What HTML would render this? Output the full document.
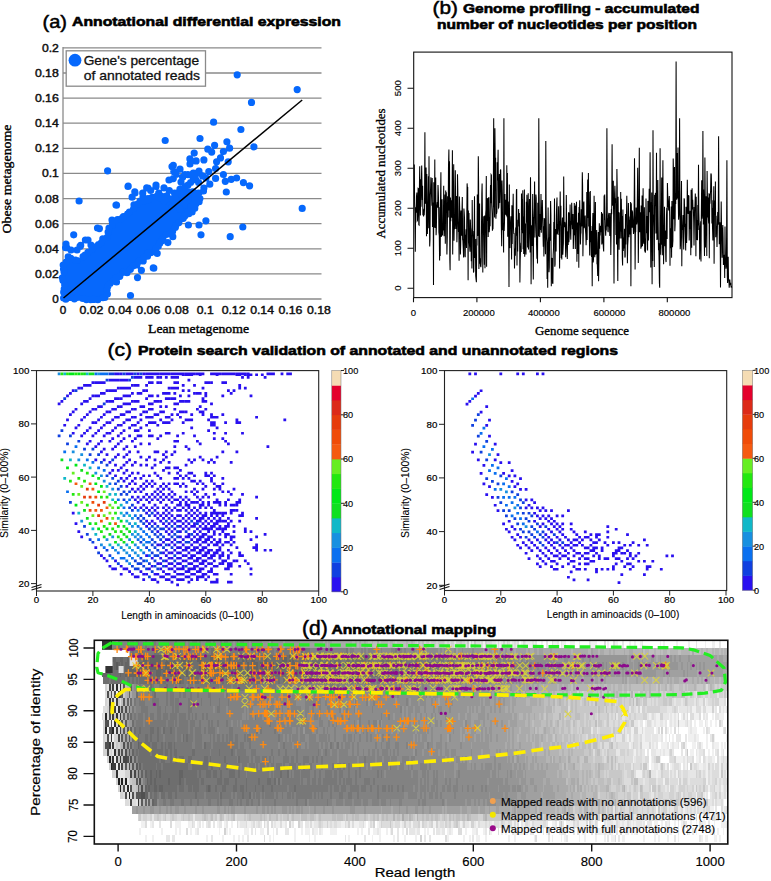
<!DOCTYPE html>
<html><head><meta charset="utf-8"><style>html,body{margin:0;padding:0;background:#fff;overflow:hidden}svg{display:block}</style></head><body>
<svg width="771" height="881" viewBox="0 0 771 881" style="font-family:'Liberation Sans',sans-serif">
<text x="42.5" y="27.5" font-size="19" textLength="24.5" lengthAdjust="spacingAndGlyphs" stroke="#000" stroke-width="0.5">(a)</text>
<text x="72" y="26.3" font-size="13.2" font-weight="bold" textLength="269" lengthAdjust="spacingAndGlyphs" stroke="#000" stroke-width="0.6">Annotational differential expression</text>
<path d="M63 299H321.5M63 273.9H321.5M63 248.8H321.5M63 223.7H321.5M63 198.6H321.5M63 173.4H321.5M63 148.3H321.5M63 123.2H321.5M63 98.1H321.5M63 73H321.5M63 47.9H321.5" stroke="#8a8a8a" stroke-width="1.3" fill="none"/>
<path d="M63 47H63V299.5" stroke="#8a8a8a" stroke-width="1.3" fill="none"/>
<text x="58.8" y="302.9" font-size="11" text-anchor="end" fill="#111" textLength="6.5" lengthAdjust="spacingAndGlyphs" stroke="#111" stroke-width="0.45">0</text>
<text x="58.8" y="277.8" font-size="11" text-anchor="end" fill="#111" textLength="23.9" lengthAdjust="spacingAndGlyphs" stroke="#111" stroke-width="0.45">0.02</text>
<text x="58.8" y="252.7" font-size="11" text-anchor="end" fill="#111" textLength="23.9" lengthAdjust="spacingAndGlyphs" stroke="#111" stroke-width="0.45">0.04</text>
<text x="58.8" y="227.6" font-size="11" text-anchor="end" fill="#111" textLength="23.9" lengthAdjust="spacingAndGlyphs" stroke="#111" stroke-width="0.45">0.06</text>
<text x="58.8" y="202.5" font-size="11" text-anchor="end" fill="#111" textLength="23.9" lengthAdjust="spacingAndGlyphs" stroke="#111" stroke-width="0.45">0.08</text>
<text x="58.8" y="177.3" font-size="11" text-anchor="end" fill="#111" textLength="16.9" lengthAdjust="spacingAndGlyphs" stroke="#111" stroke-width="0.45">0.1</text>
<text x="58.8" y="152.2" font-size="11" text-anchor="end" fill="#111" textLength="23.9" lengthAdjust="spacingAndGlyphs" stroke="#111" stroke-width="0.45">0.12</text>
<text x="58.8" y="127.1" font-size="11" text-anchor="end" fill="#111" textLength="23.9" lengthAdjust="spacingAndGlyphs" stroke="#111" stroke-width="0.45">0.14</text>
<text x="58.8" y="102" font-size="11" text-anchor="end" fill="#111" textLength="23.9" lengthAdjust="spacingAndGlyphs" stroke="#111" stroke-width="0.45">0.16</text>
<text x="58.8" y="76.9" font-size="11" text-anchor="end" fill="#111" textLength="23.9" lengthAdjust="spacingAndGlyphs" stroke="#111" stroke-width="0.45">0.18</text>
<text x="58.8" y="51.8" font-size="11" text-anchor="end" fill="#111" textLength="16.9" lengthAdjust="spacingAndGlyphs" stroke="#111" stroke-width="0.45">0.2</text>
<text x="63" y="314" font-size="11" text-anchor="middle" fill="#111" textLength="6.5" lengthAdjust="spacingAndGlyphs" stroke="#111" stroke-width="0.45">0</text>
<text x="91.4" y="314" font-size="11" text-anchor="middle" fill="#111" textLength="23.9" lengthAdjust="spacingAndGlyphs" stroke="#111" stroke-width="0.45">0.02</text>
<text x="119.9" y="314" font-size="11" text-anchor="middle" fill="#111" textLength="23.9" lengthAdjust="spacingAndGlyphs" stroke="#111" stroke-width="0.45">0.04</text>
<text x="148.3" y="314" font-size="11" text-anchor="middle" fill="#111" textLength="23.9" lengthAdjust="spacingAndGlyphs" stroke="#111" stroke-width="0.45">0.06</text>
<text x="176.8" y="314" font-size="11" text-anchor="middle" fill="#111" textLength="23.9" lengthAdjust="spacingAndGlyphs" stroke="#111" stroke-width="0.45">0.08</text>
<text x="205.2" y="314" font-size="11" text-anchor="middle" fill="#111" textLength="16.9" lengthAdjust="spacingAndGlyphs" stroke="#111" stroke-width="0.45">0.1</text>
<text x="233.6" y="314" font-size="11" text-anchor="middle" fill="#111" textLength="23.9" lengthAdjust="spacingAndGlyphs" stroke="#111" stroke-width="0.45">0.12</text>
<text x="262.1" y="314" font-size="11" text-anchor="middle" fill="#111" textLength="23.9" lengthAdjust="spacingAndGlyphs" stroke="#111" stroke-width="0.45">0.14</text>
<text x="290.5" y="314" font-size="11" text-anchor="middle" fill="#111" textLength="23.9" lengthAdjust="spacingAndGlyphs" stroke="#111" stroke-width="0.45">0.16</text>
<text x="319" y="314" font-size="11" text-anchor="middle" fill="#111" textLength="23.9" lengthAdjust="spacingAndGlyphs" stroke="#111" stroke-width="0.45">0.18</text>
<text x="198.5" y="332.7" font-size="12.5" text-anchor="middle" style='font-family:"Liberation Serif", serif' textLength="101" lengthAdjust="spacingAndGlyphs" stroke="#000" stroke-width="0.35">Lean metagenome</text>
<text x="11" y="179" font-size="12.5" text-anchor="middle" style='font-family:"Liberation Serif", serif' textLength="109" lengthAdjust="spacingAndGlyphs" transform="rotate(-90 11 179)" stroke="#000" stroke-width="0.35">Obese metagenome</text>
<path d="M63.9 264.8L63.2 298.6L105.7 298.6L106.9 288.6L107 288.2L107.1 287.9L107.2 287.6L107.4 287.3L107.6 287L114.6 277.6L114.8 277.3L115 277.1L115.2 276.9L115.5 276.7L115.8 276.6L126.4 271.3L132.3 266.8L132.6 266.6L140 262.2L145.9 255.5L146.1 255.3L146.3 255.1L146.6 254.9L157.9 247.8L160.8 239L160.9 238.7L161 238.4L161.2 238.1L161.4 237.8L161.6 237.6L161.9 237.4L162.1 237.2L162.4 237L162.7 236.9L163 236.8L172.3 233.9L177.6 223.5L177.7 223.2L178 222.9L178.2 222.6L186 214.9L186.3 214.7L186.5 214.4L186.8 214.3L193 211.1L195.4 200.5L191.5 193.4L185.4 189.6L179.7 191.1L174.4 196.4L174.1 196.6L173.8 196.9L173.5 197L167.5 200L167.2 200.2L166.9 200.3L166.5 200.4L166.2 200.4L165.8 200.4L165.5 200.4L165.1 200.3L164.8 200.2L164.5 200L157.6 196.6L151.1 198.2L142.8 202.1L142.5 202.2L142.2 202.3L135.2 203.9L132.8 209.4L132.6 209.7L132.4 210L132.2 210.3L132 210.5L125.8 216L125.5 216.2L125.3 216.4L125 216.5L118.8 219.6L118.4 219.8L112.9 221.6L110.2 228L110.2 228.1L106.3 236.7L106.1 237L105.9 237.3L105.7 237.6L105.5 237.8L97.8 244.8L97.6 245L89.9 251.1L83.8 256.5L83.5 256.7L83.3 256.9L83 257.1L78.3 259.4L78 259.5L77.6 259.6L77.3 259.7L77 259.7L76.6 259.7L76.3 259.7L75.9 259.6L75.6 259.5L75.3 259.3L70.2 256.8L66.9 257.6L65.2 262.2L65 262.5L63.9 264.8Z" fill="#0668fc"/>
<path d="M233.6 74.8a3.6 3.6 0 1 0 7.2 0a3.6 3.6 0 1 0-7.2 0M293.6 89.6a3.6 3.6 0 1 0 7.2 0a3.6 3.6 0 1 0-7.2 0M247.9 102.4a3.6 3.6 0 1 0 7.2 0a3.6 3.6 0 1 0-7.2 0M210 122.2a3.6 3.6 0 1 0 7.2 0a3.6 3.6 0 1 0-7.2 0M237.3 129.5a3.6 3.6 0 1 0 7.2 0a3.6 3.6 0 1 0-7.2 0M161.6 140.5a3.6 3.6 0 1 0 7.2 0a3.6 3.6 0 1 0-7.2 0M196.4 138.5a3.6 3.6 0 1 0 7.2 0a3.6 3.6 0 1 0-7.2 0M223.3 141.8a3.6 3.6 0 1 0 7.2 0a3.6 3.6 0 1 0-7.2 0M211 145.3a3.6 3.6 0 1 0 7.2 0a3.6 3.6 0 1 0-7.2 0M226 148.2a3.6 3.6 0 1 0 7.2 0a3.6 3.6 0 1 0-7.2 0M250.3 146.8a3.6 3.6 0 1 0 7.2 0a3.6 3.6 0 1 0-7.2 0M204.2 149.2a3.6 3.6 0 1 0 7.2 0a3.6 3.6 0 1 0-7.2 0M208.1 152.1a3.6 3.6 0 1 0 7.2 0a3.6 3.6 0 1 0-7.2 0M190.6 153.1a3.6 3.6 0 1 0 7.2 0a3.6 3.6 0 1 0-7.2 0M219.8 151.5a3.6 3.6 0 1 0 7.2 0a3.6 3.6 0 1 0-7.2 0M186.3 158.9a3.6 3.6 0 1 0 7.2 0a3.6 3.6 0 1 0-7.2 0M192.5 160.9a3.6 3.6 0 1 0 7.2 0a3.6 3.6 0 1 0-7.2 0M200.3 159.9a3.6 3.6 0 1 0 7.2 0a3.6 3.6 0 1 0-7.2 0M216.9 157.9a3.6 3.6 0 1 0 7.2 0a3.6 3.6 0 1 0-7.2 0M213 161.8a3.6 3.6 0 1 0 7.2 0a3.6 3.6 0 1 0-7.2 0M224.6 161.8a3.6 3.6 0 1 0 7.2 0a3.6 3.6 0 1 0-7.2 0M170.2 171.6a3.6 3.6 0 1 0 7.2 0a3.6 3.6 0 1 0-7.2 0M205.2 171.6a3.6 3.6 0 1 0 7.2 0a3.6 3.6 0 1 0-7.2 0M212 168.6a3.6 3.6 0 1 0 7.2 0a3.6 3.6 0 1 0-7.2 0M219.8 174.5a3.6 3.6 0 1 0 7.2 0a3.6 3.6 0 1 0-7.2 0M212 178.4a3.6 3.6 0 1 0 7.2 0a3.6 3.6 0 1 0-7.2 0M221.7 181.3a3.6 3.6 0 1 0 7.2 0a3.6 3.6 0 1 0-7.2 0M227.6 179.3a3.6 3.6 0 1 0 7.2 0a3.6 3.6 0 1 0-7.2 0M233 178a3.6 3.6 0 1 0 7.2 0a3.6 3.6 0 1 0-7.2 0M239.8 182.6a3.6 3.6 0 1 0 7.2 0a3.6 3.6 0 1 0-7.2 0M246 185.8a3.6 3.6 0 1 0 7.2 0a3.6 3.6 0 1 0-7.2 0M206.2 184.2a3.6 3.6 0 1 0 7.2 0a3.6 3.6 0 1 0-7.2 0M200.3 188.1a3.6 3.6 0 1 0 7.2 0a3.6 3.6 0 1 0-7.2 0M199.9 191a3.6 3.6 0 1 0 7.2 0a3.6 3.6 0 1 0-7.2 0M222.7 192a3.6 3.6 0 1 0 7.2 0a3.6 3.6 0 1 0-7.2 0M194.5 197.8a3.6 3.6 0 1 0 7.2 0a3.6 3.6 0 1 0-7.2 0M195.5 201.7a3.6 3.6 0 1 0 7.2 0a3.6 3.6 0 1 0-7.2 0M188.7 209.5a3.6 3.6 0 1 0 7.2 0a3.6 3.6 0 1 0-7.2 0M184.8 225a3.6 3.6 0 1 0 7.2 0a3.6 3.6 0 1 0-7.2 0M195.4 225a3.6 3.6 0 1 0 7.2 0a3.6 3.6 0 1 0-7.2 0M202.3 220.8a3.6 3.6 0 1 0 7.2 0a3.6 3.6 0 1 0-7.2 0M197.4 234.8a3.6 3.6 0 1 0 7.2 0a3.6 3.6 0 1 0-7.2 0M226.6 236.7a3.6 3.6 0 1 0 7.2 0a3.6 3.6 0 1 0-7.2 0M239.2 227a3.6 3.6 0 1 0 7.2 0a3.6 3.6 0 1 0-7.2 0M298.6 208.4a3.6 3.6 0 1 0 7.2 0a3.6 3.6 0 1 0-7.2 0M75.5 201a3.6 3.6 0 1 0 7.2 0a3.6 3.6 0 1 0-7.2 0M124.6 186.2a3.6 3.6 0 1 0 7.2 0a3.6 3.6 0 1 0-7.2 0M112.9 205.2a3.6 3.6 0 1 0 7.2 0a3.6 3.6 0 1 0-7.2 0M95.8 228.6a3.6 3.6 0 1 0 7.2 0a3.6 3.6 0 1 0-7.2 0M70.1 234.8a3.6 3.6 0 1 0 7.2 0a3.6 3.6 0 1 0-7.2 0M63.1 247.7a3.6 3.6 0 1 0 7.2 0a3.6 3.6 0 1 0-7.2 0M81.8 240a3.6 3.6 0 1 0 7.2 0a3.6 3.6 0 1 0-7.2 0M77.1 245.4a3.6 3.6 0 1 0 7.2 0a3.6 3.6 0 1 0-7.2 0M126.9 295.5a3.6 3.6 0 1 0 7.2 0a3.6 3.6 0 1 0-7.2 0M133.9 277.6a3.6 3.6 0 1 0 7.2 0a3.6 3.6 0 1 0-7.2 0M137.8 270.3a3.6 3.6 0 1 0 7.2 0a3.6 3.6 0 1 0-7.2 0M150.2 268.2a3.6 3.6 0 1 0 7.2 0a3.6 3.6 0 1 0-7.2 0M112.9 282a3.6 3.6 0 1 0 7.2 0a3.6 3.6 0 1 0-7.2 0M104 170.8a3.6 3.6 0 1 0 7.2 0a3.6 3.6 0 1 0-7.2 0M143.9 256.2a3.6 3.6 0 1 0 7.2 0a3.6 3.6 0 1 0-7.2 0M149.7 267.9a3.6 3.6 0 1 0 7.2 0a3.6 3.6 0 1 0-7.2 0M153.6 253.3a3.6 3.6 0 1 0 7.2 0a3.6 3.6 0 1 0-7.2 0M164.3 242.6a3.6 3.6 0 1 0 7.2 0a3.6 3.6 0 1 0-7.2 0M169.2 236.7a3.6 3.6 0 1 0 7.2 0a3.6 3.6 0 1 0-7.2 0M62.4 244a3.6 3.6 0 1 0 7.2 0a3.6 3.6 0 1 0-7.2 0M87.4 245a3.6 3.6 0 1 0 7.2 0a3.6 3.6 0 1 0-7.2 0M73.4 250a3.6 3.6 0 1 0 7.2 0a3.6 3.6 0 1 0-7.2 0M144.4 188a3.6 3.6 0 1 0 7.2 0a3.6 3.6 0 1 0-7.2 0M152.4 185a3.6 3.6 0 1 0 7.2 0a3.6 3.6 0 1 0-7.2 0M160.4 188a3.6 3.6 0 1 0 7.2 0a3.6 3.6 0 1 0-7.2 0M131.4 193a3.6 3.6 0 1 0 7.2 0a3.6 3.6 0 1 0-7.2 0M139.4 197a3.6 3.6 0 1 0 7.2 0a3.6 3.6 0 1 0-7.2 0M168.4 166.6a3.6 3.6 0 1 0 7.2 0a3.6 3.6 0 1 0-7.2 0M172.4 174.5a3.6 3.6 0 1 0 7.2 0a3.6 3.6 0 1 0-7.2 0M181.4 174.5a3.6 3.6 0 1 0 7.2 0a3.6 3.6 0 1 0-7.2 0M189.4 177a3.6 3.6 0 1 0 7.2 0a3.6 3.6 0 1 0-7.2 0M195 182.5a3.6 3.6 0 1 0 7.2 0a3.6 3.6 0 1 0-7.2 0M184.4 185a3.6 3.6 0 1 0 7.2 0a3.6 3.6 0 1 0-7.2 0M176.4 190.5a3.6 3.6 0 1 0 7.2 0a3.6 3.6 0 1 0-7.2 0M165.4 180a3.6 3.6 0 1 0 7.2 0a3.6 3.6 0 1 0-7.2 0M157.8 196a3.6 3.6 0 1 0 7.2 0a3.6 3.6 0 1 0-7.2 0M124.4 186.5a3.6 3.6 0 1 0 7.2 0a3.6 3.6 0 1 0-7.2 0M112.4 205a3.6 3.6 0 1 0 7.2 0a3.6 3.6 0 1 0-7.2 0M108.4 220a3.6 3.6 0 1 0 7.2 0a3.6 3.6 0 1 0-7.2 0M93.9 228a3.6 3.6 0 1 0 7.2 0a3.6 3.6 0 1 0-7.2 0M84.4 240a3.6 3.6 0 1 0 7.2 0a3.6 3.6 0 1 0-7.2 0M76.4 246.4a3.6 3.6 0 1 0 7.2 0a3.6 3.6 0 1 0-7.2 0M67.4 250a3.6 3.6 0 1 0 7.2 0a3.6 3.6 0 1 0-7.2 0M62 247.7a3.6 3.6 0 1 0 7.2 0a3.6 3.6 0 1 0-7.2 0M202.4 178a3.6 3.6 0 1 0 7.2 0a3.6 3.6 0 1 0-7.2 0M195.4 171a3.6 3.6 0 1 0 7.2 0a3.6 3.6 0 1 0-7.2 0M186.4 164a3.6 3.6 0 1 0 7.2 0a3.6 3.6 0 1 0-7.2 0M177.4 182a3.6 3.6 0 1 0 7.2 0a3.6 3.6 0 1 0-7.2 0M169.7 165.3a3.6 3.6 0 1 0 7.2 0a3.6 3.6 0 1 0-7.2 0M171 171.9a3.6 3.6 0 1 0 7.2 0a3.6 3.6 0 1 0-7.2 0M176.4 169.2a3.6 3.6 0 1 0 7.2 0a3.6 3.6 0 1 0-7.2 0M169.7 178.6a3.6 3.6 0 1 0 7.2 0a3.6 3.6 0 1 0-7.2 0M179 177.2a3.6 3.6 0 1 0 7.2 0a3.6 3.6 0 1 0-7.2 0M184.3 174.6a3.6 3.6 0 1 0 7.2 0a3.6 3.6 0 1 0-7.2 0M189.7 173.2a3.6 3.6 0 1 0 7.2 0a3.6 3.6 0 1 0-7.2 0M195 173.2a3.6 3.6 0 1 0 7.2 0a3.6 3.6 0 1 0-7.2 0M199 175.9a3.6 3.6 0 1 0 7.2 0a3.6 3.6 0 1 0-7.2 0M192.3 179.9a3.6 3.6 0 1 0 7.2 0a3.6 3.6 0 1 0-7.2 0M187 182.5a3.6 3.6 0 1 0 7.2 0a3.6 3.6 0 1 0-7.2 0M181.7 186.5a3.6 3.6 0 1 0 7.2 0a3.6 3.6 0 1 0-7.2 0M176.4 189.2a3.6 3.6 0 1 0 7.2 0a3.6 3.6 0 1 0-7.2 0M171 193.2a3.6 3.6 0 1 0 7.2 0a3.6 3.6 0 1 0-7.2 0M165.7 190.5a3.6 3.6 0 1 0 7.2 0a3.6 3.6 0 1 0-7.2 0M163.1 195.8a3.6 3.6 0 1 0 7.2 0a3.6 3.6 0 1 0-7.2 0M179 197.2a3.6 3.6 0 1 0 7.2 0a3.6 3.6 0 1 0-7.2 0M189.7 191.8a3.6 3.6 0 1 0 7.2 0a3.6 3.6 0 1 0-7.2 0M195 193.2a3.6 3.6 0 1 0 7.2 0a3.6 3.6 0 1 0-7.2 0M196.3 198.5a3.6 3.6 0 1 0 7.2 0a3.6 3.6 0 1 0-7.2 0M192.3 203.8a3.6 3.6 0 1 0 7.2 0a3.6 3.6 0 1 0-7.2 0M187 206.5a3.6 3.6 0 1 0 7.2 0a3.6 3.6 0 1 0-7.2 0M184.3 211.8a3.6 3.6 0 1 0 7.2 0a3.6 3.6 0 1 0-7.2 0M176.4 209.1a3.6 3.6 0 1 0 7.2 0a3.6 3.6 0 1 0-7.2 0M168.4 206.5a3.6 3.6 0 1 0 7.2 0a3.6 3.6 0 1 0-7.2 0M172.4 201.2a3.6 3.6 0 1 0 7.2 0a3.6 3.6 0 1 0-7.2 0M160.4 187.9a3.6 3.6 0 1 0 7.2 0a3.6 3.6 0 1 0-7.2 0M152.4 186.5a3.6 3.6 0 1 0 7.2 0a3.6 3.6 0 1 0-7.2 0M147.1 190.5a3.6 3.6 0 1 0 7.2 0a3.6 3.6 0 1 0-7.2 0M143.1 187.9a3.6 3.6 0 1 0 7.2 0a3.6 3.6 0 1 0-7.2 0M139.1 193.2a3.6 3.6 0 1 0 7.2 0a3.6 3.6 0 1 0-7.2 0M131.2 191.8a3.6 3.6 0 1 0 7.2 0a3.6 3.6 0 1 0-7.2 0M128.5 197.2a3.6 3.6 0 1 0 7.2 0a3.6 3.6 0 1 0-7.2 0M136.5 201.2a3.6 3.6 0 1 0 7.2 0a3.6 3.6 0 1 0-7.2 0M144.5 198.5a3.6 3.6 0 1 0 7.2 0a3.6 3.6 0 1 0-7.2 0M155.1 193.2a3.6 3.6 0 1 0 7.2 0a3.6 3.6 0 1 0-7.2 0M59.6 265a3.6 3.6 0 1 0 7.2 0a3.6 3.6 0 1 0-7.2 0M59.9 269.1a3.6 3.6 0 1 0 7.2 0a3.6 3.6 0 1 0-7.2 0M60.4 271.8a3.6 3.6 0 1 0 7.2 0a3.6 3.6 0 1 0-7.2 0M58.8 277.8a3.6 3.6 0 1 0 7.2 0a3.6 3.6 0 1 0-7.2 0M59.3 280.3a3.6 3.6 0 1 0 7.2 0a3.6 3.6 0 1 0-7.2 0M61.1 284.9a3.6 3.6 0 1 0 7.2 0a3.6 3.6 0 1 0-7.2 0M60.6 289a3.6 3.6 0 1 0 7.2 0a3.6 3.6 0 1 0-7.2 0M60.1 292.2a3.6 3.6 0 1 0 7.2 0a3.6 3.6 0 1 0-7.2 0M60 298.1a3.6 3.6 0 1 0 7.2 0a3.6 3.6 0 1 0-7.2 0M62.2 299.2a3.6 3.6 0 1 0 7.2 0a3.6 3.6 0 1 0-7.2 0M66.6 297.5a3.6 3.6 0 1 0 7.2 0a3.6 3.6 0 1 0-7.2 0M70.8 298.8a3.6 3.6 0 1 0 7.2 0a3.6 3.6 0 1 0-7.2 0M73.7 297.4a3.6 3.6 0 1 0 7.2 0a3.6 3.6 0 1 0-7.2 0M79.2 298.5a3.6 3.6 0 1 0 7.2 0a3.6 3.6 0 1 0-7.2 0M82.8 299.6a3.6 3.6 0 1 0 7.2 0a3.6 3.6 0 1 0-7.2 0M86.9 299.7a3.6 3.6 0 1 0 7.2 0a3.6 3.6 0 1 0-7.2 0M90.1 299.4a3.6 3.6 0 1 0 7.2 0a3.6 3.6 0 1 0-7.2 0M94.2 299.7a3.6 3.6 0 1 0 7.2 0a3.6 3.6 0 1 0-7.2 0M99.4 297.6a3.6 3.6 0 1 0 7.2 0a3.6 3.6 0 1 0-7.2 0M101.2 297.5a3.6 3.6 0 1 0 7.2 0a3.6 3.6 0 1 0-7.2 0M103.8 294.1a3.6 3.6 0 1 0 7.2 0a3.6 3.6 0 1 0-7.2 0M103.4 289.7a3.6 3.6 0 1 0 7.2 0a3.6 3.6 0 1 0-7.2 0M104.3 286.2a3.6 3.6 0 1 0 7.2 0a3.6 3.6 0 1 0-7.2 0M106.4 283.5a3.6 3.6 0 1 0 7.2 0a3.6 3.6 0 1 0-7.2 0M109.4 281.1a3.6 3.6 0 1 0 7.2 0a3.6 3.6 0 1 0-7.2 0M112.1 278a3.6 3.6 0 1 0 7.2 0a3.6 3.6 0 1 0-7.2 0M116.2 276.3a3.6 3.6 0 1 0 7.2 0a3.6 3.6 0 1 0-7.2 0M119.3 272.4a3.6 3.6 0 1 0 7.2 0a3.6 3.6 0 1 0-7.2 0M123.4 272.7a3.6 3.6 0 1 0 7.2 0a3.6 3.6 0 1 0-7.2 0M126.8 269.3a3.6 3.6 0 1 0 7.2 0a3.6 3.6 0 1 0-7.2 0M129.5 265.9a3.6 3.6 0 1 0 7.2 0a3.6 3.6 0 1 0-7.2 0M133.3 264.8a3.6 3.6 0 1 0 7.2 0a3.6 3.6 0 1 0-7.2 0M135.3 261.3a3.6 3.6 0 1 0 7.2 0a3.6 3.6 0 1 0-7.2 0M139.6 260.9a3.6 3.6 0 1 0 7.2 0a3.6 3.6 0 1 0-7.2 0M140.3 257.4a3.6 3.6 0 1 0 7.2 0a3.6 3.6 0 1 0-7.2 0M144.2 253.1a3.6 3.6 0 1 0 7.2 0a3.6 3.6 0 1 0-7.2 0M147.3 252.6a3.6 3.6 0 1 0 7.2 0a3.6 3.6 0 1 0-7.2 0M152.2 248.6a3.6 3.6 0 1 0 7.2 0a3.6 3.6 0 1 0-7.2 0M154.7 246.3a3.6 3.6 0 1 0 7.2 0a3.6 3.6 0 1 0-7.2 0M156.2 243.2a3.6 3.6 0 1 0 7.2 0a3.6 3.6 0 1 0-7.2 0M157.9 241a3.6 3.6 0 1 0 7.2 0a3.6 3.6 0 1 0-7.2 0M159.3 238.1a3.6 3.6 0 1 0 7.2 0a3.6 3.6 0 1 0-7.2 0M162.7 234.5a3.6 3.6 0 1 0 7.2 0a3.6 3.6 0 1 0-7.2 0M167.3 233.2a3.6 3.6 0 1 0 7.2 0a3.6 3.6 0 1 0-7.2 0M169 231.6a3.6 3.6 0 1 0 7.2 0a3.6 3.6 0 1 0-7.2 0M171.8 227.3a3.6 3.6 0 1 0 7.2 0a3.6 3.6 0 1 0-7.2 0M172.2 225.6a3.6 3.6 0 1 0 7.2 0a3.6 3.6 0 1 0-7.2 0M175.3 222.6a3.6 3.6 0 1 0 7.2 0a3.6 3.6 0 1 0-7.2 0M179.7 218.3a3.6 3.6 0 1 0 7.2 0a3.6 3.6 0 1 0-7.2 0M181.4 215.8a3.6 3.6 0 1 0 7.2 0a3.6 3.6 0 1 0-7.2 0M185.2 213.7a3.6 3.6 0 1 0 7.2 0a3.6 3.6 0 1 0-7.2 0M188.5 212a3.6 3.6 0 1 0 7.2 0a3.6 3.6 0 1 0-7.2 0M191.2 208.3a3.6 3.6 0 1 0 7.2 0a3.6 3.6 0 1 0-7.2 0M190.8 205a3.6 3.6 0 1 0 7.2 0a3.6 3.6 0 1 0-7.2 0M191.1 199.9a3.6 3.6 0 1 0 7.2 0a3.6 3.6 0 1 0-7.2 0M191.1 197a3.6 3.6 0 1 0 7.2 0a3.6 3.6 0 1 0-7.2 0M188 192.1a3.6 3.6 0 1 0 7.2 0a3.6 3.6 0 1 0-7.2 0M184.2 191.5a3.6 3.6 0 1 0 7.2 0a3.6 3.6 0 1 0-7.2 0M179.6 190.2a3.6 3.6 0 1 0 7.2 0a3.6 3.6 0 1 0-7.2 0M177.3 189.7a3.6 3.6 0 1 0 7.2 0a3.6 3.6 0 1 0-7.2 0M174.2 193.2a3.6 3.6 0 1 0 7.2 0a3.6 3.6 0 1 0-7.2 0M171.5 195.8a3.6 3.6 0 1 0 7.2 0a3.6 3.6 0 1 0-7.2 0M168.1 198.8a3.6 3.6 0 1 0 7.2 0a3.6 3.6 0 1 0-7.2 0M162.7 198.9a3.6 3.6 0 1 0 7.2 0a3.6 3.6 0 1 0-7.2 0M160.6 200.9a3.6 3.6 0 1 0 7.2 0a3.6 3.6 0 1 0-7.2 0M155.9 197.8a3.6 3.6 0 1 0 7.2 0a3.6 3.6 0 1 0-7.2 0M153.1 196.4a3.6 3.6 0 1 0 7.2 0a3.6 3.6 0 1 0-7.2 0M148.6 197.4a3.6 3.6 0 1 0 7.2 0a3.6 3.6 0 1 0-7.2 0M144.8 199.6a3.6 3.6 0 1 0 7.2 0a3.6 3.6 0 1 0-7.2 0M141 200.7a3.6 3.6 0 1 0 7.2 0a3.6 3.6 0 1 0-7.2 0M138.5 201.3a3.6 3.6 0 1 0 7.2 0a3.6 3.6 0 1 0-7.2 0M134 204a3.6 3.6 0 1 0 7.2 0a3.6 3.6 0 1 0-7.2 0M130.4 204.8a3.6 3.6 0 1 0 7.2 0a3.6 3.6 0 1 0-7.2 0M130.1 208.5a3.6 3.6 0 1 0 7.2 0a3.6 3.6 0 1 0-7.2 0M125.8 212a3.6 3.6 0 1 0 7.2 0a3.6 3.6 0 1 0-7.2 0M124.1 213.8a3.6 3.6 0 1 0 7.2 0a3.6 3.6 0 1 0-7.2 0M119.8 216.7a3.6 3.6 0 1 0 7.2 0a3.6 3.6 0 1 0-7.2 0M117.5 218.8a3.6 3.6 0 1 0 7.2 0a3.6 3.6 0 1 0-7.2 0M113.9 219.6a3.6 3.6 0 1 0 7.2 0a3.6 3.6 0 1 0-7.2 0M108.8 222.2a3.6 3.6 0 1 0 7.2 0a3.6 3.6 0 1 0-7.2 0M108.7 225.4a3.6 3.6 0 1 0 7.2 0a3.6 3.6 0 1 0-7.2 0M105.4 228.2a3.6 3.6 0 1 0 7.2 0a3.6 3.6 0 1 0-7.2 0M104.5 232.1a3.6 3.6 0 1 0 7.2 0a3.6 3.6 0 1 0-7.2 0M103.6 237.4a3.6 3.6 0 1 0 7.2 0a3.6 3.6 0 1 0-7.2 0M99.2 238.9a3.6 3.6 0 1 0 7.2 0a3.6 3.6 0 1 0-7.2 0M97.9 242.6a3.6 3.6 0 1 0 7.2 0a3.6 3.6 0 1 0-7.2 0M94.9 244.5a3.6 3.6 0 1 0 7.2 0a3.6 3.6 0 1 0-7.2 0M89.9 246.9a3.6 3.6 0 1 0 7.2 0a3.6 3.6 0 1 0-7.2 0M88.5 249.3a3.6 3.6 0 1 0 7.2 0a3.6 3.6 0 1 0-7.2 0M84.3 252.3a3.6 3.6 0 1 0 7.2 0a3.6 3.6 0 1 0-7.2 0M81.4 255a3.6 3.6 0 1 0 7.2 0a3.6 3.6 0 1 0-7.2 0M79.5 256.6a3.6 3.6 0 1 0 7.2 0a3.6 3.6 0 1 0-7.2 0M73.5 260.5a3.6 3.6 0 1 0 7.2 0a3.6 3.6 0 1 0-7.2 0M71.9 260.2a3.6 3.6 0 1 0 7.2 0a3.6 3.6 0 1 0-7.2 0M67.2 258.3a3.6 3.6 0 1 0 7.2 0a3.6 3.6 0 1 0-7.2 0M64.6 256.8a3.6 3.6 0 1 0 7.2 0a3.6 3.6 0 1 0-7.2 0M62.6 262a3.6 3.6 0 1 0 7.2 0a3.6 3.6 0 1 0-7.2 0" fill="#0668fc"/>
<path d="M63.5 298L302.2 100" stroke="#000" stroke-width="1.5"/>
<rect x="66.2" y="50.8" width="139.3" height="35.4" fill="#fff" stroke="#8a8a8a" stroke-width="1.3"/>
<circle cx="75" cy="60.2" r="6.4" fill="#0668fc"/>
<text x="83.7" y="65" font-size="13" fill="#111" textLength="115.4" lengthAdjust="spacingAndGlyphs" stroke="#111" stroke-width="0.3">Gene's percentage</text>
<text x="83.7" y="79.6" font-size="13" fill="#111" textLength="116.3" lengthAdjust="spacingAndGlyphs" stroke="#111" stroke-width="0.3">of annotated reads</text>
<text x="432.6" y="14" font-size="19" textLength="25.4" lengthAdjust="spacingAndGlyphs" stroke="#000" stroke-width="0.5">(b)</text>
<text x="463" y="13.2" font-size="12.8" font-weight="bold" textLength="236.4" lengthAdjust="spacingAndGlyphs" stroke="#000" stroke-width="0.6">Genome profiling - accumulated</text>
<text x="437" y="29.2" font-size="12.8" font-weight="bold" textLength="260" lengthAdjust="spacingAndGlyphs" stroke="#000" stroke-width="0.6">number of nucleotides per position</text>
<rect x="413.7" y="52.1" width="318.3" height="245.5" fill="none" stroke="#111" stroke-width="1.1"/>
<path d="M407.5 288.2H413.7M407.5 248.2H413.7M407.5 208.2H413.7M407.5 168.2H413.7M407.5 128.2H413.7M407.5 88.2H413.7M413.5 297.6V302.3M476.9 297.6V302.3M540.4 297.6V302.3M603.9 297.6V302.3M667.3 297.6V302.3" stroke="#111" stroke-width="1.1" fill="none"/>
<text x="401.2" y="288.2" font-size="9.5" text-anchor="middle" textLength="5.3" lengthAdjust="spacingAndGlyphs" transform="rotate(-90 401.2 288.2)" stroke="#000" stroke-width="0.15">0</text>
<text x="401.2" y="248.2" font-size="9.5" text-anchor="middle" textLength="15.9" lengthAdjust="spacingAndGlyphs" transform="rotate(-90 401.2 248.2)" stroke="#000" stroke-width="0.15">100</text>
<text x="401.2" y="208.2" font-size="9.5" text-anchor="middle" textLength="15.9" lengthAdjust="spacingAndGlyphs" transform="rotate(-90 401.2 208.2)" stroke="#000" stroke-width="0.15">200</text>
<text x="401.2" y="168.2" font-size="9.5" text-anchor="middle" textLength="15.9" lengthAdjust="spacingAndGlyphs" transform="rotate(-90 401.2 168.2)" stroke="#000" stroke-width="0.15">300</text>
<text x="401.2" y="128.2" font-size="9.5" text-anchor="middle" textLength="15.9" lengthAdjust="spacingAndGlyphs" transform="rotate(-90 401.2 128.2)" stroke="#000" stroke-width="0.15">400</text>
<text x="401.2" y="88.2" font-size="9.5" text-anchor="middle" textLength="15.9" lengthAdjust="spacingAndGlyphs" transform="rotate(-90 401.2 88.2)" stroke="#000" stroke-width="0.15">500</text>
<text x="413.5" y="316.2" font-size="9.5" text-anchor="middle" textLength="5.3" lengthAdjust="spacingAndGlyphs" stroke="#000" stroke-width="0.15">0</text>
<text x="478.8" y="316.2" font-size="9.5" text-anchor="middle" textLength="31.8" lengthAdjust="spacingAndGlyphs" stroke="#000" stroke-width="0.15">200000</text>
<text x="543.8" y="316.2" font-size="9.5" text-anchor="middle" textLength="31.8" lengthAdjust="spacingAndGlyphs" stroke="#000" stroke-width="0.15">400000</text>
<text x="609.4" y="316.2" font-size="9.5" text-anchor="middle" textLength="31.8" lengthAdjust="spacingAndGlyphs" stroke="#000" stroke-width="0.15">600000</text>
<text x="674.4" y="316.2" font-size="9.5" text-anchor="middle" textLength="31.8" lengthAdjust="spacingAndGlyphs" stroke="#000" stroke-width="0.15">800000</text>
<text x="535" y="334.6" font-size="12.5" style='font-family:"Liberation Serif", serif' textLength="94" lengthAdjust="spacingAndGlyphs" stroke="#000" stroke-width="0.3">Genome sequence</text>
<text x="384.7" y="173.5" font-size="12.5" text-anchor="middle" style='font-family:"Liberation Serif", serif' textLength="130" lengthAdjust="spacingAndGlyphs" transform="rotate(-90 384.7 173.5)" stroke="#000" stroke-width="0.3">Accumulated nucleotides</text>
<path d="M414.3 164.6L414.6 203.7L414.9 211.2L415.3 251.8L415.6 207.3L415.9 208.6L416.2 212.7L416.5 196.4L416.9 192.5L417.2 220.8L417.5 220.3L417.8 212.7L418.1 188.4L418.5 188.7L418.8 224.8L419.1 225.1L419.4 188.5L419.7 166.3L420.1 199.6L420.4 215.5L420.7 179.3L421 206.7L421.3 186.7L421.7 165.5L422 184.8L422.3 199.9L422.6 185.7L422.9 215.2L423.3 208.7L423.6 216.5L423.9 209.7L424.2 215.2L424.5 209.5L424.9 132.2L425.2 203.3L425.5 203L425.8 197L426.1 167.5L426.5 236.2L426.8 173.9L427.1 207.7L427.4 234.1L427.7 212.5L428.1 204L428.4 176.2L428.7 228.3L429 156.2L429.3 203L429.7 246.5L430 239.3L430.3 194.6L430.6 188L430.9 177.2L431.3 191.7L431.6 197.3L431.9 205.7L432.2 177.9L432.5 226.9L432.9 216.3L433.2 202.4L433.5 285L433.8 182.2L434.1 227.7L434.5 216.8L434.8 159.4L435.1 227.1L435.4 227.8L435.7 177.5L436.1 235.2L436.4 227.5L436.7 205.3L437 205L437.3 202.1L437.7 207.7L438 185.1L438.3 191.4L438.6 202.6L438.9 232.2L439.3 235.8L439.6 260.5L439.9 207.3L440.2 256.1L440.5 201.8L440.9 172.3L441.2 236.9L441.5 235.4L441.8 230.8L442.1 199.3L442.5 235.4L442.8 223.2L443.1 230.4L443.4 225.1L443.7 185.7L444.1 236.2L444.4 218L444.7 210.8L445 194.5L445.3 243.8L445.7 190.5L446 203.1L446.3 192.3L446.6 212.7L446.9 254.5L447.3 235.7L447.6 196.2L447.9 213.6L448.2 217.4L448.5 166.5L448.9 149.6L449.2 210.5L449.5 161.3L449.8 258.9L450.1 270.2L450.5 197.5L450.8 221.3L451.1 200.9L451.4 200.8L451.7 217.8L452.1 197.9L452.4 150.2L452.7 254.6L453 215.2L453.3 212.3L453.7 164.2L454 240.8L454.3 220.1L454.6 229.2L454.9 223L455.3 170.3L455.6 202.8L455.9 229L456.2 215.5L456.5 196.1L456.9 242.2L457.2 228.4L457.5 174.3L457.8 189.5L458.1 218L458.5 232L458.8 225.3L459.1 260.7L459.4 196.5L459.7 208.7L460.1 216.5L460.4 254.5L460.7 244L461 210.4L461.3 215.1L461.7 235.8L462 211.4L462.3 197L462.6 239.5L462.9 240.7L463.3 249.4L463.6 257.5L463.9 208.6L464.2 212.3L464.5 218L464.9 256L465.2 257.2L465.5 234.8L465.8 241.1L466.1 229.3L466.5 247.9L466.8 216.6L467.1 183.4L467.4 187.5L467.7 186.9L468.1 280.2L468.4 210.4L468.7 241.5L469 212.9L469.3 242.2L469.7 247.6L470 251.7L470.3 219.4L470.6 227.3L470.9 230.4L471.3 261.2L471.6 234.9L471.9 268.6L472.2 200.1L472.5 235.6L472.9 230.9L473.2 238.1L473.5 272.6L473.8 271.3L474.1 240.4L474.5 196.2L474.8 258L475.1 254.7L475.4 239.1L475.7 275.8L476.1 279.8L476.4 282.2L476.7 238.7L477 245.6L477.3 194.6L477.7 235.9L478 226.1L478.3 156.2L478.6 183.9L478.9 268.9L479.3 247.9L479.6 203.6L479.9 263.7L480.2 258.2L480.5 265.7L480.9 267.2L481.2 261.2L481.5 228.4L481.8 194.5L482.1 183.4L482.5 223.1L482.8 272.4L483.1 232.3L483.4 234.1L483.7 216.2L484.1 226.2L484.4 264.7L484.7 215.6L485 268.2L485.3 241.4L485.7 214L486 209.6L486.3 176.1L486.6 266.8L486.9 213.1L487.3 197.9L487.6 221.1L487.9 198.8L488.2 237L488.5 198.6L488.9 197.2L489.2 232.2L489.5 228.5L489.8 217.3L490.1 226.3L490.5 184.9L490.8 203.3L491.1 174.7L491.4 175.2L491.7 204.4L492.1 213L492.4 230.7L492.7 229L493 228.5L493.3 200.6L493.7 118.2L494 207.1L494.3 201.7L494.6 217.5L494.9 128.2L495.3 167.1L495.6 157.7L495.9 218.8L496.2 210.9L496.5 214L496.9 211.8L497.2 162.3L497.5 180.5L497.8 166L498.1 149.8L498.5 207.9L498.8 207.4L499.1 201.8L499.4 174.1L499.7 202.9L500.1 186L500.4 170.3L500.7 169.4L501 190L501.3 224L501.7 246.3L502 180.5L502.3 193.1L502.6 230.2L502.9 224.1L503.3 222.8L503.6 252.5L503.9 118.2L504.2 231.1L504.5 222.1L504.9 194L505.2 214.8L505.5 199.9L505.8 202.4L506.1 214.2L506.5 215.5L506.8 165.3L507.1 217.2L507.4 173.1L507.7 236.8L508.1 201.5L508.4 214.2L508.7 238.3L509 287L509.3 184.4L509.7 246.3L510 248.1L510.3 222.4L510.6 222.1L510.9 216.3L511.3 229.5L511.6 259.6L511.9 205.3L512.2 243.9L512.5 221.6L512.9 210.4L513.2 193.7L513.5 228.2L513.8 233.9L514.1 233.1L514.5 268.6L514.8 248.5L515.1 252L515.4 255.7L515.7 227.4L516.1 235.7L516.4 190.5L516.7 189.1L517 265.5L517.3 231L517.7 251.6L518 219.8L518.3 226.5L518.6 209L518.9 222.4L519.3 213L519.6 235.9L519.9 282.6L520.2 260.3L520.5 251.2L520.9 242.7L521.2 252.1L521.5 193.6L521.8 229.7L522.1 198.9L522.5 233.2L522.8 190.3L523.1 249.3L523.4 216.5L523.7 254.1L524.1 220.2L524.4 189.4L524.7 256.8L525 247.9L525.3 223.4L525.7 230.3L526 254.6L526.3 201.7L526.6 222.4L526.9 194.8L527.3 214.9L527.6 247.6L527.9 237.1L528.2 193.2L528.5 249.4L528.9 236.2L529.2 211.2L529.5 198.9L529.8 202.2L530.1 252.5L530.5 177.3L530.8 223.5L531.1 284.2L531.4 225.2L531.7 230.1L532.1 246L532.4 234.4L532.7 194.1L533 251.2L533.3 279.5L533.7 218.2L534 217L534.3 207.3L534.6 181.4L534.9 237.5L535.3 223.3L535.6 213.8L535.9 194.5L536.2 197.9L536.5 242.5L536.9 258.7L537.2 236.5L537.5 263.6L537.8 202.8L538.1 234L538.5 236.4L538.8 118.2L539.1 190.8L539.4 217.4L539.7 236.9L540.1 214L540.4 229.9L540.7 214.3L541 193.9L541.3 232.8L541.7 217.5L542 217.1L542.3 199.9L542.6 212.8L542.9 229.3L543.3 246.8L543.6 226.3L543.9 256.4L544.2 218L544.5 230.6L544.9 218.8L545.2 244.9L545.5 254.3L545.8 141L546.1 207.2L546.5 237.9L546.8 241.6L547.1 278.9L547.4 242.2L547.7 287.8L548.1 207.5L548.4 240.3L548.7 237.6L549 272.2L549.3 267.2L549.7 223.8L550 240.7L550.3 225.6L550.6 201.1L550.9 215L551.3 286.2L551.6 261.8L551.9 263.2L552.2 257.9L552.5 282.6L552.9 283.8L553.2 255L553.5 248.6L553.8 222L554.1 238.8L554.5 198.5L554.8 266.8L555.1 264.1L555.4 229L555.7 236.7L556.1 251.5L556.4 215L556.7 203.9L557 197.6L557.3 234.4L557.7 230.2L558 224.3L558.3 227.2L558.6 206.2L558.9 235.1L559.3 221L559.6 268.6L559.9 216.2L560.2 191.6L560.5 225.6L560.9 205.8L561.2 258L561.5 238.4L561.8 259.4L562.1 225.4L562.5 217.5L562.8 254.6L563.1 248.5L563.4 243.1L563.7 176.6L564.1 226.3L564.4 227.2L564.7 222L565 223L565.3 234.7L565.7 257.3L566 247L566.3 194.9L566.6 221.7L566.9 237.8L567.3 259.1L567.6 235.5L567.9 231.4L568.2 245L568.5 212.2L568.9 242.1L569.2 236.5L569.5 212.5L569.8 224.5L570.1 204.6L570.5 233.1L570.8 239.7L571.1 221L571.4 224.7L571.7 202.8L572.1 218.2L572.4 229.3L572.7 219.6L573 213.9L573.3 248.9L573.7 233.8L574 235.6L574.3 203.1L574.6 234.9L574.9 205.9L575.3 249L575.6 230.8L575.9 204.4L576.2 229.6L576.5 201.7L576.9 261.8L577.2 229L577.5 222.5L577.8 227.5L578.1 253.9L578.5 212.8L578.8 267.7L579.1 207.1L579.4 215.5L579.7 200.3L580.1 225.8L580.4 244.6L580.7 234.7L581 232.5L581.3 209.2L581.7 226.4L582 212.1L582.3 172.2L582.6 186.3L582.9 256.2L583.3 231.5L583.6 204.6L583.9 201.5L584.2 228.3L584.5 224.8L584.9 220.7L585.2 215.6L585.5 230.5L585.8 234.4L586.1 245.2L586.5 232.4L586.8 192L587.1 240.1L587.4 204.6L587.7 179.4L588.1 218L588.4 173.1L588.7 226.6L589 191.9L589.3 228.4L589.7 255.5L590 227.7L590.3 191.1L590.6 242.3L590.9 226.1L591.3 255.3L591.6 256.9L591.9 231L592.2 286.2L592.5 229L592.9 212.9L593.2 262.5L593.5 259.1L593.8 245.7L594.1 195.8L594.5 248.3L594.8 257.3L595.1 240.2L595.4 202.1L595.7 253.9L596.1 253.5L596.4 246.4L596.7 230L597 264.2L597.3 262.7L597.7 276.1L598 243.7L598.3 232.1L598.6 281.3L598.9 257.1L599.3 223.3L599.6 248.7L599.9 231.4L600.2 235.5L600.5 225.7L600.9 228.7L601.2 232.1L601.5 212L601.8 244.6L602.1 235L602.5 213.5L602.8 243.2L603.1 242.4L603.4 248.3L603.7 251.5L604.1 195.6L604.4 220L604.7 194.6L605 213.9L605.3 228.2L605.7 235.7L606 225.7L606.3 230.5L606.6 210.9L606.9 128.2L607.3 226.5L607.6 218.2L607.9 231.2L608.2 232.2L608.5 215.3L608.9 212.9L609.2 226.7L609.5 225.7L609.8 235.9L610.1 212.9L610.5 225.5L610.8 254.9L611.1 232.8L611.4 209.2L611.7 214.2L612.1 144.2L612.4 205.5L612.7 204.7L613 204L613.3 180.7L613.7 223.3L614 283.4L614.3 223.4L614.6 193.8L614.9 185.8L615.3 202.6L615.6 198.2L615.9 235.1L616.2 205.6L616.5 244.6L616.9 168.9L617.2 187.2L617.5 250.8L617.8 281.1L618.1 196.7L618.5 238.5L618.8 212L619.1 249.7L619.4 225.5L619.7 238.4L620.1 212.7L620.4 231.5L620.7 192.1L621 238.5L621.3 198.7L621.7 225.2L622 215.9L622.3 258.1L622.6 265.6L622.9 209.4L623.3 251.1L623.6 238.7L623.9 237.4L624.2 248.5L624.5 228.7L624.9 257.5L625.2 256.3L625.5 214L625.8 244.5L626.1 216.2L626.5 214.9L626.8 195.7L627.1 216.9L627.4 263.3L627.7 245.5L628.1 239L628.4 202.9L628.7 218.8L629 237.2L629.3 219.7L629.7 234.4L630 216.4L630.3 223.3L630.6 202L630.9 286.2L631.3 203.3L631.6 224.8L631.9 210L632.2 227.8L632.5 211.4L632.9 219.2L633.2 227.5L633.5 234L633.8 231.5L634.1 214.4L634.5 158.2L634.8 199.5L635.1 269.5L635.4 232.5L635.7 231.6L636.1 207.5L636.4 217L636.7 224.3L637 222.3L637.3 202L637.7 167.7L638 209.8L638.3 263.1L638.6 236.3L638.9 215.8L639.3 147.7L639.6 231.4L639.9 232.1L640.2 212.3L640.5 215.7L640.9 248.7L641.2 205.4L641.5 247.3L641.8 231.6L642.1 195.5L642.5 246.2L642.8 232.9L643.1 188.3L643.4 225.5L643.7 243.8L644.1 237L644.4 207.3L644.7 251.4L645 238.6L645.3 252.8L645.7 249L646 198.4L646.3 223.7L646.6 233.2L646.9 216.1L647.3 238.2L647.6 250.4L647.9 200.9L648.2 202.2L648.5 240.5L648.9 210.2L649.2 188.8L649.5 210.2L649.8 212.2L650.1 152.2L650.5 231.7L650.8 267.4L651.1 202.2L651.4 228.1L651.7 192.6L652.1 284.2L652.4 205.4L652.7 261.1L653 130.2L653.3 214L653.7 216.6L654 228.1L654.3 266.9L654.6 195L654.9 206.3L655.3 193.8L655.6 192.9L655.9 233.4L656.2 217.4L656.5 152.7L656.9 239.9L657.2 217.3L657.5 239.5L657.8 179.9L658.1 217.5L658.5 250.3L658.8 243.2L659.1 261.1L659.4 283L659.7 287.8L660.1 148.2L660.4 254.7L660.7 224.8L661 244.8L661.3 221.6L661.7 177.5L662 247.6L662.3 255.2L662.6 202L662.9 160.2L663.3 238.3L663.6 264.3L663.9 235.2L664.2 234.8L664.5 206.8L664.9 246.3L665.2 232.2L665.5 231.7L665.8 259.7L666.1 262.1L666.5 215.3L666.8 207.8L667.1 238.9L667.4 183L667.7 193.7L668.1 206.9L668.4 204.1L668.7 210.5L669 201.1L669.3 196.1L669.7 216.4L670 265.8L670.3 228.3L670.6 239.3L670.9 248.2L671.3 206.5L671.6 257.8L671.9 200.9L672.2 231.2L672.5 247.2L672.9 240.5L673.2 158.6L673.5 172.9L673.8 219.3L674.1 189.2L674.5 167.1L674.8 231.2L675.1 224.4L675.4 193.2L675.7 203.9L676.1 61.4L676.4 175.2L676.7 199.7L677 194.9L677.3 153.1L677.7 198.4L678 147.4L678.3 202.8L678.6 219.8L678.9 214.9L679.3 195.5L679.6 118.2L679.9 207L680.2 249.3L680.5 245L680.9 227.1L681.2 201.4L681.5 181.1L681.8 266.3L682.1 227.2L682.5 229.9L682.8 222.9L683.1 214.9L683.4 237.3L683.7 249.4L684.1 198.3L684.4 199.8L684.7 227L685 223.7L685.3 234.8L685.7 250.4L686 206.8L686.3 231.6L686.6 243.1L686.9 233.2L687.3 179.7L687.6 203L687.9 210.1L688.2 213.9L688.5 195.2L688.9 196.2L689.2 240.6L689.5 222.7L689.8 229.1L690.1 210.8L690.5 215.1L690.8 255.2L691.1 189.8L691.4 204.5L691.7 247.7L692.1 188.2L692.4 206.7L692.7 199.8L693 209.5L693.3 207L693.7 220.7L694 245.6L694.3 226.2L694.6 207L694.9 208.2L695.3 193.5L695.6 209.9L695.9 256.3L696.2 196.7L696.5 225.6L696.9 239.9L697.2 220.1L697.5 240.3L697.8 205L698.1 229.9L698.5 164.7L698.8 211.9L699.1 223.4L699.4 226.8L699.7 259.6L700.1 235.4L700.4 230.8L700.7 221.2L701 261.4L701.3 216.5L701.7 180.2L702 218.8L702.3 214.5L702.6 202.3L702.9 131L703.3 224.4L703.6 189.6L703.9 206.1L704.2 239.9L704.5 255.9L704.9 157.6L705.2 196.4L705.5 247.6L705.8 213.3L706.1 196.3L706.5 209.5L706.8 256.1L707.1 171.1L707.4 194.8L707.7 217.4L708.1 197.6L708.4 218.7L708.7 223.5L709 193.2L709.3 258.3L709.7 194.1L710 203.8L710.3 195.4L710.6 190.7L710.9 173.4L711.3 174.9L711.6 189.9L711.9 223.6L712.2 200.2L712.5 227L712.9 240.6L713.2 208.6L713.5 208.1L713.8 186.3L714.1 263.8L714.5 207.8L714.8 200.5L715.1 214.9L715.4 181.6L715.7 237.3L716.1 215.7L716.4 231.4L716.7 226.1L717 247L717.3 232.3L717.7 212.1L718 224.8L718.3 221.6L718.6 136.2L718.9 196.2L719.3 244.2L719.6 235.4L719.9 222.2L720.2 239.3L720.5 287.4L720.9 233.1L721.2 201.4L721.5 225.2L721.8 232.1L722.1 257.8L722.5 236.8L722.8 225L723.1 237.7L723.4 264.9L723.7 262.3L724.1 258.1L724.4 254.8L724.7 278L725 226.5L725.3 257.8L725.7 258.9L726 268.7L726.3 265.4L726.6 235.5L726.9 160.2L727.3 276.2L727.6 282.9L727.9 278.8L728.2 256.7L728.5 278.6L728.9 280.2L729.2 287.8L729.5 282.6L729.8 279.6L730.1 284L730.5 285.1L730.8 282.8L731.1 287.4L731.4 286.2L731.7 287.6" fill="none" stroke="#000" stroke-width="1.05" stroke-linejoin="miter"/>
<text x="107.4" y="355.8" font-size="19" textLength="24.6" lengthAdjust="spacingAndGlyphs" stroke="#000" stroke-width="0.5">(c)</text>
<text x="138" y="355.4" font-size="13.3" font-weight="bold" textLength="480" lengthAdjust="spacingAndGlyphs" stroke="#000" stroke-width="0.6">Protein search validation of annotated and unannotated regions</text>
<path d="M57.7 402.6h2.8v2.7h-2.8zM60.5 400h2.8v2.7h-2.8zM63.3 423.9h2.8v2.7h-2.8zM66.1 418.6h2.8v2.7h-2.8zM66.1 394.6h2.8v2.7h-2.8zM69 413.3h2.8v2.7h-2.8zM69 392h2.8v2.7h-2.8zM71.8 511.7h2.8v2.7h-2.8zM71.8 431.9h2.8v2.7h-2.8zM71.8 410.6h2.8v2.7h-2.8zM71.8 389.3h2.8v2.7h-2.8zM74.6 522.3h2.8v2.7h-2.8zM74.6 426.6h2.8v2.7h-2.8zM74.6 407.9h2.8v2.7h-2.8zM77.4 530.3h2.8v2.7h-2.8zM77.4 423.9h2.8v2.7h-2.8zM77.4 386.7h2.8v2.7h-2.8zM80.3 535.6h2.8v2.7h-2.8zM80.3 434.5h2.8v2.7h-2.8zM80.3 418.6h2.8v2.7h-2.8zM80.3 402.6h2.8v2.7h-2.8zM80.3 386.7h2.8v2.7h-2.8zM83.1 431.9h2.8v2.7h-2.8zM83.1 415.9h2.8v2.7h-2.8zM83.1 400h2.8v2.7h-2.8zM83.1 384h2.8v2.7h-2.8zM85.9 442.5h2.8v2.7h-2.8zM85.9 429.2h2.8v2.7h-2.8zM85.9 413.3h2.8v2.7h-2.8zM85.9 400h2.8v2.7h-2.8zM85.9 384h2.8v2.7h-2.8zM88.7 439.9h2.8v2.7h-2.8zM88.7 426.6h2.8v2.7h-2.8zM88.7 410.6h2.8v2.7h-2.8zM88.7 397.3h2.8v2.7h-2.8zM88.7 384h2.8v2.7h-2.8zM91.5 434.5h2.8v2.7h-2.8zM91.5 421.2h2.8v2.7h-2.8zM91.5 407.9h2.8v2.7h-2.8zM91.5 394.6h2.8v2.7h-2.8zM91.5 381.3h2.8v2.7h-2.8zM94.4 546.3h2.8v2.7h-2.8zM94.4 458.5h2.8v2.7h-2.8zM94.4 445.2h2.8v2.7h-2.8zM94.4 431.9h2.8v2.7h-2.8zM94.4 421.2h2.8v2.7h-2.8zM94.4 407.9h2.8v2.7h-2.8zM94.4 394.6h2.8v2.7h-2.8zM94.4 381.3h2.8v2.7h-2.8zM97.2 442.5h2.8v2.7h-2.8zM97.2 429.2h2.8v2.7h-2.8zM97.2 418.6h2.8v2.7h-2.8zM97.2 405.3h2.8v2.7h-2.8zM97.2 394.6h2.8v2.7h-2.8zM97.2 381.3h2.8v2.7h-2.8zM100 554.2h2.8v2.7h-2.8zM100 450.5h2.8v2.7h-2.8zM100 439.9h2.8v2.7h-2.8zM100 426.6h2.8v2.7h-2.8zM100 415.9h2.8v2.7h-2.8zM100 405.3h2.8v2.7h-2.8zM100 392h2.8v2.7h-2.8zM100 381.3h2.8v2.7h-2.8zM102.8 556.9h2.8v2.7h-2.8zM102.8 458.5h2.8v2.7h-2.8zM102.8 447.8h2.8v2.7h-2.8zM102.8 434.5h2.8v2.7h-2.8zM102.8 423.9h2.8v2.7h-2.8zM102.8 413.3h2.8v2.7h-2.8zM102.8 392h2.8v2.7h-2.8zM102.8 381.3h2.8v2.7h-2.8zM105.6 559.6h2.8v2.7h-2.8zM105.6 453.2h2.8v2.7h-2.8zM105.6 431.9h2.8v2.7h-2.8zM105.6 421.2h2.8v2.7h-2.8zM105.6 410.6h2.8v2.7h-2.8zM105.6 400h2.8v2.7h-2.8zM105.6 389.3h2.8v2.7h-2.8zM108.5 564.9h2.8v2.7h-2.8zM108.5 471.8h2.8v2.7h-2.8zM108.5 461.1h2.8v2.7h-2.8zM108.5 439.9h2.8v2.7h-2.8zM108.5 431.9h2.8v2.7h-2.8zM108.5 421.2h2.8v2.7h-2.8zM108.5 410.6h2.8v2.7h-2.8zM108.5 400h2.8v2.7h-2.8zM108.5 389.3h2.8v2.7h-2.8zM108.5 378.7h2.8v2.7h-2.8zM111.3 567.5h2.8v2.7h-2.8zM111.3 469.1h2.8v2.7h-2.8zM111.3 447.8h2.8v2.7h-2.8zM111.3 437.2h2.8v2.7h-2.8zM111.3 429.2h2.8v2.7h-2.8zM111.3 418.6h2.8v2.7h-2.8zM111.3 407.9h2.8v2.7h-2.8zM111.3 400h2.8v2.7h-2.8zM111.3 389.3h2.8v2.7h-2.8zM111.3 378.7h2.8v2.7h-2.8zM114.1 567.5h2.8v2.7h-2.8zM114.1 559.6h2.8v2.7h-2.8zM114.1 474.4h2.8v2.7h-2.8zM114.1 463.8h2.8v2.7h-2.8zM114.1 455.8h2.8v2.7h-2.8zM114.1 445.2h2.8v2.7h-2.8zM114.1 426.6h2.8v2.7h-2.8zM114.1 415.9h2.8v2.7h-2.8zM114.1 407.9h2.8v2.7h-2.8zM114.1 397.3h2.8v2.7h-2.8zM114.1 389.3h2.8v2.7h-2.8zM114.1 378.7h2.8v2.7h-2.8zM114.1 372.6h2.8v2.7h-2.8zM116.9 469.1h2.8v2.7h-2.8zM116.9 453.2h2.8v2.7h-2.8zM116.9 442.5h2.8v2.7h-2.8zM116.9 434.5h2.8v2.7h-2.8zM116.9 423.9h2.8v2.7h-2.8zM116.9 415.9h2.8v2.7h-2.8zM116.9 405.3h2.8v2.7h-2.8zM116.9 397.3h2.8v2.7h-2.8zM116.9 386.7h2.8v2.7h-2.8zM116.9 378.7h2.8v2.7h-2.8zM116.9 372.6h2.8v2.7h-2.8zM119.8 572.9h2.8v2.7h-2.8zM119.8 564.9h2.8v2.7h-2.8zM119.8 477.1h2.8v2.7h-2.8zM119.8 466.5h2.8v2.7h-2.8zM119.8 439.9h2.8v2.7h-2.8zM119.8 431.9h2.8v2.7h-2.8zM119.8 423.9h2.8v2.7h-2.8zM119.8 413.3h2.8v2.7h-2.8zM119.8 405.3h2.8v2.7h-2.8zM119.8 397.3h2.8v2.7h-2.8zM119.8 386.7h2.8v2.7h-2.8zM119.8 378.7h2.8v2.7h-2.8zM119.8 372.6h2.8v2.7h-2.8zM122.6 567.5h2.8v2.7h-2.8zM122.6 479.8h2.8v2.7h-2.8zM122.6 471.8h2.8v2.7h-2.8zM122.6 463.8h2.8v2.7h-2.8zM122.6 455.8h2.8v2.7h-2.8zM122.6 447.8h2.8v2.7h-2.8zM122.6 437.2h2.8v2.7h-2.8zM122.6 429.2h2.8v2.7h-2.8zM122.6 421.2h2.8v2.7h-2.8zM122.6 413.3h2.8v2.7h-2.8zM122.6 402.6h2.8v2.7h-2.8zM122.6 394.6h2.8v2.7h-2.8zM122.6 386.7h2.8v2.7h-2.8zM122.6 378.7h2.8v2.7h-2.8zM125.4 567.5h2.8v2.7h-2.8zM125.4 485.1h2.8v2.7h-2.8zM125.4 477.1h2.8v2.7h-2.8zM125.4 469.1h2.8v2.7h-2.8zM125.4 461.1h2.8v2.7h-2.8zM125.4 453.2h2.8v2.7h-2.8zM125.4 445.2h2.8v2.7h-2.8zM125.4 418.6h2.8v2.7h-2.8zM125.4 410.6h2.8v2.7h-2.8zM125.4 402.6h2.8v2.7h-2.8zM125.4 394.6h2.8v2.7h-2.8zM125.4 386.7h2.8v2.7h-2.8zM125.4 378.7h2.8v2.7h-2.8zM125.4 372.6h2.8v2.7h-2.8zM128.2 570.2h2.8v2.7h-2.8zM128.2 482.4h2.8v2.7h-2.8zM128.2 474.4h2.8v2.7h-2.8zM128.2 458.5h2.8v2.7h-2.8zM128.2 450.5h2.8v2.7h-2.8zM128.2 434.5h2.8v2.7h-2.8zM128.2 426.6h2.8v2.7h-2.8zM128.2 418.6h2.8v2.7h-2.8zM128.2 410.6h2.8v2.7h-2.8zM128.2 402.6h2.8v2.7h-2.8zM128.2 394.6h2.8v2.7h-2.8zM128.2 386.7h2.8v2.7h-2.8zM128.2 372.6h2.8v2.7h-2.8zM131 572.9h2.8v2.7h-2.8zM131 495.7h2.8v2.7h-2.8zM131 487.7h2.8v2.7h-2.8zM131 479.8h2.8v2.7h-2.8zM131 471.8h2.8v2.7h-2.8zM131 463.8h2.8v2.7h-2.8zM131 439.9h2.8v2.7h-2.8zM131 423.9h2.8v2.7h-2.8zM131 415.9h2.8v2.7h-2.8zM131 407.9h2.8v2.7h-2.8zM131 400h2.8v2.7h-2.8zM131 392h2.8v2.7h-2.8zM131 384h2.8v2.7h-2.8zM131 372.6h2.8v2.7h-2.8zM133.9 575.5h2.8v2.7h-2.8zM133.9 506.4h2.8v2.7h-2.8zM133.9 498.4h2.8v2.7h-2.8zM133.9 490.4h2.8v2.7h-2.8zM133.9 482.4h2.8v2.7h-2.8zM133.9 477.1h2.8v2.7h-2.8zM133.9 461.1h2.8v2.7h-2.8zM133.9 445.2h2.8v2.7h-2.8zM133.9 437.2h2.8v2.7h-2.8zM133.9 429.2h2.8v2.7h-2.8zM133.9 423.9h2.8v2.7h-2.8zM133.9 415.9h2.8v2.7h-2.8zM133.9 407.9h2.8v2.7h-2.8zM133.9 400h2.8v2.7h-2.8zM133.9 384h2.8v2.7h-2.8zM133.9 376h2.8v2.7h-2.8zM136.7 575.5h2.8v2.7h-2.8zM136.7 501h2.8v2.7h-2.8zM136.7 495.7h2.8v2.7h-2.8zM136.7 487.7h2.8v2.7h-2.8zM136.7 471.8h2.8v2.7h-2.8zM136.7 450.5h2.8v2.7h-2.8zM136.7 434.5h2.8v2.7h-2.8zM136.7 429.2h2.8v2.7h-2.8zM136.7 421.2h2.8v2.7h-2.8zM136.7 400h2.8v2.7h-2.8zM136.7 392h2.8v2.7h-2.8zM136.7 384h2.8v2.7h-2.8zM136.7 376h2.8v2.7h-2.8zM136.7 372.6h2.8v2.7h-2.8zM139.5 570.2h2.8v2.7h-2.8zM139.5 506.4h2.8v2.7h-2.8zM139.5 498.4h2.8v2.7h-2.8zM139.5 490.4h2.8v2.7h-2.8zM139.5 485.1h2.8v2.7h-2.8zM139.5 477.1h2.8v2.7h-2.8zM139.5 463.8h2.8v2.7h-2.8zM139.5 455.8h2.8v2.7h-2.8zM139.5 442.5h2.8v2.7h-2.8zM139.5 434.5h2.8v2.7h-2.8zM139.5 426.6h2.8v2.7h-2.8zM139.5 418.6h2.8v2.7h-2.8zM139.5 413.3h2.8v2.7h-2.8zM139.5 405.3h2.8v2.7h-2.8zM139.5 392h2.8v2.7h-2.8zM139.5 376h2.8v2.7h-2.8zM142.3 578.2h2.8v2.7h-2.8zM142.3 572.9h2.8v2.7h-2.8zM142.3 503.7h2.8v2.7h-2.8zM142.3 495.7h2.8v2.7h-2.8zM142.3 487.7h2.8v2.7h-2.8zM142.3 482.4h2.8v2.7h-2.8zM142.3 474.4h2.8v2.7h-2.8zM142.3 410.6h2.8v2.7h-2.8zM142.3 405.3h2.8v2.7h-2.8zM142.3 389.3h2.8v2.7h-2.8zM142.3 372.6h2.8v2.7h-2.8zM145.2 572.9h2.8v2.7h-2.8zM145.2 554.2h2.8v2.7h-2.8zM145.2 525h2.8v2.7h-2.8zM145.2 519.7h2.8v2.7h-2.8zM145.2 511.7h2.8v2.7h-2.8zM145.2 506.4h2.8v2.7h-2.8zM145.2 498.4h2.8v2.7h-2.8zM145.2 493.1h2.8v2.7h-2.8zM145.2 485.1h2.8v2.7h-2.8zM145.2 479.8h2.8v2.7h-2.8zM145.2 463.8h2.8v2.7h-2.8zM145.2 458.5h2.8v2.7h-2.8zM145.2 423.9h2.8v2.7h-2.8zM145.2 415.9h2.8v2.7h-2.8zM145.2 410.6h2.8v2.7h-2.8zM145.2 397.3h2.8v2.7h-2.8zM145.2 389.3h2.8v2.7h-2.8zM145.2 384h2.8v2.7h-2.8zM145.2 376h2.8v2.7h-2.8zM145.2 372.6h2.8v2.7h-2.8zM148 567.5h2.8v2.7h-2.8zM148 522.3h2.8v2.7h-2.8zM148 509h2.8v2.7h-2.8zM148 501h2.8v2.7h-2.8zM148 495.7h2.8v2.7h-2.8zM148 482.4h2.8v2.7h-2.8zM148 474.4h2.8v2.7h-2.8zM148 455.8h2.8v2.7h-2.8zM148 442.5h2.8v2.7h-2.8zM148 434.5h2.8v2.7h-2.8zM148 429.2h2.8v2.7h-2.8zM148 421.2h2.8v2.7h-2.8zM148 415.9h2.8v2.7h-2.8zM148 407.9h2.8v2.7h-2.8zM148 402.6h2.8v2.7h-2.8zM148 394.6h2.8v2.7h-2.8zM148 381.3h2.8v2.7h-2.8zM148 376h2.8v2.7h-2.8zM148 372.6h2.8v2.7h-2.8zM150.8 578.2h2.8v2.7h-2.8zM150.8 564.9h2.8v2.7h-2.8zM150.8 556.9h2.8v2.7h-2.8zM150.8 519.7h2.8v2.7h-2.8zM150.8 506.4h2.8v2.7h-2.8zM150.8 498.4h2.8v2.7h-2.8zM150.8 493.1h2.8v2.7h-2.8zM150.8 485.1h2.8v2.7h-2.8zM150.8 479.8h2.8v2.7h-2.8zM150.8 466.5h2.8v2.7h-2.8zM150.8 434.5h2.8v2.7h-2.8zM150.8 421.2h2.8v2.7h-2.8zM150.8 415.9h2.8v2.7h-2.8zM150.8 407.9h2.8v2.7h-2.8zM150.8 402.6h2.8v2.7h-2.8zM150.8 394.6h2.8v2.7h-2.8zM150.8 381.3h2.8v2.7h-2.8zM150.8 376h2.8v2.7h-2.8zM150.8 372.6h2.8v2.7h-2.8zM153.6 578.2h2.8v2.7h-2.8zM153.6 572.9h2.8v2.7h-2.8zM153.6 522.3h2.8v2.7h-2.8zM153.6 514.3h2.8v2.7h-2.8zM153.6 509h2.8v2.7h-2.8zM153.6 503.7h2.8v2.7h-2.8zM153.6 495.7h2.8v2.7h-2.8zM153.6 490.4h2.8v2.7h-2.8zM153.6 482.4h2.8v2.7h-2.8zM153.6 471.8h2.8v2.7h-2.8zM153.6 463.8h2.8v2.7h-2.8zM153.6 458.5h2.8v2.7h-2.8zM153.6 450.5h2.8v2.7h-2.8zM153.6 421.2h2.8v2.7h-2.8zM153.6 413.3h2.8v2.7h-2.8zM153.6 400h2.8v2.7h-2.8zM153.6 372.6h2.8v2.7h-2.8zM156.4 580.8h2.8v2.7h-2.8zM156.4 572.9h2.8v2.7h-2.8zM156.4 562.2h2.8v2.7h-2.8zM156.4 543.6h2.8v2.7h-2.8zM156.4 530.3h2.8v2.7h-2.8zM156.4 517h2.8v2.7h-2.8zM156.4 511.7h2.8v2.7h-2.8zM156.4 506.4h2.8v2.7h-2.8zM156.4 498.4h2.8v2.7h-2.8zM156.4 493.1h2.8v2.7h-2.8zM156.4 487.7h2.8v2.7h-2.8zM156.4 474.4h2.8v2.7h-2.8zM156.4 450.5h2.8v2.7h-2.8zM156.4 437.2h2.8v2.7h-2.8zM156.4 423.9h2.8v2.7h-2.8zM156.4 413.3h2.8v2.7h-2.8zM156.4 400h2.8v2.7h-2.8zM156.4 394.6h2.8v2.7h-2.8zM156.4 381.3h2.8v2.7h-2.8zM156.4 376h2.8v2.7h-2.8zM156.4 372.6h2.8v2.7h-2.8zM159.3 575.5h2.8v2.7h-2.8zM159.3 567.5h2.8v2.7h-2.8zM159.3 562.2h2.8v2.7h-2.8zM159.3 556.9h2.8v2.7h-2.8zM159.3 543.6h2.8v2.7h-2.8zM159.3 519.7h2.8v2.7h-2.8zM159.3 514.3h2.8v2.7h-2.8zM159.3 501h2.8v2.7h-2.8zM159.3 495.7h2.8v2.7h-2.8zM159.3 490.4h2.8v2.7h-2.8zM159.3 485.1h2.8v2.7h-2.8zM159.3 477.1h2.8v2.7h-2.8zM159.3 461.1h2.8v2.7h-2.8zM159.3 434.5h2.8v2.7h-2.8zM159.3 418.6h2.8v2.7h-2.8zM159.3 410.6h2.8v2.7h-2.8zM159.3 405.3h2.8v2.7h-2.8zM159.3 400h2.8v2.7h-2.8zM159.3 381.3h2.8v2.7h-2.8zM159.3 376h2.8v2.7h-2.8zM159.3 372.6h2.8v2.7h-2.8zM162.1 575.5h2.8v2.7h-2.8zM162.1 570.2h2.8v2.7h-2.8zM162.1 551.6h2.8v2.7h-2.8zM162.1 540.9h2.8v2.7h-2.8zM162.1 522.3h2.8v2.7h-2.8zM162.1 517h2.8v2.7h-2.8zM162.1 511.7h2.8v2.7h-2.8zM162.1 506.4h2.8v2.7h-2.8zM162.1 498.4h2.8v2.7h-2.8zM162.1 493.1h2.8v2.7h-2.8zM162.1 487.7h2.8v2.7h-2.8zM162.1 482.4h2.8v2.7h-2.8zM162.1 469.1h2.8v2.7h-2.8zM162.1 458.5h2.8v2.7h-2.8zM162.1 453.2h2.8v2.7h-2.8zM162.1 421.2h2.8v2.7h-2.8zM162.1 410.6h2.8v2.7h-2.8zM162.1 392h2.8v2.7h-2.8zM162.1 372.6h2.8v2.7h-2.8zM164.9 578.2h2.8v2.7h-2.8zM164.9 572.9h2.8v2.7h-2.8zM164.9 564.9h2.8v2.7h-2.8zM164.9 559.6h2.8v2.7h-2.8zM164.9 554.2h2.8v2.7h-2.8zM164.9 548.9h2.8v2.7h-2.8zM164.9 538.3h2.8v2.7h-2.8zM164.9 530.3h2.8v2.7h-2.8zM164.9 525h2.8v2.7h-2.8zM164.9 514.3h2.8v2.7h-2.8zM164.9 509h2.8v2.7h-2.8zM164.9 503.7h2.8v2.7h-2.8zM164.9 495.7h2.8v2.7h-2.8zM164.9 485.1h2.8v2.7h-2.8zM164.9 466.5h2.8v2.7h-2.8zM164.9 455.8h2.8v2.7h-2.8zM164.9 450.5h2.8v2.7h-2.8zM164.9 431.9h2.8v2.7h-2.8zM164.9 421.2h2.8v2.7h-2.8zM164.9 415.9h2.8v2.7h-2.8zM164.9 405.3h2.8v2.7h-2.8zM164.9 397.3h2.8v2.7h-2.8zM164.9 392h2.8v2.7h-2.8zM164.9 376h2.8v2.7h-2.8zM164.9 372.6h2.8v2.7h-2.8zM167.7 578.2h2.8v2.7h-2.8zM167.7 572.9h2.8v2.7h-2.8zM167.7 567.5h2.8v2.7h-2.8zM167.7 562.2h2.8v2.7h-2.8zM167.7 556.9h2.8v2.7h-2.8zM167.7 551.6h2.8v2.7h-2.8zM167.7 543.6h2.8v2.7h-2.8zM167.7 538.3h2.8v2.7h-2.8zM167.7 533h2.8v2.7h-2.8zM167.7 527.6h2.8v2.7h-2.8zM167.7 522.3h2.8v2.7h-2.8zM167.7 517h2.8v2.7h-2.8zM167.7 511.7h2.8v2.7h-2.8zM167.7 506.4h2.8v2.7h-2.8zM167.7 498.4h2.8v2.7h-2.8zM167.7 493.1h2.8v2.7h-2.8zM167.7 487.7h2.8v2.7h-2.8zM167.7 482.4h2.8v2.7h-2.8zM167.7 471.8h2.8v2.7h-2.8zM167.7 466.5h2.8v2.7h-2.8zM167.7 461.1h2.8v2.7h-2.8zM167.7 431.9h2.8v2.7h-2.8zM167.7 421.2h2.8v2.7h-2.8zM167.7 415.9h2.8v2.7h-2.8zM167.7 397.3h2.8v2.7h-2.8zM167.7 392h2.8v2.7h-2.8zM167.7 386.7h2.8v2.7h-2.8zM167.7 372.6h2.8v2.7h-2.8zM170.6 580.8h2.8v2.7h-2.8zM170.6 575.5h2.8v2.7h-2.8zM170.6 567.5h2.8v2.7h-2.8zM170.6 562.2h2.8v2.7h-2.8zM170.6 556.9h2.8v2.7h-2.8zM170.6 551.6h2.8v2.7h-2.8zM170.6 540.9h2.8v2.7h-2.8zM170.6 530.3h2.8v2.7h-2.8zM170.6 519.7h2.8v2.7h-2.8zM170.6 514.3h2.8v2.7h-2.8zM170.6 509h2.8v2.7h-2.8zM170.6 501h2.8v2.7h-2.8zM170.6 495.7h2.8v2.7h-2.8zM170.6 490.4h2.8v2.7h-2.8zM170.6 453.2h2.8v2.7h-2.8zM170.6 418.6h2.8v2.7h-2.8zM170.6 413.3h2.8v2.7h-2.8zM170.6 397.3h2.8v2.7h-2.8zM170.6 386.7h2.8v2.7h-2.8zM170.6 376h2.8v2.7h-2.8zM170.6 372.6h2.8v2.7h-2.8zM173.4 575.5h2.8v2.7h-2.8zM173.4 570.2h2.8v2.7h-2.8zM173.4 564.9h2.8v2.7h-2.8zM173.4 548.9h2.8v2.7h-2.8zM173.4 543.6h2.8v2.7h-2.8zM173.4 538.3h2.8v2.7h-2.8zM173.4 527.6h2.8v2.7h-2.8zM173.4 522.3h2.8v2.7h-2.8zM173.4 517h2.8v2.7h-2.8zM173.4 506.4h2.8v2.7h-2.8zM173.4 498.4h2.8v2.7h-2.8zM173.4 493.1h2.8v2.7h-2.8zM173.4 482.4h2.8v2.7h-2.8zM173.4 477.1h2.8v2.7h-2.8zM173.4 466.5h2.8v2.7h-2.8zM173.4 450.5h2.8v2.7h-2.8zM173.4 445.2h2.8v2.7h-2.8zM173.4 439.9h2.8v2.7h-2.8zM173.4 407.9h2.8v2.7h-2.8zM173.4 402.6h2.8v2.7h-2.8zM173.4 397.3h2.8v2.7h-2.8zM173.4 392h2.8v2.7h-2.8zM173.4 386.7h2.8v2.7h-2.8zM173.4 381.3h2.8v2.7h-2.8zM173.4 376h2.8v2.7h-2.8zM173.4 372.6h2.8v2.7h-2.8zM176.2 583.5h2.8v2.7h-2.8zM176.2 578.2h2.8v2.7h-2.8zM176.2 572.9h2.8v2.7h-2.8zM176.2 567.5h2.8v2.7h-2.8zM176.2 562.2h2.8v2.7h-2.8zM176.2 556.9h2.8v2.7h-2.8zM176.2 551.6h2.8v2.7h-2.8zM176.2 546.3h2.8v2.7h-2.8zM176.2 519.7h2.8v2.7h-2.8zM176.2 514.3h2.8v2.7h-2.8zM176.2 509h2.8v2.7h-2.8zM176.2 503.7h2.8v2.7h-2.8zM176.2 498.4h2.8v2.7h-2.8zM176.2 482.4h2.8v2.7h-2.8zM176.2 477.1h2.8v2.7h-2.8zM176.2 471.8h2.8v2.7h-2.8zM176.2 466.5h2.8v2.7h-2.8zM176.2 439.9h2.8v2.7h-2.8zM176.2 434.5h2.8v2.7h-2.8zM176.2 413.3h2.8v2.7h-2.8zM176.2 402.6h2.8v2.7h-2.8zM176.2 386.7h2.8v2.7h-2.8zM176.2 381.3h2.8v2.7h-2.8zM176.2 376h2.8v2.7h-2.8zM176.2 372.6h2.8v2.7h-2.8zM179 578.2h2.8v2.7h-2.8zM179 572.9h2.8v2.7h-2.8zM179 567.5h2.8v2.7h-2.8zM179 562.2h2.8v2.7h-2.8zM179 556.9h2.8v2.7h-2.8zM179 551.6h2.8v2.7h-2.8zM179 546.3h2.8v2.7h-2.8zM179 540.9h2.8v2.7h-2.8zM179 535.6h2.8v2.7h-2.8zM179 530.3h2.8v2.7h-2.8zM179 525h2.8v2.7h-2.8zM179 519.7h2.8v2.7h-2.8zM179 514.3h2.8v2.7h-2.8zM179 509h2.8v2.7h-2.8zM179 503.7h2.8v2.7h-2.8zM179 501h2.8v2.7h-2.8zM179 495.7h2.8v2.7h-2.8zM179 485.1h2.8v2.7h-2.8zM179 474.4h2.8v2.7h-2.8zM179 469.1h2.8v2.7h-2.8zM179 415.9h2.8v2.7h-2.8zM179 410.6h2.8v2.7h-2.8zM179 400h2.8v2.7h-2.8zM179 394.6h2.8v2.7h-2.8zM179 372.6h2.8v2.7h-2.8zM181.8 578.2h2.8v2.7h-2.8zM181.8 572.9h2.8v2.7h-2.8zM181.8 567.5h2.8v2.7h-2.8zM181.8 564.9h2.8v2.7h-2.8zM181.8 559.6h2.8v2.7h-2.8zM181.8 554.2h2.8v2.7h-2.8zM181.8 548.9h2.8v2.7h-2.8zM181.8 543.6h2.8v2.7h-2.8zM181.8 538.3h2.8v2.7h-2.8zM181.8 527.6h2.8v2.7h-2.8zM181.8 522.3h2.8v2.7h-2.8zM181.8 517h2.8v2.7h-2.8zM181.8 506.4h2.8v2.7h-2.8zM181.8 498.4h2.8v2.7h-2.8zM181.8 482.4h2.8v2.7h-2.8zM181.8 477.1h2.8v2.7h-2.8zM181.8 431.9h2.8v2.7h-2.8zM181.8 421.2h2.8v2.7h-2.8zM181.8 410.6h2.8v2.7h-2.8zM181.8 400h2.8v2.7h-2.8zM181.8 389.3h2.8v2.7h-2.8zM181.8 384h2.8v2.7h-2.8zM181.8 373.4h2.8v2.7h-2.8zM181.8 372.6h2.8v2.7h-2.8zM184.7 575.5h2.8v2.7h-2.8zM184.7 570.2h2.8v2.7h-2.8zM184.7 559.6h2.8v2.7h-2.8zM184.7 554.2h2.8v2.7h-2.8zM184.7 548.9h2.8v2.7h-2.8zM184.7 546.3h2.8v2.7h-2.8zM184.7 535.6h2.8v2.7h-2.8zM184.7 525h2.8v2.7h-2.8zM184.7 519.7h2.8v2.7h-2.8zM184.7 514.3h2.8v2.7h-2.8zM184.7 509h2.8v2.7h-2.8zM184.7 503.7h2.8v2.7h-2.8zM184.7 501h2.8v2.7h-2.8zM184.7 495.7h2.8v2.7h-2.8zM184.7 490.4h2.8v2.7h-2.8zM184.7 485.1h2.8v2.7h-2.8zM184.7 474.4h2.8v2.7h-2.8zM184.7 463.8h2.8v2.7h-2.8zM184.7 445.2h2.8v2.7h-2.8zM184.7 418.6h2.8v2.7h-2.8zM184.7 410.6h2.8v2.7h-2.8zM184.7 400h2.8v2.7h-2.8zM184.7 373.4h2.8v2.7h-2.8zM184.7 372.6h2.8v2.7h-2.8zM187.5 580.8h2.8v2.7h-2.8zM187.5 575.5h2.8v2.7h-2.8zM187.5 570.2h2.8v2.7h-2.8zM187.5 567.5h2.8v2.7h-2.8zM187.5 562.2h2.8v2.7h-2.8zM187.5 556.9h2.8v2.7h-2.8zM187.5 551.6h2.8v2.7h-2.8zM187.5 546.3h2.8v2.7h-2.8zM187.5 535.6h2.8v2.7h-2.8zM187.5 533h2.8v2.7h-2.8zM187.5 527.6h2.8v2.7h-2.8zM187.5 522.3h2.8v2.7h-2.8zM187.5 517h2.8v2.7h-2.8zM187.5 511.7h2.8v2.7h-2.8zM187.5 506.4h2.8v2.7h-2.8zM187.5 503.7h2.8v2.7h-2.8zM187.5 498.4h2.8v2.7h-2.8zM187.5 477.1h2.8v2.7h-2.8zM187.5 471.8h2.8v2.7h-2.8zM187.5 458.5h2.8v2.7h-2.8zM187.5 447.8h2.8v2.7h-2.8zM187.5 418.6h2.8v2.7h-2.8zM187.5 400h2.8v2.7h-2.8zM187.5 394.6h2.8v2.7h-2.8zM187.5 389.3h2.8v2.7h-2.8zM187.5 378.7h2.8v2.7h-2.8zM187.5 373.4h2.8v2.7h-2.8zM187.5 372.6h2.8v2.7h-2.8zM190.3 578.2h2.8v2.7h-2.8zM190.3 572.9h2.8v2.7h-2.8zM190.3 567.5h2.8v2.7h-2.8zM190.3 562.2h2.8v2.7h-2.8zM190.3 556.9h2.8v2.7h-2.8zM190.3 554.2h2.8v2.7h-2.8zM190.3 548.9h2.8v2.7h-2.8zM190.3 543.6h2.8v2.7h-2.8zM190.3 538.3h2.8v2.7h-2.8zM190.3 525h2.8v2.7h-2.8zM190.3 514.3h2.8v2.7h-2.8zM190.3 509h2.8v2.7h-2.8zM190.3 501h2.8v2.7h-2.8zM190.3 490.4h2.8v2.7h-2.8zM190.3 479.8h2.8v2.7h-2.8zM190.3 471.8h2.8v2.7h-2.8zM190.3 461.1h2.8v2.7h-2.8zM190.3 426.6h2.8v2.7h-2.8zM190.3 418.6h2.8v2.7h-2.8zM190.3 413.3h2.8v2.7h-2.8zM190.3 373.4h2.8v2.7h-2.8zM190.3 372.6h2.8v2.7h-2.8zM193.1 572.9h2.8v2.7h-2.8zM193.1 567.5h2.8v2.7h-2.8zM193.1 564.9h2.8v2.7h-2.8zM193.1 559.6h2.8v2.7h-2.8zM193.1 554.2h2.8v2.7h-2.8zM193.1 548.9h2.8v2.7h-2.8zM193.1 546.3h2.8v2.7h-2.8zM193.1 540.9h2.8v2.7h-2.8zM193.1 535.6h2.8v2.7h-2.8zM193.1 530.3h2.8v2.7h-2.8zM193.1 525h2.8v2.7h-2.8zM193.1 522.3h2.8v2.7h-2.8zM193.1 517h2.8v2.7h-2.8zM193.1 511.7h2.8v2.7h-2.8zM193.1 506.4h2.8v2.7h-2.8zM193.1 501h2.8v2.7h-2.8zM193.1 493.1h2.8v2.7h-2.8zM193.1 487.7h2.8v2.7h-2.8zM193.1 479.8h2.8v2.7h-2.8zM193.1 474.4h2.8v2.7h-2.8zM193.1 458.5h2.8v2.7h-2.8zM193.1 434.5h2.8v2.7h-2.8zM193.1 392h2.8v2.7h-2.8zM193.1 384h2.8v2.7h-2.8zM193.1 372.6h2.8v2.7h-2.8zM196 578.2h2.8v2.7h-2.8zM196 575.5h2.8v2.7h-2.8zM196 570.2h2.8v2.7h-2.8zM196 564.9h2.8v2.7h-2.8zM196 559.6h2.8v2.7h-2.8zM196 556.9h2.8v2.7h-2.8zM196 551.6h2.8v2.7h-2.8zM196 546.3h2.8v2.7h-2.8zM196 540.9h2.8v2.7h-2.8zM196 538.3h2.8v2.7h-2.8zM196 533h2.8v2.7h-2.8zM196 527.6h2.8v2.7h-2.8zM196 519.7h2.8v2.7h-2.8zM196 514.3h2.8v2.7h-2.8zM196 509h2.8v2.7h-2.8zM196 501h2.8v2.7h-2.8zM196 495.7h2.8v2.7h-2.8zM196 490.4h2.8v2.7h-2.8zM196 482.4h2.8v2.7h-2.8zM196 439.9h2.8v2.7h-2.8zM196 407.9h2.8v2.7h-2.8zM196 392h2.8v2.7h-2.8zM196 372.6h2.8v2.7h-2.8zM198.8 575.5h2.8v2.7h-2.8zM198.8 570.2h2.8v2.7h-2.8zM198.8 567.5h2.8v2.7h-2.8zM198.8 562.2h2.8v2.7h-2.8zM198.8 556.9h2.8v2.7h-2.8zM198.8 551.6h2.8v2.7h-2.8zM198.8 548.9h2.8v2.7h-2.8zM198.8 543.6h2.8v2.7h-2.8zM198.8 538.3h2.8v2.7h-2.8zM198.8 535.6h2.8v2.7h-2.8zM198.8 530.3h2.8v2.7h-2.8zM198.8 525h2.8v2.7h-2.8zM198.8 519.7h2.8v2.7h-2.8zM198.8 517h2.8v2.7h-2.8zM198.8 511.7h2.8v2.7h-2.8zM198.8 506.4h2.8v2.7h-2.8zM198.8 503.7h2.8v2.7h-2.8zM198.8 498.4h2.8v2.7h-2.8zM198.8 479.8h2.8v2.7h-2.8zM198.8 455.8h2.8v2.7h-2.8zM198.8 442.5h2.8v2.7h-2.8zM198.8 410.6h2.8v2.7h-2.8zM198.8 405.3h2.8v2.7h-2.8zM198.8 392h2.8v2.7h-2.8zM198.8 373.4h2.8v2.7h-2.8zM198.8 372.6h2.8v2.7h-2.8zM201.6 575.5h2.8v2.7h-2.8zM201.6 572.9h2.8v2.7h-2.8zM201.6 567.5h2.8v2.7h-2.8zM201.6 562.2h2.8v2.7h-2.8zM201.6 559.6h2.8v2.7h-2.8zM201.6 554.2h2.8v2.7h-2.8zM201.6 548.9h2.8v2.7h-2.8zM201.6 546.3h2.8v2.7h-2.8zM201.6 540.9h2.8v2.7h-2.8zM201.6 535.6h2.8v2.7h-2.8zM201.6 533h2.8v2.7h-2.8zM201.6 527.6h2.8v2.7h-2.8zM201.6 522.3h2.8v2.7h-2.8zM201.6 517h2.8v2.7h-2.8zM201.6 514.3h2.8v2.7h-2.8zM201.6 503.7h2.8v2.7h-2.8zM201.6 501h2.8v2.7h-2.8zM201.6 495.7h2.8v2.7h-2.8zM201.6 487.7h2.8v2.7h-2.8zM201.6 482.4h2.8v2.7h-2.8zM201.6 458.5h2.8v2.7h-2.8zM201.6 413.3h2.8v2.7h-2.8zM201.6 410.6h2.8v2.7h-2.8zM201.6 400h2.8v2.7h-2.8zM201.6 397.3h2.8v2.7h-2.8zM201.6 386.7h2.8v2.7h-2.8zM201.6 372.6h2.8v2.7h-2.8zM204.4 578.2h2.8v2.7h-2.8zM204.4 572.9h2.8v2.7h-2.8zM204.4 564.9h2.8v2.7h-2.8zM204.4 559.6h2.8v2.7h-2.8zM204.4 554.2h2.8v2.7h-2.8zM204.4 551.6h2.8v2.7h-2.8zM204.4 546.3h2.8v2.7h-2.8zM204.4 540.9h2.8v2.7h-2.8zM204.4 538.3h2.8v2.7h-2.8zM204.4 533h2.8v2.7h-2.8zM204.4 527.6h2.8v2.7h-2.8zM204.4 525h2.8v2.7h-2.8zM204.4 519.7h2.8v2.7h-2.8zM204.4 514.3h2.8v2.7h-2.8zM204.4 511.7h2.8v2.7h-2.8zM204.4 506.4h2.8v2.7h-2.8zM204.4 493.1h2.8v2.7h-2.8zM204.4 485.1h2.8v2.7h-2.8zM204.4 474.4h2.8v2.7h-2.8zM204.4 471.8h2.8v2.7h-2.8zM204.4 407.9h2.8v2.7h-2.8zM204.4 400h2.8v2.7h-2.8zM204.4 394.6h2.8v2.7h-2.8zM204.4 392h2.8v2.7h-2.8zM204.4 381.3h2.8v2.7h-2.8zM207.2 575.5h2.8v2.7h-2.8zM207.2 570.2h2.8v2.7h-2.8zM207.2 562.2h2.8v2.7h-2.8zM207.2 556.9h2.8v2.7h-2.8zM207.2 551.6h2.8v2.7h-2.8zM207.2 548.9h2.8v2.7h-2.8zM207.2 543.6h2.8v2.7h-2.8zM207.2 538.3h2.8v2.7h-2.8zM207.2 535.6h2.8v2.7h-2.8zM207.2 530.3h2.8v2.7h-2.8zM207.2 527.6h2.8v2.7h-2.8zM207.2 522.3h2.8v2.7h-2.8zM207.2 517h2.8v2.7h-2.8zM207.2 503.7h2.8v2.7h-2.8zM207.2 501h2.8v2.7h-2.8zM207.2 495.7h2.8v2.7h-2.8zM207.2 474.4h2.8v2.7h-2.8zM207.2 461.1h2.8v2.7h-2.8zM207.2 429.2h2.8v2.7h-2.8zM207.2 418.6h2.8v2.7h-2.8zM207.2 381.3h2.8v2.7h-2.8zM210.1 580.8h2.8v2.7h-2.8zM210.1 570.2h2.8v2.7h-2.8zM210.1 567.5h2.8v2.7h-2.8zM210.1 562.2h2.8v2.7h-2.8zM210.1 556.9h2.8v2.7h-2.8zM210.1 554.2h2.8v2.7h-2.8zM210.1 548.9h2.8v2.7h-2.8zM210.1 540.9h2.8v2.7h-2.8zM210.1 535.6h2.8v2.7h-2.8zM210.1 527.6h2.8v2.7h-2.8zM210.1 525h2.8v2.7h-2.8zM210.1 519.7h2.8v2.7h-2.8zM210.1 514.3h2.8v2.7h-2.8zM210.1 511.7h2.8v2.7h-2.8zM210.1 506.4h2.8v2.7h-2.8zM210.1 479.8h2.8v2.7h-2.8zM210.1 477.1h2.8v2.7h-2.8zM210.1 471.8h2.8v2.7h-2.8zM210.1 458.5h2.8v2.7h-2.8zM210.1 423.9h2.8v2.7h-2.8zM210.1 421.2h2.8v2.7h-2.8zM210.1 415.9h2.8v2.7h-2.8zM210.1 413.3h2.8v2.7h-2.8zM210.1 402.6h2.8v2.7h-2.8zM210.1 381.3h2.8v2.7h-2.8zM210.1 372.6h2.8v2.7h-2.8zM212.9 580.8h2.8v2.7h-2.8zM212.9 572.9h2.8v2.7h-2.8zM212.9 564.9h2.8v2.7h-2.8zM212.9 559.6h2.8v2.7h-2.8zM212.9 554.2h2.8v2.7h-2.8zM212.9 551.6h2.8v2.7h-2.8zM212.9 543.6h2.8v2.7h-2.8zM212.9 538.3h2.8v2.7h-2.8zM212.9 533h2.8v2.7h-2.8zM212.9 530.3h2.8v2.7h-2.8zM212.9 525h2.8v2.7h-2.8zM212.9 522.3h2.8v2.7h-2.8zM212.9 517h2.8v2.7h-2.8zM212.9 511.7h2.8v2.7h-2.8zM212.9 509h2.8v2.7h-2.8zM212.9 501h2.8v2.7h-2.8zM212.9 493.1h2.8v2.7h-2.8zM212.9 487.7h2.8v2.7h-2.8zM212.9 482.4h2.8v2.7h-2.8zM212.9 474.4h2.8v2.7h-2.8zM212.9 461.1h2.8v2.7h-2.8zM212.9 437.2h2.8v2.7h-2.8zM212.9 431.9h2.8v2.7h-2.8zM212.9 423.9h2.8v2.7h-2.8zM212.9 421.2h2.8v2.7h-2.8zM212.9 415.9h2.8v2.7h-2.8zM212.9 372.6h2.8v2.7h-2.8zM215.7 580.8h2.8v2.7h-2.8zM215.7 578.2h2.8v2.7h-2.8zM215.7 572.9h2.8v2.7h-2.8zM215.7 564.9h2.8v2.7h-2.8zM215.7 551.6h2.8v2.7h-2.8zM215.7 548.9h2.8v2.7h-2.8zM215.7 543.6h2.8v2.7h-2.8zM215.7 540.9h2.8v2.7h-2.8zM215.7 527.6h2.8v2.7h-2.8zM215.7 522.3h2.8v2.7h-2.8zM215.7 519.7h2.8v2.7h-2.8zM215.7 514.3h2.8v2.7h-2.8zM215.7 511.7h2.8v2.7h-2.8zM215.7 501h2.8v2.7h-2.8zM215.7 498.4h2.8v2.7h-2.8zM215.7 485.1h2.8v2.7h-2.8zM215.7 455.8h2.8v2.7h-2.8zM215.7 426.6h2.8v2.7h-2.8zM215.7 415.9h2.8v2.7h-2.8zM215.7 373.4h2.8v2.7h-2.8zM215.7 372.6h2.8v2.7h-2.8zM218.5 562.2h2.8v2.7h-2.8zM218.5 556.9h2.8v2.7h-2.8zM218.5 554.2h2.8v2.7h-2.8zM218.5 548.9h2.8v2.7h-2.8zM218.5 546.3h2.8v2.7h-2.8zM218.5 540.9h2.8v2.7h-2.8zM218.5 538.3h2.8v2.7h-2.8zM218.5 533h2.8v2.7h-2.8zM218.5 527.6h2.8v2.7h-2.8zM218.5 525h2.8v2.7h-2.8zM218.5 519.7h2.8v2.7h-2.8zM218.5 517h2.8v2.7h-2.8zM218.5 511.7h2.8v2.7h-2.8zM218.5 503.7h2.8v2.7h-2.8zM218.5 501h2.8v2.7h-2.8zM218.5 487.7h2.8v2.7h-2.8zM218.5 485.1h2.8v2.7h-2.8zM218.5 372.6h2.8v2.7h-2.8zM221.4 562.2h2.8v2.7h-2.8zM221.4 559.6h2.8v2.7h-2.8zM221.4 554.2h2.8v2.7h-2.8zM221.4 551.6h2.8v2.7h-2.8zM221.4 543.6h2.8v2.7h-2.8zM221.4 530.3h2.8v2.7h-2.8zM221.4 527.6h2.8v2.7h-2.8zM221.4 519.7h2.8v2.7h-2.8zM221.4 514.3h2.8v2.7h-2.8zM221.4 511.7h2.8v2.7h-2.8zM221.4 490.4h2.8v2.7h-2.8zM221.4 482.4h2.8v2.7h-2.8zM221.4 477.1h2.8v2.7h-2.8zM221.4 450.5h2.8v2.7h-2.8zM221.4 437.2h2.8v2.7h-2.8zM221.4 413.3h2.8v2.7h-2.8zM221.4 394.6h2.8v2.7h-2.8zM221.4 381.3h2.8v2.7h-2.8zM221.4 372.6h2.8v2.7h-2.8zM224.2 567.5h2.8v2.7h-2.8zM224.2 559.6h2.8v2.7h-2.8zM224.2 540.9h2.8v2.7h-2.8zM224.2 535.6h2.8v2.7h-2.8zM224.2 533h2.8v2.7h-2.8zM224.2 527.6h2.8v2.7h-2.8zM224.2 525h2.8v2.7h-2.8zM224.2 519.7h2.8v2.7h-2.8zM224.2 511.7h2.8v2.7h-2.8zM224.2 503.7h2.8v2.7h-2.8zM224.2 501h2.8v2.7h-2.8zM224.2 439.9h2.8v2.7h-2.8zM224.2 431.9h2.8v2.7h-2.8zM224.2 421.2h2.8v2.7h-2.8zM224.2 381.3h2.8v2.7h-2.8zM224.2 372.6h2.8v2.7h-2.8zM227 580.8h2.8v2.7h-2.8zM227 567.5h2.8v2.7h-2.8zM227 564.9h2.8v2.7h-2.8zM227 562.2h2.8v2.7h-2.8zM227 556.9h2.8v2.7h-2.8zM227 554.2h2.8v2.7h-2.8zM227 548.9h2.8v2.7h-2.8zM227 540.9h2.8v2.7h-2.8zM227 533h2.8v2.7h-2.8zM227 525h2.8v2.7h-2.8zM227 522.3h2.8v2.7h-2.8zM227 517h2.8v2.7h-2.8zM227 498.4h2.8v2.7h-2.8zM227 490.4h2.8v2.7h-2.8zM227 442.5h2.8v2.7h-2.8zM227 389.3h2.8v2.7h-2.8zM227 372.6h2.8v2.7h-2.8zM229.8 580.8h2.8v2.7h-2.8zM229.8 572.9h2.8v2.7h-2.8zM229.8 564.9h2.8v2.7h-2.8zM229.8 562.2h2.8v2.7h-2.8zM229.8 551.6h2.8v2.7h-2.8zM229.8 543.6h2.8v2.7h-2.8zM229.8 538.3h2.8v2.7h-2.8zM229.8 535.6h2.8v2.7h-2.8zM229.8 519.7h2.8v2.7h-2.8zM229.8 511.7h2.8v2.7h-2.8zM229.8 509h2.8v2.7h-2.8zM229.8 503.7h2.8v2.7h-2.8zM229.8 493.1h2.8v2.7h-2.8zM229.8 461.1h2.8v2.7h-2.8zM229.8 392h2.8v2.7h-2.8zM229.8 372.6h2.8v2.7h-2.8zM232.6 559.6h2.8v2.7h-2.8zM232.6 540.9h2.8v2.7h-2.8zM232.6 535.6h2.8v2.7h-2.8zM232.6 530.3h2.8v2.7h-2.8zM232.6 525h2.8v2.7h-2.8zM232.6 509h2.8v2.7h-2.8zM232.6 503.7h2.8v2.7h-2.8zM232.6 487.7h2.8v2.7h-2.8zM232.6 389.3h2.8v2.7h-2.8zM232.6 372.6h2.8v2.7h-2.8zM235.5 559.6h2.8v2.7h-2.8zM235.5 546.3h2.8v2.7h-2.8zM235.5 509h2.8v2.7h-2.8zM235.5 503.7h2.8v2.7h-2.8zM235.5 501h2.8v2.7h-2.8zM235.5 450.5h2.8v2.7h-2.8zM235.5 421.2h2.8v2.7h-2.8zM235.5 418.6h2.8v2.7h-2.8zM235.5 373.4h2.8v2.7h-2.8zM235.5 372.6h2.8v2.7h-2.8zM238.3 564.9h2.8v2.7h-2.8zM238.3 554.2h2.8v2.7h-2.8zM238.3 551.6h2.8v2.7h-2.8zM238.3 519.7h2.8v2.7h-2.8zM238.3 514.3h2.8v2.7h-2.8zM238.3 501h2.8v2.7h-2.8zM238.3 498.4h2.8v2.7h-2.8zM238.3 421.2h2.8v2.7h-2.8zM238.3 386.7h2.8v2.7h-2.8zM238.3 384h2.8v2.7h-2.8zM238.3 373.4h2.8v2.7h-2.8zM238.3 372.6h2.8v2.7h-2.8zM241.1 554.2h2.8v2.7h-2.8zM241.1 514.3h2.8v2.7h-2.8zM241.1 511.7h2.8v2.7h-2.8zM241.1 493.1h2.8v2.7h-2.8zM241.1 431.9h2.8v2.7h-2.8zM241.1 376h2.8v2.7h-2.8zM241.1 372.6h2.8v2.7h-2.8zM243.9 559.6h2.8v2.7h-2.8zM243.9 530.3h2.8v2.7h-2.8zM243.9 527.6h2.8v2.7h-2.8zM243.9 386.7h2.8v2.7h-2.8zM243.9 373.4h2.8v2.7h-2.8zM243.9 372.6h2.8v2.7h-2.8zM246.8 562.2h2.8v2.7h-2.8zM246.8 376h2.8v2.7h-2.8zM246.8 373.4h2.8v2.7h-2.8zM246.8 372.6h2.8v2.7h-2.8zM249.6 572.9h2.8v2.7h-2.8zM249.6 567.5h2.8v2.7h-2.8zM249.6 538.3h2.8v2.7h-2.8zM249.6 530.3h2.8v2.7h-2.8zM249.6 394.6h2.8v2.7h-2.8zM249.6 373.4h2.8v2.7h-2.8zM252.4 546.3h2.8v2.7h-2.8zM255.2 548.9h2.8v2.7h-2.8zM255.2 546.3h2.8v2.7h-2.8zM255.2 543.6h2.8v2.7h-2.8zM255.2 535.6h2.8v2.7h-2.8zM255.2 517h2.8v2.7h-2.8zM255.2 495.7h2.8v2.7h-2.8zM255.2 415.9h2.8v2.7h-2.8zM255.2 373.4h2.8v2.7h-2.8zM260.9 373.4h2.8v2.7h-2.8zM263.7 548.9h2.8v2.7h-2.8zM263.7 533h2.8v2.7h-2.8zM263.7 376h2.8v2.7h-2.8zM266.5 445.2h2.8v2.7h-2.8zM266.5 372.6h2.8v2.7h-2.8zM269.3 548.9h2.8v2.7h-2.8zM269.3 372.6h2.8v2.7h-2.8zM272.1 372.6h2.8v2.7h-2.8zM280.6 372.6h2.8v2.7h-2.8zM283.4 418.6h2.8v2.7h-2.8zM286.3 372.6h2.8v2.7h-2.8zM289.1 372.6h2.8v2.7h-2.8z" fill="#2a10f0"/>
<path d="M57.7 434.5h2.8v2.7h-2.8zM60.5 429.2h2.8v2.7h-2.8zM63.3 397.3h2.8v2.7h-2.8zM66.1 442.5h2.8v2.7h-2.8zM69 501h2.8v2.7h-2.8zM69 434.5h2.8v2.7h-2.8zM74.6 389.3h2.8v2.7h-2.8zM77.4 439.9h2.8v2.7h-2.8zM83.1 525h2.8v2.7h-2.8zM83.1 447.8h2.8v2.7h-2.8zM85.9 533h2.8v2.7h-2.8zM88.7 538.3h2.8v2.7h-2.8zM88.7 453.2h2.8v2.7h-2.8zM91.5 540.9h2.8v2.7h-2.8zM91.5 447.8h2.8v2.7h-2.8zM97.2 551.6h2.8v2.7h-2.8zM97.2 453.2h2.8v2.7h-2.8zM100 461.1h2.8v2.7h-2.8zM102.8 402.6h2.8v2.7h-2.8zM105.6 548.9h2.8v2.7h-2.8zM105.6 474.4h2.8v2.7h-2.8zM105.6 463.8h2.8v2.7h-2.8zM105.6 378.7h2.8v2.7h-2.8zM108.5 554.2h2.8v2.7h-2.8zM108.5 372.6h2.8v2.7h-2.8zM111.3 477.1h2.8v2.7h-2.8zM111.3 458.5h2.8v2.7h-2.8zM111.3 372.6h2.8v2.7h-2.8zM114.1 482.4h2.8v2.7h-2.8zM116.9 562.2h2.8v2.7h-2.8zM116.9 487.7h2.8v2.7h-2.8zM116.9 479.8h2.8v2.7h-2.8zM119.8 493.1h2.8v2.7h-2.8zM119.8 485.1h2.8v2.7h-2.8zM122.6 498.4h2.8v2.7h-2.8zM122.6 490.4h2.8v2.7h-2.8zM122.6 372.6h2.8v2.7h-2.8zM125.4 493.1h2.8v2.7h-2.8zM128.2 506.4h2.8v2.7h-2.8zM128.2 490.4h2.8v2.7h-2.8zM128.2 378.7h2.8v2.7h-2.8zM131 564.9h2.8v2.7h-2.8zM131 509h2.8v2.7h-2.8zM131 503.7h2.8v2.7h-2.8zM131 376h2.8v2.7h-2.8zM133.9 567.5h2.8v2.7h-2.8zM133.9 559.6h2.8v2.7h-2.8zM133.9 372.6h2.8v2.7h-2.8zM136.7 567.5h2.8v2.7h-2.8zM136.7 562.2h2.8v2.7h-2.8zM136.7 517h2.8v2.7h-2.8zM139.5 562.2h2.8v2.7h-2.8zM139.5 556.9h2.8v2.7h-2.8zM139.5 540.9h2.8v2.7h-2.8zM139.5 519.7h2.8v2.7h-2.8zM139.5 514.3h2.8v2.7h-2.8zM139.5 372.6h2.8v2.7h-2.8zM142.3 564.9h2.8v2.7h-2.8zM142.3 559.6h2.8v2.7h-2.8zM142.3 522.3h2.8v2.7h-2.8zM142.3 517h2.8v2.7h-2.8zM142.3 509h2.8v2.7h-2.8zM145.2 567.5h2.8v2.7h-2.8zM145.2 546.3h2.8v2.7h-2.8zM148 575.5h2.8v2.7h-2.8zM148 562.2h2.8v2.7h-2.8zM148 527.6h2.8v2.7h-2.8zM148 514.3h2.8v2.7h-2.8zM150.8 570.2h2.8v2.7h-2.8zM150.8 551.6h2.8v2.7h-2.8zM150.8 543.6h2.8v2.7h-2.8zM150.8 538.3h2.8v2.7h-2.8zM150.8 530.3h2.8v2.7h-2.8zM150.8 525h2.8v2.7h-2.8zM150.8 511.7h2.8v2.7h-2.8zM153.6 564.9h2.8v2.7h-2.8zM153.6 559.6h2.8v2.7h-2.8zM153.6 554.2h2.8v2.7h-2.8zM153.6 546.3h2.8v2.7h-2.8zM153.6 540.9h2.8v2.7h-2.8zM153.6 533h2.8v2.7h-2.8zM153.6 527.6h2.8v2.7h-2.8zM156.4 567.5h2.8v2.7h-2.8zM156.4 554.2h2.8v2.7h-2.8zM156.4 548.9h2.8v2.7h-2.8zM156.4 535.6h2.8v2.7h-2.8zM156.4 525h2.8v2.7h-2.8zM159.3 551.6h2.8v2.7h-2.8zM159.3 538.3h2.8v2.7h-2.8zM159.3 533h2.8v2.7h-2.8zM159.3 527.6h2.8v2.7h-2.8zM162.1 564.9h2.8v2.7h-2.8zM162.1 559.6h2.8v2.7h-2.8zM162.1 546.3h2.8v2.7h-2.8zM162.1 535.6h2.8v2.7h-2.8zM162.1 527.6h2.8v2.7h-2.8zM164.9 543.6h2.8v2.7h-2.8zM164.9 519.7h2.8v2.7h-2.8zM170.6 546.3h2.8v2.7h-2.8zM170.6 535.6h2.8v2.7h-2.8zM170.6 525h2.8v2.7h-2.8zM173.4 559.6h2.8v2.7h-2.8zM173.4 554.2h2.8v2.7h-2.8zM173.4 533h2.8v2.7h-2.8zM176.2 540.9h2.8v2.7h-2.8zM176.2 535.6h2.8v2.7h-2.8zM176.2 530.3h2.8v2.7h-2.8zM176.2 525h2.8v2.7h-2.8zM184.7 564.9h2.8v2.7h-2.8zM184.7 540.9h2.8v2.7h-2.8zM184.7 530.3h2.8v2.7h-2.8zM187.5 540.9h2.8v2.7h-2.8zM190.3 533h2.8v2.7h-2.8zM190.3 519.7h2.8v2.7h-2.8zM196 522.3h2.8v2.7h-2.8z" fill="#1040e0"/>
<path d="M63.3 450.5h2.8v2.7h-2.8zM66.1 490.4h2.8v2.7h-2.8zM74.6 445.2h2.8v2.7h-2.8zM85.9 458.5h2.8v2.7h-2.8zM91.5 461.1h2.8v2.7h-2.8zM94.4 372.6h2.8v2.7h-2.8zM97.2 538.3h2.8v2.7h-2.8zM97.2 466.5h2.8v2.7h-2.8zM100 372.6h2.8v2.7h-2.8zM102.8 546.3h2.8v2.7h-2.8zM102.8 469.1h2.8v2.7h-2.8zM102.8 372.6h2.8v2.7h-2.8zM105.6 372.6h2.8v2.7h-2.8zM108.5 482.4h2.8v2.7h-2.8zM111.3 556.9h2.8v2.7h-2.8zM111.3 546.3h2.8v2.7h-2.8zM116.9 551.6h2.8v2.7h-2.8zM116.9 498.4h2.8v2.7h-2.8zM119.8 556.9h2.8v2.7h-2.8zM122.6 556.9h2.8v2.7h-2.8zM122.6 506.4h2.8v2.7h-2.8zM125.4 559.6h2.8v2.7h-2.8zM125.4 511.7h2.8v2.7h-2.8zM125.4 501h2.8v2.7h-2.8zM128.2 554.2h2.8v2.7h-2.8zM128.2 498.4h2.8v2.7h-2.8zM131 556.9h2.8v2.7h-2.8zM133.9 514.3h2.8v2.7h-2.8zM136.7 546.3h2.8v2.7h-2.8zM136.7 538.3h2.8v2.7h-2.8zM136.7 525h2.8v2.7h-2.8zM136.7 509h2.8v2.7h-2.8zM139.5 535.6h2.8v2.7h-2.8zM139.5 527.6h2.8v2.7h-2.8zM142.3 551.6h2.8v2.7h-2.8zM142.3 538.3h2.8v2.7h-2.8zM142.3 530.3h2.8v2.7h-2.8zM145.2 559.6h2.8v2.7h-2.8zM145.2 540.9h2.8v2.7h-2.8zM145.2 533h2.8v2.7h-2.8zM148 554.2h2.8v2.7h-2.8zM148 548.9h2.8v2.7h-2.8zM148 540.9h2.8v2.7h-2.8zM148 535.6h2.8v2.7h-2.8z" fill="#0a70f0"/>
<path d="M57.7 372.6h2.8v2.7h-2.8zM71.8 450.5h2.8v2.7h-2.8zM77.4 458.5h2.8v2.7h-2.8zM80.3 519.7h2.8v2.7h-2.8zM80.3 453.2h2.8v2.7h-2.8zM94.4 471.8h2.8v2.7h-2.8zM97.2 372.6h2.8v2.7h-2.8zM100 543.6h2.8v2.7h-2.8zM100 474.4h2.8v2.7h-2.8zM102.8 479.8h2.8v2.7h-2.8zM105.6 538.3h2.8v2.7h-2.8zM111.3 535.6h2.8v2.7h-2.8zM111.3 487.7h2.8v2.7h-2.8zM114.1 548.9h2.8v2.7h-2.8zM119.8 546.3h2.8v2.7h-2.8zM122.6 548.9h2.8v2.7h-2.8zM122.6 514.3h2.8v2.7h-2.8zM125.4 551.6h2.8v2.7h-2.8zM125.4 543.6h2.8v2.7h-2.8zM128.2 562.2h2.8v2.7h-2.8zM128.2 538.3h2.8v2.7h-2.8zM128.2 522.3h2.8v2.7h-2.8zM131 548.9h2.8v2.7h-2.8zM131 533h2.8v2.7h-2.8zM131 525h2.8v2.7h-2.8zM131 517h2.8v2.7h-2.8zM133.9 551.6h2.8v2.7h-2.8zM133.9 543.6h2.8v2.7h-2.8zM133.9 535.6h2.8v2.7h-2.8zM136.7 554.2h2.8v2.7h-2.8zM136.7 533h2.8v2.7h-2.8zM142.3 543.6h2.8v2.7h-2.8z" fill="#1890e0"/>
<path d="M63.3 477.1h2.8v2.7h-2.8zM63.3 372.6h2.8v2.7h-2.8zM69 458.5h2.8v2.7h-2.8zM77.4 511.7h2.8v2.7h-2.8zM83.1 463.8h2.8v2.7h-2.8zM85.9 372.6h2.8v2.7h-2.8zM88.7 466.5h2.8v2.7h-2.8zM91.5 527.6h2.8v2.7h-2.8zM94.4 533h2.8v2.7h-2.8zM105.6 485.1h2.8v2.7h-2.8zM108.5 543.6h2.8v2.7h-2.8zM108.5 493.1h2.8v2.7h-2.8zM111.3 498.4h2.8v2.7h-2.8zM114.1 493.1h2.8v2.7h-2.8zM116.9 543.6h2.8v2.7h-2.8zM116.9 517h2.8v2.7h-2.8zM119.8 511.7h2.8v2.7h-2.8zM119.8 503.7h2.8v2.7h-2.8zM125.4 519.7h2.8v2.7h-2.8zM128.2 546.3h2.8v2.7h-2.8zM128.2 514.3h2.8v2.7h-2.8zM133.9 530.3h2.8v2.7h-2.8zM133.9 522.3h2.8v2.7h-2.8zM139.5 548.9h2.8v2.7h-2.8z" fill="#10b8c8"/>
<path d="M60.5 458.5h2.8v2.7h-2.8zM80.3 469.1h2.8v2.7h-2.8zM83.1 509h2.8v2.7h-2.8zM83.1 372.6h2.8v2.7h-2.8zM85.9 517h2.8v2.7h-2.8zM88.7 372.6h2.8v2.7h-2.8zM91.5 372.6h2.8v2.7h-2.8zM97.2 477.1h2.8v2.7h-2.8zM102.8 535.6h2.8v2.7h-2.8zM108.5 533h2.8v2.7h-2.8zM114.1 540.9h2.8v2.7h-2.8zM116.9 525h2.8v2.7h-2.8zM116.9 506.4h2.8v2.7h-2.8zM122.6 540.9h2.8v2.7h-2.8zM122.6 533h2.8v2.7h-2.8zM122.6 525h2.8v2.7h-2.8zM125.4 535.6h2.8v2.7h-2.8zM128.2 530.3h2.8v2.7h-2.8zM131 540.9h2.8v2.7h-2.8z" fill="#10e020"/>
<path d="M66.1 466.5h2.8v2.7h-2.8zM69 372.6h2.8v2.7h-2.8zM71.8 372.6h2.8v2.7h-2.8zM74.6 503.7h2.8v2.7h-2.8zM74.6 463.8h2.8v2.7h-2.8zM77.4 372.6h2.8v2.7h-2.8zM88.7 522.3h2.8v2.7h-2.8zM91.5 474.4h2.8v2.7h-2.8zM94.4 482.4h2.8v2.7h-2.8zM97.2 527.6h2.8v2.7h-2.8zM97.2 490.4h2.8v2.7h-2.8zM100 485.1h2.8v2.7h-2.8zM105.6 527.6h2.8v2.7h-2.8zM119.8 519.7h2.8v2.7h-2.8zM125.4 527.6h2.8v2.7h-2.8z" fill="#00e818"/>
<path d="M60.5 372.6h2.8v2.7h-2.8zM66.1 372.6h2.8v2.7h-2.8zM69 479.8h2.8v2.7h-2.8zM71.8 493.1h2.8v2.7h-2.8zM74.6 372.6h2.8v2.7h-2.8zM77.4 477.1h2.8v2.7h-2.8zM80.3 372.6h2.8v2.7h-2.8zM83.1 479.8h2.8v2.7h-2.8zM85.9 503.7h2.8v2.7h-2.8zM85.9 471.8h2.8v2.7h-2.8zM94.4 522.3h2.8v2.7h-2.8zM100 530.3h2.8v2.7h-2.8zM100 495.7h2.8v2.7h-2.8zM102.8 525h2.8v2.7h-2.8zM105.6 495.7h2.8v2.7h-2.8zM108.5 522.3h2.8v2.7h-2.8zM111.3 527.6h2.8v2.7h-2.8zM114.1 530.3h2.8v2.7h-2.8zM114.1 511.7h2.8v2.7h-2.8zM114.1 501h2.8v2.7h-2.8zM116.9 535.6h2.8v2.7h-2.8zM119.8 538.3h2.8v2.7h-2.8zM119.8 530.3h2.8v2.7h-2.8z" fill="#22e810"/>
<path d="M71.8 471.8h2.8v2.7h-2.8zM77.4 493.1h2.8v2.7h-2.8zM80.3 501h2.8v2.7h-2.8zM80.3 485.1h2.8v2.7h-2.8zM91.5 514.3h2.8v2.7h-2.8zM102.8 514.3h2.8v2.7h-2.8zM102.8 490.4h2.8v2.7h-2.8zM108.5 511.7h2.8v2.7h-2.8zM108.5 503.7h2.8v2.7h-2.8zM111.3 517h2.8v2.7h-2.8zM111.3 506.4h2.8v2.7h-2.8z" fill="#66ee22"/>
<path d="M74.6 482.4h2.8v2.7h-2.8zM88.7 482.4h2.8v2.7h-2.8zM91.5 487.7h2.8v2.7h-2.8zM94.4 509h2.8v2.7h-2.8zM100 519.7h2.8v2.7h-2.8zM100 509h2.8v2.7h-2.8zM105.6 506.4h2.8v2.7h-2.8zM114.1 522.3h2.8v2.7h-2.8z" fill="#f55a10"/>
<path d="M88.7 509h2.8v2.7h-2.8zM91.5 501h2.8v2.7h-2.8zM94.4 495.7h2.8v2.7h-2.8zM105.6 517h2.8v2.7h-2.8z" fill="#f04c08"/>
<path d="M83.1 495.7h2.8v2.7h-2.8zM85.9 487.7h2.8v2.7h-2.8zM88.7 495.7h2.8v2.7h-2.8zM97.2 514.3h2.8v2.7h-2.8zM97.2 503.7h2.8v2.7h-2.8zM102.8 501h2.8v2.7h-2.8z" fill="#e63c0c"/>
<rect x="36.5" y="370.6" width="282.2" height="220.4" fill="none" stroke="#222" stroke-width="1.1"/>
<text x="29.3" y="587" font-size="9.5" text-anchor="end" textLength="10.8" lengthAdjust="spacingAndGlyphs" stroke="#000" stroke-width="0.2">20</text>
<text x="29.3" y="533.8" font-size="9.5" text-anchor="end" textLength="10.8" lengthAdjust="spacingAndGlyphs" stroke="#000" stroke-width="0.2">40</text>
<text x="29.3" y="480.5" font-size="9.5" text-anchor="end" textLength="10.8" lengthAdjust="spacingAndGlyphs" stroke="#000" stroke-width="0.2">60</text>
<text x="29.3" y="427.2" font-size="9.5" text-anchor="end" textLength="10.8" lengthAdjust="spacingAndGlyphs" stroke="#000" stroke-width="0.2">80</text>
<text x="29.3" y="374" font-size="9.5" text-anchor="end" textLength="16.2" lengthAdjust="spacingAndGlyphs" stroke="#000" stroke-width="0.2">100</text>
<text x="36.5" y="603" font-size="9.5" text-anchor="middle" textLength="5.4" lengthAdjust="spacingAndGlyphs" stroke="#000" stroke-width="0.2">0</text>
<text x="92.9" y="603" font-size="9.5" text-anchor="middle" textLength="10.8" lengthAdjust="spacingAndGlyphs" stroke="#000" stroke-width="0.2">20</text>
<text x="149.4" y="603" font-size="9.5" text-anchor="middle" textLength="10.8" lengthAdjust="spacingAndGlyphs" stroke="#000" stroke-width="0.2">40</text>
<text x="205.8" y="603" font-size="9.5" text-anchor="middle" textLength="10.8" lengthAdjust="spacingAndGlyphs" stroke="#000" stroke-width="0.2">60</text>
<text x="262.3" y="603" font-size="9.5" text-anchor="middle" textLength="10.8" lengthAdjust="spacingAndGlyphs" stroke="#000" stroke-width="0.2">80</text>
<text x="318.7" y="603" font-size="9.5" text-anchor="middle" textLength="16.2" lengthAdjust="spacingAndGlyphs" stroke="#000" stroke-width="0.2">100</text>
<path d="M31 583.6H36.5M31 530.4H36.5M31 477.1H36.5M31 423.9H36.5M31 370.6H36.5M36.5 591v5M92.9 591v5M149.4 591v5M205.8 591v5M262.3 591v5M318.7 591v5" stroke="#222" stroke-width="1"/>
<path d="M31.5 587.5l10 -3M31.5 590l10 -3" stroke="#111" stroke-width="1.1"/>
<text x="121.2" y="618.5" font-size="10" textLength="132.5" lengthAdjust="spacingAndGlyphs" stroke="#000" stroke-width="0.1">Length in aminoacids (0–100)</text>
<text x="8.2" y="493" font-size="10" text-anchor="middle" textLength="90" lengthAdjust="spacingAndGlyphs" transform="rotate(-90 8.2 493)" stroke="#000" stroke-width="0.1">Similarity (0–100%)</text>
<rect x="331.8" y="577" width="9.2" height="15.1" fill="#2a10f0"/>
<rect x="331.8" y="562.3" width="9.2" height="15.1" fill="#1040e0"/>
<rect x="331.8" y="547.5" width="9.2" height="15.1" fill="#0a70f0"/>
<rect x="331.8" y="532.8" width="9.2" height="15.1" fill="#1890e0"/>
<rect x="331.8" y="518" width="9.2" height="15.1" fill="#10b8c8"/>
<rect x="331.8" y="503.3" width="9.2" height="15.1" fill="#10e020"/>
<rect x="331.8" y="488.5" width="9.2" height="15.1" fill="#00e818"/>
<rect x="331.8" y="473.8" width="9.2" height="15.1" fill="#22e810"/>
<rect x="331.8" y="459" width="9.2" height="15.1" fill="#66ee22"/>
<rect x="331.8" y="444.3" width="9.2" height="15.1" fill="#f55a10"/>
<rect x="331.8" y="429.5" width="9.2" height="15.1" fill="#f04c08"/>
<rect x="331.8" y="414.8" width="9.2" height="15.1" fill="#e63c0c"/>
<rect x="331.8" y="400" width="9.2" height="15.1" fill="#dc2a18"/>
<rect x="331.8" y="385.3" width="9.2" height="15.1" fill="#e4002c"/>
<rect x="331.8" y="370.5" width="9.2" height="15.1" fill="#f5dcb4"/>
<rect x="331.8" y="370.5" width="9.2" height="221.3" fill="none" stroke="#777" stroke-width="0.5"/>
<text x="343" y="595.1" font-size="9.2" textLength="5.1" lengthAdjust="spacingAndGlyphs" stroke="#000" stroke-width="0.15">0</text>
<text x="343" y="550.8" font-size="9.2" textLength="10.2" lengthAdjust="spacingAndGlyphs" stroke="#000" stroke-width="0.15">20</text>
<text x="343" y="506.6" font-size="9.2" textLength="10.2" lengthAdjust="spacingAndGlyphs" stroke="#000" stroke-width="0.15">40</text>
<text x="343" y="462.3" font-size="9.2" textLength="10.2" lengthAdjust="spacingAndGlyphs" stroke="#000" stroke-width="0.15">60</text>
<text x="343" y="418.1" font-size="9.2" textLength="10.2" lengthAdjust="spacingAndGlyphs" stroke="#000" stroke-width="0.15">80</text>
<text x="343" y="373.8" font-size="9.2" textLength="15.3" lengthAdjust="spacingAndGlyphs" stroke="#000" stroke-width="0.15">100</text>
<path d="M341 591.8h3M341 547.5h3M341 503.3h3M341 459h3M341 414.8h3M341 370.5h3" stroke="#111" stroke-width="0.9"/>
<path d="M465.6 402.7h2.8v2.7h-2.8zM468.4 400h2.8v2.7h-2.8zM468.4 372.6h2.8v2.7h-2.8zM471.2 450.7h2.8v2.7h-2.8zM474.1 442.7h2.8v2.7h-2.8zM474.1 394.7h2.8v2.7h-2.8zM474.1 372.6h2.8v2.7h-2.8zM476.9 458.6h2.8v2.7h-2.8zM476.9 392h2.8v2.7h-2.8zM479.7 472h2.8v2.7h-2.8zM479.7 410.7h2.8v2.7h-2.8zM479.7 389.4h2.8v2.7h-2.8zM482.5 482.6h2.8v2.7h-2.8zM482.5 464h2.8v2.7h-2.8zM485.3 493.3h2.8v2.7h-2.8zM485.3 424h2.8v2.7h-2.8zM485.3 405.3h2.8v2.7h-2.8zM488.1 485.3h2.8v2.7h-2.8zM488.1 434.7h2.8v2.7h-2.8zM488.1 418.7h2.8v2.7h-2.8zM491 496h2.8v2.7h-2.8zM493.8 503.9h2.8v2.7h-2.8zM493.8 458.6h2.8v2.7h-2.8zM493.8 442.7h2.8v2.7h-2.8zM496.6 509.3h2.8v2.7h-2.8zM496.6 453.3h2.8v2.7h-2.8zM499.4 461.3h2.8v2.7h-2.8zM499.4 372.6h2.8v2.7h-2.8zM502.2 522.6h2.8v2.7h-2.8zM502.2 472h2.8v2.7h-2.8zM505 527.9h2.8v2.7h-2.8zM507.8 530.6h2.8v2.7h-2.8zM507.8 519.9h2.8v2.7h-2.8zM507.8 474.6h2.8v2.7h-2.8zM507.8 461.3h2.8v2.7h-2.8zM510.7 535.9h2.8v2.7h-2.8zM510.7 525.3h2.8v2.7h-2.8zM510.7 480h2.8v2.7h-2.8zM510.7 469.3h2.8v2.7h-2.8zM513.5 538.6h2.8v2.7h-2.8zM513.5 527.9h2.8v2.7h-2.8zM513.5 485.3h2.8v2.7h-2.8zM513.5 474.6h2.8v2.7h-2.8zM516.3 543.9h2.8v2.7h-2.8zM516.3 533.3h2.8v2.7h-2.8zM516.3 482.6h2.8v2.7h-2.8zM516.3 372.6h2.8v2.7h-2.8zM519.1 546.6h2.8v2.7h-2.8zM519.1 535.9h2.8v2.7h-2.8zM519.1 488h2.8v2.7h-2.8zM519.1 477.3h2.8v2.7h-2.8zM521.9 541.3h2.8v2.7h-2.8zM521.9 372.6h2.8v2.7h-2.8zM524.7 551.9h2.8v2.7h-2.8zM524.7 543.9h2.8v2.7h-2.8zM524.7 506.6h2.8v2.7h-2.8zM524.7 498.6h2.8v2.7h-2.8zM524.7 488h2.8v2.7h-2.8zM527.6 557.2h2.8v2.7h-2.8zM527.6 546.6h2.8v2.7h-2.8zM527.6 538.6h2.8v2.7h-2.8zM527.6 503.9h2.8v2.7h-2.8zM530.4 549.3h2.8v2.7h-2.8zM530.4 541.3h2.8v2.7h-2.8zM530.4 506.6h2.8v2.7h-2.8zM530.4 498.6h2.8v2.7h-2.8zM533.2 543.9h2.8v2.7h-2.8zM533.2 519.9h2.8v2.7h-2.8zM533.2 511.9h2.8v2.7h-2.8zM533.2 501.3h2.8v2.7h-2.8zM536 562.6h2.8v2.7h-2.8zM536 554.6h2.8v2.7h-2.8zM536 546.6h2.8v2.7h-2.8zM536 538.6h2.8v2.7h-2.8zM536 514.6h2.8v2.7h-2.8zM536 506.6h2.8v2.7h-2.8zM536 372.6h2.8v2.7h-2.8zM538.8 565.2h2.8v2.7h-2.8zM538.8 557.2h2.8v2.7h-2.8zM538.8 549.3h2.8v2.7h-2.8zM538.8 525.3h2.8v2.7h-2.8zM538.8 517.3h2.8v2.7h-2.8zM538.8 509.3h2.8v2.7h-2.8zM541.6 559.9h2.8v2.7h-2.8zM541.6 551.9h2.8v2.7h-2.8zM541.6 522.6h2.8v2.7h-2.8zM541.6 514.6h2.8v2.7h-2.8zM541.6 506.6h2.8v2.7h-2.8zM541.6 372.6h2.8v2.7h-2.8zM544.4 562.6h2.8v2.7h-2.8zM544.4 554.6h2.8v2.7h-2.8zM544.4 546.6h2.8v2.7h-2.8zM544.4 538.6h2.8v2.7h-2.8zM544.4 533.3h2.8v2.7h-2.8zM544.4 517.3h2.8v2.7h-2.8zM544.4 509.3h2.8v2.7h-2.8zM547.3 557.2h2.8v2.7h-2.8zM547.3 549.3h2.8v2.7h-2.8zM547.3 541.3h2.8v2.7h-2.8zM547.3 535.9h2.8v2.7h-2.8zM547.3 527.9h2.8v2.7h-2.8zM547.3 519.9h2.8v2.7h-2.8zM547.3 514.6h2.8v2.7h-2.8zM550.1 565.2h2.8v2.7h-2.8zM550.1 559.9h2.8v2.7h-2.8zM550.1 551.9h2.8v2.7h-2.8zM550.1 543.9h2.8v2.7h-2.8zM550.1 538.6h2.8v2.7h-2.8zM550.1 530.6h2.8v2.7h-2.8zM550.1 522.6h2.8v2.7h-2.8zM550.1 517.3h2.8v2.7h-2.8zM550.1 509.3h2.8v2.7h-2.8zM552.9 567.9h2.8v2.7h-2.8zM552.9 559.9h2.8v2.7h-2.8zM552.9 554.6h2.8v2.7h-2.8zM552.9 546.6h2.8v2.7h-2.8zM552.9 541.3h2.8v2.7h-2.8zM552.9 525.3h2.8v2.7h-2.8zM552.9 519.9h2.8v2.7h-2.8zM555.7 567.9h2.8v2.7h-2.8zM555.7 562.6h2.8v2.7h-2.8zM555.7 554.6h2.8v2.7h-2.8zM555.7 549.3h2.8v2.7h-2.8zM555.7 535.9h2.8v2.7h-2.8zM555.7 527.9h2.8v2.7h-2.8zM555.7 522.6h2.8v2.7h-2.8zM555.7 514.6h2.8v2.7h-2.8zM558.5 557.2h2.8v2.7h-2.8zM558.5 551.9h2.8v2.7h-2.8zM558.5 543.9h2.8v2.7h-2.8zM558.5 538.6h2.8v2.7h-2.8zM558.5 530.6h2.8v2.7h-2.8zM558.5 525.3h2.8v2.7h-2.8zM561.3 565.2h2.8v2.7h-2.8zM561.3 554.6h2.8v2.7h-2.8zM561.3 546.6h2.8v2.7h-2.8zM561.3 533.3h2.8v2.7h-2.8zM561.3 527.9h2.8v2.7h-2.8zM561.3 522.6h2.8v2.7h-2.8zM561.3 514.6h2.8v2.7h-2.8zM564.1 554.6h2.8v2.7h-2.8zM564.1 549.3h2.8v2.7h-2.8zM564.1 543.9h2.8v2.7h-2.8zM564.1 535.9h2.8v2.7h-2.8zM567 575.9h2.8v2.7h-2.8zM567 562.6h2.8v2.7h-2.8zM567 557.2h2.8v2.7h-2.8zM567 551.9h2.8v2.7h-2.8zM567 543.9h2.8v2.7h-2.8zM567 538.6h2.8v2.7h-2.8zM567 509.3h2.8v2.7h-2.8zM569.8 570.6h2.8v2.7h-2.8zM569.8 559.9h2.8v2.7h-2.8zM569.8 546.6h2.8v2.7h-2.8zM569.8 541.3h2.8v2.7h-2.8zM569.8 527.9h2.8v2.7h-2.8zM569.8 522.6h2.8v2.7h-2.8zM572.6 578.6h2.8v2.7h-2.8zM572.6 565.2h2.8v2.7h-2.8zM572.6 559.9h2.8v2.7h-2.8zM572.6 554.6h2.8v2.7h-2.8zM572.6 549.3h2.8v2.7h-2.8zM572.6 543.9h2.8v2.7h-2.8zM572.6 538.6h2.8v2.7h-2.8zM572.6 530.6h2.8v2.7h-2.8zM575.4 567.9h2.8v2.7h-2.8zM575.4 551.9h2.8v2.7h-2.8zM575.4 543.9h2.8v2.7h-2.8zM575.4 538.6h2.8v2.7h-2.8zM575.4 533.3h2.8v2.7h-2.8zM578.2 567.9h2.8v2.7h-2.8zM578.2 562.6h2.8v2.7h-2.8zM578.2 557.2h2.8v2.7h-2.8zM578.2 551.9h2.8v2.7h-2.8zM578.2 541.3h2.8v2.7h-2.8zM578.2 535.9h2.8v2.7h-2.8zM581 554.6h2.8v2.7h-2.8zM581 543.9h2.8v2.7h-2.8zM581 538.6h2.8v2.7h-2.8zM583.9 567.9h2.8v2.7h-2.8zM583.9 562.6h2.8v2.7h-2.8zM583.9 557.2h2.8v2.7h-2.8zM583.9 551.9h2.8v2.7h-2.8zM583.9 546.6h2.8v2.7h-2.8zM583.9 535.9h2.8v2.7h-2.8zM583.9 530.6h2.8v2.7h-2.8zM586.7 578.6h2.8v2.7h-2.8zM586.7 562.6h2.8v2.7h-2.8zM586.7 557.2h2.8v2.7h-2.8zM586.7 551.9h2.8v2.7h-2.8zM586.7 546.6h2.8v2.7h-2.8zM586.7 535.9h2.8v2.7h-2.8zM589.5 559.9h2.8v2.7h-2.8zM589.5 549.3h2.8v2.7h-2.8zM589.5 543.9h2.8v2.7h-2.8zM589.5 538.6h2.8v2.7h-2.8zM589.5 533.3h2.8v2.7h-2.8zM592.3 559.9h2.8v2.7h-2.8zM592.3 554.6h2.8v2.7h-2.8zM592.3 549.3h2.8v2.7h-2.8zM592.3 546.6h2.8v2.7h-2.8zM592.3 541.3h2.8v2.7h-2.8zM595.1 570.6h2.8v2.7h-2.8zM595.1 567.9h2.8v2.7h-2.8zM595.1 551.9h2.8v2.7h-2.8zM595.1 546.6h2.8v2.7h-2.8zM595.1 541.3h2.8v2.7h-2.8zM595.1 535.9h2.8v2.7h-2.8zM595.1 533.3h2.8v2.7h-2.8zM597.9 557.2h2.8v2.7h-2.8zM597.9 554.6h2.8v2.7h-2.8zM597.9 538.6h2.8v2.7h-2.8zM597.9 533.3h2.8v2.7h-2.8zM600.7 567.9h2.8v2.7h-2.8zM600.7 549.3h2.8v2.7h-2.8zM600.7 546.6h2.8v2.7h-2.8zM603.6 557.2h2.8v2.7h-2.8zM603.6 541.3h2.8v2.7h-2.8zM606.4 567.9h2.8v2.7h-2.8zM606.4 557.2h2.8v2.7h-2.8zM606.4 543.9h2.8v2.7h-2.8zM606.4 535.9h2.8v2.7h-2.8zM606.4 530.6h2.8v2.7h-2.8zM606.4 525.3h2.8v2.7h-2.8zM612 567.9h2.8v2.7h-2.8zM612 565.2h2.8v2.7h-2.8zM612 554.6h2.8v2.7h-2.8zM612 551.9h2.8v2.7h-2.8zM612 541.3h2.8v2.7h-2.8zM614.8 562.6h2.8v2.7h-2.8zM614.8 557.2h2.8v2.7h-2.8zM614.8 551.9h2.8v2.7h-2.8zM614.8 549.3h2.8v2.7h-2.8zM614.8 527.9h2.8v2.7h-2.8zM617.6 581.2h2.8v2.7h-2.8zM617.6 557.2h2.8v2.7h-2.8zM617.6 549.3h2.8v2.7h-2.8zM617.6 546.6h2.8v2.7h-2.8zM617.6 541.3h2.8v2.7h-2.8zM620.4 573.2h2.8v2.7h-2.8zM620.4 559.9h2.8v2.7h-2.8zM620.4 551.9h2.8v2.7h-2.8zM620.4 546.6h2.8v2.7h-2.8zM623.3 565.2h2.8v2.7h-2.8zM623.3 551.9h2.8v2.7h-2.8zM623.3 543.9h2.8v2.7h-2.8zM626.1 562.6h2.8v2.7h-2.8zM626.1 557.2h2.8v2.7h-2.8zM626.1 549.3h2.8v2.7h-2.8zM626.1 533.3h2.8v2.7h-2.8zM628.9 567.9h2.8v2.7h-2.8zM628.9 562.6h2.8v2.7h-2.8zM628.9 554.6h2.8v2.7h-2.8zM628.9 551.9h2.8v2.7h-2.8zM628.9 543.9h2.8v2.7h-2.8zM631.7 565.2h2.8v2.7h-2.8zM631.7 557.2h2.8v2.7h-2.8zM631.7 541.3h2.8v2.7h-2.8zM634.5 554.6h2.8v2.7h-2.8zM637.3 559.9h2.8v2.7h-2.8zM637.3 551.9h2.8v2.7h-2.8zM637.3 543.9h2.8v2.7h-2.8zM643 573.2h2.8v2.7h-2.8zM643 559.9h2.8v2.7h-2.8zM643 538.6h2.8v2.7h-2.8zM645.8 567.9h2.8v2.7h-2.8zM645.8 565.2h2.8v2.7h-2.8zM645.8 543.9h2.8v2.7h-2.8zM648.6 565.2h2.8v2.7h-2.8zM651.4 559.9h2.8v2.7h-2.8zM659.9 567.9h2.8v2.7h-2.8zM665.5 554.6h2.8v2.7h-2.8zM671.1 554.6h2.8v2.7h-2.8z" fill="#2a10f0"/>
<path d="M471.2 424h2.8v2.7h-2.8zM474.1 418.7h2.8v2.7h-2.8zM476.9 434.7h2.8v2.7h-2.8zM476.9 413.3h2.8v2.7h-2.8zM479.7 450.7h2.8v2.7h-2.8zM485.3 477.3h2.8v2.7h-2.8zM485.3 458.6h2.8v2.7h-2.8zM485.3 440h2.8v2.7h-2.8zM491 480h2.8v2.7h-2.8zM496.6 496h2.8v2.7h-2.8zM496.6 482.6h2.8v2.7h-2.8zM499.4 501.3h2.8v2.7h-2.8zM499.4 474.6h2.8v2.7h-2.8zM502.2 509.3h2.8v2.7h-2.8zM505 514.6h2.8v2.7h-2.8zM507.8 509.3h2.8v2.7h-2.8zM510.7 490.6h2.8v2.7h-2.8zM513.5 517.3h2.8v2.7h-2.8zM516.3 522.6h2.8v2.7h-2.8zM516.3 493.3h2.8v2.7h-2.8zM519.1 527.9h2.8v2.7h-2.8zM519.1 506.6h2.8v2.7h-2.8zM519.1 498.6h2.8v2.7h-2.8zM521.9 530.6h2.8v2.7h-2.8zM521.9 511.9h2.8v2.7h-2.8zM521.9 501.3h2.8v2.7h-2.8zM524.7 535.9h2.8v2.7h-2.8zM524.7 517.3h2.8v2.7h-2.8zM527.6 530.6h2.8v2.7h-2.8zM527.6 519.9h2.8v2.7h-2.8zM527.6 511.9h2.8v2.7h-2.8zM530.4 533.3h2.8v2.7h-2.8zM530.4 525.3h2.8v2.7h-2.8zM530.4 514.6h2.8v2.7h-2.8zM533.2 535.9h2.8v2.7h-2.8zM533.2 527.9h2.8v2.7h-2.8zM536 522.6h2.8v2.7h-2.8zM538.8 541.3h2.8v2.7h-2.8zM538.8 533.3h2.8v2.7h-2.8zM541.6 543.9h2.8v2.7h-2.8zM541.6 535.9h2.8v2.7h-2.8zM541.6 530.6h2.8v2.7h-2.8zM544.4 525.3h2.8v2.7h-2.8zM552.9 533.3h2.8v2.7h-2.8zM555.7 541.3h2.8v2.7h-2.8zM561.3 541.3h2.8v2.7h-2.8z" fill="#1040e0"/>
<path d="M471.2 397.4h2.8v2.7h-2.8zM479.7 432h2.8v2.7h-2.8zM482.5 445.3h2.8v2.7h-2.8zM482.5 426.7h2.8v2.7h-2.8zM488.1 469.3h2.8v2.7h-2.8zM491 464h2.8v2.7h-2.8zM491 448h2.8v2.7h-2.8zM493.8 488h2.8v2.7h-2.8zM493.8 472h2.8v2.7h-2.8zM496.6 466.6h2.8v2.7h-2.8zM502.2 496h2.8v2.7h-2.8zM502.2 482.6h2.8v2.7h-2.8zM505 503.9h2.8v2.7h-2.8zM505 477.3h2.8v2.7h-2.8zM507.8 496h2.8v2.7h-2.8zM507.8 485.3h2.8v2.7h-2.8zM510.7 514.6h2.8v2.7h-2.8zM510.7 501.3h2.8v2.7h-2.8zM513.5 496h2.8v2.7h-2.8zM516.3 511.9h2.8v2.7h-2.8zM516.3 503.9h2.8v2.7h-2.8zM519.1 517.3h2.8v2.7h-2.8zM521.9 522.6h2.8v2.7h-2.8zM536 530.6h2.8v2.7h-2.8z" fill="#0a70f0"/>
<path d="M488.1 453.3h2.8v2.7h-2.8zM499.4 488h2.8v2.7h-2.8zM505 490.6h2.8v2.7h-2.8zM513.5 506.6h2.8v2.7h-2.8zM524.7 525.3h2.8v2.7h-2.8z" fill="#1890e0"/>
<rect x="444.5" y="370.6" width="282.2" height="219.9" fill="none" stroke="#222" stroke-width="1.1"/>
<text x="437.3" y="588.7" font-size="9.5" text-anchor="end" textLength="10.8" lengthAdjust="spacingAndGlyphs" stroke="#000" stroke-width="0.2">20</text>
<text x="437.3" y="535" font-size="9.5" text-anchor="end" textLength="10.8" lengthAdjust="spacingAndGlyphs" stroke="#000" stroke-width="0.2">40</text>
<text x="437.3" y="481.3" font-size="9.5" text-anchor="end" textLength="10.8" lengthAdjust="spacingAndGlyphs" stroke="#000" stroke-width="0.2">60</text>
<text x="437.3" y="427.7" font-size="9.5" text-anchor="end" textLength="10.8" lengthAdjust="spacingAndGlyphs" stroke="#000" stroke-width="0.2">80</text>
<text x="437.3" y="374" font-size="9.5" text-anchor="end" textLength="16.2" lengthAdjust="spacingAndGlyphs" stroke="#000" stroke-width="0.2">100</text>
<text x="444.5" y="602.5" font-size="9.5" text-anchor="middle" textLength="5.4" lengthAdjust="spacingAndGlyphs" stroke="#000" stroke-width="0.2">0</text>
<text x="500.8" y="602.5" font-size="9.5" text-anchor="middle" textLength="10.8" lengthAdjust="spacingAndGlyphs" stroke="#000" stroke-width="0.2">20</text>
<text x="557.1" y="602.5" font-size="9.5" text-anchor="middle" textLength="10.8" lengthAdjust="spacingAndGlyphs" stroke="#000" stroke-width="0.2">40</text>
<text x="613.4" y="602.5" font-size="9.5" text-anchor="middle" textLength="10.8" lengthAdjust="spacingAndGlyphs" stroke="#000" stroke-width="0.2">60</text>
<text x="669.7" y="602.5" font-size="9.5" text-anchor="middle" textLength="10.8" lengthAdjust="spacingAndGlyphs" stroke="#000" stroke-width="0.2">80</text>
<text x="726" y="602.5" font-size="9.5" text-anchor="middle" textLength="16.2" lengthAdjust="spacingAndGlyphs" stroke="#000" stroke-width="0.2">100</text>
<path d="M439 585.3H444.5M439 531.6H444.5M439 477.9H444.5M439 424.3H444.5M439 370.6H444.5M444.5 590.5v5M500.8 590.5v5M557.1 590.5v5M613.4 590.5v5M669.7 590.5v5M726 590.5v5" stroke="#222" stroke-width="1"/>
<path d="M439.5 587l10 -3M439.5 589.5l10 -3" stroke="#111" stroke-width="1.1"/>
<text x="546.8" y="618" font-size="10" textLength="132.5" lengthAdjust="spacingAndGlyphs" stroke="#000" stroke-width="0.1">Length in aminoacids (0–100)</text>
<text x="409.2" y="493" font-size="10" text-anchor="middle" textLength="90" lengthAdjust="spacingAndGlyphs" transform="rotate(-90 409.2 493)" stroke="#000" stroke-width="0.1">Similarity (0–100%)</text>
<rect x="742.3" y="575.5" width="10.4" height="15" fill="#2a10f0"/>
<rect x="742.3" y="560.9" width="10.4" height="15" fill="#1040e0"/>
<rect x="742.3" y="546.2" width="10.4" height="15" fill="#0a70f0"/>
<rect x="742.3" y="531.6" width="10.4" height="15" fill="#1890e0"/>
<rect x="742.3" y="516.9" width="10.4" height="15" fill="#10b8c8"/>
<rect x="742.3" y="502.3" width="10.4" height="15" fill="#10e020"/>
<rect x="742.3" y="487.6" width="10.4" height="15" fill="#00e818"/>
<rect x="742.3" y="473" width="10.4" height="15" fill="#22e810"/>
<rect x="742.3" y="458.3" width="10.4" height="15" fill="#66ee22"/>
<rect x="742.3" y="443.7" width="10.4" height="15" fill="#f55a10"/>
<rect x="742.3" y="429" width="10.4" height="15" fill="#f04c08"/>
<rect x="742.3" y="414.4" width="10.4" height="15" fill="#e63c0c"/>
<rect x="742.3" y="399.7" width="10.4" height="15" fill="#dc2a18"/>
<rect x="742.3" y="385.1" width="10.4" height="15" fill="#e4002c"/>
<rect x="742.3" y="370.4" width="10.4" height="15" fill="#f5dcb4"/>
<rect x="742.3" y="370.4" width="10.4" height="219.8" fill="none" stroke="#777" stroke-width="0.5"/>
<text x="754" y="593.5" font-size="9.2" textLength="5.1" lengthAdjust="spacingAndGlyphs" stroke="#000" stroke-width="0.15">0</text>
<text x="754" y="549.5" font-size="9.2" textLength="10.2" lengthAdjust="spacingAndGlyphs" stroke="#000" stroke-width="0.15">20</text>
<text x="754" y="505.6" font-size="9.2" textLength="10.2" lengthAdjust="spacingAndGlyphs" stroke="#000" stroke-width="0.15">40</text>
<text x="754" y="461.6" font-size="9.2" textLength="10.2" lengthAdjust="spacingAndGlyphs" stroke="#000" stroke-width="0.15">60</text>
<text x="754" y="417.7" font-size="9.2" textLength="10.2" lengthAdjust="spacingAndGlyphs" stroke="#000" stroke-width="0.15">80</text>
<text x="754" y="373.7" font-size="9.2" textLength="15.3" lengthAdjust="spacingAndGlyphs" stroke="#000" stroke-width="0.15">100</text>
<path d="M752.7 590.2h3M752.7 546.2h3M752.7 502.3h3M752.7 458.3h3M752.7 414.4h3M752.7 370.4h3" stroke="#111" stroke-width="0.9"/>
<text x="302" y="634.6" font-size="19.5" textLength="25.7" lengthAdjust="spacingAndGlyphs" stroke="#000" stroke-width="0.5">(d)</text>
<text x="331.4" y="634.4" font-size="12.9" font-weight="bold" textLength="164.9" lengthAdjust="spacingAndGlyphs" stroke="#000" stroke-width="0.6">Annotational mapping</text>
<path d="M108.7 759.6h1.8M117.7 781.2h1.8M121.3 781.2h1.8M124.9 781.2h1.8M119.5 788.4h1.8M128.5 795.6h1.8" stroke="#1e1e1e" stroke-width="7.3" fill="none" shape-rendering="crispEdges"/>
<path d="M115.9 687.6h1.8M105.1 716.4h1.8M105.1 730.8h1.8M112.3 730.8h1.8M110.5 766.8h1.8M126.7 788.4h1.8" stroke="#282828" stroke-width="7.3" fill="none" shape-rendering="crispEdges"/>
<path d="M119.5 687.6h1.8M108.7 702h1.8M110.5 709.2h1.8M117.7 709.2h1.8M115.9 716.4h1.8M114.1 723.6h1.8M117.7 723.6h1.8M114.1 752.4h1.8M112.3 759.6h1.8M119.5 759.6h1.8M115.9 774h1.8M137.5 802.8h1.8" stroke="#323232" stroke-width="7.3" fill="none" shape-rendering="crispEdges"/>
<path d="M112.3 687.6h1.8M117.7 694.8h1.8M115.9 702h1.8M114.1 709.2h1.8M112.3 716.4h1.8M119.5 716.4h1.8M115.9 730.8h1.8M110.5 738h1.8M108.7 745.2h1.8M112.3 745.2h1.8M115.9 759.6h1.8M112.3 766.8h3.6M117.7 766.8h1.8" stroke="#3c3c3c" stroke-width="7.3" fill="none" shape-rendering="crispEdges"/>
<path d="M108.7 687.6h1.8M119.5 694.8h1.8M119.5 730.8h1.8M117.7 738h1.8M106.9 752.4h1.8M117.7 752.4h1.8M123.1 759.6h3.6M121.3 766.8h1.8M130.3 774h1.8M133.9 774h1.8M130.3 802.8h1.8" stroke="#464646" stroke-width="7.3" fill="none" shape-rendering="crispEdges"/>
<path d="M106.9 694.8h1.8M110.5 694.8h1.8M114.1 694.8h1.8M112.3 702h1.8M108.7 709.2h1.8M121.3 709.2h1.8M124.9 709.2h1.8M108.7 716.4h1.8M105.1 723.6h3.6M110.5 723.6h1.8M108.7 730.8h3.6M106.9 738h1.8M105.1 745.2h3.6M123.1 745.2h1.8M121.3 752.4h1.8M124.9 752.4h1.8M126.7 759.6h1.8M130.3 759.6h1.8M128.5 766.8h1.8M137.5 774h1.8M139.3 781.2h1.8M123.1 788.4h1.8M130.3 788.4h1.8M141.1 788.4h1.8M124.9 795.6h1.8M132.1 795.6h1.8M141.1 795.6h3.6" stroke="#505050" stroke-width="7.3" fill="none" shape-rendering="crispEdges"/>
<path d="M216.7 658.8h1.8M115.9 666h1.8M204.1 666h1.8M123.1 687.6h1.8M121.3 694.8h1.8M123.1 702h1.8M121.3 723.6h1.8M124.9 723.6h1.8M123.1 730.8h1.8M126.7 730.8h1.8M121.3 738h1.8M128.5 738h1.8M126.7 745.2h1.8M128.5 752.4h1.8M124.9 766.8h1.8M132.1 766.8h1.8M135.7 766.8h1.8M135.7 781.2h1.8M137.5 788.4h1.8M135.7 795.6h5.4M141.1 802.8h1.8" stroke="#5a5a5a" stroke-width="7.3" fill="none" shape-rendering="crispEdges"/>
<path d="M101.5 658.8h14.4M119.5 658.8h3.6M126.7 658.8h3.6M133.9 658.8h3.6M142.9 658.8h3.6M150.1 658.8h10.8M166.3 658.8h1.8M173.5 658.8h1.8M180.7 658.8h5.4M187.9 658.8h3.6M196.9 658.8h5.4M209.5 658.8h3.6M214.9 658.8h1.8M229.3 658.8h1.8M232.9 658.8h1.8M241.9 658.8h1.8M245.5 658.8h1.8M250.9 658.8h3.6M263.5 658.8h3.6M281.5 658.8h5.4M288.7 658.8h1.8M292.3 658.8h1.8M99.7 666h9M114.1 666h1.8M117.7 666h1.8M121.3 666h1.8M124.9 666h9M137.5 666h5.4M144.7 666h18M164.5 666h9M175.3 666h3.6M182.5 666h7.2M198.7 666h1.8M202.3 666h1.8M213.1 666h1.8M216.7 666h7.2M225.7 666h5.4M232.9 666h9M247.3 666h1.8M250.9 666h7.2M259.9 666h7.2M268.9 666h5.4M276.1 666h1.8M279.7 666h5.4M292.3 666h3.6M312.1 666h1.8M101.5 673.2h9M119.5 673.2h1.8M124.9 673.2h1.8M128.5 673.2h7.2M137.5 673.2h5.4M144.7 673.2h1.8M148.3 673.2h1.8M155.5 673.2h5.4M162.7 673.2h1.8M169.9 673.2h7.2M186.1 673.2h1.8M189.7 673.2h3.6M204.1 673.2h1.8M207.7 673.2h1.8M220.3 673.2h3.6M225.7 673.2h3.6M234.7 673.2h5.4M247.3 673.2h1.8M250.9 673.2h1.8M263.5 673.2h1.8M267.1 673.2h5.4M295.9 673.2h1.8M178.9 680.4h1.8M207.7 680.4h1.8M130.3 687.6h1.8M128.5 694.8h1.8M126.7 702h1.8M128.5 709.2h1.8M123.1 716.4h1.8M126.7 716.4h1.8M130.3 730.8h1.8M124.9 738h1.8M130.3 745.2h1.8M137.5 745.2h1.8M132.1 752.4h1.8M133.9 759.6h1.8M139.3 766.8h1.8M141.1 774h1.8M144.7 774h1.8M150.1 774h1.8M155.5 774h1.8M159.1 774h1.8M178.9 774h3.6M146.5 781.2h1.8M150.1 781.2h1.8M153.7 781.2h1.8M168.1 781.2h1.8M178.9 781.2h1.8M144.7 788.4h1.8M148.3 788.4h1.8M153.7 788.4h3.6M159.1 788.4h3.6M207.7 788.4h1.8M144.7 795.6h3.6M144.7 802.8h1.8M148.3 802.8h1.8M151.9 802.8h1.8" stroke="#646464" stroke-width="7.3" fill="none" shape-rendering="crispEdges"/>
<path d="M99.7 651.6h1.8M105.1 651.6h1.8M108.7 651.6h3.6M114.1 651.6h1.8M117.7 651.6h3.6M123.1 651.6h3.6M132.1 651.6h1.8M139.3 651.6h3.6M153.7 651.6h5.4M164.5 651.6h3.6M169.9 651.6h1.8M178.9 651.6h1.8M186.1 651.6h1.8M211.3 651.6h3.6M229.3 651.6h1.8M240.1 651.6h1.8M258.1 651.6h1.8M301.3 651.6h1.8M99.7 658.8h1.8M115.9 658.8h3.6M123.1 658.8h3.6M130.3 658.8h3.6M137.5 658.8h5.4M146.5 658.8h3.6M160.9 658.8h5.4M168.1 658.8h5.4M175.3 658.8h5.4M186.1 658.8h1.8M191.5 658.8h5.4M202.3 658.8h7.2M213.1 658.8h1.8M218.5 658.8h10.8M231.1 658.8h1.8M234.7 658.8h7.2M243.7 658.8h1.8M247.3 658.8h3.6M254.5 658.8h9M267.1 658.8h14.4M286.9 658.8h1.8M290.5 658.8h1.8M294.1 658.8h14.4M312.1 658.8h10.8M324.7 658.8h3.6M330.1 658.8h1.8M333.7 658.8h7.2M346.3 658.8h3.6M351.7 658.8h1.8M355.3 658.8h10.8M367.9 658.8h1.8M380.5 658.8h3.6M385.9 658.8h5.4M394.9 658.8h1.8M400.3 658.8h1.8M414.7 658.8h1.8M108.7 666h5.4M119.5 666h1.8M123.1 666h1.8M133.9 666h3.6M142.9 666h1.8M162.7 666h1.8M173.5 666h1.8M178.9 666h3.6M189.7 666h9M200.5 666h1.8M205.9 666h7.2M214.9 666h1.8M223.9 666h1.8M231.1 666h1.8M241.9 666h5.4M249.1 666h1.8M258.1 666h1.8M267.1 666h1.8M274.3 666h1.8M277.9 666h1.8M285.1 666h7.2M295.9 666h16.2M313.9 666h18M333.7 666h3.6M339.1 666h1.8M342.7 666h10.8M355.3 666h3.6M362.5 666h1.8M367.9 666h9M378.7 666h5.4M387.7 666h3.6M394.9 666h5.4M402.1 666h3.6M429.1 666h1.8M110.5 673.2h9M121.3 673.2h3.6M126.7 673.2h1.8M135.7 673.2h1.8M142.9 673.2h1.8M146.5 673.2h1.8M150.1 673.2h5.4M160.9 673.2h1.8M164.5 673.2h5.4M177.1 673.2h9M187.9 673.2h1.8M193.3 673.2h10.8M205.9 673.2h1.8M209.5 673.2h9M223.9 673.2h1.8M229.3 673.2h5.4M240.1 673.2h7.2M249.1 673.2h1.8M252.7 673.2h10.8M265.3 673.2h1.8M272.5 673.2h16.2M290.5 673.2h5.4M297.7 673.2h9M308.5 673.2h7.2M322.9 673.2h1.8M326.5 673.2h10.8M339.1 673.2h5.4M353.5 673.2h5.4M360.7 673.2h3.6M369.7 673.2h3.6M375.1 673.2h1.8M389.5 673.2h1.8M103.3 680.4h5.4M110.5 680.4h14.4M126.7 680.4h3.6M132.1 680.4h1.8M135.7 680.4h1.8M139.3 680.4h27M171.7 680.4h3.6M177.1 680.4h1.8M180.7 680.4h3.6M187.9 680.4h1.8M191.5 680.4h7.2M200.5 680.4h5.4M209.5 680.4h1.8M213.1 680.4h3.6M222.1 680.4h1.8M225.7 680.4h5.4M232.9 680.4h3.6M238.3 680.4h10.8M250.9 680.4h1.8M254.5 680.4h5.4M265.3 680.4h1.8M268.9 680.4h1.8M277.9 680.4h1.8M283.3 680.4h1.8M150.1 687.6h1.8M166.3 687.6h1.8M135.7 694.8h1.8M153.7 694.8h1.8M130.3 702h1.8M130.3 716.4h1.8M132.1 723.6h1.8M133.9 730.8h1.8M139.3 730.8h1.8M150.1 730.8h3.6M157.3 730.8h1.8M162.7 730.8h1.8M169.9 730.8h1.8M132.1 738h1.8M137.5 738h1.8M144.7 738h3.6M150.1 738h1.8M157.3 738h1.8M182.5 738h1.8M186.1 738h1.8M139.3 745.2h10.8M151.9 745.2h5.4M160.9 745.2h1.8M164.5 745.2h1.8M168.1 745.2h3.6M173.5 745.2h1.8M204.1 745.2h1.8M135.7 752.4h1.8M139.3 752.4h10.8M151.9 752.4h10.8M164.5 752.4h3.6M169.9 752.4h1.8M173.5 752.4h3.6M191.5 752.4h3.6M218.5 752.4h1.8M231.1 752.4h1.8M137.5 759.6h21.6M160.9 759.6h3.6M169.9 759.6h1.8M175.3 759.6h1.8M178.9 759.6h5.4M187.9 759.6h3.6M204.1 759.6h3.6M209.5 759.6h1.8M223.9 759.6h1.8M238.3 759.6h1.8M142.9 766.8h12.6M157.3 766.8h3.6M162.7 766.8h25.2M191.5 766.8h16.2M211.3 766.8h1.8M218.5 766.8h1.8M225.7 766.8h1.8M146.5 774h3.6M151.9 774h3.6M157.3 774h1.8M160.9 774h18M182.5 774h14.4M198.7 774h1.8M205.9 774h5.4M213.1 774h3.6M220.3 774h1.8M229.3 774h5.4M238.3 774h1.8M279.7 774h1.8M286.9 774h1.8M148.3 781.2h1.8M151.9 781.2h1.8M155.5 781.2h12.6M169.9 781.2h9M180.7 781.2h3.6M186.1 781.2h12.6M200.5 781.2h3.6M216.7 781.2h5.4M223.9 781.2h5.4M234.7 781.2h1.8M245.5 781.2h1.8M258.1 781.2h1.8M267.1 781.2h3.6M274.3 781.2h1.8M277.9 781.2h1.8M146.5 788.4h1.8M150.1 788.4h3.6M157.3 788.4h1.8M162.7 788.4h14.4M178.9 788.4h5.4M187.9 788.4h3.6M193.3 788.4h5.4M205.9 788.4h1.8M209.5 788.4h1.8M214.9 788.4h1.8M222.1 788.4h3.6M232.9 788.4h3.6M240.1 788.4h3.6M245.5 788.4h1.8M254.5 788.4h1.8M261.7 788.4h1.8M270.7 788.4h1.8M294.1 788.4h1.8M150.1 795.6h1.8M153.7 795.6h3.6M160.9 795.6h3.6M168.1 795.6h3.6M175.3 795.6h1.8M195.1 795.6h1.8M220.3 795.6h1.8M241.9 795.6h1.8M249.1 795.6h1.8M153.7 802.8h3.6" stroke="#6e6e6e" stroke-width="7.3" fill="none" shape-rendering="crispEdges"/>
<path d="M103.3 644.4h1.8M117.7 644.4h1.8M126.7 644.4h1.8M130.3 644.4h3.6M135.7 644.4h3.6M144.7 644.4h1.8M151.9 644.4h3.6M175.3 644.4h1.8M97.9 651.6h1.8M101.5 651.6h3.6M106.9 651.6h1.8M112.3 651.6h1.8M115.9 651.6h1.8M121.3 651.6h1.8M126.7 651.6h5.4M133.9 651.6h5.4M142.9 651.6h10.8M159.1 651.6h5.4M168.1 651.6h1.8M171.7 651.6h7.2M180.7 651.6h5.4M187.9 651.6h23.4M214.9 651.6h1.8M220.3 651.6h9M231.1 651.6h9M241.9 651.6h7.2M250.9 651.6h5.4M259.9 651.6h14.4M276.1 651.6h5.4M283.3 651.6h16.2M304.9 651.6h5.4M319.3 651.6h1.8M346.3 651.6h1.8M394.9 651.6h1.8M308.5 658.8h3.6M322.9 658.8h1.8M328.3 658.8h1.8M331.9 658.8h1.8M340.9 658.8h5.4M349.9 658.8h1.8M353.5 658.8h1.8M366.1 658.8h1.8M369.7 658.8h10.8M384.1 658.8h1.8M391.3 658.8h3.6M396.7 658.8h1.8M402.1 658.8h12.6M416.5 658.8h9M427.3 658.8h1.8M430.9 658.8h5.4M438.1 658.8h5.4M447.1 658.8h7.2M459.7 658.8h5.4M481.3 658.8h1.8M331.9 666h1.8M337.3 666h1.8M340.9 666h1.8M353.5 666h1.8M358.9 666h3.6M364.3 666h3.6M376.9 666h1.8M384.1 666h3.6M391.3 666h3.6M400.3 666h1.8M405.7 666h10.8M418.3 666h10.8M432.7 666h1.8M436.3 666h3.6M443.5 666h1.8M447.1 666h3.6M452.5 666h5.4M459.7 666h1.8M468.7 666h3.6M475.9 666h1.8M484.9 666h1.8M495.7 666h1.8M218.5 673.2h1.8M288.7 673.2h1.8M306.7 673.2h1.8M315.7 673.2h7.2M324.7 673.2h1.8M337.3 673.2h1.8M344.5 673.2h9M358.9 673.2h1.8M364.3 673.2h5.4M376.9 673.2h12.6M391.3 673.2h12.6M405.7 673.2h7.2M414.7 673.2h3.6M420.1 673.2h7.2M434.5 673.2h7.2M447.1 673.2h1.8M456.1 673.2h1.8M463.3 673.2h1.8M466.9 673.2h1.8M472.3 673.2h1.8M108.7 680.4h1.8M124.9 680.4h1.8M130.3 680.4h1.8M133.9 680.4h1.8M137.5 680.4h1.8M166.3 680.4h5.4M175.3 680.4h1.8M184.3 680.4h3.6M189.7 680.4h1.8M198.7 680.4h1.8M205.9 680.4h1.8M211.3 680.4h1.8M216.7 680.4h5.4M223.9 680.4h1.8M231.1 680.4h1.8M236.5 680.4h1.8M249.1 680.4h1.8M252.7 680.4h1.8M259.9 680.4h3.6M267.1 680.4h1.8M270.7 680.4h7.2M279.7 680.4h3.6M285.1 680.4h19.8M308.5 680.4h7.2M317.5 680.4h18M337.3 680.4h9M348.1 680.4h10.8M362.5 680.4h3.6M367.9 680.4h7.2M376.9 680.4h3.6M389.5 680.4h1.8M393.1 680.4h1.8M396.7 680.4h1.8M403.9 680.4h1.8M443.5 680.4h1.8M137.5 687.6h3.6M142.9 687.6h7.2M151.9 687.6h1.8M159.1 687.6h7.2M168.1 687.6h5.4M175.3 687.6h1.8M178.9 687.6h7.2M187.9 687.6h5.4M195.1 687.6h12.6M209.5 687.6h9M220.3 687.6h10.8M232.9 687.6h3.6M238.3 687.6h12.6M252.7 687.6h5.4M261.7 687.6h1.8M268.9 687.6h7.2M283.3 687.6h1.8M288.7 687.6h1.8M301.3 687.6h1.8M304.9 687.6h3.6M317.5 687.6h1.8M330.1 687.6h3.6M337.3 687.6h1.8M349.9 687.6h1.8M148.3 694.8h1.8M151.9 694.8h1.8M166.3 694.8h1.8M169.9 694.8h3.6M178.9 694.8h1.8M182.5 694.8h3.6M189.7 694.8h1.8M196.9 694.8h1.8M207.7 694.8h3.6M225.7 694.8h1.8M231.1 694.8h3.6M236.5 694.8h1.8M133.9 702h1.8M139.3 702h5.4M151.9 702h7.2M166.3 702h1.8M169.9 702h3.6M175.3 702h3.6M187.9 702h3.6M200.5 702h1.8M209.5 702h1.8M218.5 702h1.8M227.5 702h1.8M132.1 709.2h1.8M141.1 709.2h7.2M157.3 709.2h3.6M164.5 709.2h1.8M171.7 709.2h1.8M175.3 709.2h3.6M187.9 709.2h3.6M216.7 709.2h3.6M133.9 716.4h1.8M137.5 716.4h5.4M144.7 716.4h3.6M150.1 716.4h3.6M157.3 716.4h3.6M162.7 716.4h5.4M169.9 716.4h7.2M178.9 716.4h7.2M187.9 716.4h1.8M191.5 716.4h1.8M195.1 716.4h1.8M202.3 716.4h1.8M205.9 716.4h1.8M254.5 716.4h1.8M135.7 723.6h7.2M144.7 723.6h21.6M168.1 723.6h5.4M175.3 723.6h1.8M178.9 723.6h9M189.7 723.6h5.4M198.7 723.6h1.8M207.7 723.6h1.8M211.3 723.6h1.8M216.7 723.6h1.8M225.7 723.6h1.8M268.9 723.6h1.8M135.7 730.8h3.6M141.1 730.8h9M153.7 730.8h3.6M159.1 730.8h1.8M164.5 730.8h5.4M171.7 730.8h3.6M177.1 730.8h10.8M189.7 730.8h3.6M195.1 730.8h5.4M204.1 730.8h1.8M207.7 730.8h7.2M229.3 730.8h3.6M256.3 730.8h1.8M259.9 730.8h1.8M274.3 730.8h1.8M133.9 738h3.6M139.3 738h5.4M148.3 738h1.8M151.9 738h5.4M159.1 738h3.6M164.5 738h10.8M177.1 738h3.6M184.3 738h1.8M187.9 738h5.4M195.1 738h7.2M209.5 738h1.8M213.1 738h1.8M216.7 738h3.6M222.1 738h1.8M225.7 738h1.8M229.3 738h3.6M234.7 738h3.6M243.7 738h1.8M247.3 738h3.6M277.9 738h1.8M133.9 745.2h3.6M150.1 745.2h1.8M157.3 745.2h3.6M162.7 745.2h1.8M166.3 745.2h1.8M171.7 745.2h1.8M175.3 745.2h16.2M195.1 745.2h7.2M205.9 745.2h5.4M213.1 745.2h25.2M240.1 745.2h3.6M249.1 745.2h1.8M283.3 745.2h1.8M330.1 745.2h1.8M337.3 745.2h1.8M133.9 752.4h1.8M137.5 752.4h1.8M150.1 752.4h1.8M162.7 752.4h1.8M168.1 752.4h1.8M171.7 752.4h1.8M177.1 752.4h14.4M195.1 752.4h14.4M211.3 752.4h7.2M220.3 752.4h10.8M232.9 752.4h1.8M236.5 752.4h9M250.9 752.4h5.4M270.7 752.4h1.8M277.9 752.4h1.8M285.1 752.4h1.8M295.9 752.4h1.8M317.5 752.4h1.8M324.7 752.4h1.8M159.1 759.6h1.8M164.5 759.6h5.4M171.7 759.6h3.6M177.1 759.6h1.8M184.3 759.6h3.6M191.5 759.6h12.6M207.7 759.6h1.8M211.3 759.6h12.6M225.7 759.6h10.8M240.1 759.6h9M250.9 759.6h1.8M254.5 759.6h5.4M261.7 759.6h5.4M268.9 759.6h1.8M272.5 759.6h1.8M283.3 759.6h5.4M290.5 759.6h3.6M295.9 759.6h1.8M303.1 759.6h5.4M312.1 759.6h1.8M315.7 759.6h1.8M321.1 759.6h1.8M364.3 759.6h1.8M141.1 766.8h1.8M155.5 766.8h1.8M160.9 766.8h1.8M187.9 766.8h3.6M207.7 766.8h3.6M213.1 766.8h5.4M220.3 766.8h5.4M227.5 766.8h12.6M241.9 766.8h5.4M249.1 766.8h5.4M256.3 766.8h1.8M259.9 766.8h5.4M267.1 766.8h1.8M270.7 766.8h3.6M276.1 766.8h5.4M283.3 766.8h1.8M288.7 766.8h7.2M297.7 766.8h3.6M303.1 766.8h1.8M308.5 766.8h3.6M321.1 766.8h1.8M331.9 766.8h1.8M337.3 766.8h3.6M342.7 766.8h1.8M348.1 766.8h1.8M358.9 766.8h1.8M389.5 766.8h1.8M196.9 774h1.8M200.5 774h5.4M211.3 774h1.8M216.7 774h3.6M222.1 774h7.2M234.7 774h3.6M240.1 774h5.4M247.3 774h21.6M270.7 774h1.8M274.3 774h5.4M281.5 774h5.4M290.5 774h1.8M294.1 774h5.4M301.3 774h9M313.9 774h1.8M319.3 774h1.8M324.7 774h7.2M333.7 774h3.6M339.1 774h3.6M348.1 774h1.8M355.3 774h1.8M358.9 774h1.8M376.9 774h1.8M380.5 774h1.8M144.7 781.2h1.8M184.3 781.2h1.8M198.7 781.2h1.8M204.1 781.2h12.6M222.1 781.2h1.8M229.3 781.2h5.4M236.5 781.2h9M247.3 781.2h10.8M259.9 781.2h7.2M270.7 781.2h3.6M281.5 781.2h18M301.3 781.2h1.8M306.7 781.2h3.6M312.1 781.2h3.6M317.5 781.2h3.6M322.9 781.2h14.4M339.1 781.2h1.8M342.7 781.2h1.8M346.3 781.2h5.4M355.3 781.2h1.8M364.3 781.2h5.4M373.3 781.2h1.8M177.1 788.4h1.8M184.3 788.4h3.6M191.5 788.4h1.8M198.7 788.4h7.2M211.3 788.4h3.6M216.7 788.4h5.4M225.7 788.4h7.2M236.5 788.4h3.6M243.7 788.4h1.8M247.3 788.4h7.2M256.3 788.4h5.4M263.5 788.4h7.2M272.5 788.4h14.4M288.7 788.4h5.4M295.9 788.4h32.4M330.1 788.4h1.8M333.7 788.4h5.4M340.9 788.4h5.4M349.9 788.4h9M360.7 788.4h5.4M369.7 788.4h1.8M376.9 788.4h1.8M382.3 788.4h3.6M387.7 788.4h1.8M391.3 788.4h1.8M396.7 788.4h1.8M402.1 788.4h1.8M151.9 795.6h1.8M157.3 795.6h1.8M164.5 795.6h3.6M171.7 795.6h3.6M177.1 795.6h18M196.9 795.6h7.2M205.9 795.6h12.6M222.1 795.6h9M232.9 795.6h1.8M236.5 795.6h5.4M243.7 795.6h5.4M252.7 795.6h1.8M256.3 795.6h3.6M261.7 795.6h1.8M265.3 795.6h9M276.1 795.6h1.8M281.5 795.6h1.8M286.9 795.6h3.6M292.3 795.6h1.8M295.9 795.6h16.2M313.9 795.6h1.8M317.5 795.6h1.8M321.1 795.6h1.8M330.1 795.6h1.8M339.1 795.6h3.6M348.1 795.6h3.6M357.1 795.6h1.8M376.9 795.6h1.8M162.7 802.8h3.6M169.9 802.8h3.6M180.7 802.8h3.6M189.7 802.8h1.8M196.9 802.8h1.8M207.7 802.8h3.6M216.7 802.8h1.8M220.3 802.8h1.8M229.3 802.8h3.6M236.5 802.8h1.8M240.1 802.8h1.8M245.5 802.8h3.6M250.9 802.8h1.8M258.1 802.8h1.8M274.3 802.8h1.8M295.9 802.8h1.8M304.9 802.8h1.8M326.5 802.8h1.8" stroke="#787878" stroke-width="7.3" fill="none" shape-rendering="crispEdges"/>
<path d="M99.7 644.4h3.6M105.1 644.4h10.8M119.5 644.4h7.2M128.5 644.4h1.8M133.9 644.4h1.8M139.3 644.4h5.4M146.5 644.4h5.4M155.5 644.4h19.8M177.1 644.4h9M187.9 644.4h1.8M191.5 644.4h5.4M198.7 644.4h1.8M205.9 644.4h5.4M213.1 644.4h1.8M220.3 644.4h1.8M223.9 644.4h3.6M236.5 644.4h1.8M240.1 644.4h3.6M216.7 651.6h3.6M249.1 651.6h1.8M256.3 651.6h1.8M274.3 651.6h1.8M281.5 651.6h1.8M299.5 651.6h1.8M303.1 651.6h1.8M310.3 651.6h9M321.1 651.6h25.2M349.9 651.6h3.6M360.7 651.6h1.8M364.3 651.6h1.8M367.9 651.6h7.2M376.9 651.6h1.8M380.5 651.6h1.8M391.3 651.6h3.6M398.5 651.6h3.6M403.9 651.6h1.8M412.9 651.6h1.8M398.5 658.8h1.8M425.5 658.8h1.8M429.1 658.8h1.8M436.3 658.8h1.8M443.5 658.8h3.6M454.3 658.8h5.4M465.1 658.8h16.2M483.1 658.8h7.2M492.1 658.8h1.8M495.7 658.8h5.4M502.9 658.8h3.6M508.3 658.8h3.6M520.9 658.8h1.8M526.3 658.8h1.8M416.5 666h1.8M430.9 666h1.8M434.5 666h1.8M439.9 666h3.6M445.3 666h1.8M450.7 666h1.8M457.9 666h1.8M461.5 666h7.2M472.3 666h3.6M477.7 666h7.2M486.7 666h9M497.5 666h3.6M502.9 666h1.8M506.5 666h3.6M513.7 666h18M537.1 666h1.8M373.3 673.2h1.8M403.9 673.2h1.8M412.9 673.2h1.8M418.3 673.2h1.8M427.3 673.2h7.2M441.7 673.2h5.4M448.9 673.2h7.2M457.9 673.2h5.4M465.1 673.2h1.8M468.7 673.2h3.6M474.1 673.2h18M495.7 673.2h1.8M501.1 673.2h3.6M506.5 673.2h1.8M511.9 673.2h1.8M515.5 673.2h1.8M519.1 673.2h3.6M553.3 673.2h1.8M263.5 680.4h1.8M304.9 680.4h3.6M315.7 680.4h1.8M335.5 680.4h1.8M346.3 680.4h1.8M358.9 680.4h3.6M366.1 680.4h1.8M375.1 680.4h1.8M380.5 680.4h9M391.3 680.4h1.8M394.9 680.4h1.8M398.5 680.4h5.4M405.7 680.4h27M434.5 680.4h9M445.3 680.4h1.8M448.9 680.4h3.6M454.3 680.4h1.8M459.7 680.4h3.6M468.7 680.4h1.8M472.3 680.4h1.8M488.5 680.4h1.8M493.9 680.4h1.8M499.3 680.4h1.8M135.7 687.6h1.8M141.1 687.6h1.8M153.7 687.6h5.4M173.5 687.6h1.8M177.1 687.6h1.8M186.1 687.6h1.8M193.3 687.6h1.8M207.7 687.6h1.8M218.5 687.6h1.8M231.1 687.6h1.8M236.5 687.6h1.8M250.9 687.6h1.8M258.1 687.6h3.6M263.5 687.6h5.4M276.1 687.6h7.2M285.1 687.6h3.6M290.5 687.6h1.8M295.9 687.6h5.4M303.1 687.6h1.8M308.5 687.6h9M319.3 687.6h10.8M333.7 687.6h3.6M339.1 687.6h9M351.7 687.6h1.8M355.3 687.6h7.2M364.3 687.6h14.4M380.5 687.6h12.6M394.9 687.6h1.8M398.5 687.6h3.6M405.7 687.6h5.4M412.9 687.6h1.8M416.5 687.6h1.8M421.9 687.6h1.8M430.9 687.6h1.8M438.1 687.6h1.8M137.5 694.8h10.8M150.1 694.8h1.8M155.5 694.8h10.8M168.1 694.8h1.8M173.5 694.8h5.4M180.7 694.8h1.8M186.1 694.8h3.6M191.5 694.8h5.4M198.7 694.8h9M211.3 694.8h12.6M227.5 694.8h3.6M234.7 694.8h1.8M238.3 694.8h12.6M252.7 694.8h27M283.3 694.8h3.6M288.7 694.8h1.8M292.3 694.8h7.2M301.3 694.8h5.4M308.5 694.8h1.8M313.9 694.8h1.8M317.5 694.8h9M328.3 694.8h7.2M337.3 694.8h3.6M346.3 694.8h1.8M351.7 694.8h3.6M369.7 694.8h3.6M376.9 694.8h3.6M385.9 694.8h1.8M396.7 694.8h1.8M418.3 694.8h1.8M425.5 694.8h1.8M135.7 702h3.6M144.7 702h7.2M159.1 702h7.2M168.1 702h1.8M173.5 702h1.8M178.9 702h9M191.5 702h9M202.3 702h7.2M211.3 702h7.2M220.3 702h7.2M229.3 702h21.6M252.7 702h12.6M267.1 702h1.8M270.7 702h3.6M276.1 702h1.8M279.7 702h7.2M288.7 702h7.2M304.9 702h16.2M324.7 702h1.8M335.5 702h1.8M339.1 702h3.6M355.3 702h1.8M366.1 702h1.8M373.3 702h1.8M405.7 702h1.8M135.7 709.2h5.4M148.3 709.2h9M160.9 709.2h3.6M166.3 709.2h5.4M173.5 709.2h1.8M178.9 709.2h9M191.5 709.2h21.6M214.9 709.2h1.8M220.3 709.2h5.4M227.5 709.2h16.2M245.5 709.2h1.8M249.1 709.2h3.6M263.5 709.2h1.8M267.1 709.2h7.2M276.1 709.2h3.6M281.5 709.2h1.8M286.9 709.2h1.8M290.5 709.2h10.8M304.9 709.2h3.6M312.1 709.2h1.8M319.3 709.2h1.8M326.5 709.2h3.6M339.1 709.2h1.8M346.3 709.2h1.8M353.5 709.2h1.8M371.5 709.2h1.8M400.3 709.2h1.8M132.1 716.4h1.8M135.7 716.4h1.8M142.9 716.4h1.8M148.3 716.4h1.8M153.7 716.4h3.6M160.9 716.4h1.8M168.1 716.4h1.8M177.1 716.4h1.8M186.1 716.4h1.8M189.7 716.4h1.8M193.3 716.4h1.8M196.9 716.4h5.4M204.1 716.4h1.8M207.7 716.4h34.2M245.5 716.4h1.8M249.1 716.4h3.6M256.3 716.4h5.4M263.5 716.4h5.4M276.1 716.4h7.2M285.1 716.4h10.8M299.5 716.4h3.6M304.9 716.4h1.8M313.9 716.4h3.6M319.3 716.4h1.8M330.1 716.4h1.8M333.7 716.4h1.8M340.9 716.4h1.8M348.1 716.4h1.8M358.9 716.4h1.8M380.5 716.4h1.8M387.7 716.4h1.8M133.9 723.6h1.8M142.9 723.6h1.8M166.3 723.6h1.8M173.5 723.6h1.8M177.1 723.6h1.8M187.9 723.6h1.8M195.1 723.6h3.6M200.5 723.6h7.2M209.5 723.6h1.8M213.1 723.6h3.6M218.5 723.6h7.2M227.5 723.6h3.6M232.9 723.6h3.6M238.3 723.6h1.8M241.9 723.6h27M270.7 723.6h5.4M277.9 723.6h7.2M286.9 723.6h1.8M290.5 723.6h9M301.3 723.6h7.2M319.3 723.6h3.6M328.3 723.6h1.8M331.9 723.6h1.8M335.5 723.6h1.8M353.5 723.6h1.8M358.9 723.6h1.8M367.9 723.6h1.8M373.3 723.6h3.6M378.7 723.6h1.8M160.9 730.8h1.8M175.3 730.8h1.8M187.9 730.8h1.8M193.3 730.8h1.8M200.5 730.8h3.6M205.9 730.8h1.8M214.9 730.8h1.8M218.5 730.8h10.8M232.9 730.8h14.4M249.1 730.8h7.2M261.7 730.8h12.6M276.1 730.8h1.8M281.5 730.8h10.8M295.9 730.8h1.8M299.5 730.8h3.6M304.9 730.8h7.2M315.7 730.8h1.8M322.9 730.8h1.8M326.5 730.8h1.8M333.7 730.8h1.8M355.3 730.8h1.8M362.5 730.8h1.8M366.1 730.8h1.8M162.7 738h1.8M175.3 738h1.8M180.7 738h1.8M193.3 738h1.8M202.3 738h7.2M211.3 738h1.8M214.9 738h1.8M220.3 738h1.8M223.9 738h1.8M227.5 738h1.8M232.9 738h1.8M238.3 738h5.4M245.5 738h1.8M250.9 738h27M279.7 738h3.6M285.1 738h1.8M288.7 738h1.8M292.3 738h5.4M299.5 738h5.4M308.5 738h7.2M319.3 738h7.2M328.3 738h1.8M333.7 738h1.8M342.7 738h3.6M348.1 738h3.6M353.5 738h1.8M358.9 738h1.8M366.1 738h1.8M369.7 738h1.8M382.3 738h1.8M387.7 738h1.8M132.1 745.2h1.8M191.5 745.2h3.6M202.3 745.2h1.8M211.3 745.2h1.8M238.3 745.2h1.8M243.7 745.2h5.4M250.9 745.2h27M279.7 745.2h3.6M285.1 745.2h7.2M294.1 745.2h7.2M304.9 745.2h1.8M308.5 745.2h10.8M321.1 745.2h1.8M324.7 745.2h3.6M331.9 745.2h1.8M335.5 745.2h1.8M340.9 745.2h1.8M344.5 745.2h5.4M351.7 745.2h1.8M357.1 745.2h1.8M375.1 745.2h1.8M380.5 745.2h1.8M385.9 745.2h3.6M394.9 745.2h3.6M405.7 745.2h1.8M427.3 745.2h1.8M209.5 752.4h1.8M234.7 752.4h1.8M245.5 752.4h5.4M256.3 752.4h14.4M272.5 752.4h5.4M279.7 752.4h5.4M286.9 752.4h9M297.7 752.4h19.8M319.3 752.4h1.8M322.9 752.4h1.8M326.5 752.4h3.6M331.9 752.4h5.4M339.1 752.4h9M351.7 752.4h1.8M357.1 752.4h1.8M362.5 752.4h1.8M367.9 752.4h1.8M371.5 752.4h3.6M376.9 752.4h1.8M382.3 752.4h5.4M389.5 752.4h1.8M393.1 752.4h1.8M396.7 752.4h1.8M414.7 752.4h1.8M135.7 759.6h1.8M236.5 759.6h1.8M249.1 759.6h1.8M252.7 759.6h1.8M259.9 759.6h1.8M267.1 759.6h1.8M270.7 759.6h1.8M274.3 759.6h9M288.7 759.6h1.8M294.1 759.6h1.8M297.7 759.6h5.4M308.5 759.6h3.6M313.9 759.6h1.8M317.5 759.6h3.6M322.9 759.6h14.4M339.1 759.6h18M358.9 759.6h5.4M366.1 759.6h9M376.9 759.6h5.4M384.1 759.6h5.4M391.3 759.6h5.4M402.1 759.6h7.2M411.1 759.6h3.6M137.5 766.8h1.8M240.1 766.8h1.8M247.3 766.8h1.8M254.5 766.8h1.8M258.1 766.8h1.8M265.3 766.8h1.8M268.9 766.8h1.8M274.3 766.8h1.8M281.5 766.8h1.8M285.1 766.8h3.6M295.9 766.8h1.8M301.3 766.8h1.8M304.9 766.8h3.6M312.1 766.8h9M322.9 766.8h9M333.7 766.8h3.6M340.9 766.8h1.8M344.5 766.8h3.6M349.9 766.8h9M360.7 766.8h5.4M367.9 766.8h1.8M371.5 766.8h16.2M391.3 766.8h5.4M398.5 766.8h5.4M407.5 766.8h1.8M411.1 766.8h1.8M420.1 766.8h7.2M429.1 766.8h1.8M142.9 774h1.8M245.5 774h1.8M268.9 774h1.8M272.5 774h1.8M288.7 774h1.8M292.3 774h1.8M299.5 774h1.8M310.3 774h3.6M315.7 774h3.6M321.1 774h3.6M331.9 774h1.8M337.3 774h1.8M342.7 774h5.4M349.9 774h5.4M357.1 774h1.8M360.7 774h16.2M378.7 774h1.8M382.3 774h1.8M385.9 774h25.2M412.9 774h5.4M421.9 774h3.6M427.3 774h1.8M432.7 774h1.8M436.3 774h1.8M457.9 774h1.8M142.9 781.2h1.8M276.1 781.2h1.8M279.7 781.2h1.8M299.5 781.2h1.8M303.1 781.2h3.6M310.3 781.2h1.8M315.7 781.2h1.8M321.1 781.2h1.8M337.3 781.2h1.8M340.9 781.2h1.8M344.5 781.2h1.8M351.7 781.2h3.6M357.1 781.2h7.2M369.7 781.2h3.6M375.1 781.2h43.2M420.1 781.2h1.8M423.7 781.2h1.8M427.3 781.2h1.8M432.7 781.2h5.4M445.3 781.2h1.8M448.9 781.2h1.8M456.1 781.2h1.8M286.9 788.4h1.8M328.3 788.4h1.8M331.9 788.4h1.8M339.1 788.4h1.8M346.3 788.4h3.6M358.9 788.4h1.8M366.1 788.4h3.6M371.5 788.4h5.4M378.7 788.4h3.6M385.9 788.4h1.8M389.5 788.4h1.8M393.1 788.4h3.6M398.5 788.4h3.6M403.9 788.4h9M414.7 788.4h3.6M420.1 788.4h5.4M427.3 788.4h1.8M430.9 788.4h3.6M436.3 788.4h1.8M441.7 788.4h3.6M447.1 788.4h3.6M452.5 788.4h5.4M461.5 788.4h1.8M466.9 788.4h1.8M472.3 788.4h1.8M481.3 788.4h1.8M484.9 788.4h1.8M159.1 795.6h1.8M204.1 795.6h1.8M218.5 795.6h1.8M231.1 795.6h1.8M234.7 795.6h1.8M250.9 795.6h1.8M254.5 795.6h1.8M259.9 795.6h1.8M263.5 795.6h1.8M274.3 795.6h1.8M277.9 795.6h3.6M283.3 795.6h3.6M290.5 795.6h1.8M294.1 795.6h1.8M312.1 795.6h1.8M315.7 795.6h1.8M319.3 795.6h1.8M322.9 795.6h7.2M331.9 795.6h7.2M342.7 795.6h5.4M351.7 795.6h5.4M358.9 795.6h18M378.7 795.6h25.2M407.5 795.6h9M420.1 795.6h1.8M423.7 795.6h1.8M429.1 795.6h3.6M434.5 795.6h3.6M439.9 795.6h1.8M454.3 795.6h1.8M159.1 802.8h3.6M166.3 802.8h3.6M173.5 802.8h7.2M184.3 802.8h5.4M191.5 802.8h5.4M198.7 802.8h9M211.3 802.8h5.4M218.5 802.8h1.8M222.1 802.8h7.2M232.9 802.8h3.6M238.3 802.8h1.8M241.9 802.8h3.6M249.1 802.8h1.8M252.7 802.8h5.4M261.7 802.8h12.6M276.1 802.8h19.8M297.7 802.8h7.2M308.5 802.8h18M328.3 802.8h3.6M335.5 802.8h7.2M344.5 802.8h7.2M353.5 802.8h7.2M362.5 802.8h5.4M371.5 802.8h7.2M380.5 802.8h5.4M389.5 802.8h1.8M398.5 802.8h3.6M418.3 802.8h1.8M421.9 802.8h3.6M441.7 802.8h1.8" stroke="#828282" stroke-width="7.3" fill="none" shape-rendering="crispEdges"/>
<path d="M115.9 644.4h1.8M186.1 644.4h1.8M189.7 644.4h1.8M196.9 644.4h1.8M200.5 644.4h5.4M211.3 644.4h1.8M214.9 644.4h5.4M222.1 644.4h1.8M227.5 644.4h5.4M234.7 644.4h1.8M238.3 644.4h1.8M243.7 644.4h5.4M250.9 644.4h10.8M270.7 644.4h1.8M348.1 651.6h1.8M353.5 651.6h7.2M362.5 651.6h1.8M366.1 651.6h1.8M375.1 651.6h1.8M378.7 651.6h1.8M382.3 651.6h9M396.7 651.6h1.8M402.1 651.6h1.8M405.7 651.6h7.2M414.7 651.6h1.8M418.3 651.6h7.2M427.3 651.6h10.8M439.9 651.6h1.8M443.5 651.6h1.8M447.1 651.6h1.8M454.3 651.6h1.8M461.5 651.6h1.8M472.3 651.6h1.8M493.9 651.6h1.8M490.3 658.8h1.8M493.9 658.8h1.8M501.1 658.8h1.8M506.5 658.8h1.8M511.9 658.8h7.2M522.7 658.8h1.8M528.1 658.8h23.4M553.3 658.8h1.8M564.1 658.8h3.6M578.5 658.8h1.8M582.1 658.8h1.8M589.3 658.8h1.8M501.1 666h1.8M504.7 666h1.8M510.1 666h3.6M531.7 666h5.4M538.9 666h7.2M547.9 666h14.4M565.9 666h7.2M574.9 666h5.4M583.9 666h1.8M591.1 666h1.8M596.5 666h3.6M601.9 666h1.8M605.5 666h1.8M610.9 666h3.6M616.3 666h1.8M621.7 666h1.8M637.9 666h1.8M492.1 673.2h3.6M497.5 673.2h3.6M504.7 673.2h1.8M508.3 673.2h3.6M513.7 673.2h1.8M517.3 673.2h1.8M522.7 673.2h7.2M531.7 673.2h9M542.5 673.2h7.2M556.9 673.2h1.8M565.9 673.2h1.8M574.9 673.2h1.8M432.7 680.4h1.8M447.1 680.4h1.8M452.5 680.4h1.8M456.1 680.4h3.6M463.3 680.4h5.4M470.5 680.4h1.8M474.1 680.4h14.4M490.3 680.4h3.6M495.7 680.4h3.6M501.1 680.4h12.6M515.5 680.4h1.8M519.1 680.4h1.8M133.9 687.6h1.8M292.3 687.6h3.6M348.1 687.6h1.8M353.5 687.6h1.8M362.5 687.6h1.8M378.7 687.6h1.8M393.1 687.6h1.8M396.7 687.6h1.8M402.1 687.6h3.6M411.1 687.6h1.8M414.7 687.6h1.8M418.3 687.6h3.6M423.7 687.6h7.2M432.7 687.6h5.4M439.9 687.6h10.8M452.5 687.6h1.8M457.9 687.6h3.6M465.1 687.6h1.8M470.5 687.6h1.8M223.9 694.8h1.8M250.9 694.8h1.8M279.7 694.8h3.6M286.9 694.8h1.8M290.5 694.8h1.8M299.5 694.8h1.8M306.7 694.8h1.8M310.3 694.8h3.6M315.7 694.8h1.8M326.5 694.8h1.8M335.5 694.8h1.8M340.9 694.8h5.4M348.1 694.8h3.6M355.3 694.8h14.4M373.3 694.8h3.6M380.5 694.8h5.4M387.7 694.8h9M398.5 694.8h19.8M420.1 694.8h5.4M429.1 694.8h1.8M432.7 694.8h5.4M457.9 694.8h1.8M463.3 694.8h1.8M250.9 702h1.8M265.3 702h1.8M274.3 702h1.8M277.9 702h1.8M286.9 702h1.8M295.9 702h9M321.1 702h3.6M326.5 702h9M337.3 702h1.8M342.7 702h10.8M357.1 702h9M369.7 702h3.6M375.1 702h19.8M396.7 702h9M407.5 702h1.8M411.1 702h7.2M420.1 702h5.4M430.9 702h1.8M434.5 702h1.8M445.3 702h1.8M450.7 702h1.8M133.9 709.2h1.8M213.1 709.2h1.8M225.7 709.2h1.8M243.7 709.2h1.8M247.3 709.2h1.8M252.7 709.2h10.8M265.3 709.2h1.8M274.3 709.2h1.8M279.7 709.2h1.8M283.3 709.2h3.6M288.7 709.2h1.8M301.3 709.2h3.6M308.5 709.2h3.6M313.9 709.2h5.4M321.1 709.2h5.4M330.1 709.2h9M342.7 709.2h3.6M348.1 709.2h5.4M357.1 709.2h14.4M373.3 709.2h27M403.9 709.2h1.8M407.5 709.2h5.4M414.7 709.2h5.4M423.7 709.2h1.8M432.7 709.2h1.8M438.1 709.2h3.6M448.9 709.2h1.8M241.9 716.4h3.6M247.3 716.4h1.8M252.7 716.4h1.8M261.7 716.4h1.8M268.9 716.4h7.2M283.3 716.4h1.8M295.9 716.4h3.6M303.1 716.4h1.8M306.7 716.4h7.2M317.5 716.4h1.8M321.1 716.4h7.2M331.9 716.4h1.8M335.5 716.4h5.4M342.7 716.4h5.4M349.9 716.4h9M360.7 716.4h19.8M382.3 716.4h5.4M389.5 716.4h3.6M394.9 716.4h7.2M403.9 716.4h1.8M407.5 716.4h3.6M414.7 716.4h1.8M420.1 716.4h1.8M425.5 716.4h1.8M430.9 716.4h1.8M434.5 716.4h1.8M445.3 716.4h1.8M231.1 723.6h1.8M236.5 723.6h1.8M240.1 723.6h1.8M276.1 723.6h1.8M285.1 723.6h1.8M288.7 723.6h1.8M299.5 723.6h1.8M308.5 723.6h10.8M322.9 723.6h5.4M330.1 723.6h1.8M333.7 723.6h1.8M337.3 723.6h16.2M355.3 723.6h1.8M360.7 723.6h7.2M369.7 723.6h3.6M382.3 723.6h18M402.1 723.6h1.8M407.5 723.6h3.6M412.9 723.6h3.6M418.3 723.6h1.8M425.5 723.6h1.8M429.1 723.6h1.8M434.5 723.6h3.6M439.9 723.6h1.8M465.1 723.6h1.8M132.1 730.8h1.8M216.7 730.8h1.8M247.3 730.8h1.8M258.1 730.8h1.8M277.9 730.8h3.6M292.3 730.8h3.6M297.7 730.8h1.8M312.1 730.8h3.6M317.5 730.8h5.4M324.7 730.8h1.8M328.3 730.8h5.4M335.5 730.8h19.8M357.1 730.8h1.8M360.7 730.8h1.8M364.3 730.8h1.8M367.9 730.8h7.2M376.9 730.8h14.4M393.1 730.8h3.6M398.5 730.8h16.2M416.5 730.8h9M427.3 730.8h1.8M430.9 730.8h1.8M452.5 730.8h1.8M283.3 738h1.8M286.9 738h1.8M290.5 738h1.8M297.7 738h1.8M304.9 738h3.6M315.7 738h3.6M326.5 738h1.8M330.1 738h3.6M335.5 738h7.2M346.3 738h1.8M351.7 738h1.8M355.3 738h3.6M360.7 738h5.4M367.9 738h1.8M371.5 738h7.2M380.5 738h1.8M384.1 738h3.6M389.5 738h23.4M414.7 738h1.8M418.3 738h1.8M421.9 738h5.4M430.9 738h1.8M439.9 738h1.8M448.9 738h1.8M277.9 745.2h1.8M292.3 745.2h1.8M301.3 745.2h3.6M306.7 745.2h1.8M319.3 745.2h1.8M322.9 745.2h1.8M328.3 745.2h1.8M333.7 745.2h1.8M339.1 745.2h1.8M342.7 745.2h1.8M349.9 745.2h1.8M353.5 745.2h3.6M358.9 745.2h16.2M376.9 745.2h3.6M382.3 745.2h3.6M389.5 745.2h5.4M398.5 745.2h7.2M409.3 745.2h14.4M429.1 745.2h3.6M436.3 745.2h5.4M445.3 745.2h1.8M459.7 745.2h1.8M130.3 752.4h1.8M321.1 752.4h1.8M330.1 752.4h1.8M337.3 752.4h1.8M348.1 752.4h3.6M353.5 752.4h3.6M358.9 752.4h3.6M364.3 752.4h3.6M369.7 752.4h1.8M375.1 752.4h1.8M378.7 752.4h3.6M387.7 752.4h1.8M391.3 752.4h1.8M394.9 752.4h1.8M398.5 752.4h14.4M416.5 752.4h5.4M423.7 752.4h5.4M432.7 752.4h5.4M439.9 752.4h1.8M445.3 752.4h3.6M450.7 752.4h5.4M470.5 752.4h1.8M337.3 759.6h1.8M357.1 759.6h1.8M375.1 759.6h1.8M382.3 759.6h1.8M389.5 759.6h1.8M396.7 759.6h5.4M409.3 759.6h1.8M414.7 759.6h30.6M447.1 759.6h1.8M450.7 759.6h3.6M456.1 759.6h3.6M461.5 759.6h1.8M465.1 759.6h1.8M493.9 759.6h1.8M366.1 766.8h1.8M369.7 766.8h1.8M387.7 766.8h1.8M396.7 766.8h1.8M403.9 766.8h3.6M409.3 766.8h1.8M412.9 766.8h7.2M427.3 766.8h1.8M430.9 766.8h23.4M457.9 766.8h9M470.5 766.8h1.8M474.1 766.8h1.8M481.3 766.8h1.8M484.9 766.8h7.2M493.9 766.8h1.8M497.5 766.8h3.6M139.3 774h1.8M384.1 774h1.8M411.1 774h1.8M418.3 774h3.6M425.5 774h1.8M429.1 774h3.6M434.5 774h1.8M438.1 774h5.4M445.3 774h9M456.1 774h1.8M459.7 774h30.6M492.1 774h3.6M497.5 774h1.8M506.5 774h1.8M510.1 774h1.8M418.3 781.2h1.8M421.9 781.2h1.8M425.5 781.2h1.8M429.1 781.2h3.6M438.1 781.2h7.2M447.1 781.2h1.8M450.7 781.2h5.4M457.9 781.2h28.8M488.5 781.2h14.4M504.7 781.2h3.6M412.9 788.4h1.8M418.3 788.4h1.8M425.5 788.4h1.8M429.1 788.4h1.8M434.5 788.4h1.8M438.1 788.4h3.6M445.3 788.4h1.8M450.7 788.4h1.8M457.9 788.4h3.6M463.3 788.4h3.6M468.7 788.4h3.6M474.1 788.4h7.2M483.1 788.4h1.8M486.7 788.4h10.8M499.3 788.4h10.8M511.9 788.4h3.6M517.3 788.4h3.6M148.3 795.6h1.8M403.9 795.6h3.6M416.5 795.6h3.6M421.9 795.6h1.8M425.5 795.6h3.6M432.7 795.6h1.8M438.1 795.6h1.8M441.7 795.6h12.6M456.1 795.6h32.4M490.3 795.6h12.6M504.7 795.6h3.6M157.3 802.8h1.8M259.9 802.8h1.8M306.7 802.8h1.8M331.9 802.8h3.6M342.7 802.8h1.8M351.7 802.8h1.8M360.7 802.8h1.8M367.9 802.8h3.6M378.7 802.8h1.8M385.9 802.8h3.6M391.3 802.8h7.2M402.1 802.8h16.2M420.1 802.8h1.8M425.5 802.8h16.2M443.5 802.8h1.8M447.1 802.8h18M466.9 802.8h3.6M474.1 802.8h1.8M477.7 802.8h1.8M483.1 802.8h1.8M486.7 802.8h9M510.1 802.8h1.8" stroke="#8c8c8c" stroke-width="7.3" fill="none" shape-rendering="crispEdges"/>
<path d="M232.9 644.4h1.8M249.1 644.4h1.8M261.7 644.4h7.2M272.5 644.4h10.8M285.1 644.4h14.4M416.5 651.6h1.8M425.5 651.6h1.8M438.1 651.6h1.8M441.7 651.6h1.8M445.3 651.6h1.8M448.9 651.6h5.4M457.9 651.6h3.6M463.3 651.6h9M474.1 651.6h9M488.5 651.6h3.6M495.7 651.6h1.8M499.3 651.6h3.6M504.7 651.6h1.8M510.1 651.6h1.8M519.1 658.8h1.8M524.5 658.8h1.8M551.5 658.8h1.8M555.1 658.8h9M567.7 658.8h10.8M580.3 658.8h1.8M583.9 658.8h5.4M591.1 658.8h36M628.9 658.8h1.8M634.3 658.8h5.4M641.5 658.8h1.8M650.5 658.8h3.6M659.5 658.8h1.8M670.3 658.8h1.8M673.9 658.8h1.8M679.3 658.8h1.8M688.3 658.8h1.8M546.1 666h1.8M562.3 666h3.6M573.1 666h1.8M580.3 666h3.6M585.7 666h5.4M592.9 666h3.6M600.1 666h1.8M603.7 666h1.8M607.3 666h3.6M614.5 666h1.8M618.1 666h3.6M623.5 666h3.6M628.9 666h3.6M634.3 666h3.6M639.7 666h5.4M646.9 666h5.4M654.1 666h23.4M681.1 666h1.8M686.5 666h1.8M690.1 666h1.8M695.5 666h1.8M699.1 666h1.8M702.7 666h1.8M726.1 666h1.7M529.9 673.2h1.8M540.7 673.2h1.8M549.7 673.2h3.6M555.1 673.2h1.8M558.7 673.2h7.2M567.7 673.2h7.2M576.7 673.2h37.8M616.3 673.2h3.6M621.7 673.2h1.8M625.3 673.2h5.4M634.3 673.2h1.8M637.9 673.2h1.8M643.3 673.2h12.6M663.1 673.2h1.8M668.5 673.2h1.8M682.9 673.2h1.8M686.5 673.2h1.8M513.7 680.4h1.8M517.3 680.4h1.8M520.9 680.4h18M540.7 680.4h5.4M549.7 680.4h5.4M132.1 687.6h1.8M450.7 687.6h1.8M454.3 687.6h3.6M461.5 687.6h3.6M466.9 687.6h3.6M472.3 687.6h32.4M506.5 687.6h1.8M510.1 687.6h1.8M519.1 687.6h1.8M132.1 694.8h3.6M427.3 694.8h1.8M430.9 694.8h1.8M438.1 694.8h16.2M456.1 694.8h1.8M459.7 694.8h3.6M465.1 694.8h23.4M490.3 694.8h1.8M493.9 694.8h1.8M499.3 694.8h3.6M515.5 694.8h1.8M132.1 702h1.8M268.9 702h1.8M353.5 702h1.8M367.9 702h1.8M394.9 702h1.8M409.3 702h1.8M418.3 702h1.8M425.5 702h5.4M432.7 702h1.8M436.3 702h1.8M439.9 702h5.4M447.1 702h3.6M452.5 702h27M481.3 702h1.8M484.9 702h5.4M493.9 702h1.8M497.5 702h3.6M502.9 702h1.8M130.3 709.2h1.8M340.9 709.2h1.8M355.3 709.2h1.8M402.1 709.2h1.8M405.7 709.2h1.8M412.9 709.2h1.8M420.1 709.2h3.6M425.5 709.2h7.2M434.5 709.2h3.6M441.7 709.2h7.2M450.7 709.2h16.2M468.7 709.2h1.8M472.3 709.2h1.8M475.9 709.2h1.8M481.3 709.2h3.6M490.3 709.2h1.8M493.9 709.2h1.8M499.3 709.2h1.8M128.5 716.4h1.8M328.3 716.4h1.8M393.1 716.4h1.8M402.1 716.4h1.8M405.7 716.4h1.8M411.1 716.4h3.6M416.5 716.4h3.6M421.9 716.4h3.6M427.3 716.4h3.6M432.7 716.4h1.8M436.3 716.4h9M447.1 716.4h10.8M459.7 716.4h5.4M466.9 716.4h3.6M477.7 716.4h7.2M486.7 716.4h1.8M128.5 723.6h3.6M357.1 723.6h1.8M376.9 723.6h1.8M380.5 723.6h1.8M400.3 723.6h1.8M403.9 723.6h3.6M411.1 723.6h1.8M416.5 723.6h1.8M420.1 723.6h5.4M427.3 723.6h1.8M430.9 723.6h3.6M438.1 723.6h1.8M441.7 723.6h21.6M466.9 723.6h3.6M474.1 723.6h5.4M483.1 723.6h1.8M490.3 723.6h1.8M495.7 723.6h1.8M501.1 723.6h1.8M303.1 730.8h1.8M358.9 730.8h1.8M375.1 730.8h1.8M391.3 730.8h1.8M396.7 730.8h1.8M414.7 730.8h1.8M425.5 730.8h1.8M429.1 730.8h1.8M432.7 730.8h19.8M454.3 730.8h5.4M461.5 730.8h3.6M470.5 730.8h5.4M481.3 730.8h1.8M484.9 730.8h1.8M488.5 730.8h3.6M130.3 738h1.8M378.7 738h1.8M412.9 738h1.8M416.5 738h1.8M420.1 738h1.8M427.3 738h3.6M432.7 738h7.2M441.7 738h5.4M450.7 738h9M461.5 738h1.8M465.1 738h9M475.9 738h3.6M481.3 738h1.8M484.9 738h3.6M490.3 738h1.8M495.7 738h1.8M407.5 745.2h1.8M423.7 745.2h3.6M432.7 745.2h3.6M441.7 745.2h3.6M447.1 745.2h12.6M461.5 745.2h9M472.3 745.2h16.2M126.7 752.4h1.8M412.9 752.4h1.8M421.9 752.4h1.8M429.1 752.4h3.6M438.1 752.4h1.8M441.7 752.4h3.6M448.9 752.4h1.8M456.1 752.4h14.4M472.3 752.4h9M483.1 752.4h7.2M495.7 752.4h1.8M499.3 752.4h1.8M506.5 752.4h1.8M515.5 752.4h1.8M132.1 759.6h1.8M445.3 759.6h1.8M448.9 759.6h1.8M454.3 759.6h1.8M459.7 759.6h1.8M463.3 759.6h1.8M466.9 759.6h1.8M470.5 759.6h23.4M495.7 759.6h10.8M508.3 759.6h1.8M511.9 759.6h1.8M517.3 759.6h1.8M454.3 766.8h3.6M466.9 766.8h3.6M472.3 766.8h1.8M475.9 766.8h5.4M483.1 766.8h1.8M492.1 766.8h1.8M495.7 766.8h1.8M501.1 766.8h10.8M513.7 766.8h3.6M519.1 766.8h1.8M522.7 766.8h1.8M443.5 774h1.8M454.3 774h1.8M490.3 774h1.8M495.7 774h1.8M499.3 774h7.2M508.3 774h1.8M511.9 774h3.6M517.3 774h5.4M524.5 774h1.8M141.1 781.2h1.8M486.7 781.2h1.8M502.9 781.2h1.8M508.3 781.2h10.8M520.9 781.2h5.4M529.9 781.2h3.6M142.9 788.4h1.8M497.5 788.4h1.8M510.1 788.4h1.8M515.5 788.4h1.8M520.9 788.4h1.8M524.5 788.4h3.6M533.5 788.4h3.6M488.5 795.6h1.8M502.9 795.6h1.8M508.3 795.6h9M520.9 795.6h5.4M445.3 802.8h1.8M465.1 802.8h1.8M470.5 802.8h3.6M475.9 802.8h1.8M479.5 802.8h3.6M484.9 802.8h1.8M495.7 802.8h9M508.3 802.8h1.8M511.9 802.8h1.8M515.5 802.8h1.8M522.7 802.8h1.8M135.7 810h1.8M142.9 810h1.8M150.1 810h3.6M159.1 810h1.8M166.3 810h1.8M169.9 810h1.8M175.3 810h3.6M184.3 810h1.8M195.1 810h1.8M202.3 810h1.8M216.7 810h3.6M223.9 810h1.8M227.5 810h1.8M231.1 810h3.6M243.7 810h1.8M256.3 810h1.8M261.7 810h3.6M267.1 810h1.8M270.7 810h1.8M274.3 810h1.8M281.5 810h5.4M288.7 810h1.8M292.3 810h1.8M295.9 810h3.6M301.3 810h1.8M313.9 810h1.8M322.9 810h1.8M331.9 810h1.8M349.9 810h5.4M364.3 810h1.8M398.5 810h1.8M405.7 810h1.8M414.7 810h3.6M421.9 810h1.8M429.1 810h1.8" stroke="#969696" stroke-width="7.3" fill="none" shape-rendering="crispEdges"/>
<path d="M268.9 644.4h1.8M283.3 644.4h1.8M299.5 644.4h23.4M324.7 644.4h1.8M328.3 644.4h3.6M456.1 651.6h1.8M483.1 651.6h5.4M492.1 651.6h1.8M497.5 651.6h1.8M502.9 651.6h1.8M506.5 651.6h3.6M511.9 651.6h1.8M515.5 651.6h10.8M528.1 651.6h1.8M533.5 651.6h3.6M538.9 651.6h3.6M549.7 651.6h1.8M591.1 651.6h1.8M627.1 658.8h1.8M630.7 658.8h3.6M639.7 658.8h1.8M643.3 658.8h7.2M654.1 658.8h1.8M657.7 658.8h1.8M661.3 658.8h9M672.1 658.8h1.8M675.7 658.8h3.6M681.1 658.8h7.2M690.1 658.8h27M718.9 658.8h3.6M726.1 658.8h1.7M627.1 666h1.8M632.5 666h1.8M645.1 666h1.8M652.3 666h1.8M677.5 666h3.6M682.9 666h3.6M688.3 666h1.8M691.9 666h3.6M697.3 666h1.8M700.9 666h1.8M704.5 666h21.6M614.5 673.2h1.8M619.9 673.2h1.8M623.5 673.2h1.8M630.7 673.2h3.6M636.1 673.2h1.8M639.7 673.2h3.6M655.9 673.2h7.2M664.9 673.2h3.6M670.3 673.2h12.6M684.7 673.2h1.8M688.3 673.2h9M699.1 673.2h23.4M538.9 680.4h1.8M546.1 680.4h3.6M555.1 680.4h27M583.9 680.4h9M594.7 680.4h3.6M600.1 680.4h1.8M603.7 680.4h1.8M621.7 680.4h1.8M625.3 680.4h1.8M636.1 680.4h1.8M706.3 680.4h1.8M504.7 687.6h1.8M508.3 687.6h1.8M511.9 687.6h7.2M520.9 687.6h3.6M526.3 687.6h3.6M531.7 687.6h1.8M537.1 687.6h1.8M454.3 694.8h1.8M488.5 694.8h1.8M492.1 694.8h1.8M495.7 694.8h3.6M502.9 694.8h7.2M511.9 694.8h1.8M519.1 694.8h1.8M524.5 694.8h1.8M438.1 702h1.8M479.5 702h1.8M483.1 702h1.8M490.3 702h3.6M495.7 702h1.8M501.1 702h1.8M504.7 702h5.4M511.9 702h3.6M466.9 709.2h1.8M470.5 709.2h1.8M474.1 709.2h1.8M477.7 709.2h3.6M484.9 709.2h5.4M492.1 709.2h1.8M495.7 709.2h3.6M501.1 709.2h3.6M508.3 709.2h1.8M511.9 709.2h1.8M457.9 716.4h1.8M465.1 716.4h1.8M470.5 716.4h7.2M484.9 716.4h1.8M488.5 716.4h23.4M513.7 716.4h3.6M126.7 723.6h1.8M463.3 723.6h1.8M470.5 723.6h3.6M479.5 723.6h3.6M484.9 723.6h5.4M492.1 723.6h3.6M497.5 723.6h3.6M502.9 723.6h5.4M510.1 723.6h7.2M128.5 730.8h1.8M459.7 730.8h1.8M465.1 730.8h5.4M475.9 730.8h5.4M483.1 730.8h1.8M486.7 730.8h1.8M492.1 730.8h14.4M508.3 730.8h1.8M511.9 730.8h1.8M126.7 738h1.8M447.1 738h1.8M459.7 738h1.8M463.3 738h1.8M474.1 738h1.8M479.5 738h1.8M483.1 738h1.8M488.5 738h1.8M492.1 738h3.6M497.5 738h9M508.3 738h1.8M511.9 738h1.8M124.9 745.2h1.8M128.5 745.2h1.8M470.5 745.2h1.8M488.5 745.2h16.2M506.5 745.2h3.6M511.9 745.2h1.8M519.1 745.2h1.8M481.3 752.4h1.8M490.3 752.4h5.4M497.5 752.4h1.8M501.1 752.4h5.4M508.3 752.4h7.2M517.3 752.4h1.8M520.9 752.4h3.6M128.5 759.6h1.8M468.7 759.6h1.8M506.5 759.6h1.8M510.1 759.6h1.8M515.5 759.6h1.8M519.1 759.6h5.4M526.3 759.6h1.8M531.7 759.6h1.8M535.3 759.6h1.8M133.9 766.8h1.8M511.9 766.8h1.8M517.3 766.8h1.8M520.9 766.8h1.8M524.5 766.8h3.6M529.9 766.8h3.6M537.1 766.8h1.8M540.7 766.8h1.8M546.1 766.8h1.8M135.7 774h1.8M515.5 774h1.8M522.7 774h1.8M526.3 774h19.8M519.1 781.2h1.8M526.3 781.2h3.6M533.5 781.2h9M546.1 781.2h3.6M139.3 788.4h1.8M522.7 788.4h1.8M528.1 788.4h5.4M537.1 788.4h5.4M544.3 788.4h9M556.9 788.4h1.8M517.3 795.6h3.6M526.3 795.6h14.4M542.5 795.6h12.6M150.1 802.8h1.8M504.7 802.8h3.6M513.7 802.8h1.8M517.3 802.8h5.4M524.5 802.8h12.6M538.9 802.8h3.6M547.9 802.8h1.8M132.1 810h3.6M137.5 810h5.4M144.7 810h5.4M153.7 810h5.4M160.9 810h5.4M168.1 810h1.8M171.7 810h3.6M178.9 810h5.4M186.1 810h9M196.9 810h5.4M204.1 810h12.6M220.3 810h3.6M225.7 810h1.8M229.3 810h1.8M234.7 810h9M245.5 810h10.8M258.1 810h3.6M265.3 810h1.8M268.9 810h1.8M272.5 810h1.8M276.1 810h5.4M286.9 810h1.8M290.5 810h1.8M294.1 810h1.8M299.5 810h1.8M303.1 810h5.4M310.3 810h3.6M315.7 810h7.2M324.7 810h7.2M333.7 810h16.2M355.3 810h9M366.1 810h14.4M382.3 810h9M393.1 810h5.4M400.3 810h5.4M407.5 810h7.2M418.3 810h3.6M423.7 810h5.4M430.9 810h10.8M443.5 810h1.8M447.1 810h12.6M461.5 810h5.4M470.5 810h7.2M479.5 810h5.4M488.5 810h1.8M495.7 810h3.6M513.7 810h1.8" stroke="#a0a0a0" stroke-width="7.3" fill="none" shape-rendering="crispEdges"/>
<path d="M322.9 644.4h1.8M326.5 644.4h1.8M331.9 644.4h19.8M355.3 644.4h1.8M358.9 644.4h1.8M364.3 644.4h1.8M376.9 644.4h1.8M513.7 651.6h1.8M526.3 651.6h1.8M529.9 651.6h3.6M537.1 651.6h1.8M542.5 651.6h7.2M551.5 651.6h19.8M573.1 651.6h14.4M592.9 651.6h5.4M600.1 651.6h3.6M609.1 651.6h1.8M612.7 651.6h1.8M623.5 651.6h1.8M628.9 651.6h3.6M641.5 651.6h1.8M691.9 651.6h1.8M655.9 658.8h1.8M717.1 658.8h1.8M722.5 658.8h3.6M697.3 673.2h1.8M722.5 673.2h5.3M582.1 680.4h1.8M592.9 680.4h1.8M598.3 680.4h1.8M601.9 680.4h1.8M605.5 680.4h16.2M623.5 680.4h1.8M628.9 680.4h7.2M637.9 680.4h14.4M654.1 680.4h9M666.7 680.4h1.8M670.3 680.4h1.8M673.9 680.4h5.4M691.9 680.4h1.8M697.3 680.4h1.8M700.9 680.4h1.8M708.1 680.4h1.8M128.5 687.6h1.8M524.5 687.6h1.8M529.9 687.6h1.8M533.5 687.6h3.6M538.9 687.6h3.6M544.3 687.6h12.6M558.7 687.6h3.6M564.1 687.6h3.6M573.1 687.6h1.8M126.7 694.8h1.8M130.3 694.8h1.8M510.1 694.8h1.8M513.7 694.8h1.8M517.3 694.8h1.8M520.9 694.8h1.8M526.3 694.8h3.6M533.5 694.8h1.8M537.1 694.8h1.8M547.9 694.8h1.8M510.1 702h1.8M515.5 702h10.8M529.9 702h7.2M538.9 702h1.8M126.7 709.2h1.8M504.7 709.2h3.6M510.1 709.2h1.8M513.7 709.2h18M124.9 716.4h1.8M511.9 716.4h1.8M517.3 716.4h1.8M522.7 716.4h3.6M528.1 716.4h1.8M533.5 716.4h1.8M508.3 723.6h1.8M517.3 723.6h7.2M528.1 723.6h1.8M506.5 730.8h1.8M510.1 730.8h1.8M513.7 730.8h5.4M520.9 730.8h9M533.5 730.8h1.8M544.3 730.8h1.8M123.1 738h1.8M506.5 738h1.8M510.1 738h1.8M513.7 738h3.6M519.1 738h7.2M528.1 738h1.8M531.7 738h1.8M535.3 738h3.6M540.7 738h1.8M504.7 745.2h1.8M510.1 745.2h1.8M513.7 745.2h5.4M520.9 745.2h10.8M535.3 745.2h3.6M519.1 752.4h1.8M524.5 752.4h7.2M533.5 752.4h3.6M544.3 752.4h1.8M547.9 752.4h1.8M513.7 759.6h1.8M524.5 759.6h1.8M528.1 759.6h3.6M533.5 759.6h1.8M537.1 759.6h9M549.7 759.6h1.8M553.3 759.6h1.8M558.7 759.6h1.8M567.7 759.6h1.8M130.3 766.8h1.8M528.1 766.8h1.8M533.5 766.8h3.6M538.9 766.8h1.8M542.5 766.8h3.6M547.9 766.8h10.8M564.1 766.8h1.8M573.1 766.8h1.8M546.1 774h10.8M558.7 774h3.6M137.5 781.2h1.8M542.5 781.2h3.6M549.7 781.2h16.2M571.3 781.2h3.6M576.7 781.2h1.8M542.5 788.4h1.8M553.3 788.4h3.6M558.7 788.4h9M569.5 788.4h1.8M573.1 788.4h1.8M576.7 788.4h1.8M580.3 788.4h1.8M540.7 795.6h1.8M555.1 795.6h10.8M571.3 795.6h1.8M537.1 802.8h1.8M542.5 802.8h5.4M549.7 802.8h7.2M562.3 802.8h5.4M580.3 802.8h1.8M598.3 802.8h1.8M308.5 810h1.8M380.5 810h1.8M391.3 810h1.8M441.7 810h1.8M445.3 810h1.8M459.7 810h1.8M466.9 810h3.6M477.7 810h1.8M484.9 810h3.6M490.3 810h5.4M499.3 810h10.8M511.9 810h1.8M517.3 810h12.6M535.3 810h1.8M564.1 810h1.8M402.1 817.2h1.8" stroke="#aaaaaa" stroke-width="7.3" fill="none" shape-rendering="crispEdges"/>
<path d="M351.7 644.4h3.6M357.1 644.4h1.8M360.7 644.4h3.6M366.1 644.4h1.8M371.5 644.4h1.8M380.5 644.4h7.2M389.5 644.4h3.6M405.7 644.4h1.8M411.1 644.4h1.8M571.3 651.6h1.8M587.5 651.6h3.6M598.3 651.6h1.8M603.7 651.6h5.4M610.9 651.6h1.8M614.5 651.6h9M625.3 651.6h3.6M632.5 651.6h9M645.1 651.6h3.6M654.1 651.6h1.8M659.5 651.6h1.8M663.1 651.6h3.6M670.3 651.6h7.2M681.1 651.6h9M700.9 651.6h1.8M706.3 651.6h1.8M711.7 651.6h1.8M715.3 651.6h3.6M720.7 651.6h1.8M724.3 651.6h3.5M627.1 680.4h1.8M652.3 680.4h1.8M663.1 680.4h3.6M668.5 680.4h1.8M672.1 680.4h1.8M679.3 680.4h12.6M693.7 680.4h3.6M699.1 680.4h1.8M702.7 680.4h3.6M709.9 680.4h3.6M715.3 680.4h3.6M720.7 680.4h7.1M126.7 687.6h1.8M542.5 687.6h1.8M556.9 687.6h1.8M562.3 687.6h1.8M567.7 687.6h3.6M574.9 687.6h12.6M591.1 687.6h1.8M596.5 687.6h1.8M600.1 687.6h3.6M607.3 687.6h3.6M612.7 687.6h1.8M618.1 687.6h3.6M623.5 687.6h3.6M628.9 687.6h1.8M643.3 687.6h1.8M648.7 687.6h1.8M657.7 687.6h1.8M664.9 687.6h1.8M670.3 687.6h1.8M693.7 687.6h1.8M709.9 687.6h1.8M124.9 694.8h1.8M522.7 694.8h1.8M529.9 694.8h3.6M535.3 694.8h1.8M538.9 694.8h9M549.7 694.8h1.8M553.3 694.8h1.8M562.3 694.8h1.8M565.9 694.8h1.8M600.1 694.8h1.8M607.3 694.8h1.8M612.7 694.8h1.8M616.3 694.8h1.8M630.7 694.8h1.8M648.7 694.8h1.8M124.9 702h1.8M128.5 702h1.8M526.3 702h3.6M537.1 702h1.8M540.7 702h3.6M547.9 702h1.8M553.3 702h1.8M558.7 702h1.8M594.7 702h1.8M123.1 709.2h1.8M531.7 709.2h12.6M546.1 709.2h5.4M121.3 716.4h1.8M519.1 716.4h3.6M526.3 716.4h1.8M529.9 716.4h3.6M535.3 716.4h3.6M540.7 716.4h1.8M546.1 716.4h1.8M558.7 716.4h1.8M123.1 723.6h1.8M524.5 723.6h3.6M529.9 723.6h1.8M533.5 723.6h7.2M546.1 723.6h1.8M549.7 723.6h1.8M556.9 723.6h1.8M121.3 730.8h1.8M124.9 730.8h1.8M519.1 730.8h1.8M529.9 730.8h3.6M537.1 730.8h1.8M542.5 730.8h1.8M546.1 730.8h3.6M553.3 730.8h1.8M517.3 738h1.8M526.3 738h1.8M529.9 738h1.8M533.5 738h1.8M538.9 738h1.8M542.5 738h3.6M547.9 738h3.6M555.1 738h1.8M121.3 745.2h1.8M531.7 745.2h3.6M538.9 745.2h1.8M542.5 745.2h7.2M551.5 745.2h3.6M556.9 745.2h1.8M560.5 745.2h1.8M531.7 752.4h1.8M537.1 752.4h7.2M546.1 752.4h1.8M549.7 752.4h9M562.3 752.4h1.8M567.7 752.4h1.8M571.3 752.4h1.8M546.1 759.6h3.6M555.1 759.6h3.6M560.5 759.6h5.4M569.5 759.6h1.8M576.7 759.6h1.8M583.9 759.6h3.6M558.7 766.8h3.6M567.7 766.8h5.4M598.3 766.8h1.8M132.1 774h1.8M556.9 774h1.8M562.3 774h5.4M569.5 774h9M582.1 774h1.8M585.7 774h1.8M589.3 774h1.8M598.3 774h1.8M648.7 774h1.8M567.7 781.2h3.6M574.9 781.2h1.8M582.1 781.2h1.8M585.7 781.2h1.8M567.7 788.4h1.8M571.3 788.4h1.8M578.5 788.4h1.8M583.9 788.4h1.8M587.5 788.4h1.8M591.1 788.4h1.8M594.7 788.4h1.8M605.5 788.4h3.6M623.5 788.4h1.8M565.9 795.6h5.4M573.1 795.6h7.2M582.1 795.6h3.6M592.9 795.6h3.6M610.9 795.6h1.8M142.9 802.8h1.8M146.5 802.8h1.8M556.9 802.8h5.4M567.7 802.8h12.6M582.1 802.8h3.6M592.9 802.8h1.8M596.5 802.8h1.8M614.5 802.8h1.8M510.1 810h1.8M515.5 810h1.8M529.9 810h5.4M538.9 810h16.2M556.9 810h1.8M562.3 810h1.8M567.7 810h1.8M583.9 810h3.6M598.3 810h1.8M393.1 817.2h1.8M409.3 817.2h1.8M416.5 817.2h1.8M466.9 817.2h1.8M484.9 817.2h1.8" stroke="#b4b4b4" stroke-width="7.3" fill="none" shape-rendering="crispEdges"/>
<path d="M367.9 644.4h3.6M373.3 644.4h3.6M378.7 644.4h1.8M387.7 644.4h1.8M393.1 644.4h1.8M396.7 644.4h9M407.5 644.4h3.6M412.9 644.4h1.8M418.3 644.4h1.8M421.9 644.4h1.8M643.3 651.6h1.8M648.7 651.6h5.4M655.9 651.6h3.6M661.3 651.6h1.8M666.7 651.6h3.6M677.5 651.6h3.6M690.1 651.6h1.8M693.7 651.6h7.2M702.7 651.6h3.6M708.1 651.6h3.6M713.5 651.6h1.8M718.9 651.6h1.8M722.5 651.6h1.8M713.5 680.4h1.8M718.9 680.4h1.8M124.9 687.6h1.8M571.3 687.6h1.8M587.5 687.6h3.6M592.9 687.6h3.6M598.3 687.6h1.8M603.7 687.6h3.6M610.9 687.6h1.8M614.5 687.6h3.6M621.7 687.6h1.8M627.1 687.6h1.8M630.7 687.6h12.6M645.1 687.6h3.6M650.5 687.6h5.4M661.3 687.6h3.6M668.5 687.6h1.8M672.1 687.6h1.8M679.3 687.6h3.6M684.7 687.6h1.8M688.3 687.6h5.4M695.5 687.6h1.8M702.7 687.6h1.8M711.7 687.6h1.8M551.5 694.8h1.8M555.1 694.8h7.2M564.1 694.8h1.8M567.7 694.8h1.8M571.3 694.8h5.4M578.5 694.8h1.8M587.5 694.8h5.4M596.5 694.8h1.8M610.9 694.8h1.8M614.5 694.8h1.8M618.1 694.8h3.6M623.5 694.8h3.6M639.7 694.8h3.6M645.1 694.8h1.8M657.7 694.8h1.8M672.1 694.8h1.8M681.1 694.8h3.6M121.3 702h1.8M544.3 702h3.6M549.7 702h3.6M556.9 702h1.8M560.5 702h3.6M565.9 702h1.8M571.3 702h1.8M574.9 702h1.8M583.9 702h1.8M587.5 702h1.8M603.7 702h1.8M610.9 702h1.8M632.5 702h1.8M636.1 702h1.8M119.5 709.2h1.8M544.3 709.2h1.8M553.3 709.2h1.8M560.5 709.2h7.2M571.3 709.2h1.8M574.9 709.2h1.8M598.3 709.2h1.8M605.5 709.2h1.8M538.9 716.4h1.8M542.5 716.4h1.8M547.9 716.4h5.4M562.3 716.4h1.8M569.5 716.4h1.8M574.9 716.4h5.4M119.5 723.6h1.8M531.7 723.6h1.8M540.7 723.6h5.4M547.9 723.6h1.8M551.5 723.6h1.8M555.1 723.6h1.8M562.3 723.6h1.8M565.9 723.6h3.6M573.1 723.6h1.8M594.7 723.6h1.8M535.3 730.8h1.8M538.9 730.8h3.6M549.7 730.8h3.6M555.1 730.8h3.6M560.5 730.8h3.6M567.7 730.8h1.8M582.1 730.8h1.8M546.1 738h1.8M551.5 738h1.8M556.9 738h5.4M564.1 738h3.6M569.5 738h1.8M573.1 738h1.8M119.5 745.2h1.8M540.7 745.2h1.8M549.7 745.2h1.8M555.1 745.2h1.8M558.7 745.2h1.8M562.3 745.2h3.6M567.7 745.2h5.4M574.9 745.2h1.8M578.5 745.2h1.8M582.1 745.2h3.6M587.5 745.2h3.6M592.9 745.2h3.6M610.9 745.2h1.8M119.5 752.4h1.8M123.1 752.4h1.8M558.7 752.4h3.6M564.1 752.4h3.6M569.5 752.4h1.8M573.1 752.4h10.8M589.3 752.4h1.8M596.5 752.4h3.6M121.3 759.6h1.8M551.5 759.6h1.8M565.9 759.6h1.8M571.3 759.6h5.4M578.5 759.6h1.8M607.3 759.6h1.8M610.9 759.6h1.8M614.5 759.6h1.8M126.7 766.8h1.8M562.3 766.8h1.8M565.9 766.8h1.8M574.9 766.8h5.4M582.1 766.8h9M594.7 766.8h1.8M600.1 766.8h3.6M610.9 766.8h1.8M567.7 774h1.8M578.5 774h3.6M583.9 774h1.8M587.5 774h1.8M591.1 774h1.8M594.7 774h3.6M132.1 781.2h3.6M565.9 781.2h1.8M578.5 781.2h3.6M583.9 781.2h1.8M587.5 781.2h3.6M592.9 781.2h1.8M598.3 781.2h5.4M607.3 781.2h3.6M618.1 781.2h1.8M634.3 781.2h3.6M135.7 788.4h1.8M574.9 788.4h1.8M582.1 788.4h1.8M585.7 788.4h1.8M589.3 788.4h1.8M592.9 788.4h1.8M596.5 788.4h1.8M600.1 788.4h5.4M621.7 788.4h1.8M639.7 788.4h1.8M580.3 795.6h1.8M585.7 795.6h7.2M596.5 795.6h1.8M605.5 795.6h1.8M609.1 795.6h1.8M612.7 795.6h1.8M587.5 802.8h1.8M591.1 802.8h1.8M594.7 802.8h1.8M600.1 802.8h1.8M612.7 802.8h1.8M628.9 802.8h1.8M645.1 802.8h1.8M537.1 810h1.8M555.1 810h1.8M558.7 810h3.6M565.9 810h1.8M569.5 810h3.6M578.5 810h3.6M591.1 810h1.8M601.9 810h1.8M614.5 810h1.8M204.1 817.2h1.8M211.3 817.2h1.8M220.3 817.2h1.8M232.9 817.2h1.8M249.1 817.2h1.8M259.9 817.2h1.8M263.5 817.2h1.8M268.9 817.2h1.8M276.1 817.2h1.8M286.9 817.2h1.8M292.3 817.2h1.8M301.3 817.2h5.4M310.3 817.2h3.6M319.3 817.2h1.8M331.9 817.2h3.6M337.3 817.2h5.4M346.3 817.2h1.8M351.7 817.2h1.8M355.3 817.2h3.6M364.3 817.2h1.8M373.3 817.2h1.8M376.9 817.2h1.8M382.3 817.2h1.8M385.9 817.2h1.8M396.7 817.2h3.6M403.9 817.2h3.6M411.1 817.2h1.8M421.9 817.2h1.8M425.5 817.2h3.6M430.9 817.2h1.8M434.5 817.2h3.6M443.5 817.2h1.8M448.9 817.2h1.8M452.5 817.2h1.8M456.1 817.2h3.6M461.5 817.2h3.6M468.7 817.2h1.8M483.1 817.2h1.8M501.1 817.2h1.8M510.1 817.2h1.8M573.1 817.2h1.8" stroke="#bebebe" stroke-width="7.3" fill="none" shape-rendering="crispEdges"/>
<path d="M394.9 644.4h1.8M414.7 644.4h1.8M420.1 644.4h1.8M425.5 644.4h3.6M430.9 644.4h5.4M438.1 644.4h5.4M459.7 644.4h1.8M466.9 644.4h1.8M474.1 644.4h1.8M121.3 687.6h1.8M655.9 687.6h1.8M659.5 687.6h1.8M666.7 687.6h1.8M673.9 687.6h5.4M682.9 687.6h1.8M686.5 687.6h1.8M697.3 687.6h5.4M704.5 687.6h1.8M708.1 687.6h1.8M713.5 687.6h1.8M717.1 687.6h1.8M720.7 687.6h7.1M123.1 694.8h1.8M569.5 694.8h1.8M580.3 694.8h1.8M583.9 694.8h3.6M592.9 694.8h3.6M598.3 694.8h1.8M601.9 694.8h5.4M609.1 694.8h1.8M621.7 694.8h1.8M628.9 694.8h1.8M634.3 694.8h3.6M643.3 694.8h1.8M646.9 694.8h1.8M650.5 694.8h7.2M663.1 694.8h1.8M666.7 694.8h5.4M673.9 694.8h7.2M690.1 694.8h1.8M697.3 694.8h3.6M724.3 694.8h1.8M117.7 702h1.8M555.1 702h1.8M564.1 702h1.8M569.5 702h1.8M573.1 702h1.8M576.7 702h3.6M582.1 702h1.8M585.7 702h1.8M591.1 702h1.8M596.5 702h7.2M605.5 702h3.6M612.7 702h1.8M618.1 702h3.6M623.5 702h1.8M628.9 702h1.8M637.9 702h1.8M643.3 702h3.6M663.1 702h3.6M668.5 702h3.6M684.7 702h1.8M551.5 709.2h1.8M555.1 709.2h5.4M569.5 709.2h1.8M573.1 709.2h1.8M576.7 709.2h19.8M600.1 709.2h3.6M610.9 709.2h1.8M616.3 709.2h1.8M623.5 709.2h1.8M114.1 716.4h1.8M544.3 716.4h1.8M553.3 716.4h5.4M560.5 716.4h1.8M565.9 716.4h3.6M571.3 716.4h3.6M580.3 716.4h3.6M585.7 716.4h3.6M592.9 716.4h1.8M598.3 716.4h1.8M607.3 716.4h1.8M614.5 716.4h1.8M553.3 723.6h1.8M558.7 723.6h3.6M564.1 723.6h1.8M569.5 723.6h1.8M574.9 723.6h1.8M580.3 723.6h3.6M585.7 723.6h1.8M589.3 723.6h1.8M598.3 723.6h3.6M607.3 723.6h1.8M625.3 723.6h1.8M630.7 723.6h3.6M677.5 723.6h1.8M558.7 730.8h1.8M564.1 730.8h3.6M569.5 730.8h1.8M573.1 730.8h3.6M578.5 730.8h1.8M583.9 730.8h7.2M612.7 730.8h1.8M618.1 730.8h3.6M119.5 738h1.8M553.3 738h1.8M562.3 738h1.8M567.7 738h1.8M571.3 738h1.8M574.9 738h3.6M580.3 738h1.8M587.5 738h3.6M592.9 738h1.8M596.5 738h1.8M600.1 738h9M115.9 745.2h1.8M565.9 745.2h1.8M576.7 745.2h1.8M580.3 745.2h1.8M585.7 745.2h1.8M596.5 745.2h1.8M601.9 745.2h1.8M609.1 745.2h1.8M115.9 752.4h1.8M583.9 752.4h5.4M591.1 752.4h1.8M594.7 752.4h1.8M607.3 752.4h1.8M686.5 752.4h1.8M117.7 759.6h1.8M580.3 759.6h3.6M587.5 759.6h5.4M594.7 759.6h7.2M655.9 759.6h3.6M123.1 766.8h1.8M580.3 766.8h1.8M591.1 766.8h3.6M596.5 766.8h1.8M603.7 766.8h5.4M614.5 766.8h1.8M618.1 766.8h1.8M643.3 766.8h3.6M661.3 766.8h1.8M690.1 766.8h1.8M592.9 774h1.8M600.1 774h3.6M605.5 774h1.8M609.1 774h12.6M630.7 774h3.6M720.7 774h1.8M130.3 781.2h1.8M591.1 781.2h1.8M594.7 781.2h3.6M603.7 781.2h3.6M612.7 781.2h5.4M619.9 781.2h1.8M630.7 781.2h1.8M132.1 788.4h3.6M598.3 788.4h1.8M609.1 788.4h1.8M616.3 788.4h3.6M634.3 788.4h1.8M641.5 788.4h1.8M652.3 788.4h3.6M657.7 788.4h1.8M695.5 788.4h1.8M702.7 788.4h1.8M133.9 795.6h1.8M600.1 795.6h5.4M607.3 795.6h1.8M614.5 795.6h3.6M623.5 795.6h1.8M627.1 795.6h3.6M639.7 795.6h3.6M677.5 795.6h1.8M700.9 795.6h1.8M139.3 802.8h1.8M585.7 802.8h1.8M589.3 802.8h1.8M601.9 802.8h3.6M607.3 802.8h5.4M616.3 802.8h1.8M619.9 802.8h5.4M627.1 802.8h1.8M634.3 802.8h1.8M641.5 802.8h1.8M648.7 802.8h1.8M664.9 802.8h1.8M670.3 802.8h1.8M675.7 802.8h3.6M706.3 802.8h1.8M574.9 810h3.6M582.1 810h1.8M587.5 810h3.6M592.9 810h5.4M600.1 810h1.8M603.7 810h1.8M607.3 810h1.8M610.9 810h1.8M619.9 810h1.8M628.9 810h1.8M632.5 810h1.8M657.7 810h1.8M139.3 817.2h1.8M157.3 817.2h1.8M164.5 817.2h1.8M171.7 817.2h1.8M182.5 817.2h1.8M187.9 817.2h1.8M202.3 817.2h1.8M205.9 817.2h1.8M209.5 817.2h1.8M214.9 817.2h1.8M222.1 817.2h1.8M227.5 817.2h1.8M231.1 817.2h1.8M243.7 817.2h1.8M247.3 817.2h1.8M250.9 817.2h9M261.7 817.2h1.8M265.3 817.2h1.8M270.7 817.2h5.4M279.7 817.2h1.8M283.3 817.2h3.6M290.5 817.2h1.8M294.1 817.2h5.4M306.7 817.2h3.6M313.9 817.2h1.8M317.5 817.2h1.8M321.1 817.2h10.8M335.5 817.2h1.8M342.7 817.2h1.8M348.1 817.2h3.6M353.5 817.2h1.8M358.9 817.2h5.4M366.1 817.2h1.8M369.7 817.2h3.6M375.1 817.2h1.8M380.5 817.2h1.8M384.1 817.2h1.8M387.7 817.2h5.4M394.9 817.2h1.8M400.3 817.2h1.8M407.5 817.2h1.8M412.9 817.2h1.8M418.3 817.2h3.6M423.7 817.2h1.8M429.1 817.2h1.8M432.7 817.2h1.8M438.1 817.2h1.8M441.7 817.2h1.8M445.3 817.2h1.8M450.7 817.2h1.8M454.3 817.2h1.8M459.7 817.2h1.8M465.1 817.2h1.8M470.5 817.2h7.2M486.7 817.2h14.4M504.7 817.2h5.4M511.9 817.2h5.4M519.1 817.2h5.4M526.3 817.2h1.8M529.9 817.2h1.8M537.1 817.2h5.4M544.3 817.2h1.8M555.1 817.2h3.6M567.7 817.2h1.8M571.3 817.2h1.8M601.9 817.2h1.8M389.5 824.4h1.8M456.1 824.4h1.8M560.5 824.4h1.8" stroke="#c8c8c8" stroke-width="7.3" fill="none" shape-rendering="crispEdges"/>
<path d="M416.5 644.4h1.8M423.7 644.4h1.8M429.1 644.4h1.8M436.3 644.4h1.8M443.5 644.4h1.8M447.1 644.4h1.8M450.7 644.4h3.6M456.1 644.4h3.6M461.5 644.4h3.6M470.5 644.4h1.8M484.9 644.4h1.8M502.9 644.4h1.8M506.5 644.4h1.8M105.1 687.6h1.8M110.5 687.6h1.8M715.3 687.6h1.8M718.9 687.6h1.8M108.7 694.8h1.8M576.7 694.8h1.8M582.1 694.8h1.8M627.1 694.8h1.8M632.5 694.8h1.8M637.9 694.8h1.8M659.5 694.8h3.6M664.9 694.8h1.8M684.7 694.8h3.6M691.9 694.8h1.8M700.9 694.8h1.8M704.5 694.8h3.6M709.9 694.8h7.2M718.9 694.8h3.6M105.1 702h1.8M567.7 702h1.8M580.3 702h1.8M589.3 702h1.8M592.9 702h1.8M609.1 702h1.8M616.3 702h1.8M621.7 702h1.8M625.3 702h3.6M630.7 702h1.8M639.7 702h1.8M650.5 702h1.8M654.1 702h1.8M657.7 702h5.4M666.7 702h1.8M686.5 702h1.8M695.5 702h1.8M702.7 702h1.8M711.7 702h1.8M715.3 702h3.6M106.9 709.2h1.8M112.3 709.2h1.8M596.5 709.2h1.8M603.7 709.2h1.8M607.3 709.2h3.6M612.7 709.2h3.6M618.1 709.2h3.6M625.3 709.2h3.6M630.7 709.2h3.6M637.9 709.2h1.8M641.5 709.2h3.6M646.9 709.2h12.6M673.9 709.2h1.8M711.7 709.2h1.8M117.7 716.4h1.8M564.1 716.4h1.8M583.9 716.4h1.8M589.3 716.4h3.6M594.7 716.4h1.8M600.1 716.4h7.2M610.9 716.4h1.8M618.1 716.4h3.6M628.9 716.4h1.8M634.3 716.4h1.8M643.3 716.4h3.6M659.5 716.4h3.6M103.3 723.6h1.8M115.9 723.6h1.8M571.3 723.6h1.8M576.7 723.6h3.6M583.9 723.6h1.8M587.5 723.6h1.8M591.1 723.6h3.6M601.9 723.6h1.8M605.5 723.6h1.8M612.7 723.6h1.8M618.1 723.6h1.8M627.1 723.6h1.8M718.9 723.6h1.8M103.3 730.8h1.8M571.3 730.8h1.8M576.7 730.8h1.8M580.3 730.8h1.8M592.9 730.8h3.6M600.1 730.8h10.8M614.5 730.8h3.6M623.5 730.8h1.8M634.3 730.8h3.6M661.3 730.8h1.8M103.3 738h1.8M114.1 738h3.6M578.5 738h1.8M582.1 738h3.6M591.1 738h1.8M594.7 738h1.8M598.3 738h1.8M609.1 738h1.8M614.5 738h1.8M621.7 738h3.6M711.7 738h1.8M103.3 745.2h1.8M117.7 745.2h1.8M573.1 745.2h1.8M591.1 745.2h1.8M598.3 745.2h1.8M616.3 745.2h1.8M632.5 745.2h1.8M639.7 745.2h1.8M682.9 745.2h1.8M103.3 752.4h3.6M110.5 752.4h1.8M600.1 752.4h1.8M603.7 752.4h1.8M609.1 752.4h7.2M619.9 752.4h5.4M627.1 752.4h1.8M670.3 752.4h1.8M106.9 759.6h1.8M110.5 759.6h1.8M592.9 759.6h1.8M601.9 759.6h1.8M605.5 759.6h1.8M609.1 759.6h1.8M612.7 759.6h1.8M616.3 759.6h1.8M623.5 759.6h1.8M673.9 759.6h1.8M108.7 766.8h1.8M609.1 766.8h1.8M612.7 766.8h1.8M619.9 766.8h3.6M625.3 766.8h5.4M632.5 766.8h1.8M639.7 766.8h1.8M708.1 766.8h1.8M720.7 766.8h1.8M112.3 774h3.6M124.9 774h5.4M603.7 774h1.8M607.3 774h1.8M621.7 774h1.8M627.1 774h3.6M643.3 774h1.8M646.9 774h1.8M661.3 774h1.8M677.5 774h1.8M695.5 774h1.8M699.1 774h1.8M115.9 781.2h1.8M119.5 781.2h1.8M128.5 781.2h1.8M610.9 781.2h1.8M621.7 781.2h1.8M632.5 781.2h1.8M648.7 781.2h7.2M664.9 781.2h3.6M679.3 781.2h1.8M682.9 781.2h3.6M702.7 781.2h3.6M715.3 781.2h1.8M117.7 788.4h1.8M121.3 788.4h1.8M610.9 788.4h5.4M619.9 788.4h1.8M625.3 788.4h1.8M628.9 788.4h1.8M632.5 788.4h1.8M636.1 788.4h1.8M648.7 788.4h1.8M659.5 788.4h1.8M670.3 788.4h3.6M679.3 788.4h5.4M686.5 788.4h1.8M691.9 788.4h1.8M699.1 788.4h1.8M713.5 788.4h1.8M119.5 795.6h3.6M598.3 795.6h1.8M618.1 795.6h5.4M625.3 795.6h1.8M632.5 795.6h5.4M643.3 795.6h5.4M654.1 795.6h1.8M657.7 795.6h5.4M668.5 795.6h5.4M675.7 795.6h1.8M679.3 795.6h1.8M682.9 795.6h1.8M688.3 795.6h3.6M697.3 795.6h3.6M715.3 795.6h1.8M718.9 795.6h1.8M605.5 802.8h1.8M618.1 802.8h1.8M632.5 802.8h1.8M636.1 802.8h1.8M646.9 802.8h1.8M652.3 802.8h3.6M657.7 802.8h3.6M663.1 802.8h1.8M666.7 802.8h1.8M672.1 802.8h3.6M679.3 802.8h1.8M684.7 802.8h5.4M702.7 802.8h1.8M573.1 810h1.8M609.1 810h1.8M616.3 810h1.8M621.7 810h3.6M630.7 810h1.8M634.3 810h3.6M641.5 810h1.8M646.9 810h1.8M652.3 810h1.8M663.1 810h3.6M673.9 810h3.6M137.5 817.2h1.8M142.9 817.2h3.6M150.1 817.2h1.8M153.7 817.2h3.6M159.1 817.2h1.8M162.7 817.2h1.8M169.9 817.2h1.8M173.5 817.2h3.6M180.7 817.2h1.8M184.3 817.2h3.6M189.7 817.2h3.6M195.1 817.2h7.2M207.7 817.2h1.8M213.1 817.2h1.8M218.5 817.2h1.8M225.7 817.2h1.8M229.3 817.2h1.8M236.5 817.2h7.2M245.5 817.2h1.8M267.1 817.2h1.8M277.9 817.2h1.8M281.5 817.2h1.8M288.7 817.2h1.8M299.5 817.2h1.8M315.7 817.2h1.8M344.5 817.2h1.8M367.9 817.2h1.8M378.7 817.2h1.8M414.7 817.2h1.8M439.9 817.2h1.8M447.1 817.2h1.8M477.7 817.2h5.4M502.9 817.2h1.8M517.3 817.2h1.8M524.5 817.2h1.8M531.7 817.2h5.4M542.5 817.2h1.8M546.1 817.2h9M565.9 817.2h1.8M585.7 817.2h1.8M589.3 817.2h1.8M596.5 817.2h3.6M603.7 817.2h1.8M607.3 817.2h3.6M623.5 817.2h1.8M648.7 817.2h1.8M677.5 817.2h1.8M288.7 824.4h1.8M297.7 824.4h1.8M319.3 824.4h1.8M326.5 824.4h1.8M348.1 824.4h1.8M373.3 824.4h1.8M380.5 824.4h1.8M403.9 824.4h1.8M418.3 824.4h1.8M421.9 824.4h1.8M430.9 824.4h1.8M436.3 824.4h1.8M445.3 824.4h1.8M448.9 824.4h1.8M454.3 824.4h1.8M463.3 824.4h1.8M470.5 824.4h3.6M501.1 824.4h1.8M589.3 824.4h1.8M223.9 831.6h1.8M547.9 831.6h1.8M619.9 831.6h1.8M420.1 838.8h1.8" stroke="#d2d2d2" stroke-width="7.3" fill="none" shape-rendering="crispEdges"/>
<path d="M445.3 644.4h1.8M448.9 644.4h1.8M465.1 644.4h1.8M475.9 644.4h3.6M481.3 644.4h1.8M486.7 644.4h5.4M497.5 644.4h1.8M508.3 644.4h1.8M513.7 644.4h1.8M517.3 644.4h1.8M522.7 644.4h1.8M551.5 644.4h1.8M603.7 644.4h1.8M612.7 644.4h1.8M706.3 687.6h1.8M105.1 694.8h1.8M112.3 694.8h1.8M688.3 694.8h1.8M693.7 694.8h1.8M702.7 694.8h1.8M708.1 694.8h1.8M722.5 694.8h1.8M726.1 694.8h1.7M106.9 702h1.8M110.5 702h1.8M119.5 702h1.8M614.5 702h1.8M634.3 702h1.8M641.5 702h1.8M646.9 702h3.6M652.3 702h1.8M655.9 702h1.8M672.1 702h1.8M675.7 702h5.4M682.9 702h1.8M688.3 702h5.4M697.3 702h1.8M708.1 702h3.6M713.5 702h1.8M724.3 702h1.8M103.3 709.2h3.6M567.7 709.2h1.8M621.7 709.2h1.8M634.3 709.2h1.8M645.1 709.2h1.8M659.5 709.2h7.2M672.1 709.2h1.8M675.7 709.2h1.8M686.5 709.2h1.8M690.1 709.2h1.8M695.5 709.2h5.4M702.7 709.2h3.6M718.9 709.2h1.8M101.5 716.4h1.8M106.9 716.4h1.8M110.5 716.4h1.8M596.5 716.4h1.8M609.1 716.4h1.8M612.7 716.4h1.8M625.3 716.4h3.6M630.7 716.4h3.6M636.1 716.4h7.2M652.3 716.4h1.8M677.5 716.4h1.8M682.9 716.4h1.8M686.5 716.4h1.8M690.1 716.4h3.6M699.1 716.4h1.8M596.5 723.6h1.8M603.7 723.6h1.8M609.1 723.6h3.6M614.5 723.6h3.6M619.9 723.6h5.4M628.9 723.6h1.8M646.9 723.6h3.6M686.5 723.6h1.8M117.7 730.8h1.8M598.3 730.8h1.8M610.9 730.8h1.8M627.1 730.8h3.6M641.5 730.8h1.8M657.7 730.8h1.8M664.9 730.8h1.8M673.9 730.8h1.8M706.3 730.8h1.8M724.3 730.8h1.8M105.1 738h1.8M585.7 738h1.8M612.7 738h1.8M628.9 738h1.8M634.3 738h3.6M639.7 738h1.8M114.1 745.2h1.8M600.1 745.2h1.8M603.7 745.2h5.4M612.7 745.2h3.6M618.1 745.2h10.8M634.3 745.2h3.6M648.7 745.2h1.8M681.1 745.2h1.8M699.1 745.2h1.8M108.7 752.4h1.8M592.9 752.4h1.8M601.9 752.4h1.8M605.5 752.4h1.8M625.3 752.4h1.8M628.9 752.4h3.6M636.1 752.4h1.8M639.7 752.4h1.8M668.5 752.4h1.8M702.7 752.4h1.8M717.1 752.4h1.8M603.7 759.6h1.8M618.1 759.6h5.4M625.3 759.6h7.2M636.1 759.6h5.4M645.1 759.6h3.6M654.1 759.6h1.8M670.3 759.6h3.6M686.5 759.6h1.8M691.9 759.6h1.8M702.7 759.6h1.8M717.1 759.6h1.8M722.5 759.6h1.8M616.3 766.8h1.8M623.5 766.8h1.8M634.3 766.8h5.4M659.5 766.8h1.8M663.1 766.8h1.8M666.7 766.8h1.8M673.9 766.8h5.4M686.5 766.8h1.8M693.7 766.8h3.6M711.7 766.8h1.8M715.3 766.8h3.6M726.1 766.8h1.7M623.5 774h3.6M634.3 774h1.8M641.5 774h1.8M645.1 774h1.8M663.1 774h5.4M670.3 774h1.8M673.9 774h1.8M679.3 774h1.8M682.9 774h5.4M697.3 774h1.8M702.7 774h1.8M708.1 774h1.8M711.7 774h7.2M724.3 774h1.8M123.1 781.2h1.8M623.5 781.2h7.2M637.9 781.2h5.4M645.1 781.2h3.6M657.7 781.2h5.4M670.3 781.2h7.2M686.5 781.2h1.8M690.1 781.2h12.6M708.1 781.2h1.8M711.7 781.2h3.6M718.9 781.2h1.8M722.5 781.2h5.3M627.1 788.4h1.8M630.7 788.4h1.8M637.9 788.4h1.8M643.3 788.4h5.4M655.9 788.4h1.8M661.3 788.4h3.6M666.7 788.4h1.8M673.9 788.4h1.8M677.5 788.4h1.8M684.7 788.4h1.8M688.3 788.4h3.6M697.3 788.4h1.8M700.9 788.4h1.8M704.5 788.4h3.6M709.9 788.4h3.6M718.9 788.4h1.8M724.3 788.4h1.8M123.1 795.6h1.8M130.3 795.6h1.8M630.7 795.6h1.8M648.7 795.6h1.8M655.9 795.6h1.8M663.1 795.6h5.4M673.9 795.6h1.8M684.7 795.6h3.6M691.9 795.6h3.6M711.7 795.6h3.6M724.3 795.6h1.8M124.9 802.8h3.6M132.1 802.8h3.6M625.3 802.8h1.8M630.7 802.8h1.8M637.9 802.8h3.6M643.3 802.8h1.8M650.5 802.8h1.8M655.9 802.8h1.8M661.3 802.8h1.8M693.7 802.8h1.8M699.1 802.8h1.8M704.5 802.8h1.8M711.7 802.8h1.8M715.3 802.8h1.8M720.7 802.8h1.8M605.5 810h1.8M618.1 810h1.8M625.3 810h3.6M637.9 810h3.6M643.3 810h3.6M648.7 810h3.6M654.1 810h1.8M661.3 810h1.8M668.5 810h1.8M681.1 810h1.8M686.5 810h1.8M690.1 810h1.8M693.7 810h1.8M697.3 810h1.8M702.7 810h1.8M706.3 810h3.6M720.7 810h1.8M726.1 810h1.7M141.1 817.2h1.8M146.5 817.2h3.6M160.9 817.2h1.8M166.3 817.2h3.6M177.1 817.2h3.6M216.7 817.2h1.8M223.9 817.2h1.8M234.7 817.2h1.8M528.1 817.2h1.8M558.7 817.2h1.8M574.9 817.2h3.6M580.3 817.2h5.4M587.5 817.2h1.8M591.1 817.2h1.8M594.7 817.2h1.8M616.3 817.2h1.8M619.9 817.2h3.6M627.1 817.2h3.6M632.5 817.2h1.8M645.1 817.2h1.8M652.3 817.2h1.8M661.3 817.2h1.8M695.5 817.2h1.8M711.7 817.2h3.6M144.7 824.4h1.8M169.9 824.4h1.8M191.5 824.4h1.8M207.7 824.4h1.8M236.5 824.4h1.8M245.5 824.4h1.8M252.7 824.4h1.8M258.1 824.4h1.8M263.5 824.4h1.8M267.1 824.4h1.8M270.7 824.4h1.8M279.7 824.4h1.8M310.3 824.4h1.8M317.5 824.4h1.8M321.1 824.4h1.8M330.1 824.4h1.8M333.7 824.4h3.6M344.5 824.4h1.8M351.7 824.4h1.8M362.5 824.4h1.8M369.7 824.4h1.8M382.3 824.4h7.2M391.3 824.4h1.8M394.9 824.4h5.4M409.3 824.4h1.8M412.9 824.4h5.4M423.7 824.4h3.6M429.1 824.4h1.8M439.9 824.4h3.6M447.1 824.4h1.8M452.5 824.4h1.8M457.9 824.4h1.8M477.7 824.4h1.8M484.9 824.4h1.8M488.5 824.4h1.8M493.9 824.4h5.4M502.9 824.4h1.8M508.3 824.4h3.6M513.7 824.4h1.8M517.3 824.4h1.8M524.5 824.4h3.6M531.7 824.4h1.8M542.5 824.4h3.6M558.7 824.4h1.8M573.1 824.4h1.8M576.7 824.4h1.8M585.7 824.4h1.8M594.7 824.4h1.8M616.3 824.4h1.8M627.1 824.4h1.8M682.9 824.4h1.8M699.1 824.4h1.8M186.1 831.6h1.8M267.1 831.6h1.8M391.3 831.6h1.8M405.7 831.6h1.8M457.9 831.6h3.6M488.5 831.6h1.8M497.5 831.6h1.8M576.7 831.6h1.8M591.1 831.6h1.8M594.7 831.6h1.8M686.5 831.6h1.8M263.5 838.8h1.8M445.3 838.8h1.8M535.3 838.8h1.8M614.5 838.8h1.8" stroke="#dcdcdc" stroke-width="7.3" fill="none" shape-rendering="crispEdges"/>
<path d="M454.3 644.4h1.8M472.3 644.4h1.8M479.5 644.4h1.8M492.1 644.4h3.6M501.1 644.4h1.8M504.7 644.4h1.8M511.9 644.4h1.8M515.5 644.4h1.8M524.5 644.4h1.8M531.7 644.4h1.8M535.3 644.4h1.8M546.1 644.4h1.8M556.9 644.4h1.8M560.5 644.4h1.8M589.3 644.4h1.8M621.7 644.4h1.8M641.5 644.4h1.8M695.5 644.4h1.8M718.9 644.4h1.8M106.9 687.6h1.8M114.1 687.6h1.8M117.7 687.6h1.8M695.5 694.8h1.8M717.1 694.8h1.8M114.1 702h1.8M673.9 702h1.8M681.1 702h1.8M693.7 702h1.8M699.1 702h3.6M706.3 702h1.8M718.9 702h5.4M115.9 709.2h1.8M628.9 709.2h1.8M636.1 709.2h1.8M666.7 709.2h5.4M679.3 709.2h7.2M688.3 709.2h1.8M715.3 709.2h1.8M722.5 709.2h1.8M726.1 709.2h1.7M103.3 716.4h1.8M616.3 716.4h1.8M621.7 716.4h3.6M646.9 716.4h1.8M650.5 716.4h1.8M654.1 716.4h1.8M663.1 716.4h5.4M670.3 716.4h1.8M673.9 716.4h1.8M702.7 716.4h1.8M706.3 716.4h1.8M715.3 716.4h3.6M108.7 723.6h1.8M634.3 723.6h3.6M639.7 723.6h3.6M650.5 723.6h1.8M654.1 723.6h1.8M659.5 723.6h3.6M664.9 723.6h1.8M670.3 723.6h1.8M673.9 723.6h1.8M684.7 723.6h1.8M690.1 723.6h1.8M704.5 723.6h1.8M720.7 723.6h1.8M114.1 730.8h1.8M591.1 730.8h1.8M596.5 730.8h1.8M621.7 730.8h1.8M625.3 730.8h1.8M645.1 730.8h9M677.5 730.8h1.8M690.1 730.8h1.8M708.1 730.8h1.8M722.5 730.8h1.8M108.7 738h1.8M610.9 738h1.8M616.3 738h5.4M625.3 738h1.8M632.5 738h1.8M637.9 738h1.8M645.1 738h5.4M652.3 738h5.4M661.3 738h1.8M668.5 738h1.8M675.7 738h5.4M684.7 738h1.8M693.7 738h1.8M709.9 738h1.8M110.5 745.2h1.8M630.7 745.2h1.8M637.9 745.2h1.8M652.3 745.2h1.8M655.9 745.2h1.8M666.7 745.2h1.8M672.1 745.2h1.8M677.5 745.2h1.8M697.3 745.2h1.8M711.7 745.2h1.8M112.3 752.4h1.8M616.3 752.4h3.6M632.5 752.4h1.8M637.9 752.4h1.8M641.5 752.4h3.6M646.9 752.4h1.8M650.5 752.4h5.4M659.5 752.4h1.8M663.1 752.4h1.8M672.1 752.4h1.8M681.1 752.4h1.8M684.7 752.4h1.8M695.5 752.4h1.8M699.1 752.4h3.6M715.3 752.4h1.8M722.5 752.4h1.8M634.3 759.6h1.8M641.5 759.6h3.6M652.3 759.6h1.8M668.5 759.6h1.8M682.9 759.6h1.8M688.3 759.6h3.6M699.1 759.6h1.8M704.5 759.6h1.8M708.1 759.6h3.6M720.7 759.6h1.8M724.3 759.6h3.5M119.5 766.8h1.8M630.7 766.8h1.8M641.5 766.8h1.8M646.9 766.8h1.8M654.1 766.8h3.6M672.1 766.8h1.8M679.3 766.8h1.8M682.9 766.8h1.8M691.9 766.8h1.8M697.3 766.8h1.8M702.7 766.8h3.6M709.9 766.8h1.8M722.5 766.8h3.6M117.7 774h7.2M650.5 774h5.4M657.7 774h3.6M672.1 774h1.8M681.1 774h1.8M688.3 774h7.2M700.9 774h1.8M704.5 774h1.8M709.9 774h1.8M722.5 774h1.8M126.7 781.2h1.8M643.3 781.2h1.8M655.9 781.2h1.8M668.5 781.2h1.8M681.1 781.2h1.8M688.3 781.2h1.8M709.9 781.2h1.8M717.1 781.2h1.8M720.7 781.2h1.8M124.9 788.4h1.8M664.9 788.4h1.8M675.7 788.4h1.8M693.7 788.4h1.8M715.3 788.4h3.6M722.5 788.4h1.8M726.1 788.4h1.7M126.7 795.6h1.8M637.9 795.6h1.8M650.5 795.6h3.6M681.1 795.6h1.8M702.7 795.6h1.8M706.3 795.6h1.8M709.9 795.6h1.8M717.1 795.6h1.8M720.7 795.6h3.6M128.5 802.8h1.8M135.7 802.8h1.8M668.5 802.8h1.8M681.1 802.8h3.6M690.1 802.8h3.6M697.3 802.8h1.8M700.9 802.8h1.8M708.1 802.8h3.6M717.1 802.8h3.6M612.7 810h1.8M659.5 810h1.8M666.7 810h1.8M670.3 810h3.6M677.5 810h3.6M684.7 810h1.8M688.3 810h1.8M691.9 810h1.8M699.1 810h3.6M704.5 810h1.8M715.3 810h1.8M724.3 810h1.8M151.9 817.2h1.8M193.3 817.2h1.8M560.5 817.2h5.4M569.5 817.2h1.8M578.5 817.2h1.8M605.5 817.2h1.8M610.9 817.2h1.8M614.5 817.2h1.8M618.1 817.2h1.8M630.7 817.2h1.8M634.3 817.2h9M650.5 817.2h1.8M654.1 817.2h7.2M663.1 817.2h1.8M668.5 817.2h1.8M673.9 817.2h1.8M681.1 817.2h1.8M690.1 817.2h1.8M715.3 817.2h3.6M722.5 817.2h1.8M151.9 824.4h1.8M159.1 824.4h1.8M193.3 824.4h1.8M198.7 824.4h1.8M205.9 824.4h1.8M209.5 824.4h1.8M213.1 824.4h1.8M218.5 824.4h3.6M225.7 824.4h1.8M240.1 824.4h5.4M250.9 824.4h1.8M256.3 824.4h1.8M259.9 824.4h1.8M274.3 824.4h1.8M285.1 824.4h1.8M292.3 824.4h1.8M299.5 824.4h3.6M304.9 824.4h3.6M313.9 824.4h3.6M322.9 824.4h3.6M328.3 824.4h1.8M331.9 824.4h1.8M337.3 824.4h3.6M346.3 824.4h1.8M358.9 824.4h3.6M371.5 824.4h1.8M378.7 824.4h1.8M393.1 824.4h1.8M402.1 824.4h1.8M405.7 824.4h3.6M427.3 824.4h1.8M438.1 824.4h1.8M443.5 824.4h1.8M450.7 824.4h1.8M461.5 824.4h1.8M465.1 824.4h3.6M474.1 824.4h1.8M479.5 824.4h5.4M486.7 824.4h1.8M490.3 824.4h1.8M499.3 824.4h1.8M504.7 824.4h3.6M520.9 824.4h1.8M528.1 824.4h1.8M533.5 824.4h9M546.1 824.4h1.8M555.1 824.4h1.8M562.3 824.4h1.8M574.9 824.4h1.8M591.1 824.4h1.8M596.5 824.4h1.8M603.7 824.4h1.8M607.3 824.4h5.4M618.1 824.4h1.8M621.7 824.4h1.8M628.9 824.4h1.8M632.5 824.4h1.8M636.1 824.4h5.4M643.3 824.4h1.8M646.9 824.4h5.4M664.9 824.4h1.8M668.5 824.4h1.8M677.5 824.4h1.8M684.7 824.4h1.8M700.9 824.4h1.8M708.1 824.4h1.8M726.1 824.4h1.7M196.9 831.6h1.8M250.9 831.6h1.8M254.5 831.6h1.8M276.1 831.6h1.8M285.1 831.6h3.6M312.1 831.6h1.8M319.3 831.6h1.8M367.9 831.6h1.8M376.9 831.6h1.8M396.7 831.6h1.8M409.3 831.6h5.4M416.5 831.6h3.6M432.7 831.6h1.8M436.3 831.6h3.6M441.7 831.6h3.6M448.9 831.6h1.8M475.9 831.6h1.8M484.9 831.6h1.8M511.9 831.6h1.8M515.5 831.6h1.8M529.9 831.6h3.6M542.5 831.6h1.8M560.5 831.6h5.4M573.1 831.6h1.8M603.7 831.6h1.8M609.1 831.6h1.8M616.3 831.6h1.8M636.1 831.6h1.8M655.9 831.6h1.8M677.5 831.6h1.8M682.9 831.6h1.8M691.9 831.6h1.8M713.5 831.6h1.8M166.3 838.8h3.6M171.7 838.8h3.6M211.3 838.8h1.8M247.3 838.8h1.8M344.5 838.8h1.8M364.3 838.8h1.8M396.7 838.8h1.8M423.7 838.8h1.8M429.1 838.8h1.8M472.3 838.8h1.8M547.9 838.8h1.8M565.9 838.8h1.8M607.3 838.8h1.8M618.1 838.8h1.8M673.9 838.8h1.8M699.1 838.8h1.8" stroke="#e6e6e6" stroke-width="7.3" fill="none" shape-rendering="crispEdges"/>
<path d="M468.7 644.4h1.8M483.1 644.4h1.8M495.7 644.4h1.8M499.3 644.4h1.8M510.1 644.4h1.8M520.9 644.4h1.8M526.3 644.4h5.4M533.5 644.4h1.8M540.7 644.4h1.8M553.3 644.4h3.6M562.3 644.4h3.6M569.5 644.4h5.4M578.5 644.4h1.8M591.1 644.4h5.4M607.3 644.4h1.8M614.5 644.4h3.6M628.9 644.4h1.8M634.3 644.4h1.8M639.7 644.4h1.8M659.5 644.4h1.8M663.1 644.4h1.8M675.7 644.4h1.8M688.3 644.4h1.8M704.5 644.4h1.8M711.7 644.4h3.6M115.9 694.8h1.8M704.5 702h1.8M639.7 709.2h1.8M677.5 709.2h1.8M691.9 709.2h3.6M700.9 709.2h1.8M706.3 709.2h5.4M713.5 709.2h1.8M720.7 709.2h1.8M724.3 709.2h1.8M648.7 716.4h1.8M655.9 716.4h3.6M668.5 716.4h1.8M672.1 716.4h1.8M675.7 716.4h1.8M681.1 716.4h1.8M684.7 716.4h1.8M693.7 716.4h5.4M704.5 716.4h1.8M711.7 716.4h1.8M718.9 716.4h5.4M112.3 723.6h1.8M637.9 723.6h1.8M645.1 723.6h1.8M652.3 723.6h1.8M655.9 723.6h3.6M663.1 723.6h1.8M668.5 723.6h1.8M672.1 723.6h1.8M675.7 723.6h1.8M679.3 723.6h5.4M688.3 723.6h1.8M693.7 723.6h1.8M699.1 723.6h3.6M706.3 723.6h1.8M709.9 723.6h1.8M715.3 723.6h1.8M106.9 730.8h1.8M630.7 730.8h3.6M637.9 730.8h3.6M643.3 730.8h1.8M655.9 730.8h1.8M666.7 730.8h1.8M670.3 730.8h1.8M688.3 730.8h1.8M691.9 730.8h5.4M702.7 730.8h1.8M112.3 738h1.8M627.1 738h1.8M630.7 738h1.8M641.5 738h3.6M650.5 738h1.8M657.7 738h3.6M664.9 738h1.8M672.1 738h1.8M688.3 738h5.4M695.5 738h3.6M706.3 738h1.8M713.5 738h1.8M726.1 738h1.7M628.9 745.2h1.8M641.5 745.2h7.2M650.5 745.2h1.8M654.1 745.2h1.8M661.3 745.2h5.4M670.3 745.2h1.8M673.9 745.2h3.6M684.7 745.2h1.8M691.9 745.2h3.6M700.9 745.2h1.8M706.3 745.2h1.8M713.5 745.2h5.4M720.7 745.2h1.8M724.3 745.2h1.8M634.3 752.4h1.8M655.9 752.4h3.6M661.3 752.4h1.8M664.9 752.4h3.6M690.1 752.4h3.6M697.3 752.4h1.8M708.1 752.4h1.8M711.7 752.4h1.8M720.7 752.4h1.8M114.1 759.6h1.8M632.5 759.6h1.8M650.5 759.6h1.8M659.5 759.6h1.8M675.7 759.6h7.2M684.7 759.6h1.8M695.5 759.6h3.6M706.3 759.6h1.8M711.7 759.6h3.6M718.9 759.6h1.8M115.9 766.8h1.8M650.5 766.8h3.6M657.7 766.8h1.8M664.9 766.8h1.8M670.3 766.8h1.8M684.7 766.8h1.8M699.1 766.8h3.6M706.3 766.8h1.8M713.5 766.8h1.8M718.9 766.8h1.8M636.1 774h5.4M655.9 774h1.8M668.5 774h1.8M675.7 774h1.8M706.3 774h1.8M718.9 774h1.8M726.1 774h1.7M663.1 781.2h1.8M677.5 781.2h1.8M706.3 781.2h1.8M128.5 788.4h1.8M650.5 788.4h1.8M668.5 788.4h1.8M708.1 788.4h1.8M720.7 788.4h1.8M695.5 795.6h1.8M704.5 795.6h1.8M726.1 795.6h1.7M695.5 802.8h1.8M713.5 802.8h1.8M722.5 802.8h1.8M655.9 810h1.8M682.9 810h1.8M695.5 810h1.8M709.9 810h3.6M722.5 810h1.8M592.9 817.2h1.8M600.1 817.2h1.8M612.7 817.2h1.8M625.3 817.2h1.8M643.3 817.2h1.8M646.9 817.2h1.8M666.7 817.2h1.8M672.1 817.2h1.8M675.7 817.2h1.8M679.3 817.2h1.8M682.9 817.2h1.8M691.9 817.2h1.8M702.7 817.2h1.8M708.1 817.2h1.8M720.7 817.2h1.8M724.3 817.2h1.8M141.1 824.4h3.6M150.1 824.4h1.8M175.3 824.4h5.4M187.9 824.4h3.6M196.9 824.4h1.8M202.3 824.4h1.8M216.7 824.4h1.8M223.9 824.4h1.8M231.1 824.4h1.8M238.3 824.4h1.8M247.3 824.4h3.6M254.5 824.4h1.8M265.3 824.4h1.8M272.5 824.4h1.8M276.1 824.4h3.6M281.5 824.4h3.6M290.5 824.4h1.8M308.5 824.4h1.8M312.1 824.4h1.8M340.9 824.4h3.6M349.9 824.4h1.8M353.5 824.4h5.4M364.3 824.4h1.8M367.9 824.4h1.8M376.9 824.4h1.8M400.3 824.4h1.8M411.1 824.4h1.8M420.1 824.4h1.8M432.7 824.4h3.6M459.7 824.4h1.8M468.7 824.4h1.8M475.9 824.4h1.8M492.1 824.4h1.8M511.9 824.4h1.8M515.5 824.4h1.8M522.7 824.4h1.8M529.9 824.4h1.8M551.5 824.4h3.6M565.9 824.4h7.2M578.5 824.4h7.2M592.9 824.4h1.8M605.5 824.4h1.8M612.7 824.4h3.6M619.9 824.4h1.8M623.5 824.4h3.6M630.7 824.4h1.8M634.3 824.4h1.8M641.5 824.4h1.8M654.1 824.4h3.6M661.3 824.4h1.8M666.7 824.4h1.8M673.9 824.4h1.8M681.1 824.4h1.8M690.1 824.4h1.8M695.5 824.4h1.8M702.7 824.4h3.6M713.5 824.4h1.8M720.7 824.4h5.4M139.3 831.6h1.8M160.9 831.6h1.8M175.3 831.6h1.8M178.9 831.6h1.8M189.7 831.6h1.8M195.1 831.6h1.8M218.5 831.6h1.8M225.7 831.6h1.8M229.3 831.6h1.8M243.7 831.6h5.4M259.9 831.6h3.6M272.5 831.6h1.8M294.1 831.6h1.8M301.3 831.6h1.8M304.9 831.6h5.4M313.9 831.6h3.6M321.1 831.6h1.8M330.1 831.6h7.2M357.1 831.6h1.8M360.7 831.6h1.8M373.3 831.6h3.6M378.7 831.6h1.8M385.9 831.6h1.8M389.5 831.6h1.8M402.1 831.6h1.8M414.7 831.6h1.8M423.7 831.6h1.8M427.3 831.6h1.8M439.9 831.6h1.8M447.1 831.6h1.8M450.7 831.6h1.8M465.1 831.6h1.8M472.3 831.6h3.6M483.1 831.6h1.8M490.3 831.6h1.8M501.1 831.6h1.8M504.7 831.6h1.8M513.7 831.6h1.8M519.1 831.6h3.6M526.3 831.6h1.8M546.1 831.6h1.8M558.7 831.6h1.8M578.5 831.6h1.8M582.1 831.6h3.6M596.5 831.6h7.2M605.5 831.6h3.6M610.9 831.6h1.8M625.3 831.6h3.6M630.7 831.6h1.8M634.3 831.6h1.8M654.1 831.6h1.8M664.9 831.6h1.8M668.5 831.6h3.6M688.3 831.6h1.8M695.5 831.6h1.8M709.9 831.6h3.6M717.1 831.6h1.8M722.5 831.6h1.8M726.1 831.6h1.7M144.7 838.8h1.8M151.9 838.8h1.8M205.9 838.8h1.8M222.1 838.8h1.8M232.9 838.8h1.8M238.3 838.8h1.8M241.9 838.8h1.8M268.9 838.8h1.8M272.5 838.8h1.8M294.1 838.8h1.8M308.5 838.8h1.8M313.9 838.8h1.8M348.1 838.8h1.8M371.5 838.8h1.8M378.7 838.8h1.8M393.1 838.8h1.8M403.9 838.8h1.8M414.7 838.8h1.8M447.1 838.8h1.8M463.3 838.8h1.8M468.7 838.8h1.8M475.9 838.8h3.6M484.9 838.8h1.8M508.3 838.8h1.8M513.7 838.8h1.8M533.5 838.8h1.8M551.5 838.8h1.8M560.5 838.8h1.8M564.1 838.8h1.8M578.5 838.8h1.8M583.9 838.8h1.8M594.7 838.8h1.8M603.7 838.8h1.8M610.9 838.8h3.6M621.7 838.8h3.6M643.3 838.8h1.8M654.1 838.8h1.8M657.7 838.8h1.8M666.7 838.8h1.8M677.5 838.8h1.8M700.9 838.8h1.8M704.5 838.8h3.6M713.5 838.8h3.6M718.9 838.8h1.8M726.1 838.8h1.7" stroke="#f0f0f0" stroke-width="7.3" fill="none" shape-rendering="crispEdges"/>
<path d="M94.5 641h7.5v9h-7.5zM94.5 650h35v7h-35zM94.5 657h18v9h-18zM94.5 666h11v7h-11z" fill="#fff"/>
<path d="M102 641h10v8.5h-10zM105.6 666h7v7h-7z" fill="#333"/>
<path d="M129.6 657h8v9h-8zM118.6 666h5v7h-5z" fill="#ddd"/>
<path d="M295 649.3h6.8M298.4 645.7v7.2M184.3 649.7h6.8M187.7 646.1v7.2M135.2 649.3h6.8M138.6 645.7v7.2M137.9 649.7h6.8M141.3 646.1v7.2M290 649.3h6.8M293.4 645.7v7.2M164.5 649.3h6.8M167.9 645.7v7.2M113.7 649.5h6.8M117.1 645.9v7.2M161.9 649.5h6.8M165.3 645.9v7.2M296.2 649.9h6.8M299.6 646.3v7.2M166.7 649.4h6.8M170.1 645.8v7.2M296.1 649.2h6.8M299.5 645.6v7.2M151.8 649.3h6.8M155.2 645.7v7.2M194.7 649.5h6.8M198.1 645.9v7.2M175.6 649h6.8M179 645.4v7.2M123 648.9h6.8M126.4 645.3v7.2M168.4 649.4h6.8M171.8 645.8v7.2M253.4 649.5h6.8M256.8 645.9v7.2M192 649.3h6.8M195.4 645.7v7.2M124.3 649.4h6.8M127.7 645.8v7.2M264.7 649.5h6.8M268.1 645.9v7.2M182.5 649.5h6.8M185.9 645.9v7.2M265.3 649.1h6.8M268.7 645.5v7.2M219.5 649.4h6.8M222.9 645.8v7.2M287 649.4h6.8M290.4 645.8v7.2M167.2 649.3h6.8M170.6 645.7v7.2M277.7 649h6.8M281.1 645.4v7.2M137.3 649.5h6.8M140.7 645.9v7.2M180.4 649.1h6.8M183.8 645.5v7.2M276.5 649.3h6.8M279.9 645.7v7.2M214.2 649.2h6.8M217.6 645.6v7.2M164.1 649.1h6.8M167.5 645.5v7.2M243.2 649.6h6.8M246.6 646v7.2M172.5 649h6.8M175.9 645.4v7.2M293 649.9h6.8M296.4 646.3v7.2M199.1 649.2h6.8M202.5 645.6v7.2M259 648.8h6.8M262.4 645.2v7.2M200.5 649.4h6.8M203.9 645.8v7.2M242.1 649.1h6.8M245.5 645.5v7.2M491.4 649.4h6.8M494.8 645.8v7.2M373.4 649.3h6.8M376.8 645.7v7.2M416.3 649.4h6.8M419.7 645.8v7.2M193 656.3h6.8M196.4 652.7v7.2M274.9 656.4h6.8M278.3 652.8v7.2M162.2 656.3h6.8M165.6 652.7v7.2M256.3 656.7h6.8M259.7 653.1v7.2M273 656.3h6.8M276.4 652.7v7.2M185 656.5h6.8M188.4 652.9v7.2M218 656.5h6.8M221.4 652.9v7.2M294.5 656.6h6.8M297.9 653v7.2M133.6 656.5h6.8M137 652.9v7.2M290.6 656.2h6.8M294 652.6v7.2M172.4 656.5h6.8M175.8 652.9v7.2M170.3 656.6h6.8M173.7 653v7.2M230.1 656.6h6.8M233.5 653v7.2M186.8 657h6.8M190.2 653.4v7.2M169.7 656.3h6.8M173.1 652.7v7.2M247.3 656.3h6.8M250.7 652.7v7.2M197.3 656.3h6.8M200.7 652.7v7.2M128 656.7h6.8M131.4 653.1v7.2M244.6 656.1h6.8M248 652.5v7.2M222.1 657h6.8M225.5 653.4v7.2M299.9 656.5h6.8M303.3 652.9v7.2M138.7 656.6h6.8M142.1 653v7.2M251 656h6.8M254.4 652.4v7.2M132.2 656.8h6.8M135.6 653.2v7.2M142.3 656.2h6.8M145.7 652.6v7.2M230.8 656.5h6.8M234.2 652.9v7.2M260.4 656.7h6.8M263.8 653.1v7.2M189.6 656.3h6.8M193 652.7v7.2M144.2 656.3h6.8M147.6 652.7v7.2M279.9 656.1h6.8M283.3 652.5v7.2M213.9 656.8h6.8M217.3 653.2v7.2M180.7 656.3h6.8M184.1 652.7v7.2M216.6 656h6.8M220 652.4v7.2M210.8 656.4h6.8M214.2 652.8v7.2M181.5 656.2h6.8M184.9 652.6v7.2M420.5 656.7h6.8M423.9 653.1v7.2M337.1 656.5h6.8M340.5 652.9v7.2M457.6 656h6.8M461 652.4v7.2M455.5 656.5h6.8M458.9 652.9v7.2M473.3 656.5h6.8M476.7 652.9v7.2M302.2 656.9h6.8M305.6 653.3v7.2M308.8 656h6.8M312.2 652.4v7.2M304.9 656.1h6.8M308.3 652.5v7.2M493.2 656.8h6.8M496.6 653.2v7.2M308.5 656.3h6.8M311.9 652.7v7.2M337.7 656.2h6.8M341.1 652.6v7.2M326.1 656.8h6.8M329.5 653.2v7.2M550.7 656.6h6.8M554.1 653v7.2M208.2 665.1h6.8M211.6 661.5v7.2M133.2 665.9h6.8M136.6 662.3v7.2M222.4 665h6.8M225.8 661.4v7.2M240.5 665.5h6.8M243.9 661.9v7.2M186.6 665.9h6.8M190 662.3v7.2M233.1 665.7h6.8M236.5 662.1v7.2M215.8 665.4h6.8M219.2 661.8v7.2M213.6 665.2h6.8M217 661.6v7.2M212.2 665.7h6.8M215.6 662.1v7.2M144.6 665.4h6.8M148 661.8v7.2M268.6 665.3h6.8M272 661.7v7.2M153.7 665.8h6.8M157.1 662.2v7.2M284.4 666h6.8M287.8 662.4v7.2M286.7 665.6h6.8M290.1 662v7.2M174.2 665.2h6.8M177.6 661.6v7.2M300.3 665.3h6.8M303.7 661.7v7.2M208.9 665.4h6.8M212.3 661.8v7.2M227.9 665.9h6.8M231.3 662.3v7.2M167 665.5h6.8M170.4 661.9v7.2M199.9 665.4h6.8M203.3 661.8v7.2M132.9 665.1h6.8M136.3 661.5v7.2M201.9 665.5h6.8M205.3 661.9v7.2M260.2 665h6.8M263.6 661.4v7.2M227.6 665.1h6.8M231 661.5v7.2M230.2 665.3h6.8M233.6 661.7v7.2M249.2 665.7h6.8M252.6 662.1v7.2M207.2 665.7h6.8M210.6 662.1v7.2M224.1 665.4h6.8M227.5 661.8v7.2M230.7 665.3h6.8M234.1 661.7v7.2M183.4 665.8h6.8M186.8 662.2v7.2M264.3 665.5h6.8M267.7 661.9v7.2M158.5 665.4h6.8M161.9 661.8v7.2M206.3 665.3h6.8M209.7 661.7v7.2M292.5 665.7h6.8M295.9 662.1v7.2M139.7 665.7h6.8M143.1 662.1v7.2M294.3 665.8h6.8M297.7 662.2v7.2M198.5 665.2h6.8M201.9 661.6v7.2M386.9 665.2h6.8M390.3 661.6v7.2M504.7 665.3h6.8M508.1 661.7v7.2M490.5 665.2h6.8M493.9 661.6v7.2M446.7 665h6.8M450.1 661.4v7.2M478.5 665.7h6.8M481.9 662.1v7.2M421.6 665.7h6.8M425 662.1v7.2M509.6 665.2h6.8M513 661.6v7.2M361.4 665.3h6.8M364.8 661.7v7.2M484.5 665.6h6.8M487.9 662v7.2M376 665.9h6.8M379.4 662.3v7.2M333.5 665.5h6.8M336.9 661.9v7.2M369.4 665.4h6.8M372.8 661.8v7.2M414 665.6h6.8M417.4 662v7.2M323.7 665.2h6.8M327.1 661.6v7.2M458.8 665.3h6.8M462.2 661.7v7.2M360.7 665.5h6.8M364.1 661.9v7.2M662.2 665.2h6.8M665.6 661.6v7.2M531.3 665.5h6.8M534.7 661.9v7.2M569.4 665.7h6.8M572.8 662.1v7.2M200.5 672.9h6.8M203.9 669.3v7.2M133.6 672.9h6.8M137 669.3v7.2M145.9 672.8h6.8M149.3 669.2v7.2M206.5 672.9h6.8M209.9 669.3v7.2M208.2 673.3h6.8M211.6 669.7v7.2M289.2 673h6.8M292.6 669.4v7.2M133.8 673.3h6.8M137.2 669.7v7.2M163.1 673.3h6.8M166.5 669.7v7.2M286 672.6h6.8M289.4 669v7.2M249.7 672.8h6.8M253.1 669.2v7.2M198.3 673.1h6.8M201.7 669.5v7.2M142.6 673.1h6.8M146 669.5v7.2M210 673h6.8M213.4 669.4v7.2M289.8 673.2h6.8M293.2 669.6v7.2M277.3 673h6.8M280.7 669.4v7.2M216.6 672.6h6.8M220 669v7.2M176 673h6.8M179.4 669.4v7.2M268.6 672.8h6.8M272 669.2v7.2M207.2 672.8h6.8M210.6 669.2v7.2M264.5 673.2h6.8M267.9 669.6v7.2M141.3 673h6.8M144.7 669.4v7.2M141.9 673h6.8M145.3 669.4v7.2M125 672.9h6.8M128.4 669.3v7.2M257.3 673.3h6.8M260.7 669.7v7.2M256.2 673h6.8M259.6 669.4v7.2M143.2 673.3h6.8M146.6 669.7v7.2M251.6 673.2h6.8M255 669.6v7.2M299 672.9h6.8M302.4 669.3v7.2M170.7 673h6.8M174.1 669.4v7.2M219.1 673.4h6.8M222.5 669.8v7.2M224.6 673.1h6.8M228 669.5v7.2M137.2 673.1h6.8M140.6 669.5v7.2M139.8 672.7h6.8M143.2 669.1v7.2M251.3 673.3h6.8M254.7 669.7v7.2M233.4 673.8h6.8M236.8 670.2v7.2M356.2 672.8h6.8M359.6 669.2v7.2M317.9 672.7h6.8M321.3 669.1v7.2M424.7 672.9h6.8M428.1 669.3v7.2M364.8 672.8h6.8M368.2 669.2v7.2M473.3 673.2h6.8M476.7 669.6v7.2M356 673.1h6.8M359.4 669.5v7.2M413.3 673h6.8M416.7 669.4v7.2M422.8 672.8h6.8M426.2 669.2v7.2M329.1 673h6.8M332.5 669.4v7.2M504.7 673h6.8M508.1 669.4v7.2M539.4 673.1h6.8M542.8 669.5v7.2M257.6 680.2h6.8M261 676.6v7.2M228.2 680.1h6.8M231.6 676.5v7.2M285.2 679.8h6.8M288.6 676.2v7.2M172.9 680.5h6.8M176.3 676.9v7.2M215.3 679.8h6.8M218.7 676.2v7.2M144.5 680.3h6.8M147.9 676.7v7.2M235.7 680.1h6.8M239.1 676.5v7.2M237.4 680.4h6.8M240.8 676.8v7.2M298.5 680.2h6.8M301.9 676.6v7.2M215.2 680.3h6.8M218.6 676.7v7.2M271.1 679.8h6.8M274.5 676.2v7.2M226.5 680.7h6.8M229.9 677.1v7.2M291.7 680h6.8M295.1 676.4v7.2M289.6 679.7h6.8M293 676.1v7.2M199.9 680.4h6.8M203.3 676.8v7.2M238.6 680.5h6.8M242 676.9v7.2M175 679.7h6.8M178.4 676.1v7.2M213.3 680.5h6.8M216.7 676.9v7.2M190.4 680.3h6.8M193.8 676.7v7.2M233.9 679.9h6.8M237.3 676.3v7.2M246.6 680.5h6.8M250 676.9v7.2M226.7 680.3h6.8M230.1 676.7v7.2M148.8 680.2h6.8M152.2 676.6v7.2M287.2 680.4h6.8M290.6 676.8v7.2M291.4 680.6h6.8M294.8 677v7.2M187 680.3h6.8M190.4 676.7v7.2M157.4 680.2h6.8M160.8 676.6v7.2M198.4 680.3h6.8M201.8 676.7v7.2M292.4 680.5h6.8M295.8 676.9v7.2M235.1 680.5h6.8M238.5 676.9v7.2M265.1 680.2h6.8M268.5 676.6v7.2M285.8 680h6.8M289.2 676.4v7.2M216.3 680.5h6.8M219.7 676.9v7.2M152.6 680.1h6.8M156 676.5v7.2M169.2 680.1h6.8M172.6 676.5v7.2M158.3 680.3h6.8M161.7 676.7v7.2M252.2 680.2h6.8M255.6 676.6v7.2M466.3 680.2h6.8M469.7 676.6v7.2M434.4 679.9h6.8M437.8 676.3v7.2M440.9 679.3h6.8M444.3 675.7v7.2M325.4 679.7h6.8M328.8 676.1v7.2M464.4 680h6.8M467.8 676.4v7.2M363.3 680.4h6.8M366.7 676.8v7.2M403.5 680.2h6.8M406.9 676.6v7.2M402.4 680.1h6.8M405.8 676.5v7.2M432.7 680.6h6.8M436.1 677v7.2M466.4 680.6h6.8M469.8 677v7.2M390.5 680h6.8M393.9 676.4v7.2M381.4 680.2h6.8M384.8 676.6v7.2M219.2 689h6.8M222.6 685.4v7.2M204.5 688.1h6.8M207.9 684.5v7.2M253 688.6h6.8M256.4 685v7.2M264.8 688.3h6.8M268.2 684.7v7.2M470 688.6h6.8M473.4 685v7.2M376.8 689h6.8M380.2 685.4v7.2M366.5 688.6h6.8M369.9 685v7.2M390.2 688.6h6.8M393.6 685v7.2M397.1 688.9h6.8M400.5 685.3v7.2M351.9 688.2h6.8M355.3 684.6v7.2M140.1 697h6.8M143.5 693.4v7.2M138 696.8h6.8M141.4 693.2v7.2M145.7 697h6.8M149.1 693.4v7.2M140.3 696.9h6.8M143.7 693.3v7.2M258.1 696.9h6.8M261.5 693.3v7.2M330.5 697.2h6.8M333.9 693.6v7.2M234.3 696.6h6.8M237.7 693v7.2M233.1 696.9h6.8M236.5 693.3v7.2M257.2 696.7h6.8M260.6 693.1v7.2M365.8 697.2h6.8M369.2 693.6v7.2M326.3 697.4h6.8M329.7 693.8v7.2M294.8 697h6.8M298.2 693.4v7.2M348.9 697h6.8M352.3 693.4v7.2M359.2 697.4h6.8M362.6 693.8v7.2M370.4 696.7h6.8M373.8 693.1v7.2M306.1 696.8h6.8M309.5 693.2v7.2M249 697h6.8M252.4 693.4v7.2M266.8 697.2h6.8M270.2 693.6v7.2M250.4 697.1h6.8M253.8 693.5v7.2M362.3 697.3h6.8M365.7 693.7v7.2M322.3 696.7h6.8M325.7 693.1v7.2M372.3 696.8h6.8M375.7 693.2v7.2M284.2 697.2h6.8M287.6 693.6v7.2M278.6 697.1h6.8M282 693.5v7.2M338.9 696.7h6.8M342.3 693.1v7.2M372.2 696.8h6.8M375.6 693.2v7.2M373.5 697h6.8M376.9 693.4v7.2M338.4 697h6.8M341.8 693.4v7.2M314.8 697.4h6.8M318.2 693.8v7.2M230.7 696.7h6.8M234.1 693.1v7.2M259.5 697h6.8M262.9 693.4v7.2M368.4 697.1h6.8M371.8 693.5v7.2M328.1 697.4h6.8M331.5 693.8v7.2M254.7 697.4h6.8M258.1 693.8v7.2M335.4 697h6.8M338.8 693.4v7.2M227.4 697.5h6.8M230.8 693.9v7.2M306.3 697.2h6.8M309.7 693.6v7.2M441.9 696.8h6.8M445.3 693.2v7.2M382.7 697.2h6.8M386.1 693.6v7.2M444.4 696.8h6.8M447.8 693.2v7.2M274.2 704.3h6.8M277.6 700.7v7.2M284.5 704.4h6.8M287.9 700.8v7.2M272.8 704.2h6.8M276.2 700.6v7.2M247.1 704.1h6.8M250.5 700.5v7.2M261.5 704.2h6.8M264.9 700.6v7.2M265.3 704.4h6.8M268.7 700.8v7.2M256.8 704.5h6.8M260.2 700.9v7.2M276.4 704.3h6.8M279.8 700.7v7.2M259.6 704.5h6.8M263 700.9v7.2M286.1 704.1h6.8M289.5 700.5v7.2M346.9 704.3h6.8M350.3 700.7v7.2M332.2 704.6h6.8M335.6 701v7.2M328.1 704.3h6.8M331.5 700.7v7.2M335.4 704.4h6.8M338.8 700.8v7.2M327.3 704.1h6.8M330.7 700.5v7.2M345.8 704.2h6.8M349.2 700.6v7.2M337.4 703.9h6.8M340.8 700.3v7.2M353.7 704.4h6.8M357.1 700.8v7.2M313.4 704.6h6.8M316.8 701v7.2M393.2 704.4h6.8M396.6 700.8v7.2M375.3 704.4h6.8M378.7 700.8v7.2M378 704.3h6.8M381.4 700.7v7.2M445.3 704h6.8M448.7 700.4v7.2M432.1 704.4h6.8M435.5 700.8v7.2M495.7 704.2h6.8M499.1 700.6v7.2M226.5 713.7h6.8M229.9 710.1v7.2M255.3 713.7h6.8M258.7 710.1v7.2M316.2 713.6h6.8M319.6 710v7.2M272.6 713.7h6.8M276 710.1v7.2M249.6 714h6.8M253 710.4v7.2M323.7 713.4h6.8M327.1 709.8v7.2M308.1 713.7h6.8M311.5 710.1v7.2M345.1 714.1h6.8M348.5 710.5v7.2M263.8 713.7h6.8M267.2 710.1v7.2M262.7 713.8h6.8M266.1 710.2v7.2M328 713.9h6.8M331.4 710.3v7.2M329.3 713.8h6.8M332.7 710.2v7.2M284.5 713.4h6.8M287.9 709.8v7.2M286.9 713.5h6.8M290.3 709.9v7.2M276.5 713.3h6.8M279.9 709.7v7.2M291.1 713.9h6.8M294.5 710.3v7.2M262.1 713.2h6.8M265.5 709.6v7.2M261.1 713.4h6.8M264.5 709.8v7.2M341.1 713.8h6.8M344.5 710.2v7.2M285.3 713.5h6.8M288.7 709.9v7.2M355.1 713.8h6.8M358.5 710.2v7.2M355.4 713.5h6.8M358.8 709.9v7.2M383.2 713.3h6.8M386.6 709.7v7.2M145.8 720.9h6.8M149.2 717.3v7.2M266 721.1h6.8M269.4 717.5v7.2M276.4 721.4h6.8M279.8 717.8v7.2M281.6 720.9h6.8M285 717.3v7.2M341.4 720.6h6.8M344.8 717v7.2M334.5 721.4h6.8M337.9 717.8v7.2M286.7 721.1h6.8M290.1 717.5v7.2M307.4 721.1h6.8M310.8 717.5v7.2M300.4 721h6.8M303.8 717.4v7.2M265.2 721h6.8M268.6 717.4v7.2M329.7 720.3h6.8M333.1 716.7v7.2M337.5 721.1h6.8M340.9 717.5v7.2M336.9 721.3h6.8M340.3 717.7v7.2M263.8 720.8h6.8M267.2 717.2v7.2M286.3 720.7h6.8M289.7 717.1v7.2M334.4 720.6h6.8M337.8 717v7.2M420.9 720.6h6.8M424.3 717v7.2M403.7 721.2h6.8M407.1 717.6v7.2M405 720.8h6.8M408.4 717.2v7.2M411.1 721.2h6.8M414.5 717.6v7.2M401.2 720.7h6.8M404.6 717.1v7.2M397 721.3h6.8M400.4 717.7v7.2M445.8 721h6.8M449.2 717.4v7.2M449.3 721.3h6.8M452.7 717.7v7.2M491.8 721.1h6.8M495.2 717.5v7.2M254.4 728.4h6.8M257.8 724.8v7.2M243.3 728.1h6.8M246.7 724.5v7.2M242.9 728.4h6.8M246.3 724.8v7.2M277.4 728.3h6.8M280.8 724.7v7.2M274.1 728h6.8M277.5 724.4v7.2M274.8 727.8h6.8M278.2 724.2v7.2M240.8 728.1h6.8M244.2 724.5v7.2M253.3 728.4h6.8M256.7 724.8v7.2M310.3 728.6h6.8M313.7 725v7.2M308.9 728.2h6.8M312.3 724.6v7.2M364.6 728.3h6.8M368 724.7v7.2M353.8 728.5h6.8M357.2 724.9v7.2M383.2 728.5h6.8M386.6 724.9v7.2M400.4 728.6h6.8M403.8 725v7.2M422.9 728.2h6.8M426.3 724.6v7.2M369.5 728.5h6.8M372.9 724.9v7.2M388.9 728.3h6.8M392.3 724.7v7.2M368.3 728.2h6.8M371.7 724.6v7.2M375.3 728.4h6.8M378.7 724.8v7.2M343.3 728.7h6.8M346.7 725.1v7.2M347.9 728h6.8M351.3 724.4v7.2M349.8 728.1h6.8M353.2 724.5v7.2M344.1 728.3h6.8M347.5 724.7v7.2M355 728.2h6.8M358.4 724.6v7.2M383.9 728.3h6.8M387.3 724.7v7.2M420.5 728.2h6.8M423.9 724.6v7.2M359.5 728.3h6.8M362.9 724.7v7.2M464.4 728.3h6.8M467.8 724.7v7.2M445.8 728.2h6.8M449.2 724.6v7.2M444.9 728.5h6.8M448.3 724.9v7.2M444.2 728.6h6.8M447.6 725v7.2M472 728h6.8M475.4 724.4v7.2M447.1 728.3h6.8M450.5 724.7v7.2M501.6 728.3h6.8M505 724.7v7.2M248.5 737.1h6.8M251.9 733.5v7.2M251.4 737.1h6.8M254.8 733.5v7.2M373.9 737.8h6.8M377.3 734.2v7.2M393.1 737.1h6.8M396.5 733.5v7.2M383.4 737.1h6.8M386.8 733.5v7.2M465.5 737.2h6.8M468.9 733.6v7.2M227.5 744.8h6.8M230.9 741.2v7.2M259.8 744.6h6.8M263.2 741v7.2M294.2 744.5h6.8M297.6 740.9v7.2M410.6 745.2h6.8M414 741.6v7.2M407.9 744.9h6.8M411.3 741.3v7.2M428.2 751.7h6.8M431.6 748.1v7.2M262 761.7h6.8M265.4 758.1v7.2" stroke="#ff8a10" stroke-width="1.3" fill="none"/>
<path d="M213.2 646l6.6 6.6M213.2 652.6l6.6 -6.6M163.8 645.9l6.6 6.6M163.8 652.5l6.6 -6.6M223.6 646.1l6.6 6.6M223.6 652.7l6.6 -6.6M157.7 646.1l6.6 6.6M157.7 652.7l6.6 -6.6M202 646.5l6.6 6.6M202 653.1l6.6 -6.6M445 645.8l6.6 6.6M445 652.4l6.6 -6.6M420.5 646.4l6.6 6.6M420.5 653l6.6 -6.6M264.3 652.9l6.6 6.6M264.3 659.5l6.6 -6.6M161 653.5l6.6 6.6M161 660.1l6.6 -6.6M162.3 653.4l6.6 6.6M162.3 660l6.6 -6.6M214.7 653.2l6.6 6.6M214.7 659.8l6.6 -6.6M174.3 653.1l6.6 6.6M174.3 659.7l6.6 -6.6M237.9 652.7l6.6 6.6M237.9 659.3l6.6 -6.6M247.7 652.8l6.6 6.6M247.7 659.4l6.6 -6.6M289.7 652.8l6.6 6.6M289.7 659.4l6.6 -6.6M506.2 653.1l6.6 6.6M506.2 659.7l6.6 -6.6M353 652.6l6.6 6.6M353 659.2l6.6 -6.6M386 652.7l6.6 6.6M386 659.3l6.6 -6.6M302.2 653l6.6 6.6M302.2 659.6l6.6 -6.6M321.3 652.9l6.6 6.6M321.3 659.5l6.6 -6.6M473.5 653.1l6.6 6.6M473.5 659.7l6.6 -6.6M407.7 652.9l6.6 6.6M407.7 659.5l6.6 -6.6M335.5 653.1l6.6 6.6M335.5 659.7l6.6 -6.6M408.6 653.5l6.6 6.6M408.6 660.1l6.6 -6.6M449.3 653.3l6.6 6.6M449.3 659.9l6.6 -6.6M380.7 653.1l6.6 6.6M380.7 659.7l6.6 -6.6M374.1 653l6.6 6.6M374.1 659.6l6.6 -6.6M464.6 653.5l6.6 6.6M464.6 660.1l6.6 -6.6M311.8 653l6.6 6.6M311.8 659.6l6.6 -6.6M404.6 653.3l6.6 6.6M404.6 659.9l6.6 -6.6M384.4 652.8l6.6 6.6M384.4 659.4l6.6 -6.6M316.8 653l6.6 6.6M316.8 659.6l6.6 -6.6M435.8 652.8l6.6 6.6M435.8 659.4l6.6 -6.6M453.5 652.8l6.6 6.6M453.5 659.4l6.6 -6.6M368.6 653.3l6.6 6.6M368.6 659.9l6.6 -6.6M481.5 653.4l6.6 6.6M481.5 660l6.6 -6.6M315.8 652.6l6.6 6.6M315.8 659.2l6.6 -6.6M301.8 653.1l6.6 6.6M301.8 659.7l6.6 -6.6M334.5 653.3l6.6 6.6M334.5 659.9l6.6 -6.6M475.1 652.8l6.6 6.6M475.1 659.4l6.6 -6.6M395.4 653.1l6.6 6.6M395.4 659.7l6.6 -6.6M354.5 653.4l6.6 6.6M354.5 660l6.6 -6.6M322.6 653.3l6.6 6.6M322.6 659.9l6.6 -6.6M373.4 653l6.6 6.6M373.4 659.6l6.6 -6.6M415.5 652.6l6.6 6.6M415.5 659.2l6.6 -6.6M311 653.5l6.6 6.6M311 660.1l6.6 -6.6M414.3 652.9l6.6 6.6M414.3 659.5l6.6 -6.6M325.1 653.4l6.6 6.6M325.1 660l6.6 -6.6M402.6 652.9l6.6 6.6M402.6 659.5l6.6 -6.6M484.5 653.5l6.6 6.6M484.5 660.1l6.6 -6.6M390 652.9l6.6 6.6M390 659.5l6.6 -6.6M509.6 653l6.6 6.6M509.6 659.6l6.6 -6.6M482 652.8l6.6 6.6M482 659.4l6.6 -6.6M307.7 653l6.6 6.6M307.7 659.6l6.6 -6.6M447.2 653.4l6.6 6.6M447.2 660l6.6 -6.6M461.6 652.8l6.6 6.6M461.6 659.4l6.6 -6.6M357.6 652.8l6.6 6.6M357.6 659.4l6.6 -6.6M377.1 652.7l6.6 6.6M377.1 659.3l6.6 -6.6M419.3 653.1l6.6 6.6M419.3 659.7l6.6 -6.6M407.1 653.4l6.6 6.6M407.1 660l6.6 -6.6M404.5 653.2l6.6 6.6M404.5 659.8l6.6 -6.6M479.3 653.2l6.6 6.6M479.3 659.8l6.6 -6.6M464.4 653.1l6.6 6.6M464.4 659.7l6.6 -6.6M322.9 653.3l6.6 6.6M322.9 659.9l6.6 -6.6M506 653l6.6 6.6M506 659.6l6.6 -6.6M317.4 652.7l6.6 6.6M317.4 659.3l6.6 -6.6M340.2 653.2l6.6 6.6M340.2 659.8l6.6 -6.6M401.9 653.3l6.6 6.6M401.9 659.9l6.6 -6.6M391.7 653.4l6.6 6.6M391.7 660l6.6 -6.6M330.7 652.9l6.6 6.6M330.7 659.5l6.6 -6.6M369.8 652.9l6.6 6.6M369.8 659.5l6.6 -6.6M420.7 652.8l6.6 6.6M420.7 659.4l6.6 -6.6M496.1 652.5l6.6 6.6M496.1 659.1l6.6 -6.6M370.2 653l6.6 6.6M370.2 659.6l6.6 -6.6M482.7 653.1l6.6 6.6M482.7 659.7l6.6 -6.6M345 653.4l6.6 6.6M345 660l6.6 -6.6M490.2 653.1l6.6 6.6M490.2 659.7l6.6 -6.6M487.9 653.2l6.6 6.6M487.9 659.8l6.6 -6.6M337.1 652.9l6.6 6.6M337.1 659.5l6.6 -6.6M343 652.8l6.6 6.6M343 659.4l6.6 -6.6M431.1 653l6.6 6.6M431.1 659.6l6.6 -6.6M422.5 652.9l6.6 6.6M422.5 659.5l6.6 -6.6M404.5 653.4l6.6 6.6M404.5 660l6.6 -6.6M444.8 653.1l6.6 6.6M444.8 659.7l6.6 -6.6M328.6 652.9l6.6 6.6M328.6 659.5l6.6 -6.6M388.8 653l6.6 6.6M388.8 659.6l6.6 -6.6M399.6 653.1l6.6 6.6M399.6 659.7l6.6 -6.6M393.7 653.1l6.6 6.6M393.7 659.7l6.6 -6.6M574.2 653.2l6.6 6.6M574.2 659.8l6.6 -6.6M527.8 652.8l6.6 6.6M527.8 659.4l6.6 -6.6M543.9 653.4l6.6 6.6M543.9 660l6.6 -6.6M526.1 653.4l6.6 6.6M526.1 660l6.6 -6.6M520.3 653.3l6.6 6.6M520.3 659.9l6.6 -6.6M572.9 653.4l6.6 6.6M572.9 660l6.6 -6.6M551.1 653.5l6.6 6.6M551.1 660.1l6.6 -6.6M511.2 653.3l6.6 6.6M511.2 659.9l6.6 -6.6M550.2 653.4l6.6 6.6M550.2 660l6.6 -6.6M551.1 653.2l6.6 6.6M551.1 659.8l6.6 -6.6M641.5 652.9l6.6 6.6M641.5 659.5l6.6 -6.6M633.4 653.1l6.6 6.6M633.4 659.7l6.6 -6.6M276.5 662l6.6 6.6M276.5 668.6l6.6 -6.6M172 662.4l6.6 6.6M172 669l6.6 -6.6M202.8 662.3l6.6 6.6M202.8 668.9l6.6 -6.6M283.4 662.4l6.6 6.6M283.4 669l6.6 -6.6M185.9 661.9l6.6 6.6M185.9 668.5l6.6 -6.6M202.8 662.2l6.6 6.6M202.8 668.8l6.6 -6.6M215 662.1l6.6 6.6M215 668.7l6.6 -6.6M132.4 662.3l6.6 6.6M132.4 668.9l6.6 -6.6M137.5 662.4l6.6 6.6M137.5 669l6.6 -6.6M176.5 661.8l6.6 6.6M176.5 668.4l6.6 -6.6M439.1 662.1l6.6 6.6M439.1 668.7l6.6 -6.6M473.2 662.5l6.6 6.6M473.2 669.1l6.6 -6.6M302.9 662.3l6.6 6.6M302.9 668.9l6.6 -6.6M445.3 662.3l6.6 6.6M445.3 668.9l6.6 -6.6M503.7 662.3l6.6 6.6M503.7 668.9l6.6 -6.6M482 661.8l6.6 6.6M482 668.4l6.6 -6.6M304.6 662l6.6 6.6M304.6 668.6l6.6 -6.6M356.8 662.2l6.6 6.6M356.8 668.8l6.6 -6.6M320.8 661.9l6.6 6.6M320.8 668.5l6.6 -6.6M353 662.4l6.6 6.6M353 669l6.6 -6.6M399 661.4l6.6 6.6M399 668l6.6 -6.6M507.3 662.1l6.6 6.6M507.3 668.7l6.6 -6.6M315.5 662.3l6.6 6.6M315.5 668.9l6.6 -6.6M468.3 662.5l6.6 6.6M468.3 669.1l6.6 -6.6M412.7 662.2l6.6 6.6M412.7 668.8l6.6 -6.6M388.7 662.3l6.6 6.6M388.7 668.9l6.6 -6.6M460.2 662.4l6.6 6.6M460.2 669l6.6 -6.6M303.6 661.9l6.6 6.6M303.6 668.5l6.6 -6.6M451.1 662l6.6 6.6M451.1 668.6l6.6 -6.6M490.4 661.8l6.6 6.6M490.4 668.4l6.6 -6.6M441.9 662.7l6.6 6.6M441.9 669.3l6.6 -6.6M331 661.9l6.6 6.6M331 668.5l6.6 -6.6M370.4 662.4l6.6 6.6M370.4 669l6.6 -6.6M420.4 661.9l6.6 6.6M420.4 668.5l6.6 -6.6M300.9 662.1l6.6 6.6M300.9 668.7l6.6 -6.6M375.7 662l6.6 6.6M375.7 668.6l6.6 -6.6M388.7 662.2l6.6 6.6M388.7 668.8l6.6 -6.6M397 661.9l6.6 6.6M397 668.5l6.6 -6.6M468.1 662.6l6.6 6.6M468.1 669.2l6.6 -6.6M434.2 661.6l6.6 6.6M434.2 668.2l6.6 -6.6M420 662.1l6.6 6.6M420 668.7l6.6 -6.6M346.6 662.3l6.6 6.6M346.6 668.9l6.6 -6.6M361.1 662.5l6.6 6.6M361.1 669.1l6.6 -6.6M378.8 662.3l6.6 6.6M378.8 668.9l6.6 -6.6M346.4 662l6.6 6.6M346.4 668.6l6.6 -6.6M320.2 662.3l6.6 6.6M320.2 668.9l6.6 -6.6M361.1 662.1l6.6 6.6M361.1 668.7l6.6 -6.6M442.2 662.4l6.6 6.6M442.2 669l6.6 -6.6M374.3 662.4l6.6 6.6M374.3 669l6.6 -6.6M496 662.1l6.6 6.6M496 668.7l6.6 -6.6M392.9 662.1l6.6 6.6M392.9 668.7l6.6 -6.6M446.2 662.2l6.6 6.6M446.2 668.8l6.6 -6.6M386.8 662.1l6.6 6.6M386.8 668.7l6.6 -6.6M464.4 662.2l6.6 6.6M464.4 668.8l6.6 -6.6M347.5 662l6.6 6.6M347.5 668.6l6.6 -6.6M462.4 662.2l6.6 6.6M462.4 668.8l6.6 -6.6M496 662.4l6.6 6.6M496 669l6.6 -6.6M363.5 662.8l6.6 6.6M363.5 669.4l6.6 -6.6M458.7 662.2l6.6 6.6M458.7 668.8l6.6 -6.6M372.4 662l6.6 6.6M372.4 668.6l6.6 -6.6M454.9 662.4l6.6 6.6M454.9 669l6.6 -6.6M309.5 662.2l6.6 6.6M309.5 668.8l6.6 -6.6M321.6 661.9l6.6 6.6M321.6 668.5l6.6 -6.6M399 662.2l6.6 6.6M399 668.8l6.6 -6.6M336.2 662l6.6 6.6M336.2 668.6l6.6 -6.6M309.8 662.5l6.6 6.6M309.8 669.1l6.6 -6.6M347 662.4l6.6 6.6M347 669l6.6 -6.6M457.8 662.2l6.6 6.6M457.8 668.8l6.6 -6.6M361 662.1l6.6 6.6M361 668.7l6.6 -6.6M456.6 662.2l6.6 6.6M456.6 668.8l6.6 -6.6M503.3 662.3l6.6 6.6M503.3 668.9l6.6 -6.6M427.6 662.5l6.6 6.6M427.6 669.1l6.6 -6.6M503.8 662.1l6.6 6.6M503.8 668.7l6.6 -6.6M305.8 662.4l6.6 6.6M305.8 669l6.6 -6.6M374.1 662.3l6.6 6.6M374.1 668.9l6.6 -6.6M343.4 662.1l6.6 6.6M343.4 668.7l6.6 -6.6M478.5 662.6l6.6 6.6M478.5 669.2l6.6 -6.6M426.7 662l6.6 6.6M426.7 668.6l6.6 -6.6M357.9 662.1l6.6 6.6M357.9 668.7l6.6 -6.6M405 663l6.6 6.6M405 669.6l6.6 -6.6M472.5 662.2l6.6 6.6M472.5 668.8l6.6 -6.6M466.8 662.4l6.6 6.6M466.8 669l6.6 -6.6M368.7 661.8l6.6 6.6M368.7 668.4l6.6 -6.6M612 662.4l6.6 6.6M612 669l6.6 -6.6M609.4 662.5l6.6 6.6M609.4 669.1l6.6 -6.6M579.1 662.2l6.6 6.6M579.1 668.8l6.6 -6.6M516.4 662l6.6 6.6M516.4 668.6l6.6 -6.6M640.6 662.2l6.6 6.6M640.6 668.8l6.6 -6.6M522.4 662.4l6.6 6.6M522.4 669l6.6 -6.6M653.2 662.1l6.6 6.6M653.2 668.7l6.6 -6.6M662.2 662.7l6.6 6.6M662.2 669.3l6.6 -6.6M590.1 662.2l6.6 6.6M590.1 668.8l6.6 -6.6M562.1 662.1l6.6 6.6M562.1 668.7l6.6 -6.6M549.1 662l6.6 6.6M549.1 668.6l6.6 -6.6M571.2 662l6.6 6.6M571.2 668.6l6.6 -6.6M577.4 662.5l6.6 6.6M577.4 669.1l6.6 -6.6M613.5 662.4l6.6 6.6M613.5 669l6.6 -6.6M568.4 661.7l6.6 6.6M568.4 668.3l6.6 -6.6M663.4 662l6.6 6.6M663.4 668.6l6.6 -6.6M563.7 662.7l6.6 6.6M563.7 669.3l6.6 -6.6M661.5 662.5l6.6 6.6M661.5 669.1l6.6 -6.6M237 669.8l6.6 6.6M237 676.4l6.6 -6.6M188.8 669.6l6.6 6.6M188.8 676.2l6.6 -6.6M286.6 669.6l6.6 6.6M286.6 676.2l6.6 -6.6M201.5 669.8l6.6 6.6M201.5 676.4l6.6 -6.6M264.5 669.8l6.6 6.6M264.5 676.4l6.6 -6.6M179 669.5l6.6 6.6M179 676.1l6.6 -6.6M189.4 669.4l6.6 6.6M189.4 676l6.6 -6.6M244.2 669.6l6.6 6.6M244.2 676.2l6.6 -6.6M222.2 670.1l6.6 6.6M222.2 676.7l6.6 -6.6M142.6 669.7l6.6 6.6M142.6 676.3l6.6 -6.6M342.9 669.7l6.6 6.6M342.9 676.3l6.6 -6.6M427.7 670.1l6.6 6.6M427.7 676.7l6.6 -6.6M378.1 669.9l6.6 6.6M378.1 676.5l6.6 -6.6M452.4 669.6l6.6 6.6M452.4 676.2l6.6 -6.6M349.2 669.4l6.6 6.6M349.2 676l6.6 -6.6M362.1 669.9l6.6 6.6M362.1 676.5l6.6 -6.6M409 669.9l6.6 6.6M409 676.5l6.6 -6.6M339.7 669.2l6.6 6.6M339.7 675.8l6.6 -6.6M422.3 669.9l6.6 6.6M422.3 676.5l6.6 -6.6M315.1 669.4l6.6 6.6M315.1 676l6.6 -6.6M453.7 669.6l6.6 6.6M453.7 676.2l6.6 -6.6M340.4 669.5l6.6 6.6M340.4 676.1l6.6 -6.6M412.8 669.7l6.6 6.6M412.8 676.3l6.6 -6.6M446.6 669.6l6.6 6.6M446.6 676.2l6.6 -6.6M419.2 669.4l6.6 6.6M419.2 676l6.6 -6.6M461.2 669.4l6.6 6.6M461.2 676l6.6 -6.6M402.6 669.9l6.6 6.6M402.6 676.5l6.6 -6.6M398.8 669.3l6.6 6.6M398.8 675.9l6.6 -6.6M441 669.8l6.6 6.6M441 676.4l6.6 -6.6M318.5 669.8l6.6 6.6M318.5 676.4l6.6 -6.6M362.3 669.5l6.6 6.6M362.3 676.1l6.6 -6.6M493.6 669.3l6.6 6.6M493.6 675.9l6.6 -6.6M385 670l6.6 6.6M385 676.6l6.6 -6.6M327 669.6l6.6 6.6M327 676.2l6.6 -6.6M490.4 669.6l6.6 6.6M490.4 676.2l6.6 -6.6M495.7 670l6.6 6.6M495.7 676.6l6.6 -6.6M423.9 669.8l6.6 6.6M423.9 676.4l6.6 -6.6M441.7 669.4l6.6 6.6M441.7 676l6.6 -6.6M474.1 669.8l6.6 6.6M474.1 676.4l6.6 -6.6M483 670l6.6 6.6M483 676.6l6.6 -6.6M347.8 669.6l6.6 6.6M347.8 676.2l6.6 -6.6M403 669.8l6.6 6.6M403 676.4l6.6 -6.6M468.6 669.3l6.6 6.6M468.6 675.9l6.6 -6.6M449.9 670l6.6 6.6M449.9 676.6l6.6 -6.6M428.5 669.7l6.6 6.6M428.5 676.3l6.6 -6.6M497.9 669.8l6.6 6.6M497.9 676.4l6.6 -6.6M477.4 669.7l6.6 6.6M477.4 676.3l6.6 -6.6M385.1 669.9l6.6 6.6M385.1 676.5l6.6 -6.6M452.4 669.5l6.6 6.6M452.4 676.1l6.6 -6.6M482.3 669.8l6.6 6.6M482.3 676.4l6.6 -6.6M502.9 669.4l6.6 6.6M502.9 676l6.6 -6.6M476.3 669.7l6.6 6.6M476.3 676.3l6.6 -6.6M477.9 669.8l6.6 6.6M477.9 676.4l6.6 -6.6M304 669.7l6.6 6.6M304 676.3l6.6 -6.6M455.1 669.8l6.6 6.6M455.1 676.4l6.6 -6.6M301.1 669.4l6.6 6.6M301.1 676l6.6 -6.6M450 669.5l6.6 6.6M450 676.1l6.6 -6.6M494.2 669.7l6.6 6.6M494.2 676.3l6.6 -6.6M375.7 669.4l6.6 6.6M375.7 676l6.6 -6.6M463.4 669.3l6.6 6.6M463.4 675.9l6.6 -6.6M341.1 669.8l6.6 6.6M341.1 676.4l6.6 -6.6M508.3 669.8l6.6 6.6M508.3 676.4l6.6 -6.6M453.6 669.3l6.6 6.6M453.6 675.9l6.6 -6.6M436.1 669.4l6.6 6.6M436.1 676l6.6 -6.6M313.3 669.4l6.6 6.6M313.3 676l6.6 -6.6M355.9 669.8l6.6 6.6M355.9 676.4l6.6 -6.6M345.3 669.9l6.6 6.6M345.3 676.5l6.6 -6.6M321.1 669.9l6.6 6.6M321.1 676.5l6.6 -6.6M433.5 669.6l6.6 6.6M433.5 676.2l6.6 -6.6M509.2 669.4l6.6 6.6M509.2 676l6.6 -6.6M325.9 670.1l6.6 6.6M325.9 676.7l6.6 -6.6M481.6 669.3l6.6 6.6M481.6 675.9l6.6 -6.6M332.4 669.8l6.6 6.6M332.4 676.4l6.6 -6.6M342.7 670l6.6 6.6M342.7 676.6l6.6 -6.6M367.8 669.4l6.6 6.6M367.8 676l6.6 -6.6M322.3 669.5l6.6 6.6M322.3 676.1l6.6 -6.6M321 669.7l6.6 6.6M321 676.3l6.6 -6.6M347.8 670.2l6.6 6.6M347.8 676.8l6.6 -6.6M381.3 669.8l6.6 6.6M381.3 676.4l6.6 -6.6M475.1 669.5l6.6 6.6M475.1 676.1l6.6 -6.6M489.7 669.4l6.6 6.6M489.7 676l6.6 -6.6M322.6 669.6l6.6 6.6M322.6 676.2l6.6 -6.6M357 669.5l6.6 6.6M357 676.1l6.6 -6.6M551.3 669.2l6.6 6.6M551.3 675.8l6.6 -6.6M603.9 669.9l6.6 6.6M603.9 676.5l6.6 -6.6M559.4 670l6.6 6.6M559.4 676.6l6.6 -6.6M510.9 669.3l6.6 6.6M510.9 675.9l6.6 -6.6M517.8 669.7l6.6 6.6M517.8 676.3l6.6 -6.6M545.4 670.2l6.6 6.6M545.4 676.8l6.6 -6.6M567 669.9l6.6 6.6M567 676.5l6.6 -6.6M592.3 670l6.6 6.6M592.3 676.6l6.6 -6.6M576.8 669.7l6.6 6.6M576.8 676.3l6.6 -6.6M527.6 669.8l6.6 6.6M527.6 676.4l6.6 -6.6M522.3 669.9l6.6 6.6M522.3 676.5l6.6 -6.6M521 669.4l6.6 6.6M521 676l6.6 -6.6M598.5 669.6l6.6 6.6M598.5 676.2l6.6 -6.6M631.2 669.7l6.6 6.6M631.2 676.3l6.6 -6.6M510.7 669.7l6.6 6.6M510.7 676.3l6.6 -6.6M707.7 669.7l6.6 6.6M707.7 676.3l6.6 -6.6M241 676.7l6.6 6.6M241 683.3l6.6 -6.6M203.2 677.3l6.6 6.6M203.2 683.9l6.6 -6.6M283.6 676.9l6.6 6.6M283.6 683.5l6.6 -6.6M238.4 677l6.6 6.6M238.4 683.6l6.6 -6.6M263.1 677l6.6 6.6M263.1 683.6l6.6 -6.6M233.6 677.2l6.6 6.6M233.6 683.8l6.6 -6.6M296.3 677.2l6.6 6.6M296.3 683.8l6.6 -6.6M289.3 676.8l6.6 6.6M289.3 683.4l6.6 -6.6M266.1 677.5l6.6 6.6M266.1 684.1l6.6 -6.6M227 677.3l6.6 6.6M227 683.9l6.6 -6.6M331.2 676.9l6.6 6.6M331.2 683.5l6.6 -6.6M491.9 676.3l6.6 6.6M491.9 682.9l6.6 -6.6M450.5 677.2l6.6 6.6M450.5 683.8l6.6 -6.6M392.7 676.8l6.6 6.6M392.7 683.4l6.6 -6.6M380.3 677.2l6.6 6.6M380.3 683.8l6.6 -6.6M414.6 676.6l6.6 6.6M414.6 683.2l6.6 -6.6M340.1 676.8l6.6 6.6M340.1 683.4l6.6 -6.6M312.6 676.9l6.6 6.6M312.6 683.5l6.6 -6.6M450.8 677.1l6.6 6.6M450.8 683.7l6.6 -6.6M427.2 677.1l6.6 6.6M427.2 683.7l6.6 -6.6M342.7 677.2l6.6 6.6M342.7 683.8l6.6 -6.6M327.4 676.7l6.6 6.6M327.4 683.3l6.6 -6.6M445.7 676.6l6.6 6.6M445.7 683.2l6.6 -6.6M431.1 677l6.6 6.6M431.1 683.6l6.6 -6.6M505.3 677l6.6 6.6M505.3 683.6l6.6 -6.6M338.1 676.7l6.6 6.6M338.1 683.3l6.6 -6.6M435.7 677.1l6.6 6.6M435.7 683.7l6.6 -6.6M461.3 676.8l6.6 6.6M461.3 683.4l6.6 -6.6M399 676.5l6.6 6.6M399 683.1l6.6 -6.6M479.4 676.8l6.6 6.6M479.4 683.4l6.6 -6.6M488.2 676.5l6.6 6.6M488.2 683.1l6.6 -6.6M322.7 677.3l6.6 6.6M322.7 683.9l6.6 -6.6M442 676.9l6.6 6.6M442 683.5l6.6 -6.6M350.1 676.8l6.6 6.6M350.1 683.4l6.6 -6.6M353.8 676.7l6.6 6.6M353.8 683.3l6.6 -6.6M418 677.4l6.6 6.6M418 684l6.6 -6.6M409.5 676.9l6.6 6.6M409.5 683.5l6.6 -6.6M307.1 676.9l6.6 6.6M307.1 683.5l6.6 -6.6M481.1 676.8l6.6 6.6M481.1 683.4l6.6 -6.6M400.4 676.7l6.6 6.6M400.4 683.3l6.6 -6.6M314.6 676.9l6.6 6.6M314.6 683.5l6.6 -6.6M325.1 676.8l6.6 6.6M325.1 683.4l6.6 -6.6M392.2 676.8l6.6 6.6M392.2 683.4l6.6 -6.6M328.7 676.4l6.6 6.6M328.7 683l6.6 -6.6M363.9 677.1l6.6 6.6M363.9 683.7l6.6 -6.6M487.2 676.7l6.6 6.6M487.2 683.3l6.6 -6.6M444.4 676.9l6.6 6.6M444.4 683.5l6.6 -6.6M336.1 676.6l6.6 6.6M336.1 683.2l6.6 -6.6M439.1 677.1l6.6 6.6M439.1 683.7l6.6 -6.6M314.8 676.8l6.6 6.6M314.8 683.4l6.6 -6.6M453.5 676.7l6.6 6.6M453.5 683.3l6.6 -6.6M406.7 676.5l6.6 6.6M406.7 683.1l6.6 -6.6M361.1 676.7l6.6 6.6M361.1 683.3l6.6 -6.6M470.9 676.7l6.6 6.6M470.9 683.3l6.6 -6.6M412.8 676.7l6.6 6.6M412.8 683.3l6.6 -6.6M497 676.8l6.6 6.6M497 683.4l6.6 -6.6M425.1 676.9l6.6 6.6M425.1 683.5l6.6 -6.6M494.3 677.2l6.6 6.6M494.3 683.8l6.6 -6.6M471.4 676.7l6.6 6.6M471.4 683.3l6.6 -6.6M481.5 676.8l6.6 6.6M481.5 683.4l6.6 -6.6M444.3 676.9l6.6 6.6M444.3 683.5l6.6 -6.6M414.6 677l6.6 6.6M414.6 683.6l6.6 -6.6M461.5 676.9l6.6 6.6M461.5 683.5l6.6 -6.6M397.3 677.2l6.6 6.6M397.3 683.8l6.6 -6.6M398.7 676.9l6.6 6.6M398.7 683.5l6.6 -6.6M486.1 676.7l6.6 6.6M486.1 683.3l6.6 -6.6M433.2 676.6l6.6 6.6M433.2 683.2l6.6 -6.6M336.3 676.9l6.6 6.6M336.3 683.5l6.6 -6.6M302.2 676.6l6.6 6.6M302.2 683.2l6.6 -6.6M463.5 677.1l6.6 6.6M463.5 683.7l6.6 -6.6M383.9 676.7l6.6 6.6M383.9 683.3l6.6 -6.6M457.7 676.7l6.6 6.6M457.7 683.3l6.6 -6.6M329.1 676.7l6.6 6.6M329.1 683.3l6.6 -6.6M525.1 676.9l6.6 6.6M525.1 683.5l6.6 -6.6M522.1 676.6l6.6 6.6M522.1 683.2l6.6 -6.6M570.2 677.2l6.6 6.6M570.2 683.8l6.6 -6.6M531.8 676.6l6.6 6.6M531.8 683.2l6.6 -6.6M549.9 676.9l6.6 6.6M549.9 683.5l6.6 -6.6M523.6 676.9l6.6 6.6M523.6 683.5l6.6 -6.6M522 676.6l6.6 6.6M522 683.2l6.6 -6.6M547.9 676.7l6.6 6.6M547.9 683.3l6.6 -6.6M652.8 676.8l6.6 6.6M652.8 683.4l6.6 -6.6M641.3 676.9l6.6 6.6M641.3 683.5l6.6 -6.6M287.9 684.9l6.6 6.6M287.9 691.5l6.6 -6.6M295.6 685.4l6.6 6.6M295.6 692l6.6 -6.6M276.9 685.4l6.6 6.6M276.9 692l6.6 -6.6M137.6 685.1l6.6 6.6M137.6 691.7l6.6 -6.6M282.5 685.3l6.6 6.6M282.5 691.9l6.6 -6.6M245.8 685.2l6.6 6.6M245.8 691.8l6.6 -6.6M143.5 685.6l6.6 6.6M143.5 692.2l6.6 -6.6M261.3 685.2l6.6 6.6M261.3 691.8l6.6 -6.6M369.6 685.3l6.6 6.6M369.6 691.9l6.6 -6.6M453 685.1l6.6 6.6M453 691.7l6.6 -6.6M474.5 685.2l6.6 6.6M474.5 691.8l6.6 -6.6M407.4 685.4l6.6 6.6M407.4 692l6.6 -6.6M385.8 685.3l6.6 6.6M385.8 691.9l6.6 -6.6M322.6 685.5l6.6 6.6M322.6 692.1l6.6 -6.6M503.6 685.6l6.6 6.6M503.6 692.2l6.6 -6.6M321.5 685.6l6.6 6.6M321.5 692.2l6.6 -6.6M452.6 684.9l6.6 6.6M452.6 691.5l6.6 -6.6M500.9 685l6.6 6.6M500.9 691.6l6.6 -6.6M367.4 685.3l6.6 6.6M367.4 691.9l6.6 -6.6M308.3 685.1l6.6 6.6M308.3 691.7l6.6 -6.6M370 685.2l6.6 6.6M370 691.8l6.6 -6.6M317.2 685.3l6.6 6.6M317.2 691.9l6.6 -6.6M443.4 685.4l6.6 6.6M443.4 692l6.6 -6.6M407.5 685.4l6.6 6.6M407.5 692l6.6 -6.6M313.8 685.5l6.6 6.6M313.8 692.1l6.6 -6.6M498.5 685.1l6.6 6.6M498.5 691.7l6.6 -6.6M450.3 685.4l6.6 6.6M450.3 692l6.6 -6.6M302.3 685.4l6.6 6.6M302.3 692l6.6 -6.6M381.3 684.9l6.6 6.6M381.3 691.5l6.6 -6.6M360.7 685.1l6.6 6.6M360.7 691.7l6.6 -6.6M345.4 685.1l6.6 6.6M345.4 691.7l6.6 -6.6M381.9 685.4l6.6 6.6M381.9 692l6.6 -6.6M454.7 685.3l6.6 6.6M454.7 691.9l6.6 -6.6M317.5 685.2l6.6 6.6M317.5 691.8l6.6 -6.6M369.3 685.2l6.6 6.6M369.3 691.8l6.6 -6.6M429.7 684.8l6.6 6.6M429.7 691.4l6.6 -6.6M321.1 685.3l6.6 6.6M321.1 691.9l6.6 -6.6M501.7 685.6l6.6 6.6M501.7 692.2l6.6 -6.6M414.1 685.4l6.6 6.6M414.1 692l6.6 -6.6M387.5 685.3l6.6 6.6M387.5 691.9l6.6 -6.6M317.1 685.4l6.6 6.6M317.1 692l6.6 -6.6M496.7 685.4l6.6 6.6M496.7 692l6.6 -6.6M409 685.8l6.6 6.6M409 692.4l6.6 -6.6M327.4 685.4l6.6 6.6M327.4 692l6.6 -6.6M489.8 685.2l6.6 6.6M489.8 691.8l6.6 -6.6M334.9 685.6l6.6 6.6M334.9 692.2l6.6 -6.6M304.2 685.4l6.6 6.6M304.2 692l6.6 -6.6M351.9 685.6l6.6 6.6M351.9 692.2l6.6 -6.6M443.5 685.5l6.6 6.6M443.5 692.1l6.6 -6.6M404.5 685.3l6.6 6.6M404.5 691.9l6.6 -6.6M541.4 685.4l6.6 6.6M541.4 692l6.6 -6.6M587.1 685l6.6 6.6M587.1 691.6l6.6 -6.6M516.1 685.2l6.6 6.6M516.1 691.8l6.6 -6.6M350.7 693.5l6.6 6.6M350.7 700.1l6.6 -6.6M368.5 693.7l6.6 6.6M368.5 700.3l6.6 -6.6M306.2 693.7l6.6 6.6M306.2 700.3l6.6 -6.6M241.7 694l6.6 6.6M241.7 700.6l6.6 -6.6M294.6 693.5l6.6 6.6M294.6 700.1l6.6 -6.6M417.3 694l6.6 6.6M417.3 700.6l6.6 -6.6M451.3 693.9l6.6 6.6M451.3 700.5l6.6 -6.6M566.3 693.5l6.6 6.6M566.3 700.1l6.6 -6.6M190.4 700.5l6.6 6.6M190.4 707.1l6.6 -6.6M241.5 701l6.6 6.6M241.5 707.6l6.6 -6.6M340.6 701.2l6.6 6.6M340.6 707.8l6.6 -6.6M331.4 701.3l6.6 6.6M331.4 707.9l6.6 -6.6M297.2 710l6.6 6.6M297.2 716.6l6.6 -6.6M268 710.4l6.6 6.6M268 717l6.6 -6.6M621.2 710l6.6 6.6M621.2 716.6l6.6 -6.6M564.7 710.7l6.6 6.6M564.7 717.3l6.6 -6.6M296.6 718l6.6 6.6M296.6 724.6l6.6 -6.6M299.4 717.8l6.6 6.6M299.4 724.4l6.6 -6.6M427.7 717.4l6.6 6.6M427.7 724l6.6 -6.6M446.3 717.4l6.6 6.6M446.3 724l6.6 -6.6M412.6 724.8l6.6 6.6M412.6 731.4l6.6 -6.6M393.5 724.9l6.6 6.6M393.5 731.5l6.6 -6.6M474.2 724.7l6.6 6.6M474.2 731.3l6.6 -6.6" stroke="#e2d830" stroke-width="1.05" fill="none" opacity="0.85"/>
<path d="M229.4 649.5a1.55 1.55 0 1 0 3.1 0a1.55 1.55 0 1 0-3.1 0M129.6 649.1a1.55 1.55 0 1 0 3.1 0a1.55 1.55 0 1 0-3.1 0M260.7 649.8a1.55 1.55 0 1 0 3.1 0a1.55 1.55 0 1 0-3.1 0M221.3 649.3a1.55 1.55 0 1 0 3.1 0a1.55 1.55 0 1 0-3.1 0M237.6 649.8a1.55 1.55 0 1 0 3.1 0a1.55 1.55 0 1 0-3.1 0M151.5 649.4a1.55 1.55 0 1 0 3.1 0a1.55 1.55 0 1 0-3.1 0M146.8 649.2a1.55 1.55 0 1 0 3.1 0a1.55 1.55 0 1 0-3.1 0M277 649.2a1.55 1.55 0 1 0 3.1 0a1.55 1.55 0 1 0-3.1 0M293.5 649.6a1.55 1.55 0 1 0 3.1 0a1.55 1.55 0 1 0-3.1 0M199.3 649.3a1.55 1.55 0 1 0 3.1 0a1.55 1.55 0 1 0-3.1 0M296.4 649.1a1.55 1.55 0 1 0 3.1 0a1.55 1.55 0 1 0-3.1 0M132.3 648.9a1.55 1.55 0 1 0 3.1 0a1.55 1.55 0 1 0-3.1 0M250.5 649.3a1.55 1.55 0 1 0 3.1 0a1.55 1.55 0 1 0-3.1 0M187.6 649.8a1.55 1.55 0 1 0 3.1 0a1.55 1.55 0 1 0-3.1 0M234.2 648.9a1.55 1.55 0 1 0 3.1 0a1.55 1.55 0 1 0-3.1 0M170.6 649.6a1.55 1.55 0 1 0 3.1 0a1.55 1.55 0 1 0-3.1 0M240.6 649.3a1.55 1.55 0 1 0 3.1 0a1.55 1.55 0 1 0-3.1 0M127.7 649a1.55 1.55 0 1 0 3.1 0a1.55 1.55 0 1 0-3.1 0M302.3 649.2a1.55 1.55 0 1 0 3.1 0a1.55 1.55 0 1 0-3.1 0M119.4 649.3a1.55 1.55 0 1 0 3.1 0a1.55 1.55 0 1 0-3.1 0M262.1 649.7a1.55 1.55 0 1 0 3.1 0a1.55 1.55 0 1 0-3.1 0M205.5 649.1a1.55 1.55 0 1 0 3.1 0a1.55 1.55 0 1 0-3.1 0M301.1 649.2a1.55 1.55 0 1 0 3.1 0a1.55 1.55 0 1 0-3.1 0M126.8 649.7a1.55 1.55 0 1 0 3.1 0a1.55 1.55 0 1 0-3.1 0M131 649.3a1.55 1.55 0 1 0 3.1 0a1.55 1.55 0 1 0-3.1 0M256.7 650a1.55 1.55 0 1 0 3.1 0a1.55 1.55 0 1 0-3.1 0M411.2 649.3a1.55 1.55 0 1 0 3.1 0a1.55 1.55 0 1 0-3.1 0M509.7 649.2a1.55 1.55 0 1 0 3.1 0a1.55 1.55 0 1 0-3.1 0M422 649.1a1.55 1.55 0 1 0 3.1 0a1.55 1.55 0 1 0-3.1 0M397.2 649.3a1.55 1.55 0 1 0 3.1 0a1.55 1.55 0 1 0-3.1 0M325.2 649.4a1.55 1.55 0 1 0 3.1 0a1.55 1.55 0 1 0-3.1 0M329.7 649.4a1.55 1.55 0 1 0 3.1 0a1.55 1.55 0 1 0-3.1 0M319.4 648.8a1.55 1.55 0 1 0 3.1 0a1.55 1.55 0 1 0-3.1 0M484.5 649.8a1.55 1.55 0 1 0 3.1 0a1.55 1.55 0 1 0-3.1 0M500.2 649.2a1.55 1.55 0 1 0 3.1 0a1.55 1.55 0 1 0-3.1 0M316.7 649.3a1.55 1.55 0 1 0 3.1 0a1.55 1.55 0 1 0-3.1 0M203.9 655.9a1.55 1.55 0 1 0 3.1 0a1.55 1.55 0 1 0-3.1 0M176.8 656.3a1.55 1.55 0 1 0 3.1 0a1.55 1.55 0 1 0-3.1 0M245.5 656.8a1.55 1.55 0 1 0 3.1 0a1.55 1.55 0 1 0-3.1 0M250.1 656.3a1.55 1.55 0 1 0 3.1 0a1.55 1.55 0 1 0-3.1 0M246.1 656.9a1.55 1.55 0 1 0 3.1 0a1.55 1.55 0 1 0-3.1 0M163.4 655.8a1.55 1.55 0 1 0 3.1 0a1.55 1.55 0 1 0-3.1 0M141.3 656.5a1.55 1.55 0 1 0 3.1 0a1.55 1.55 0 1 0-3.1 0M246.3 656.2a1.55 1.55 0 1 0 3.1 0a1.55 1.55 0 1 0-3.1 0M190.4 656.5a1.55 1.55 0 1 0 3.1 0a1.55 1.55 0 1 0-3.1 0M151.7 656.5a1.55 1.55 0 1 0 3.1 0a1.55 1.55 0 1 0-3.1 0M191.7 656.2a1.55 1.55 0 1 0 3.1 0a1.55 1.55 0 1 0-3.1 0M183.5 656.5a1.55 1.55 0 1 0 3.1 0a1.55 1.55 0 1 0-3.1 0M253 656.4a1.55 1.55 0 1 0 3.1 0a1.55 1.55 0 1 0-3.1 0M240.4 656.4a1.55 1.55 0 1 0 3.1 0a1.55 1.55 0 1 0-3.1 0M132.1 656.2a1.55 1.55 0 1 0 3.1 0a1.55 1.55 0 1 0-3.1 0M165.8 656.4a1.55 1.55 0 1 0 3.1 0a1.55 1.55 0 1 0-3.1 0M194.4 656.6a1.55 1.55 0 1 0 3.1 0a1.55 1.55 0 1 0-3.1 0M239.9 656.4a1.55 1.55 0 1 0 3.1 0a1.55 1.55 0 1 0-3.1 0M243.7 656.8a1.55 1.55 0 1 0 3.1 0a1.55 1.55 0 1 0-3.1 0M295.2 657.1a1.55 1.55 0 1 0 3.1 0a1.55 1.55 0 1 0-3.1 0M136.9 656.5a1.55 1.55 0 1 0 3.1 0a1.55 1.55 0 1 0-3.1 0M277.9 656a1.55 1.55 0 1 0 3.1 0a1.55 1.55 0 1 0-3.1 0M238.5 656.1a1.55 1.55 0 1 0 3.1 0a1.55 1.55 0 1 0-3.1 0M164.8 656.1a1.55 1.55 0 1 0 3.1 0a1.55 1.55 0 1 0-3.1 0M191 656.2a1.55 1.55 0 1 0 3.1 0a1.55 1.55 0 1 0-3.1 0M138.6 656.3a1.55 1.55 0 1 0 3.1 0a1.55 1.55 0 1 0-3.1 0M252.1 656.4a1.55 1.55 0 1 0 3.1 0a1.55 1.55 0 1 0-3.1 0M139.7 656.3a1.55 1.55 0 1 0 3.1 0a1.55 1.55 0 1 0-3.1 0M303.6 656.6a1.55 1.55 0 1 0 3.1 0a1.55 1.55 0 1 0-3.1 0M340.3 656.5a1.55 1.55 0 1 0 3.1 0a1.55 1.55 0 1 0-3.1 0M505.3 656.3a1.55 1.55 0 1 0 3.1 0a1.55 1.55 0 1 0-3.1 0M495 657.1a1.55 1.55 0 1 0 3.1 0a1.55 1.55 0 1 0-3.1 0M317.3 656.4a1.55 1.55 0 1 0 3.1 0a1.55 1.55 0 1 0-3.1 0M494.4 656.4a1.55 1.55 0 1 0 3.1 0a1.55 1.55 0 1 0-3.1 0M461.9 656a1.55 1.55 0 1 0 3.1 0a1.55 1.55 0 1 0-3.1 0M447.1 656.3a1.55 1.55 0 1 0 3.1 0a1.55 1.55 0 1 0-3.1 0M322.2 656.2a1.55 1.55 0 1 0 3.1 0a1.55 1.55 0 1 0-3.1 0M405.3 656.8a1.55 1.55 0 1 0 3.1 0a1.55 1.55 0 1 0-3.1 0M385.9 656.3a1.55 1.55 0 1 0 3.1 0a1.55 1.55 0 1 0-3.1 0M333.9 656.4a1.55 1.55 0 1 0 3.1 0a1.55 1.55 0 1 0-3.1 0M356.6 656.3a1.55 1.55 0 1 0 3.1 0a1.55 1.55 0 1 0-3.1 0M433.7 656.5a1.55 1.55 0 1 0 3.1 0a1.55 1.55 0 1 0-3.1 0M504.2 656.4a1.55 1.55 0 1 0 3.1 0a1.55 1.55 0 1 0-3.1 0M453 656.7a1.55 1.55 0 1 0 3.1 0a1.55 1.55 0 1 0-3.1 0M343.6 656.2a1.55 1.55 0 1 0 3.1 0a1.55 1.55 0 1 0-3.1 0M318.1 656.6a1.55 1.55 0 1 0 3.1 0a1.55 1.55 0 1 0-3.1 0M352.4 656.2a1.55 1.55 0 1 0 3.1 0a1.55 1.55 0 1 0-3.1 0M480.1 656.5a1.55 1.55 0 1 0 3.1 0a1.55 1.55 0 1 0-3.1 0M399.1 656.6a1.55 1.55 0 1 0 3.1 0a1.55 1.55 0 1 0-3.1 0M410 656.2a1.55 1.55 0 1 0 3.1 0a1.55 1.55 0 1 0-3.1 0M474.8 656.6a1.55 1.55 0 1 0 3.1 0a1.55 1.55 0 1 0-3.1 0M408.8 656.6a1.55 1.55 0 1 0 3.1 0a1.55 1.55 0 1 0-3.1 0M402.4 657a1.55 1.55 0 1 0 3.1 0a1.55 1.55 0 1 0-3.1 0M388.2 656.2a1.55 1.55 0 1 0 3.1 0a1.55 1.55 0 1 0-3.1 0M508.5 656.5a1.55 1.55 0 1 0 3.1 0a1.55 1.55 0 1 0-3.1 0M350.3 656a1.55 1.55 0 1 0 3.1 0a1.55 1.55 0 1 0-3.1 0M372 656.4a1.55 1.55 0 1 0 3.1 0a1.55 1.55 0 1 0-3.1 0M346.9 656.8a1.55 1.55 0 1 0 3.1 0a1.55 1.55 0 1 0-3.1 0M333.2 656.7a1.55 1.55 0 1 0 3.1 0a1.55 1.55 0 1 0-3.1 0M327.6 656a1.55 1.55 0 1 0 3.1 0a1.55 1.55 0 1 0-3.1 0M341.4 656.4a1.55 1.55 0 1 0 3.1 0a1.55 1.55 0 1 0-3.1 0M440.8 656.5a1.55 1.55 0 1 0 3.1 0a1.55 1.55 0 1 0-3.1 0M449.8 656.1a1.55 1.55 0 1 0 3.1 0a1.55 1.55 0 1 0-3.1 0M422.4 656.4a1.55 1.55 0 1 0 3.1 0a1.55 1.55 0 1 0-3.1 0M406.3 656.2a1.55 1.55 0 1 0 3.1 0a1.55 1.55 0 1 0-3.1 0M487.3 656.2a1.55 1.55 0 1 0 3.1 0a1.55 1.55 0 1 0-3.1 0M506.4 656.3a1.55 1.55 0 1 0 3.1 0a1.55 1.55 0 1 0-3.1 0M458 656.2a1.55 1.55 0 1 0 3.1 0a1.55 1.55 0 1 0-3.1 0M408.4 656.7a1.55 1.55 0 1 0 3.1 0a1.55 1.55 0 1 0-3.1 0M374.2 656.6a1.55 1.55 0 1 0 3.1 0a1.55 1.55 0 1 0-3.1 0M478.7 656.6a1.55 1.55 0 1 0 3.1 0a1.55 1.55 0 1 0-3.1 0M351 656.1a1.55 1.55 0 1 0 3.1 0a1.55 1.55 0 1 0-3.1 0M413 656.6a1.55 1.55 0 1 0 3.1 0a1.55 1.55 0 1 0-3.1 0M364.8 656.6a1.55 1.55 0 1 0 3.1 0a1.55 1.55 0 1 0-3.1 0M429.8 656.2a1.55 1.55 0 1 0 3.1 0a1.55 1.55 0 1 0-3.1 0M404.5 656.4a1.55 1.55 0 1 0 3.1 0a1.55 1.55 0 1 0-3.1 0M443.2 655.9a1.55 1.55 0 1 0 3.1 0a1.55 1.55 0 1 0-3.1 0M475.5 656.4a1.55 1.55 0 1 0 3.1 0a1.55 1.55 0 1 0-3.1 0M373.6 656.4a1.55 1.55 0 1 0 3.1 0a1.55 1.55 0 1 0-3.1 0M428.9 656.2a1.55 1.55 0 1 0 3.1 0a1.55 1.55 0 1 0-3.1 0M444.4 656.3a1.55 1.55 0 1 0 3.1 0a1.55 1.55 0 1 0-3.1 0M408.4 656.4a1.55 1.55 0 1 0 3.1 0a1.55 1.55 0 1 0-3.1 0M333.4 656.5a1.55 1.55 0 1 0 3.1 0a1.55 1.55 0 1 0-3.1 0M473 656.2a1.55 1.55 0 1 0 3.1 0a1.55 1.55 0 1 0-3.1 0M401.8 656.3a1.55 1.55 0 1 0 3.1 0a1.55 1.55 0 1 0-3.1 0M504.5 656.2a1.55 1.55 0 1 0 3.1 0a1.55 1.55 0 1 0-3.1 0M485 656.5a1.55 1.55 0 1 0 3.1 0a1.55 1.55 0 1 0-3.1 0M324.6 656.4a1.55 1.55 0 1 0 3.1 0a1.55 1.55 0 1 0-3.1 0M511 656.5a1.55 1.55 0 1 0 3.1 0a1.55 1.55 0 1 0-3.1 0M318.3 656.7a1.55 1.55 0 1 0 3.1 0a1.55 1.55 0 1 0-3.1 0M350.3 656.5a1.55 1.55 0 1 0 3.1 0a1.55 1.55 0 1 0-3.1 0M409 656a1.55 1.55 0 1 0 3.1 0a1.55 1.55 0 1 0-3.1 0M390.2 656.7a1.55 1.55 0 1 0 3.1 0a1.55 1.55 0 1 0-3.1 0M434.7 656a1.55 1.55 0 1 0 3.1 0a1.55 1.55 0 1 0-3.1 0M317.3 656.8a1.55 1.55 0 1 0 3.1 0a1.55 1.55 0 1 0-3.1 0M353.2 656.3a1.55 1.55 0 1 0 3.1 0a1.55 1.55 0 1 0-3.1 0M388.1 656.7a1.55 1.55 0 1 0 3.1 0a1.55 1.55 0 1 0-3.1 0M350.3 656.1a1.55 1.55 0 1 0 3.1 0a1.55 1.55 0 1 0-3.1 0M436.8 656a1.55 1.55 0 1 0 3.1 0a1.55 1.55 0 1 0-3.1 0M427.7 656a1.55 1.55 0 1 0 3.1 0a1.55 1.55 0 1 0-3.1 0M420.4 656.7a1.55 1.55 0 1 0 3.1 0a1.55 1.55 0 1 0-3.1 0M474.3 656.4a1.55 1.55 0 1 0 3.1 0a1.55 1.55 0 1 0-3.1 0M319.6 656.5a1.55 1.55 0 1 0 3.1 0a1.55 1.55 0 1 0-3.1 0M483.3 656a1.55 1.55 0 1 0 3.1 0a1.55 1.55 0 1 0-3.1 0M468 656a1.55 1.55 0 1 0 3.1 0a1.55 1.55 0 1 0-3.1 0M472 656.9a1.55 1.55 0 1 0 3.1 0a1.55 1.55 0 1 0-3.1 0M504 656.5a1.55 1.55 0 1 0 3.1 0a1.55 1.55 0 1 0-3.1 0M402.1 656a1.55 1.55 0 1 0 3.1 0a1.55 1.55 0 1 0-3.1 0M316.3 656.4a1.55 1.55 0 1 0 3.1 0a1.55 1.55 0 1 0-3.1 0M425.9 656.3a1.55 1.55 0 1 0 3.1 0a1.55 1.55 0 1 0-3.1 0M332.7 656.6a1.55 1.55 0 1 0 3.1 0a1.55 1.55 0 1 0-3.1 0M330.8 656.5a1.55 1.55 0 1 0 3.1 0a1.55 1.55 0 1 0-3.1 0M309 655.9a1.55 1.55 0 1 0 3.1 0a1.55 1.55 0 1 0-3.1 0M322.5 656.5a1.55 1.55 0 1 0 3.1 0a1.55 1.55 0 1 0-3.1 0M496.9 656.2a1.55 1.55 0 1 0 3.1 0a1.55 1.55 0 1 0-3.1 0M489.6 656.3a1.55 1.55 0 1 0 3.1 0a1.55 1.55 0 1 0-3.1 0M464.7 656.3a1.55 1.55 0 1 0 3.1 0a1.55 1.55 0 1 0-3.1 0M394 656.5a1.55 1.55 0 1 0 3.1 0a1.55 1.55 0 1 0-3.1 0M383.1 656.9a1.55 1.55 0 1 0 3.1 0a1.55 1.55 0 1 0-3.1 0M487.6 656.3a1.55 1.55 0 1 0 3.1 0a1.55 1.55 0 1 0-3.1 0M466.3 656.5a1.55 1.55 0 1 0 3.1 0a1.55 1.55 0 1 0-3.1 0M470.6 655.8a1.55 1.55 0 1 0 3.1 0a1.55 1.55 0 1 0-3.1 0M316 656.1a1.55 1.55 0 1 0 3.1 0a1.55 1.55 0 1 0-3.1 0M501 656.4a1.55 1.55 0 1 0 3.1 0a1.55 1.55 0 1 0-3.1 0M464.9 656.1a1.55 1.55 0 1 0 3.1 0a1.55 1.55 0 1 0-3.1 0M356.1 656.5a1.55 1.55 0 1 0 3.1 0a1.55 1.55 0 1 0-3.1 0M445.4 656.3a1.55 1.55 0 1 0 3.1 0a1.55 1.55 0 1 0-3.1 0M372.1 656.6a1.55 1.55 0 1 0 3.1 0a1.55 1.55 0 1 0-3.1 0M327.8 657a1.55 1.55 0 1 0 3.1 0a1.55 1.55 0 1 0-3.1 0M334.5 656.2a1.55 1.55 0 1 0 3.1 0a1.55 1.55 0 1 0-3.1 0M480.8 656.3a1.55 1.55 0 1 0 3.1 0a1.55 1.55 0 1 0-3.1 0M381 656.3a1.55 1.55 0 1 0 3.1 0a1.55 1.55 0 1 0-3.1 0M390.6 657a1.55 1.55 0 1 0 3.1 0a1.55 1.55 0 1 0-3.1 0M434.1 656.3a1.55 1.55 0 1 0 3.1 0a1.55 1.55 0 1 0-3.1 0M438.8 655.9a1.55 1.55 0 1 0 3.1 0a1.55 1.55 0 1 0-3.1 0M397.9 656a1.55 1.55 0 1 0 3.1 0a1.55 1.55 0 1 0-3.1 0M472.1 656.4a1.55 1.55 0 1 0 3.1 0a1.55 1.55 0 1 0-3.1 0M385.8 656.5a1.55 1.55 0 1 0 3.1 0a1.55 1.55 0 1 0-3.1 0M496.6 656.3a1.55 1.55 0 1 0 3.1 0a1.55 1.55 0 1 0-3.1 0M437.7 656.5a1.55 1.55 0 1 0 3.1 0a1.55 1.55 0 1 0-3.1 0M413.5 656.2a1.55 1.55 0 1 0 3.1 0a1.55 1.55 0 1 0-3.1 0M344.5 656.4a1.55 1.55 0 1 0 3.1 0a1.55 1.55 0 1 0-3.1 0M373.5 656.2a1.55 1.55 0 1 0 3.1 0a1.55 1.55 0 1 0-3.1 0M557.7 656.6a1.55 1.55 0 1 0 3.1 0a1.55 1.55 0 1 0-3.1 0M520.7 656.4a1.55 1.55 0 1 0 3.1 0a1.55 1.55 0 1 0-3.1 0M573.6 656.7a1.55 1.55 0 1 0 3.1 0a1.55 1.55 0 1 0-3.1 0M528.1 656.5a1.55 1.55 0 1 0 3.1 0a1.55 1.55 0 1 0-3.1 0M549.7 656.1a1.55 1.55 0 1 0 3.1 0a1.55 1.55 0 1 0-3.1 0M591.4 656.2a1.55 1.55 0 1 0 3.1 0a1.55 1.55 0 1 0-3.1 0M549.2 656a1.55 1.55 0 1 0 3.1 0a1.55 1.55 0 1 0-3.1 0M557.5 656.8a1.55 1.55 0 1 0 3.1 0a1.55 1.55 0 1 0-3.1 0M516.6 656.7a1.55 1.55 0 1 0 3.1 0a1.55 1.55 0 1 0-3.1 0M554.1 656.3a1.55 1.55 0 1 0 3.1 0a1.55 1.55 0 1 0-3.1 0M595.3 656.3a1.55 1.55 0 1 0 3.1 0a1.55 1.55 0 1 0-3.1 0M583.1 656.1a1.55 1.55 0 1 0 3.1 0a1.55 1.55 0 1 0-3.1 0M559.8 656.6a1.55 1.55 0 1 0 3.1 0a1.55 1.55 0 1 0-3.1 0M587.6 656.2a1.55 1.55 0 1 0 3.1 0a1.55 1.55 0 1 0-3.1 0M567.1 656.6a1.55 1.55 0 1 0 3.1 0a1.55 1.55 0 1 0-3.1 0M581 656a1.55 1.55 0 1 0 3.1 0a1.55 1.55 0 1 0-3.1 0M547.6 656.5a1.55 1.55 0 1 0 3.1 0a1.55 1.55 0 1 0-3.1 0M524.9 656.1a1.55 1.55 0 1 0 3.1 0a1.55 1.55 0 1 0-3.1 0M554.5 656.4a1.55 1.55 0 1 0 3.1 0a1.55 1.55 0 1 0-3.1 0M543.6 656.5a1.55 1.55 0 1 0 3.1 0a1.55 1.55 0 1 0-3.1 0M578.9 656.2a1.55 1.55 0 1 0 3.1 0a1.55 1.55 0 1 0-3.1 0M587.3 656.4a1.55 1.55 0 1 0 3.1 0a1.55 1.55 0 1 0-3.1 0M523.5 656.2a1.55 1.55 0 1 0 3.1 0a1.55 1.55 0 1 0-3.1 0M562.8 656.5a1.55 1.55 0 1 0 3.1 0a1.55 1.55 0 1 0-3.1 0M563.7 656.3a1.55 1.55 0 1 0 3.1 0a1.55 1.55 0 1 0-3.1 0M638.8 656.4a1.55 1.55 0 1 0 3.1 0a1.55 1.55 0 1 0-3.1 0M666.2 656.4a1.55 1.55 0 1 0 3.1 0a1.55 1.55 0 1 0-3.1 0M630.9 656.9a1.55 1.55 0 1 0 3.1 0a1.55 1.55 0 1 0-3.1 0M651.5 656.1a1.55 1.55 0 1 0 3.1 0a1.55 1.55 0 1 0-3.1 0M204.3 665.7a1.55 1.55 0 1 0 3.1 0a1.55 1.55 0 1 0-3.1 0M207.1 665.5a1.55 1.55 0 1 0 3.1 0a1.55 1.55 0 1 0-3.1 0M269.2 665.5a1.55 1.55 0 1 0 3.1 0a1.55 1.55 0 1 0-3.1 0M170.5 665.8a1.55 1.55 0 1 0 3.1 0a1.55 1.55 0 1 0-3.1 0M212.7 665.4a1.55 1.55 0 1 0 3.1 0a1.55 1.55 0 1 0-3.1 0M214.3 665.5a1.55 1.55 0 1 0 3.1 0a1.55 1.55 0 1 0-3.1 0M224 665.3a1.55 1.55 0 1 0 3.1 0a1.55 1.55 0 1 0-3.1 0M141 665.4a1.55 1.55 0 1 0 3.1 0a1.55 1.55 0 1 0-3.1 0M187.6 665.2a1.55 1.55 0 1 0 3.1 0a1.55 1.55 0 1 0-3.1 0M282.2 665.5a1.55 1.55 0 1 0 3.1 0a1.55 1.55 0 1 0-3.1 0M150.4 665.4a1.55 1.55 0 1 0 3.1 0a1.55 1.55 0 1 0-3.1 0M298 665.3a1.55 1.55 0 1 0 3.1 0a1.55 1.55 0 1 0-3.1 0M280.3 665a1.55 1.55 0 1 0 3.1 0a1.55 1.55 0 1 0-3.1 0M301.1 665.2a1.55 1.55 0 1 0 3.1 0a1.55 1.55 0 1 0-3.1 0M260.7 665.4a1.55 1.55 0 1 0 3.1 0a1.55 1.55 0 1 0-3.1 0M237.1 665.7a1.55 1.55 0 1 0 3.1 0a1.55 1.55 0 1 0-3.1 0M261.4 665.7a1.55 1.55 0 1 0 3.1 0a1.55 1.55 0 1 0-3.1 0M222.1 665.5a1.55 1.55 0 1 0 3.1 0a1.55 1.55 0 1 0-3.1 0M279 666.1a1.55 1.55 0 1 0 3.1 0a1.55 1.55 0 1 0-3.1 0M286.1 665.4a1.55 1.55 0 1 0 3.1 0a1.55 1.55 0 1 0-3.1 0M215.9 665.3a1.55 1.55 0 1 0 3.1 0a1.55 1.55 0 1 0-3.1 0M300.6 665.2a1.55 1.55 0 1 0 3.1 0a1.55 1.55 0 1 0-3.1 0M157.4 665.9a1.55 1.55 0 1 0 3.1 0a1.55 1.55 0 1 0-3.1 0M499.7 665.2a1.55 1.55 0 1 0 3.1 0a1.55 1.55 0 1 0-3.1 0M355 665.8a1.55 1.55 0 1 0 3.1 0a1.55 1.55 0 1 0-3.1 0M361.6 665.7a1.55 1.55 0 1 0 3.1 0a1.55 1.55 0 1 0-3.1 0M381.9 665.7a1.55 1.55 0 1 0 3.1 0a1.55 1.55 0 1 0-3.1 0M356.4 665.5a1.55 1.55 0 1 0 3.1 0a1.55 1.55 0 1 0-3.1 0M305.4 665.7a1.55 1.55 0 1 0 3.1 0a1.55 1.55 0 1 0-3.1 0M454.5 665.6a1.55 1.55 0 1 0 3.1 0a1.55 1.55 0 1 0-3.1 0M506 665.2a1.55 1.55 0 1 0 3.1 0a1.55 1.55 0 1 0-3.1 0M404.2 664.8a1.55 1.55 0 1 0 3.1 0a1.55 1.55 0 1 0-3.1 0M467 665.5a1.55 1.55 0 1 0 3.1 0a1.55 1.55 0 1 0-3.1 0M352.6 665.4a1.55 1.55 0 1 0 3.1 0a1.55 1.55 0 1 0-3.1 0M323.6 665.7a1.55 1.55 0 1 0 3.1 0a1.55 1.55 0 1 0-3.1 0M329.6 665.6a1.55 1.55 0 1 0 3.1 0a1.55 1.55 0 1 0-3.1 0M413.7 665.6a1.55 1.55 0 1 0 3.1 0a1.55 1.55 0 1 0-3.1 0M491.7 665.8a1.55 1.55 0 1 0 3.1 0a1.55 1.55 0 1 0-3.1 0M375.1 665.5a1.55 1.55 0 1 0 3.1 0a1.55 1.55 0 1 0-3.1 0M382.8 665.4a1.55 1.55 0 1 0 3.1 0a1.55 1.55 0 1 0-3.1 0M414.8 664.9a1.55 1.55 0 1 0 3.1 0a1.55 1.55 0 1 0-3.1 0M346.9 665.3a1.55 1.55 0 1 0 3.1 0a1.55 1.55 0 1 0-3.1 0M502.6 665.6a1.55 1.55 0 1 0 3.1 0a1.55 1.55 0 1 0-3.1 0M499.7 666a1.55 1.55 0 1 0 3.1 0a1.55 1.55 0 1 0-3.1 0M425.4 665.5a1.55 1.55 0 1 0 3.1 0a1.55 1.55 0 1 0-3.1 0M470.9 665.8a1.55 1.55 0 1 0 3.1 0a1.55 1.55 0 1 0-3.1 0M511.6 665.9a1.55 1.55 0 1 0 3.1 0a1.55 1.55 0 1 0-3.1 0M314.2 665.4a1.55 1.55 0 1 0 3.1 0a1.55 1.55 0 1 0-3.1 0M304.8 665.2a1.55 1.55 0 1 0 3.1 0a1.55 1.55 0 1 0-3.1 0M415.5 665.7a1.55 1.55 0 1 0 3.1 0a1.55 1.55 0 1 0-3.1 0M366.8 666.2a1.55 1.55 0 1 0 3.1 0a1.55 1.55 0 1 0-3.1 0M451.7 665.4a1.55 1.55 0 1 0 3.1 0a1.55 1.55 0 1 0-3.1 0M435.4 665.5a1.55 1.55 0 1 0 3.1 0a1.55 1.55 0 1 0-3.1 0M314.1 665.2a1.55 1.55 0 1 0 3.1 0a1.55 1.55 0 1 0-3.1 0M416.7 665.6a1.55 1.55 0 1 0 3.1 0a1.55 1.55 0 1 0-3.1 0M498.2 665.1a1.55 1.55 0 1 0 3.1 0a1.55 1.55 0 1 0-3.1 0M428.1 665.4a1.55 1.55 0 1 0 3.1 0a1.55 1.55 0 1 0-3.1 0M476.1 665.1a1.55 1.55 0 1 0 3.1 0a1.55 1.55 0 1 0-3.1 0M408.4 665.1a1.55 1.55 0 1 0 3.1 0a1.55 1.55 0 1 0-3.1 0M385.7 665.6a1.55 1.55 0 1 0 3.1 0a1.55 1.55 0 1 0-3.1 0M509.9 665.7a1.55 1.55 0 1 0 3.1 0a1.55 1.55 0 1 0-3.1 0M369.5 665.4a1.55 1.55 0 1 0 3.1 0a1.55 1.55 0 1 0-3.1 0M314.8 665.3a1.55 1.55 0 1 0 3.1 0a1.55 1.55 0 1 0-3.1 0M323.7 665.4a1.55 1.55 0 1 0 3.1 0a1.55 1.55 0 1 0-3.1 0M479.8 665.4a1.55 1.55 0 1 0 3.1 0a1.55 1.55 0 1 0-3.1 0M411.2 665.2a1.55 1.55 0 1 0 3.1 0a1.55 1.55 0 1 0-3.1 0M355.9 665.6a1.55 1.55 0 1 0 3.1 0a1.55 1.55 0 1 0-3.1 0M360.4 665.5a1.55 1.55 0 1 0 3.1 0a1.55 1.55 0 1 0-3.1 0M330.6 665.9a1.55 1.55 0 1 0 3.1 0a1.55 1.55 0 1 0-3.1 0M384.6 665.3a1.55 1.55 0 1 0 3.1 0a1.55 1.55 0 1 0-3.1 0M399.9 665.1a1.55 1.55 0 1 0 3.1 0a1.55 1.55 0 1 0-3.1 0M376.7 665.4a1.55 1.55 0 1 0 3.1 0a1.55 1.55 0 1 0-3.1 0M492 665.2a1.55 1.55 0 1 0 3.1 0a1.55 1.55 0 1 0-3.1 0M328.4 665.6a1.55 1.55 0 1 0 3.1 0a1.55 1.55 0 1 0-3.1 0M414.3 665.2a1.55 1.55 0 1 0 3.1 0a1.55 1.55 0 1 0-3.1 0M429 665.6a1.55 1.55 0 1 0 3.1 0a1.55 1.55 0 1 0-3.1 0M338 665.2a1.55 1.55 0 1 0 3.1 0a1.55 1.55 0 1 0-3.1 0M424.2 665.1a1.55 1.55 0 1 0 3.1 0a1.55 1.55 0 1 0-3.1 0M338.3 665.2a1.55 1.55 0 1 0 3.1 0a1.55 1.55 0 1 0-3.1 0M434.7 665.4a1.55 1.55 0 1 0 3.1 0a1.55 1.55 0 1 0-3.1 0M504.1 665.5a1.55 1.55 0 1 0 3.1 0a1.55 1.55 0 1 0-3.1 0M374.3 665.6a1.55 1.55 0 1 0 3.1 0a1.55 1.55 0 1 0-3.1 0M357.1 665.2a1.55 1.55 0 1 0 3.1 0a1.55 1.55 0 1 0-3.1 0M362.3 665.5a1.55 1.55 0 1 0 3.1 0a1.55 1.55 0 1 0-3.1 0M368.8 665.5a1.55 1.55 0 1 0 3.1 0a1.55 1.55 0 1 0-3.1 0M443 665.7a1.55 1.55 0 1 0 3.1 0a1.55 1.55 0 1 0-3.1 0M492.1 665.5a1.55 1.55 0 1 0 3.1 0a1.55 1.55 0 1 0-3.1 0M431.1 666.1a1.55 1.55 0 1 0 3.1 0a1.55 1.55 0 1 0-3.1 0M320 665.5a1.55 1.55 0 1 0 3.1 0a1.55 1.55 0 1 0-3.1 0M360.2 665.7a1.55 1.55 0 1 0 3.1 0a1.55 1.55 0 1 0-3.1 0M351.4 665.9a1.55 1.55 0 1 0 3.1 0a1.55 1.55 0 1 0-3.1 0M474.9 665.5a1.55 1.55 0 1 0 3.1 0a1.55 1.55 0 1 0-3.1 0M436.9 665.5a1.55 1.55 0 1 0 3.1 0a1.55 1.55 0 1 0-3.1 0M510.3 665.3a1.55 1.55 0 1 0 3.1 0a1.55 1.55 0 1 0-3.1 0M407.4 665.9a1.55 1.55 0 1 0 3.1 0a1.55 1.55 0 1 0-3.1 0M399.5 665.4a1.55 1.55 0 1 0 3.1 0a1.55 1.55 0 1 0-3.1 0M456.1 665.7a1.55 1.55 0 1 0 3.1 0a1.55 1.55 0 1 0-3.1 0M437.5 666a1.55 1.55 0 1 0 3.1 0a1.55 1.55 0 1 0-3.1 0M445.6 665.2a1.55 1.55 0 1 0 3.1 0a1.55 1.55 0 1 0-3.1 0M334.1 665.8a1.55 1.55 0 1 0 3.1 0a1.55 1.55 0 1 0-3.1 0M325.7 665.6a1.55 1.55 0 1 0 3.1 0a1.55 1.55 0 1 0-3.1 0M310 665.1a1.55 1.55 0 1 0 3.1 0a1.55 1.55 0 1 0-3.1 0M392.2 665.1a1.55 1.55 0 1 0 3.1 0a1.55 1.55 0 1 0-3.1 0M396.7 665a1.55 1.55 0 1 0 3.1 0a1.55 1.55 0 1 0-3.1 0M458.7 665.2a1.55 1.55 0 1 0 3.1 0a1.55 1.55 0 1 0-3.1 0M500.1 665.3a1.55 1.55 0 1 0 3.1 0a1.55 1.55 0 1 0-3.1 0M510.3 665.4a1.55 1.55 0 1 0 3.1 0a1.55 1.55 0 1 0-3.1 0M496.8 665.8a1.55 1.55 0 1 0 3.1 0a1.55 1.55 0 1 0-3.1 0M464.2 665.9a1.55 1.55 0 1 0 3.1 0a1.55 1.55 0 1 0-3.1 0M431.9 665.6a1.55 1.55 0 1 0 3.1 0a1.55 1.55 0 1 0-3.1 0M320.5 665.6a1.55 1.55 0 1 0 3.1 0a1.55 1.55 0 1 0-3.1 0M445.8 665.9a1.55 1.55 0 1 0 3.1 0a1.55 1.55 0 1 0-3.1 0M495.7 665.2a1.55 1.55 0 1 0 3.1 0a1.55 1.55 0 1 0-3.1 0M448.7 665.5a1.55 1.55 0 1 0 3.1 0a1.55 1.55 0 1 0-3.1 0M485.5 665a1.55 1.55 0 1 0 3.1 0a1.55 1.55 0 1 0-3.1 0M437.9 665.6a1.55 1.55 0 1 0 3.1 0a1.55 1.55 0 1 0-3.1 0M379.8 665.7a1.55 1.55 0 1 0 3.1 0a1.55 1.55 0 1 0-3.1 0M347.7 665.6a1.55 1.55 0 1 0 3.1 0a1.55 1.55 0 1 0-3.1 0M490.2 665.5a1.55 1.55 0 1 0 3.1 0a1.55 1.55 0 1 0-3.1 0M438.6 665.2a1.55 1.55 0 1 0 3.1 0a1.55 1.55 0 1 0-3.1 0M314.3 665.2a1.55 1.55 0 1 0 3.1 0a1.55 1.55 0 1 0-3.1 0M321.9 665.3a1.55 1.55 0 1 0 3.1 0a1.55 1.55 0 1 0-3.1 0M440.8 665.3a1.55 1.55 0 1 0 3.1 0a1.55 1.55 0 1 0-3.1 0M302.6 665.6a1.55 1.55 0 1 0 3.1 0a1.55 1.55 0 1 0-3.1 0M333.3 665.7a1.55 1.55 0 1 0 3.1 0a1.55 1.55 0 1 0-3.1 0M395.1 666a1.55 1.55 0 1 0 3.1 0a1.55 1.55 0 1 0-3.1 0M351.2 665.8a1.55 1.55 0 1 0 3.1 0a1.55 1.55 0 1 0-3.1 0M407.8 665.6a1.55 1.55 0 1 0 3.1 0a1.55 1.55 0 1 0-3.1 0M331.2 665.6a1.55 1.55 0 1 0 3.1 0a1.55 1.55 0 1 0-3.1 0M375.1 665.7a1.55 1.55 0 1 0 3.1 0a1.55 1.55 0 1 0-3.1 0M314.8 665.4a1.55 1.55 0 1 0 3.1 0a1.55 1.55 0 1 0-3.1 0M386.7 665.7a1.55 1.55 0 1 0 3.1 0a1.55 1.55 0 1 0-3.1 0M305.6 665.5a1.55 1.55 0 1 0 3.1 0a1.55 1.55 0 1 0-3.1 0M433.1 665.6a1.55 1.55 0 1 0 3.1 0a1.55 1.55 0 1 0-3.1 0M316.2 665.8a1.55 1.55 0 1 0 3.1 0a1.55 1.55 0 1 0-3.1 0M320.4 665.3a1.55 1.55 0 1 0 3.1 0a1.55 1.55 0 1 0-3.1 0M392.1 665.6a1.55 1.55 0 1 0 3.1 0a1.55 1.55 0 1 0-3.1 0M357.5 665.4a1.55 1.55 0 1 0 3.1 0a1.55 1.55 0 1 0-3.1 0M538.7 665.4a1.55 1.55 0 1 0 3.1 0a1.55 1.55 0 1 0-3.1 0M594.4 665.9a1.55 1.55 0 1 0 3.1 0a1.55 1.55 0 1 0-3.1 0M544.6 665.5a1.55 1.55 0 1 0 3.1 0a1.55 1.55 0 1 0-3.1 0M557.7 665.7a1.55 1.55 0 1 0 3.1 0a1.55 1.55 0 1 0-3.1 0M626.1 665.7a1.55 1.55 0 1 0 3.1 0a1.55 1.55 0 1 0-3.1 0M560.8 665.3a1.55 1.55 0 1 0 3.1 0a1.55 1.55 0 1 0-3.1 0M618.2 665.5a1.55 1.55 0 1 0 3.1 0a1.55 1.55 0 1 0-3.1 0M594.3 665.9a1.55 1.55 0 1 0 3.1 0a1.55 1.55 0 1 0-3.1 0M573.8 665.5a1.55 1.55 0 1 0 3.1 0a1.55 1.55 0 1 0-3.1 0M599.1 665.3a1.55 1.55 0 1 0 3.1 0a1.55 1.55 0 1 0-3.1 0M647.8 665.4a1.55 1.55 0 1 0 3.1 0a1.55 1.55 0 1 0-3.1 0M558.3 665.2a1.55 1.55 0 1 0 3.1 0a1.55 1.55 0 1 0-3.1 0M528.7 665.7a1.55 1.55 0 1 0 3.1 0a1.55 1.55 0 1 0-3.1 0M576.7 665.7a1.55 1.55 0 1 0 3.1 0a1.55 1.55 0 1 0-3.1 0M552.6 665.6a1.55 1.55 0 1 0 3.1 0a1.55 1.55 0 1 0-3.1 0M547.4 665.7a1.55 1.55 0 1 0 3.1 0a1.55 1.55 0 1 0-3.1 0M660.2 664.9a1.55 1.55 0 1 0 3.1 0a1.55 1.55 0 1 0-3.1 0M623 665.4a1.55 1.55 0 1 0 3.1 0a1.55 1.55 0 1 0-3.1 0M659.8 665.4a1.55 1.55 0 1 0 3.1 0a1.55 1.55 0 1 0-3.1 0M644.8 665.1a1.55 1.55 0 1 0 3.1 0a1.55 1.55 0 1 0-3.1 0M587 665.3a1.55 1.55 0 1 0 3.1 0a1.55 1.55 0 1 0-3.1 0M535 665.6a1.55 1.55 0 1 0 3.1 0a1.55 1.55 0 1 0-3.1 0M639.6 665.5a1.55 1.55 0 1 0 3.1 0a1.55 1.55 0 1 0-3.1 0M534 665.4a1.55 1.55 0 1 0 3.1 0a1.55 1.55 0 1 0-3.1 0M662.3 665.4a1.55 1.55 0 1 0 3.1 0a1.55 1.55 0 1 0-3.1 0M623.8 665.7a1.55 1.55 0 1 0 3.1 0a1.55 1.55 0 1 0-3.1 0M558.9 665.8a1.55 1.55 0 1 0 3.1 0a1.55 1.55 0 1 0-3.1 0M536.4 665.4a1.55 1.55 0 1 0 3.1 0a1.55 1.55 0 1 0-3.1 0M546 665.1a1.55 1.55 0 1 0 3.1 0a1.55 1.55 0 1 0-3.1 0M550.2 665.4a1.55 1.55 0 1 0 3.1 0a1.55 1.55 0 1 0-3.1 0M553.8 665.4a1.55 1.55 0 1 0 3.1 0a1.55 1.55 0 1 0-3.1 0M661.8 665.9a1.55 1.55 0 1 0 3.1 0a1.55 1.55 0 1 0-3.1 0M597.2 665.6a1.55 1.55 0 1 0 3.1 0a1.55 1.55 0 1 0-3.1 0M566.4 665.7a1.55 1.55 0 1 0 3.1 0a1.55 1.55 0 1 0-3.1 0M540.2 665.8a1.55 1.55 0 1 0 3.1 0a1.55 1.55 0 1 0-3.1 0M556.3 665.6a1.55 1.55 0 1 0 3.1 0a1.55 1.55 0 1 0-3.1 0M655.9 665.8a1.55 1.55 0 1 0 3.1 0a1.55 1.55 0 1 0-3.1 0M610.8 665.8a1.55 1.55 0 1 0 3.1 0a1.55 1.55 0 1 0-3.1 0M620.8 666.1a1.55 1.55 0 1 0 3.1 0a1.55 1.55 0 1 0-3.1 0M622.1 665.4a1.55 1.55 0 1 0 3.1 0a1.55 1.55 0 1 0-3.1 0M592.8 665.5a1.55 1.55 0 1 0 3.1 0a1.55 1.55 0 1 0-3.1 0M548.3 665.8a1.55 1.55 0 1 0 3.1 0a1.55 1.55 0 1 0-3.1 0M597.1 666.1a1.55 1.55 0 1 0 3.1 0a1.55 1.55 0 1 0-3.1 0M585.6 665.5a1.55 1.55 0 1 0 3.1 0a1.55 1.55 0 1 0-3.1 0M550 665.6a1.55 1.55 0 1 0 3.1 0a1.55 1.55 0 1 0-3.1 0M547.3 665.5a1.55 1.55 0 1 0 3.1 0a1.55 1.55 0 1 0-3.1 0M538.9 665.4a1.55 1.55 0 1 0 3.1 0a1.55 1.55 0 1 0-3.1 0M715.3 665.7a1.55 1.55 0 1 0 3.1 0a1.55 1.55 0 1 0-3.1 0M691.8 665.6a1.55 1.55 0 1 0 3.1 0a1.55 1.55 0 1 0-3.1 0M193.4 673.2a1.55 1.55 0 1 0 3.1 0a1.55 1.55 0 1 0-3.1 0M148.8 673.1a1.55 1.55 0 1 0 3.1 0a1.55 1.55 0 1 0-3.1 0M177 672.9a1.55 1.55 0 1 0 3.1 0a1.55 1.55 0 1 0-3.1 0M256.9 673.1a1.55 1.55 0 1 0 3.1 0a1.55 1.55 0 1 0-3.1 0M262.2 672.5a1.55 1.55 0 1 0 3.1 0a1.55 1.55 0 1 0-3.1 0M230.7 672.7a1.55 1.55 0 1 0 3.1 0a1.55 1.55 0 1 0-3.1 0M262.5 673.3a1.55 1.55 0 1 0 3.1 0a1.55 1.55 0 1 0-3.1 0M294.3 673.3a1.55 1.55 0 1 0 3.1 0a1.55 1.55 0 1 0-3.1 0M198.9 673.5a1.55 1.55 0 1 0 3.1 0a1.55 1.55 0 1 0-3.1 0M136.5 673a1.55 1.55 0 1 0 3.1 0a1.55 1.55 0 1 0-3.1 0M137.1 673.1a1.55 1.55 0 1 0 3.1 0a1.55 1.55 0 1 0-3.1 0M249.2 672.5a1.55 1.55 0 1 0 3.1 0a1.55 1.55 0 1 0-3.1 0M252.8 672.7a1.55 1.55 0 1 0 3.1 0a1.55 1.55 0 1 0-3.1 0M199.8 673a1.55 1.55 0 1 0 3.1 0a1.55 1.55 0 1 0-3.1 0M196.3 672.9a1.55 1.55 0 1 0 3.1 0a1.55 1.55 0 1 0-3.1 0M270.5 673a1.55 1.55 0 1 0 3.1 0a1.55 1.55 0 1 0-3.1 0M273.9 672.5a1.55 1.55 0 1 0 3.1 0a1.55 1.55 0 1 0-3.1 0M233.7 673.2a1.55 1.55 0 1 0 3.1 0a1.55 1.55 0 1 0-3.1 0M298.9 672.8a1.55 1.55 0 1 0 3.1 0a1.55 1.55 0 1 0-3.1 0M252.8 673.3a1.55 1.55 0 1 0 3.1 0a1.55 1.55 0 1 0-3.1 0M277.5 672.9a1.55 1.55 0 1 0 3.1 0a1.55 1.55 0 1 0-3.1 0M168 672.5a1.55 1.55 0 1 0 3.1 0a1.55 1.55 0 1 0-3.1 0M139.1 673a1.55 1.55 0 1 0 3.1 0a1.55 1.55 0 1 0-3.1 0M257.9 673.2a1.55 1.55 0 1 0 3.1 0a1.55 1.55 0 1 0-3.1 0M281.3 673.2a1.55 1.55 0 1 0 3.1 0a1.55 1.55 0 1 0-3.1 0M204.1 673a1.55 1.55 0 1 0 3.1 0a1.55 1.55 0 1 0-3.1 0M260.5 673.1a1.55 1.55 0 1 0 3.1 0a1.55 1.55 0 1 0-3.1 0M173.8 673.3a1.55 1.55 0 1 0 3.1 0a1.55 1.55 0 1 0-3.1 0M355.2 672.8a1.55 1.55 0 1 0 3.1 0a1.55 1.55 0 1 0-3.1 0M486.4 673.1a1.55 1.55 0 1 0 3.1 0a1.55 1.55 0 1 0-3.1 0M369 673.2a1.55 1.55 0 1 0 3.1 0a1.55 1.55 0 1 0-3.1 0M417.3 673.1a1.55 1.55 0 1 0 3.1 0a1.55 1.55 0 1 0-3.1 0M325.5 673a1.55 1.55 0 1 0 3.1 0a1.55 1.55 0 1 0-3.1 0M450.3 673a1.55 1.55 0 1 0 3.1 0a1.55 1.55 0 1 0-3.1 0M381.7 673.2a1.55 1.55 0 1 0 3.1 0a1.55 1.55 0 1 0-3.1 0M310.7 673.1a1.55 1.55 0 1 0 3.1 0a1.55 1.55 0 1 0-3.1 0M419.2 673.2a1.55 1.55 0 1 0 3.1 0a1.55 1.55 0 1 0-3.1 0M343.7 672.9a1.55 1.55 0 1 0 3.1 0a1.55 1.55 0 1 0-3.1 0M304.8 672.8a1.55 1.55 0 1 0 3.1 0a1.55 1.55 0 1 0-3.1 0M473.2 673a1.55 1.55 0 1 0 3.1 0a1.55 1.55 0 1 0-3.1 0M399.4 672.6a1.55 1.55 0 1 0 3.1 0a1.55 1.55 0 1 0-3.1 0M460.9 673.3a1.55 1.55 0 1 0 3.1 0a1.55 1.55 0 1 0-3.1 0M310.9 673.1a1.55 1.55 0 1 0 3.1 0a1.55 1.55 0 1 0-3.1 0M333.7 672.9a1.55 1.55 0 1 0 3.1 0a1.55 1.55 0 1 0-3.1 0M430.8 673.1a1.55 1.55 0 1 0 3.1 0a1.55 1.55 0 1 0-3.1 0M437.1 673.2a1.55 1.55 0 1 0 3.1 0a1.55 1.55 0 1 0-3.1 0M362.3 673a1.55 1.55 0 1 0 3.1 0a1.55 1.55 0 1 0-3.1 0M309.5 672.7a1.55 1.55 0 1 0 3.1 0a1.55 1.55 0 1 0-3.1 0M420 673.5a1.55 1.55 0 1 0 3.1 0a1.55 1.55 0 1 0-3.1 0M442 672.9a1.55 1.55 0 1 0 3.1 0a1.55 1.55 0 1 0-3.1 0M470.8 673a1.55 1.55 0 1 0 3.1 0a1.55 1.55 0 1 0-3.1 0M505.1 673a1.55 1.55 0 1 0 3.1 0a1.55 1.55 0 1 0-3.1 0M321.8 672.8a1.55 1.55 0 1 0 3.1 0a1.55 1.55 0 1 0-3.1 0M305.2 673.4a1.55 1.55 0 1 0 3.1 0a1.55 1.55 0 1 0-3.1 0M495.2 673a1.55 1.55 0 1 0 3.1 0a1.55 1.55 0 1 0-3.1 0M475.6 672.6a1.55 1.55 0 1 0 3.1 0a1.55 1.55 0 1 0-3.1 0M450.2 672.9a1.55 1.55 0 1 0 3.1 0a1.55 1.55 0 1 0-3.1 0M356.3 673.7a1.55 1.55 0 1 0 3.1 0a1.55 1.55 0 1 0-3.1 0M423.7 672.6a1.55 1.55 0 1 0 3.1 0a1.55 1.55 0 1 0-3.1 0M309.3 673.1a1.55 1.55 0 1 0 3.1 0a1.55 1.55 0 1 0-3.1 0M417.4 672.6a1.55 1.55 0 1 0 3.1 0a1.55 1.55 0 1 0-3.1 0M386.4 672.9a1.55 1.55 0 1 0 3.1 0a1.55 1.55 0 1 0-3.1 0M393.1 673.2a1.55 1.55 0 1 0 3.1 0a1.55 1.55 0 1 0-3.1 0M395.5 672.9a1.55 1.55 0 1 0 3.1 0a1.55 1.55 0 1 0-3.1 0M439.1 673.3a1.55 1.55 0 1 0 3.1 0a1.55 1.55 0 1 0-3.1 0M357.1 673.2a1.55 1.55 0 1 0 3.1 0a1.55 1.55 0 1 0-3.1 0M348.8 673a1.55 1.55 0 1 0 3.1 0a1.55 1.55 0 1 0-3.1 0M479.1 673.5a1.55 1.55 0 1 0 3.1 0a1.55 1.55 0 1 0-3.1 0M456.4 673.3a1.55 1.55 0 1 0 3.1 0a1.55 1.55 0 1 0-3.1 0M309.7 673.1a1.55 1.55 0 1 0 3.1 0a1.55 1.55 0 1 0-3.1 0M508.1 672.9a1.55 1.55 0 1 0 3.1 0a1.55 1.55 0 1 0-3.1 0M399.9 673a1.55 1.55 0 1 0 3.1 0a1.55 1.55 0 1 0-3.1 0M391.9 672.7a1.55 1.55 0 1 0 3.1 0a1.55 1.55 0 1 0-3.1 0M490 673a1.55 1.55 0 1 0 3.1 0a1.55 1.55 0 1 0-3.1 0M436 672.9a1.55 1.55 0 1 0 3.1 0a1.55 1.55 0 1 0-3.1 0M346.4 672.6a1.55 1.55 0 1 0 3.1 0a1.55 1.55 0 1 0-3.1 0M305.7 673.1a1.55 1.55 0 1 0 3.1 0a1.55 1.55 0 1 0-3.1 0M348 673.1a1.55 1.55 0 1 0 3.1 0a1.55 1.55 0 1 0-3.1 0M381.8 673.5a1.55 1.55 0 1 0 3.1 0a1.55 1.55 0 1 0-3.1 0M400.4 672.9a1.55 1.55 0 1 0 3.1 0a1.55 1.55 0 1 0-3.1 0M485.2 673.6a1.55 1.55 0 1 0 3.1 0a1.55 1.55 0 1 0-3.1 0M444 673.1a1.55 1.55 0 1 0 3.1 0a1.55 1.55 0 1 0-3.1 0M487.6 672.9a1.55 1.55 0 1 0 3.1 0a1.55 1.55 0 1 0-3.1 0M330.9 673a1.55 1.55 0 1 0 3.1 0a1.55 1.55 0 1 0-3.1 0M437.1 673.3a1.55 1.55 0 1 0 3.1 0a1.55 1.55 0 1 0-3.1 0M341 673.2a1.55 1.55 0 1 0 3.1 0a1.55 1.55 0 1 0-3.1 0M368.1 673a1.55 1.55 0 1 0 3.1 0a1.55 1.55 0 1 0-3.1 0M351.8 672.9a1.55 1.55 0 1 0 3.1 0a1.55 1.55 0 1 0-3.1 0M425.9 673.1a1.55 1.55 0 1 0 3.1 0a1.55 1.55 0 1 0-3.1 0M361.3 672.7a1.55 1.55 0 1 0 3.1 0a1.55 1.55 0 1 0-3.1 0M491.7 672.7a1.55 1.55 0 1 0 3.1 0a1.55 1.55 0 1 0-3.1 0M425.3 672.7a1.55 1.55 0 1 0 3.1 0a1.55 1.55 0 1 0-3.1 0M445.7 673.2a1.55 1.55 0 1 0 3.1 0a1.55 1.55 0 1 0-3.1 0M487.9 673.3a1.55 1.55 0 1 0 3.1 0a1.55 1.55 0 1 0-3.1 0M479.5 672.8a1.55 1.55 0 1 0 3.1 0a1.55 1.55 0 1 0-3.1 0M305.2 673.2a1.55 1.55 0 1 0 3.1 0a1.55 1.55 0 1 0-3.1 0M422.9 672.8a1.55 1.55 0 1 0 3.1 0a1.55 1.55 0 1 0-3.1 0M447.6 673.5a1.55 1.55 0 1 0 3.1 0a1.55 1.55 0 1 0-3.1 0M400.5 673.4a1.55 1.55 0 1 0 3.1 0a1.55 1.55 0 1 0-3.1 0M324.7 673.1a1.55 1.55 0 1 0 3.1 0a1.55 1.55 0 1 0-3.1 0M383.3 672.6a1.55 1.55 0 1 0 3.1 0a1.55 1.55 0 1 0-3.1 0M336.6 673.3a1.55 1.55 0 1 0 3.1 0a1.55 1.55 0 1 0-3.1 0M317.9 673.2a1.55 1.55 0 1 0 3.1 0a1.55 1.55 0 1 0-3.1 0M428.5 673.2a1.55 1.55 0 1 0 3.1 0a1.55 1.55 0 1 0-3.1 0M459.4 673a1.55 1.55 0 1 0 3.1 0a1.55 1.55 0 1 0-3.1 0M389.7 672.8a1.55 1.55 0 1 0 3.1 0a1.55 1.55 0 1 0-3.1 0M433.8 673.1a1.55 1.55 0 1 0 3.1 0a1.55 1.55 0 1 0-3.1 0M419.8 672.7a1.55 1.55 0 1 0 3.1 0a1.55 1.55 0 1 0-3.1 0M506.2 673.2a1.55 1.55 0 1 0 3.1 0a1.55 1.55 0 1 0-3.1 0M483.4 673.2a1.55 1.55 0 1 0 3.1 0a1.55 1.55 0 1 0-3.1 0M454.8 673.4a1.55 1.55 0 1 0 3.1 0a1.55 1.55 0 1 0-3.1 0M313.8 673.2a1.55 1.55 0 1 0 3.1 0a1.55 1.55 0 1 0-3.1 0M412.5 673a1.55 1.55 0 1 0 3.1 0a1.55 1.55 0 1 0-3.1 0M370 673a1.55 1.55 0 1 0 3.1 0a1.55 1.55 0 1 0-3.1 0M343.1 672.8a1.55 1.55 0 1 0 3.1 0a1.55 1.55 0 1 0-3.1 0M316 673.1a1.55 1.55 0 1 0 3.1 0a1.55 1.55 0 1 0-3.1 0M351.5 673a1.55 1.55 0 1 0 3.1 0a1.55 1.55 0 1 0-3.1 0M307.8 672.9a1.55 1.55 0 1 0 3.1 0a1.55 1.55 0 1 0-3.1 0M323.7 672.8a1.55 1.55 0 1 0 3.1 0a1.55 1.55 0 1 0-3.1 0M341.8 673a1.55 1.55 0 1 0 3.1 0a1.55 1.55 0 1 0-3.1 0M503.9 673a1.55 1.55 0 1 0 3.1 0a1.55 1.55 0 1 0-3.1 0M436.3 673.3a1.55 1.55 0 1 0 3.1 0a1.55 1.55 0 1 0-3.1 0M500.6 673.3a1.55 1.55 0 1 0 3.1 0a1.55 1.55 0 1 0-3.1 0M488.8 672.9a1.55 1.55 0 1 0 3.1 0a1.55 1.55 0 1 0-3.1 0M501 673.2a1.55 1.55 0 1 0 3.1 0a1.55 1.55 0 1 0-3.1 0M425.1 672.8a1.55 1.55 0 1 0 3.1 0a1.55 1.55 0 1 0-3.1 0M315.3 672.9a1.55 1.55 0 1 0 3.1 0a1.55 1.55 0 1 0-3.1 0M394.6 672.4a1.55 1.55 0 1 0 3.1 0a1.55 1.55 0 1 0-3.1 0M464.6 673.5a1.55 1.55 0 1 0 3.1 0a1.55 1.55 0 1 0-3.1 0M459 673a1.55 1.55 0 1 0 3.1 0a1.55 1.55 0 1 0-3.1 0M381 673.3a1.55 1.55 0 1 0 3.1 0a1.55 1.55 0 1 0-3.1 0M331.7 673a1.55 1.55 0 1 0 3.1 0a1.55 1.55 0 1 0-3.1 0M389.4 673.2a1.55 1.55 0 1 0 3.1 0a1.55 1.55 0 1 0-3.1 0M394.9 673.4a1.55 1.55 0 1 0 3.1 0a1.55 1.55 0 1 0-3.1 0M496.1 673a1.55 1.55 0 1 0 3.1 0a1.55 1.55 0 1 0-3.1 0M309.8 672.8a1.55 1.55 0 1 0 3.1 0a1.55 1.55 0 1 0-3.1 0M476.2 673.1a1.55 1.55 0 1 0 3.1 0a1.55 1.55 0 1 0-3.1 0M458.1 672.7a1.55 1.55 0 1 0 3.1 0a1.55 1.55 0 1 0-3.1 0M313.9 673.3a1.55 1.55 0 1 0 3.1 0a1.55 1.55 0 1 0-3.1 0M406.8 672.6a1.55 1.55 0 1 0 3.1 0a1.55 1.55 0 1 0-3.1 0M337.2 672.4a1.55 1.55 0 1 0 3.1 0a1.55 1.55 0 1 0-3.1 0M314.2 673.5a1.55 1.55 0 1 0 3.1 0a1.55 1.55 0 1 0-3.1 0M336.5 672.7a1.55 1.55 0 1 0 3.1 0a1.55 1.55 0 1 0-3.1 0M492.5 673a1.55 1.55 0 1 0 3.1 0a1.55 1.55 0 1 0-3.1 0M388.4 673a1.55 1.55 0 1 0 3.1 0a1.55 1.55 0 1 0-3.1 0M465.5 673.3a1.55 1.55 0 1 0 3.1 0a1.55 1.55 0 1 0-3.1 0M410.2 673a1.55 1.55 0 1 0 3.1 0a1.55 1.55 0 1 0-3.1 0M384.5 673a1.55 1.55 0 1 0 3.1 0a1.55 1.55 0 1 0-3.1 0M507.9 673.2a1.55 1.55 0 1 0 3.1 0a1.55 1.55 0 1 0-3.1 0M443.8 673.3a1.55 1.55 0 1 0 3.1 0a1.55 1.55 0 1 0-3.1 0M491.8 672.9a1.55 1.55 0 1 0 3.1 0a1.55 1.55 0 1 0-3.1 0M466.8 672.8a1.55 1.55 0 1 0 3.1 0a1.55 1.55 0 1 0-3.1 0M355.5 673a1.55 1.55 0 1 0 3.1 0a1.55 1.55 0 1 0-3.1 0M351.3 673.5a1.55 1.55 0 1 0 3.1 0a1.55 1.55 0 1 0-3.1 0M617.5 672.7a1.55 1.55 0 1 0 3.1 0a1.55 1.55 0 1 0-3.1 0M529.9 673.3a1.55 1.55 0 1 0 3.1 0a1.55 1.55 0 1 0-3.1 0M635 672.8a1.55 1.55 0 1 0 3.1 0a1.55 1.55 0 1 0-3.1 0M548.5 672.8a1.55 1.55 0 1 0 3.1 0a1.55 1.55 0 1 0-3.1 0M634.5 672.7a1.55 1.55 0 1 0 3.1 0a1.55 1.55 0 1 0-3.1 0M513.5 672.7a1.55 1.55 0 1 0 3.1 0a1.55 1.55 0 1 0-3.1 0M590.6 673.2a1.55 1.55 0 1 0 3.1 0a1.55 1.55 0 1 0-3.1 0M613.7 672.9a1.55 1.55 0 1 0 3.1 0a1.55 1.55 0 1 0-3.1 0M577 672.9a1.55 1.55 0 1 0 3.1 0a1.55 1.55 0 1 0-3.1 0M638.5 672.9a1.55 1.55 0 1 0 3.1 0a1.55 1.55 0 1 0-3.1 0M593.7 673.2a1.55 1.55 0 1 0 3.1 0a1.55 1.55 0 1 0-3.1 0M551 673.1a1.55 1.55 0 1 0 3.1 0a1.55 1.55 0 1 0-3.1 0M569.2 673.1a1.55 1.55 0 1 0 3.1 0a1.55 1.55 0 1 0-3.1 0M638.8 673.3a1.55 1.55 0 1 0 3.1 0a1.55 1.55 0 1 0-3.1 0M528.8 673.1a1.55 1.55 0 1 0 3.1 0a1.55 1.55 0 1 0-3.1 0M602.6 673a1.55 1.55 0 1 0 3.1 0a1.55 1.55 0 1 0-3.1 0M531.8 673.2a1.55 1.55 0 1 0 3.1 0a1.55 1.55 0 1 0-3.1 0M555.3 672.6a1.55 1.55 0 1 0 3.1 0a1.55 1.55 0 1 0-3.1 0M605.7 673.6a1.55 1.55 0 1 0 3.1 0a1.55 1.55 0 1 0-3.1 0M576.6 672.7a1.55 1.55 0 1 0 3.1 0a1.55 1.55 0 1 0-3.1 0M630.7 673.1a1.55 1.55 0 1 0 3.1 0a1.55 1.55 0 1 0-3.1 0M520.5 673.1a1.55 1.55 0 1 0 3.1 0a1.55 1.55 0 1 0-3.1 0M585.6 673.4a1.55 1.55 0 1 0 3.1 0a1.55 1.55 0 1 0-3.1 0M515.9 673.1a1.55 1.55 0 1 0 3.1 0a1.55 1.55 0 1 0-3.1 0M544.7 672.6a1.55 1.55 0 1 0 3.1 0a1.55 1.55 0 1 0-3.1 0M582.6 673.2a1.55 1.55 0 1 0 3.1 0a1.55 1.55 0 1 0-3.1 0M616.3 672.8a1.55 1.55 0 1 0 3.1 0a1.55 1.55 0 1 0-3.1 0M594.3 673.1a1.55 1.55 0 1 0 3.1 0a1.55 1.55 0 1 0-3.1 0M513 672.8a1.55 1.55 0 1 0 3.1 0a1.55 1.55 0 1 0-3.1 0M574.6 672.8a1.55 1.55 0 1 0 3.1 0a1.55 1.55 0 1 0-3.1 0M625.2 673a1.55 1.55 0 1 0 3.1 0a1.55 1.55 0 1 0-3.1 0M637.1 673.1a1.55 1.55 0 1 0 3.1 0a1.55 1.55 0 1 0-3.1 0M626.4 673a1.55 1.55 0 1 0 3.1 0a1.55 1.55 0 1 0-3.1 0M547.4 673a1.55 1.55 0 1 0 3.1 0a1.55 1.55 0 1 0-3.1 0M538.2 673a1.55 1.55 0 1 0 3.1 0a1.55 1.55 0 1 0-3.1 0M604.3 673.1a1.55 1.55 0 1 0 3.1 0a1.55 1.55 0 1 0-3.1 0M537.5 673.2a1.55 1.55 0 1 0 3.1 0a1.55 1.55 0 1 0-3.1 0M558 672.9a1.55 1.55 0 1 0 3.1 0a1.55 1.55 0 1 0-3.1 0M637.9 673.3a1.55 1.55 0 1 0 3.1 0a1.55 1.55 0 1 0-3.1 0M565.1 673.3a1.55 1.55 0 1 0 3.1 0a1.55 1.55 0 1 0-3.1 0M603.3 672.6a1.55 1.55 0 1 0 3.1 0a1.55 1.55 0 1 0-3.1 0M607.8 672.7a1.55 1.55 0 1 0 3.1 0a1.55 1.55 0 1 0-3.1 0M599.8 673.2a1.55 1.55 0 1 0 3.1 0a1.55 1.55 0 1 0-3.1 0M604.8 673a1.55 1.55 0 1 0 3.1 0a1.55 1.55 0 1 0-3.1 0M552.7 673.1a1.55 1.55 0 1 0 3.1 0a1.55 1.55 0 1 0-3.1 0M665.8 673.1a1.55 1.55 0 1 0 3.1 0a1.55 1.55 0 1 0-3.1 0M698.5 672.9a1.55 1.55 0 1 0 3.1 0a1.55 1.55 0 1 0-3.1 0M710.3 673.1a1.55 1.55 0 1 0 3.1 0a1.55 1.55 0 1 0-3.1 0M272.3 679.7a1.55 1.55 0 1 0 3.1 0a1.55 1.55 0 1 0-3.1 0M248.6 680.1a1.55 1.55 0 1 0 3.1 0a1.55 1.55 0 1 0-3.1 0M299.8 680.1a1.55 1.55 0 1 0 3.1 0a1.55 1.55 0 1 0-3.1 0M251.6 679.6a1.55 1.55 0 1 0 3.1 0a1.55 1.55 0 1 0-3.1 0M173.1 679.8a1.55 1.55 0 1 0 3.1 0a1.55 1.55 0 1 0-3.1 0M288.1 680.2a1.55 1.55 0 1 0 3.1 0a1.55 1.55 0 1 0-3.1 0M265.5 680.1a1.55 1.55 0 1 0 3.1 0a1.55 1.55 0 1 0-3.1 0M260.5 680.3a1.55 1.55 0 1 0 3.1 0a1.55 1.55 0 1 0-3.1 0M155.4 680a1.55 1.55 0 1 0 3.1 0a1.55 1.55 0 1 0-3.1 0M219.9 680.3a1.55 1.55 0 1 0 3.1 0a1.55 1.55 0 1 0-3.1 0M220.7 679.8a1.55 1.55 0 1 0 3.1 0a1.55 1.55 0 1 0-3.1 0M291.1 679.9a1.55 1.55 0 1 0 3.1 0a1.55 1.55 0 1 0-3.1 0M200.8 680.2a1.55 1.55 0 1 0 3.1 0a1.55 1.55 0 1 0-3.1 0M165.9 680.1a1.55 1.55 0 1 0 3.1 0a1.55 1.55 0 1 0-3.1 0M149.2 680.1a1.55 1.55 0 1 0 3.1 0a1.55 1.55 0 1 0-3.1 0M235.3 680a1.55 1.55 0 1 0 3.1 0a1.55 1.55 0 1 0-3.1 0M269.8 680.4a1.55 1.55 0 1 0 3.1 0a1.55 1.55 0 1 0-3.1 0M210.1 680.4a1.55 1.55 0 1 0 3.1 0a1.55 1.55 0 1 0-3.1 0M268.4 680.6a1.55 1.55 0 1 0 3.1 0a1.55 1.55 0 1 0-3.1 0M252.4 680.1a1.55 1.55 0 1 0 3.1 0a1.55 1.55 0 1 0-3.1 0M452.9 680.5a1.55 1.55 0 1 0 3.1 0a1.55 1.55 0 1 0-3.1 0M413.5 680.4a1.55 1.55 0 1 0 3.1 0a1.55 1.55 0 1 0-3.1 0M354.8 680a1.55 1.55 0 1 0 3.1 0a1.55 1.55 0 1 0-3.1 0M474.6 680.3a1.55 1.55 0 1 0 3.1 0a1.55 1.55 0 1 0-3.1 0M496.4 680.4a1.55 1.55 0 1 0 3.1 0a1.55 1.55 0 1 0-3.1 0M357 680.1a1.55 1.55 0 1 0 3.1 0a1.55 1.55 0 1 0-3.1 0M443.1 680.1a1.55 1.55 0 1 0 3.1 0a1.55 1.55 0 1 0-3.1 0M432.6 680.4a1.55 1.55 0 1 0 3.1 0a1.55 1.55 0 1 0-3.1 0M496 680.2a1.55 1.55 0 1 0 3.1 0a1.55 1.55 0 1 0-3.1 0M308.2 680.3a1.55 1.55 0 1 0 3.1 0a1.55 1.55 0 1 0-3.1 0M337.2 680.5a1.55 1.55 0 1 0 3.1 0a1.55 1.55 0 1 0-3.1 0M433 680.1a1.55 1.55 0 1 0 3.1 0a1.55 1.55 0 1 0-3.1 0M320.9 680.2a1.55 1.55 0 1 0 3.1 0a1.55 1.55 0 1 0-3.1 0M369.4 680.7a1.55 1.55 0 1 0 3.1 0a1.55 1.55 0 1 0-3.1 0M392.8 680.2a1.55 1.55 0 1 0 3.1 0a1.55 1.55 0 1 0-3.1 0M355.5 680.1a1.55 1.55 0 1 0 3.1 0a1.55 1.55 0 1 0-3.1 0M405.8 680.3a1.55 1.55 0 1 0 3.1 0a1.55 1.55 0 1 0-3.1 0M420.8 680.3a1.55 1.55 0 1 0 3.1 0a1.55 1.55 0 1 0-3.1 0M350.2 680.3a1.55 1.55 0 1 0 3.1 0a1.55 1.55 0 1 0-3.1 0M473.9 680.3a1.55 1.55 0 1 0 3.1 0a1.55 1.55 0 1 0-3.1 0M497 679.9a1.55 1.55 0 1 0 3.1 0a1.55 1.55 0 1 0-3.1 0M460.4 680.1a1.55 1.55 0 1 0 3.1 0a1.55 1.55 0 1 0-3.1 0M387.1 680a1.55 1.55 0 1 0 3.1 0a1.55 1.55 0 1 0-3.1 0M332.2 680.2a1.55 1.55 0 1 0 3.1 0a1.55 1.55 0 1 0-3.1 0M427.3 680.7a1.55 1.55 0 1 0 3.1 0a1.55 1.55 0 1 0-3.1 0M372 680.7a1.55 1.55 0 1 0 3.1 0a1.55 1.55 0 1 0-3.1 0M365.1 680.1a1.55 1.55 0 1 0 3.1 0a1.55 1.55 0 1 0-3.1 0M477.1 680.3a1.55 1.55 0 1 0 3.1 0a1.55 1.55 0 1 0-3.1 0M408.7 680.1a1.55 1.55 0 1 0 3.1 0a1.55 1.55 0 1 0-3.1 0M388.3 679.8a1.55 1.55 0 1 0 3.1 0a1.55 1.55 0 1 0-3.1 0M335.7 680a1.55 1.55 0 1 0 3.1 0a1.55 1.55 0 1 0-3.1 0M324 680.4a1.55 1.55 0 1 0 3.1 0a1.55 1.55 0 1 0-3.1 0M417.2 680a1.55 1.55 0 1 0 3.1 0a1.55 1.55 0 1 0-3.1 0M331 680.2a1.55 1.55 0 1 0 3.1 0a1.55 1.55 0 1 0-3.1 0M456.8 680.1a1.55 1.55 0 1 0 3.1 0a1.55 1.55 0 1 0-3.1 0M419.1 680.3a1.55 1.55 0 1 0 3.1 0a1.55 1.55 0 1 0-3.1 0M311 679.9a1.55 1.55 0 1 0 3.1 0a1.55 1.55 0 1 0-3.1 0M469.7 680.2a1.55 1.55 0 1 0 3.1 0a1.55 1.55 0 1 0-3.1 0M315.3 680.2a1.55 1.55 0 1 0 3.1 0a1.55 1.55 0 1 0-3.1 0M400.6 680.5a1.55 1.55 0 1 0 3.1 0a1.55 1.55 0 1 0-3.1 0M386 680.6a1.55 1.55 0 1 0 3.1 0a1.55 1.55 0 1 0-3.1 0M494.8 680.2a1.55 1.55 0 1 0 3.1 0a1.55 1.55 0 1 0-3.1 0M312.1 679.9a1.55 1.55 0 1 0 3.1 0a1.55 1.55 0 1 0-3.1 0M425.9 679.8a1.55 1.55 0 1 0 3.1 0a1.55 1.55 0 1 0-3.1 0M450.3 679.9a1.55 1.55 0 1 0 3.1 0a1.55 1.55 0 1 0-3.1 0M358.3 680.5a1.55 1.55 0 1 0 3.1 0a1.55 1.55 0 1 0-3.1 0M349.3 680.5a1.55 1.55 0 1 0 3.1 0a1.55 1.55 0 1 0-3.1 0M498.2 680.1a1.55 1.55 0 1 0 3.1 0a1.55 1.55 0 1 0-3.1 0M483.2 679.9a1.55 1.55 0 1 0 3.1 0a1.55 1.55 0 1 0-3.1 0M357.1 680.1a1.55 1.55 0 1 0 3.1 0a1.55 1.55 0 1 0-3.1 0M414.7 679.9a1.55 1.55 0 1 0 3.1 0a1.55 1.55 0 1 0-3.1 0M343.1 680.3a1.55 1.55 0 1 0 3.1 0a1.55 1.55 0 1 0-3.1 0M417.7 680.3a1.55 1.55 0 1 0 3.1 0a1.55 1.55 0 1 0-3.1 0M390.9 680.3a1.55 1.55 0 1 0 3.1 0a1.55 1.55 0 1 0-3.1 0M337.9 680.2a1.55 1.55 0 1 0 3.1 0a1.55 1.55 0 1 0-3.1 0M335.1 680.1a1.55 1.55 0 1 0 3.1 0a1.55 1.55 0 1 0-3.1 0M329.3 679.5a1.55 1.55 0 1 0 3.1 0a1.55 1.55 0 1 0-3.1 0M385.2 680.1a1.55 1.55 0 1 0 3.1 0a1.55 1.55 0 1 0-3.1 0M379.3 680.4a1.55 1.55 0 1 0 3.1 0a1.55 1.55 0 1 0-3.1 0M311.5 680.2a1.55 1.55 0 1 0 3.1 0a1.55 1.55 0 1 0-3.1 0M323.2 679.8a1.55 1.55 0 1 0 3.1 0a1.55 1.55 0 1 0-3.1 0M451.4 680.3a1.55 1.55 0 1 0 3.1 0a1.55 1.55 0 1 0-3.1 0M469.7 680.7a1.55 1.55 0 1 0 3.1 0a1.55 1.55 0 1 0-3.1 0M481.8 680.4a1.55 1.55 0 1 0 3.1 0a1.55 1.55 0 1 0-3.1 0M332 680a1.55 1.55 0 1 0 3.1 0a1.55 1.55 0 1 0-3.1 0M409.1 680.2a1.55 1.55 0 1 0 3.1 0a1.55 1.55 0 1 0-3.1 0M510.5 680a1.55 1.55 0 1 0 3.1 0a1.55 1.55 0 1 0-3.1 0M328.6 680a1.55 1.55 0 1 0 3.1 0a1.55 1.55 0 1 0-3.1 0M431.6 680.2a1.55 1.55 0 1 0 3.1 0a1.55 1.55 0 1 0-3.1 0M480.2 680.2a1.55 1.55 0 1 0 3.1 0a1.55 1.55 0 1 0-3.1 0M499.6 679.8a1.55 1.55 0 1 0 3.1 0a1.55 1.55 0 1 0-3.1 0M417.2 680a1.55 1.55 0 1 0 3.1 0a1.55 1.55 0 1 0-3.1 0M367.3 679.9a1.55 1.55 0 1 0 3.1 0a1.55 1.55 0 1 0-3.1 0M306.2 680.1a1.55 1.55 0 1 0 3.1 0a1.55 1.55 0 1 0-3.1 0M318.9 680.1a1.55 1.55 0 1 0 3.1 0a1.55 1.55 0 1 0-3.1 0M383.5 680.3a1.55 1.55 0 1 0 3.1 0a1.55 1.55 0 1 0-3.1 0M484.9 680.7a1.55 1.55 0 1 0 3.1 0a1.55 1.55 0 1 0-3.1 0M454 679.9a1.55 1.55 0 1 0 3.1 0a1.55 1.55 0 1 0-3.1 0M367.6 680.1a1.55 1.55 0 1 0 3.1 0a1.55 1.55 0 1 0-3.1 0M307.5 680.1a1.55 1.55 0 1 0 3.1 0a1.55 1.55 0 1 0-3.1 0M482.5 680.7a1.55 1.55 0 1 0 3.1 0a1.55 1.55 0 1 0-3.1 0M332.1 680.1a1.55 1.55 0 1 0 3.1 0a1.55 1.55 0 1 0-3.1 0M429.7 680.2a1.55 1.55 0 1 0 3.1 0a1.55 1.55 0 1 0-3.1 0M367 680.5a1.55 1.55 0 1 0 3.1 0a1.55 1.55 0 1 0-3.1 0M511.7 679.8a1.55 1.55 0 1 0 3.1 0a1.55 1.55 0 1 0-3.1 0M370.9 680.2a1.55 1.55 0 1 0 3.1 0a1.55 1.55 0 1 0-3.1 0M436 680.2a1.55 1.55 0 1 0 3.1 0a1.55 1.55 0 1 0-3.1 0M324.3 680.4a1.55 1.55 0 1 0 3.1 0a1.55 1.55 0 1 0-3.1 0M338.4 680.4a1.55 1.55 0 1 0 3.1 0a1.55 1.55 0 1 0-3.1 0M456.3 680.3a1.55 1.55 0 1 0 3.1 0a1.55 1.55 0 1 0-3.1 0M339.4 680a1.55 1.55 0 1 0 3.1 0a1.55 1.55 0 1 0-3.1 0M493.3 679.8a1.55 1.55 0 1 0 3.1 0a1.55 1.55 0 1 0-3.1 0M335.7 680.2a1.55 1.55 0 1 0 3.1 0a1.55 1.55 0 1 0-3.1 0M404 680.9a1.55 1.55 0 1 0 3.1 0a1.55 1.55 0 1 0-3.1 0M439 680.6a1.55 1.55 0 1 0 3.1 0a1.55 1.55 0 1 0-3.1 0M316.4 679.9a1.55 1.55 0 1 0 3.1 0a1.55 1.55 0 1 0-3.1 0M319.4 680.3a1.55 1.55 0 1 0 3.1 0a1.55 1.55 0 1 0-3.1 0M386.8 680.1a1.55 1.55 0 1 0 3.1 0a1.55 1.55 0 1 0-3.1 0M451.3 680.5a1.55 1.55 0 1 0 3.1 0a1.55 1.55 0 1 0-3.1 0M309.5 679.9a1.55 1.55 0 1 0 3.1 0a1.55 1.55 0 1 0-3.1 0M305.1 680.3a1.55 1.55 0 1 0 3.1 0a1.55 1.55 0 1 0-3.1 0M506.7 680.4a1.55 1.55 0 1 0 3.1 0a1.55 1.55 0 1 0-3.1 0M373.1 680.2a1.55 1.55 0 1 0 3.1 0a1.55 1.55 0 1 0-3.1 0M476.9 680.1a1.55 1.55 0 1 0 3.1 0a1.55 1.55 0 1 0-3.1 0M391.3 679.9a1.55 1.55 0 1 0 3.1 0a1.55 1.55 0 1 0-3.1 0M393.8 679.7a1.55 1.55 0 1 0 3.1 0a1.55 1.55 0 1 0-3.1 0M378.1 680.1a1.55 1.55 0 1 0 3.1 0a1.55 1.55 0 1 0-3.1 0M499.1 680.3a1.55 1.55 0 1 0 3.1 0a1.55 1.55 0 1 0-3.1 0M348.8 680a1.55 1.55 0 1 0 3.1 0a1.55 1.55 0 1 0-3.1 0M312 680.1a1.55 1.55 0 1 0 3.1 0a1.55 1.55 0 1 0-3.1 0M303.6 680.3a1.55 1.55 0 1 0 3.1 0a1.55 1.55 0 1 0-3.1 0M480.2 680.7a1.55 1.55 0 1 0 3.1 0a1.55 1.55 0 1 0-3.1 0M308.6 680.4a1.55 1.55 0 1 0 3.1 0a1.55 1.55 0 1 0-3.1 0M379.3 680.3a1.55 1.55 0 1 0 3.1 0a1.55 1.55 0 1 0-3.1 0M314.7 679.9a1.55 1.55 0 1 0 3.1 0a1.55 1.55 0 1 0-3.1 0M534.4 680.1a1.55 1.55 0 1 0 3.1 0a1.55 1.55 0 1 0-3.1 0M553.8 679.9a1.55 1.55 0 1 0 3.1 0a1.55 1.55 0 1 0-3.1 0M533.1 679.5a1.55 1.55 0 1 0 3.1 0a1.55 1.55 0 1 0-3.1 0M535 680.1a1.55 1.55 0 1 0 3.1 0a1.55 1.55 0 1 0-3.1 0M529.7 680.2a1.55 1.55 0 1 0 3.1 0a1.55 1.55 0 1 0-3.1 0M542 680.4a1.55 1.55 0 1 0 3.1 0a1.55 1.55 0 1 0-3.1 0M569.9 680.5a1.55 1.55 0 1 0 3.1 0a1.55 1.55 0 1 0-3.1 0M557.2 680.2a1.55 1.55 0 1 0 3.1 0a1.55 1.55 0 1 0-3.1 0M590.6 680.1a1.55 1.55 0 1 0 3.1 0a1.55 1.55 0 1 0-3.1 0M521 680a1.55 1.55 0 1 0 3.1 0a1.55 1.55 0 1 0-3.1 0M580.8 680.2a1.55 1.55 0 1 0 3.1 0a1.55 1.55 0 1 0-3.1 0M558.7 680.2a1.55 1.55 0 1 0 3.1 0a1.55 1.55 0 1 0-3.1 0M517.5 680.3a1.55 1.55 0 1 0 3.1 0a1.55 1.55 0 1 0-3.1 0M514 680.3a1.55 1.55 0 1 0 3.1 0a1.55 1.55 0 1 0-3.1 0M526.5 680.1a1.55 1.55 0 1 0 3.1 0a1.55 1.55 0 1 0-3.1 0M513.4 680.3a1.55 1.55 0 1 0 3.1 0a1.55 1.55 0 1 0-3.1 0M512.7 680.1a1.55 1.55 0 1 0 3.1 0a1.55 1.55 0 1 0-3.1 0M537.1 680.2a1.55 1.55 0 1 0 3.1 0a1.55 1.55 0 1 0-3.1 0M530.7 680.2a1.55 1.55 0 1 0 3.1 0a1.55 1.55 0 1 0-3.1 0M513.2 680.1a1.55 1.55 0 1 0 3.1 0a1.55 1.55 0 1 0-3.1 0M542.4 680.3a1.55 1.55 0 1 0 3.1 0a1.55 1.55 0 1 0-3.1 0M529.1 680.4a1.55 1.55 0 1 0 3.1 0a1.55 1.55 0 1 0-3.1 0M525.6 680.4a1.55 1.55 0 1 0 3.1 0a1.55 1.55 0 1 0-3.1 0M539.2 680a1.55 1.55 0 1 0 3.1 0a1.55 1.55 0 1 0-3.1 0M571.8 680.8a1.55 1.55 0 1 0 3.1 0a1.55 1.55 0 1 0-3.1 0M684.8 679.9a1.55 1.55 0 1 0 3.1 0a1.55 1.55 0 1 0-3.1 0M683.2 680.9a1.55 1.55 0 1 0 3.1 0a1.55 1.55 0 1 0-3.1 0M600.5 680.1a1.55 1.55 0 1 0 3.1 0a1.55 1.55 0 1 0-3.1 0M704.4 680.2a1.55 1.55 0 1 0 3.1 0a1.55 1.55 0 1 0-3.1 0M141.5 688.2a1.55 1.55 0 1 0 3.1 0a1.55 1.55 0 1 0-3.1 0M186.1 688.7a1.55 1.55 0 1 0 3.1 0a1.55 1.55 0 1 0-3.1 0M173.1 689.1a1.55 1.55 0 1 0 3.1 0a1.55 1.55 0 1 0-3.1 0M189.6 688.8a1.55 1.55 0 1 0 3.1 0a1.55 1.55 0 1 0-3.1 0M296.6 689.1a1.55 1.55 0 1 0 3.1 0a1.55 1.55 0 1 0-3.1 0M142 688.9a1.55 1.55 0 1 0 3.1 0a1.55 1.55 0 1 0-3.1 0M163.7 688.6a1.55 1.55 0 1 0 3.1 0a1.55 1.55 0 1 0-3.1 0M197 688.8a1.55 1.55 0 1 0 3.1 0a1.55 1.55 0 1 0-3.1 0M191.4 688.9a1.55 1.55 0 1 0 3.1 0a1.55 1.55 0 1 0-3.1 0M212.4 688.7a1.55 1.55 0 1 0 3.1 0a1.55 1.55 0 1 0-3.1 0M174.4 688.4a1.55 1.55 0 1 0 3.1 0a1.55 1.55 0 1 0-3.1 0M180.8 688.8a1.55 1.55 0 1 0 3.1 0a1.55 1.55 0 1 0-3.1 0M237.2 688.5a1.55 1.55 0 1 0 3.1 0a1.55 1.55 0 1 0-3.1 0M486.7 688.6a1.55 1.55 0 1 0 3.1 0a1.55 1.55 0 1 0-3.1 0M440.1 688.6a1.55 1.55 0 1 0 3.1 0a1.55 1.55 0 1 0-3.1 0M324.1 688.5a1.55 1.55 0 1 0 3.1 0a1.55 1.55 0 1 0-3.1 0M413.5 688.6a1.55 1.55 0 1 0 3.1 0a1.55 1.55 0 1 0-3.1 0M325.6 688.4a1.55 1.55 0 1 0 3.1 0a1.55 1.55 0 1 0-3.1 0M478.1 688.6a1.55 1.55 0 1 0 3.1 0a1.55 1.55 0 1 0-3.1 0M380.5 688.6a1.55 1.55 0 1 0 3.1 0a1.55 1.55 0 1 0-3.1 0M398 688.5a1.55 1.55 0 1 0 3.1 0a1.55 1.55 0 1 0-3.1 0M438 688.6a1.55 1.55 0 1 0 3.1 0a1.55 1.55 0 1 0-3.1 0M492.2 688.5a1.55 1.55 0 1 0 3.1 0a1.55 1.55 0 1 0-3.1 0M486.5 688.6a1.55 1.55 0 1 0 3.1 0a1.55 1.55 0 1 0-3.1 0M451.3 688.7a1.55 1.55 0 1 0 3.1 0a1.55 1.55 0 1 0-3.1 0M364 688.9a1.55 1.55 0 1 0 3.1 0a1.55 1.55 0 1 0-3.1 0M374.2 689.2a1.55 1.55 0 1 0 3.1 0a1.55 1.55 0 1 0-3.1 0M461.4 688.3a1.55 1.55 0 1 0 3.1 0a1.55 1.55 0 1 0-3.1 0M487.3 688.7a1.55 1.55 0 1 0 3.1 0a1.55 1.55 0 1 0-3.1 0M329.6 688.7a1.55 1.55 0 1 0 3.1 0a1.55 1.55 0 1 0-3.1 0M355.2 688.3a1.55 1.55 0 1 0 3.1 0a1.55 1.55 0 1 0-3.1 0M459.8 688.6a1.55 1.55 0 1 0 3.1 0a1.55 1.55 0 1 0-3.1 0M333.1 688.6a1.55 1.55 0 1 0 3.1 0a1.55 1.55 0 1 0-3.1 0M411.1 688.6a1.55 1.55 0 1 0 3.1 0a1.55 1.55 0 1 0-3.1 0M339 688.7a1.55 1.55 0 1 0 3.1 0a1.55 1.55 0 1 0-3.1 0M379.6 688.8a1.55 1.55 0 1 0 3.1 0a1.55 1.55 0 1 0-3.1 0M385 688.4a1.55 1.55 0 1 0 3.1 0a1.55 1.55 0 1 0-3.1 0M342.1 688.9a1.55 1.55 0 1 0 3.1 0a1.55 1.55 0 1 0-3.1 0M435.7 688.7a1.55 1.55 0 1 0 3.1 0a1.55 1.55 0 1 0-3.1 0M356.7 688.4a1.55 1.55 0 1 0 3.1 0a1.55 1.55 0 1 0-3.1 0M487.1 688.6a1.55 1.55 0 1 0 3.1 0a1.55 1.55 0 1 0-3.1 0M466.1 688.5a1.55 1.55 0 1 0 3.1 0a1.55 1.55 0 1 0-3.1 0M480.9 688.7a1.55 1.55 0 1 0 3.1 0a1.55 1.55 0 1 0-3.1 0M490.8 688.6a1.55 1.55 0 1 0 3.1 0a1.55 1.55 0 1 0-3.1 0M332.5 688.8a1.55 1.55 0 1 0 3.1 0a1.55 1.55 0 1 0-3.1 0M323.4 688.5a1.55 1.55 0 1 0 3.1 0a1.55 1.55 0 1 0-3.1 0M390.1 688.8a1.55 1.55 0 1 0 3.1 0a1.55 1.55 0 1 0-3.1 0M311.4 688.2a1.55 1.55 0 1 0 3.1 0a1.55 1.55 0 1 0-3.1 0M308.4 688.5a1.55 1.55 0 1 0 3.1 0a1.55 1.55 0 1 0-3.1 0M364.1 688.8a1.55 1.55 0 1 0 3.1 0a1.55 1.55 0 1 0-3.1 0M436 688.8a1.55 1.55 0 1 0 3.1 0a1.55 1.55 0 1 0-3.1 0M344 688.6a1.55 1.55 0 1 0 3.1 0a1.55 1.55 0 1 0-3.1 0M477.4 688.9a1.55 1.55 0 1 0 3.1 0a1.55 1.55 0 1 0-3.1 0M458.7 688.5a1.55 1.55 0 1 0 3.1 0a1.55 1.55 0 1 0-3.1 0M381.1 688.6a1.55 1.55 0 1 0 3.1 0a1.55 1.55 0 1 0-3.1 0M463.3 688.9a1.55 1.55 0 1 0 3.1 0a1.55 1.55 0 1 0-3.1 0M396.3 688.9a1.55 1.55 0 1 0 3.1 0a1.55 1.55 0 1 0-3.1 0M335.9 688.9a1.55 1.55 0 1 0 3.1 0a1.55 1.55 0 1 0-3.1 0M379.1 688.2a1.55 1.55 0 1 0 3.1 0a1.55 1.55 0 1 0-3.1 0M454.8 688.9a1.55 1.55 0 1 0 3.1 0a1.55 1.55 0 1 0-3.1 0M497.5 688.3a1.55 1.55 0 1 0 3.1 0a1.55 1.55 0 1 0-3.1 0M356.3 688.8a1.55 1.55 0 1 0 3.1 0a1.55 1.55 0 1 0-3.1 0M468.7 688.8a1.55 1.55 0 1 0 3.1 0a1.55 1.55 0 1 0-3.1 0M358.3 688.7a1.55 1.55 0 1 0 3.1 0a1.55 1.55 0 1 0-3.1 0M483.2 688.7a1.55 1.55 0 1 0 3.1 0a1.55 1.55 0 1 0-3.1 0M394.8 688.6a1.55 1.55 0 1 0 3.1 0a1.55 1.55 0 1 0-3.1 0M379.9 688.8a1.55 1.55 0 1 0 3.1 0a1.55 1.55 0 1 0-3.1 0M436.5 688.4a1.55 1.55 0 1 0 3.1 0a1.55 1.55 0 1 0-3.1 0M490.7 688.1a1.55 1.55 0 1 0 3.1 0a1.55 1.55 0 1 0-3.1 0M475.6 689.1a1.55 1.55 0 1 0 3.1 0a1.55 1.55 0 1 0-3.1 0M455.8 689.1a1.55 1.55 0 1 0 3.1 0a1.55 1.55 0 1 0-3.1 0M424.2 688.6a1.55 1.55 0 1 0 3.1 0a1.55 1.55 0 1 0-3.1 0M465.3 689.1a1.55 1.55 0 1 0 3.1 0a1.55 1.55 0 1 0-3.1 0M464.1 688a1.55 1.55 0 1 0 3.1 0a1.55 1.55 0 1 0-3.1 0M365.4 689a1.55 1.55 0 1 0 3.1 0a1.55 1.55 0 1 0-3.1 0M416 689.3a1.55 1.55 0 1 0 3.1 0a1.55 1.55 0 1 0-3.1 0M598.6 688.3a1.55 1.55 0 1 0 3.1 0a1.55 1.55 0 1 0-3.1 0M604 688.3a1.55 1.55 0 1 0 3.1 0a1.55 1.55 0 1 0-3.1 0M602.2 689a1.55 1.55 0 1 0 3.1 0a1.55 1.55 0 1 0-3.1 0M528.7 688.3a1.55 1.55 0 1 0 3.1 0a1.55 1.55 0 1 0-3.1 0M590.6 688.2a1.55 1.55 0 1 0 3.1 0a1.55 1.55 0 1 0-3.1 0M595.3 688.4a1.55 1.55 0 1 0 3.1 0a1.55 1.55 0 1 0-3.1 0M593.6 688.9a1.55 1.55 0 1 0 3.1 0a1.55 1.55 0 1 0-3.1 0M563.3 688.3a1.55 1.55 0 1 0 3.1 0a1.55 1.55 0 1 0-3.1 0M534.7 688.4a1.55 1.55 0 1 0 3.1 0a1.55 1.55 0 1 0-3.1 0M576 688.4a1.55 1.55 0 1 0 3.1 0a1.55 1.55 0 1 0-3.1 0M561.1 688.5a1.55 1.55 0 1 0 3.1 0a1.55 1.55 0 1 0-3.1 0M596.8 688.1a1.55 1.55 0 1 0 3.1 0a1.55 1.55 0 1 0-3.1 0M528.8 688.4a1.55 1.55 0 1 0 3.1 0a1.55 1.55 0 1 0-3.1 0M593.3 688.8a1.55 1.55 0 1 0 3.1 0a1.55 1.55 0 1 0-3.1 0M287.6 696.5a1.55 1.55 0 1 0 3.1 0a1.55 1.55 0 1 0-3.1 0M304.7 697.1a1.55 1.55 0 1 0 3.1 0a1.55 1.55 0 1 0-3.1 0M337.9 697.2a1.55 1.55 0 1 0 3.1 0a1.55 1.55 0 1 0-3.1 0M263.6 697.4a1.55 1.55 0 1 0 3.1 0a1.55 1.55 0 1 0-3.1 0M260.8 696.9a1.55 1.55 0 1 0 3.1 0a1.55 1.55 0 1 0-3.1 0M391.2 696.6a1.55 1.55 0 1 0 3.1 0a1.55 1.55 0 1 0-3.1 0M602.1 697.1a1.55 1.55 0 1 0 3.1 0a1.55 1.55 0 1 0-3.1 0M588 697.1a1.55 1.55 0 1 0 3.1 0a1.55 1.55 0 1 0-3.1 0M470.3 696.7a1.55 1.55 0 1 0 3.1 0a1.55 1.55 0 1 0-3.1 0M558.2 697a1.55 1.55 0 1 0 3.1 0a1.55 1.55 0 1 0-3.1 0M488.9 697.3a1.55 1.55 0 1 0 3.1 0a1.55 1.55 0 1 0-3.1 0M178.9 704a1.55 1.55 0 1 0 3.1 0a1.55 1.55 0 1 0-3.1 0M196.2 704.3a1.55 1.55 0 1 0 3.1 0a1.55 1.55 0 1 0-3.1 0M152.9 704.4a1.55 1.55 0 1 0 3.1 0a1.55 1.55 0 1 0-3.1 0M192.4 704.5a1.55 1.55 0 1 0 3.1 0a1.55 1.55 0 1 0-3.1 0M283.4 703.9a1.55 1.55 0 1 0 3.1 0a1.55 1.55 0 1 0-3.1 0M312.6 704.8a1.55 1.55 0 1 0 3.1 0a1.55 1.55 0 1 0-3.1 0M439.6 713.4a1.55 1.55 0 1 0 3.1 0a1.55 1.55 0 1 0-3.1 0M443.9 713.4a1.55 1.55 0 1 0 3.1 0a1.55 1.55 0 1 0-3.1 0M589.8 713.7a1.55 1.55 0 1 0 3.1 0a1.55 1.55 0 1 0-3.1 0" fill="#8c0a8c"/>
<path d="M111.7 642.7L102.2 648.2L98 653.6L96.7 667.2L98 672.7L107.6 675.4L121.2 680.9L132.1 686.3L148.5 689.6L304 691.8L514 694.6L626 695.2L682 694.6L704.5 693.2L721.3 690.4L725.5 682L724 668L710 655.4L693.3 649.8L682 647.8L514 646.2L304 644.9L115.8 643.7Z" stroke="#22ee22" stroke-width="3.2" fill="none" stroke-dasharray="10.7 4.9" stroke-linejoin="round"/>
<path d="M125.3 689.5L118 695L113 701L112 712L115 719L121.2 724.5L134.9 738L148.5 749L158 756.6L175.7 760L208.4 764L230.2 766.7L254.8 770.2L284.7 768L304 767.2L358.5 765.3L413 762.6L467.5 758.5L514 753.4L542 749.2L570 746L598 739.4L617.6 733.8L624.6 722.6L626 715.6L623.2 708.6L617.6 701.6L598 699.7L570 697.4L542 696L514 695.2L304 691.5Z" stroke="#ffee00" stroke-width="3.6" fill="none" stroke-dasharray="12 6" stroke-linejoin="round"/>
<rect x="94.3" y="640.3" width="633.5" height="203.7" fill="none" stroke="#111" stroke-width="1.6"/>
<path d="M83.5 836.4H94.3M83.5 805H94.3M83.5 773.6H94.3M83.5 742.2H94.3M83.5 710.8H94.3M83.5 679.4H94.3M83.5 648H94.3M118.1 844v7.5M236.5 844v7.5M354.9 844v7.5M473.3 844v7.5M591.7 844v7.5M710.1 844v7.5" stroke="#111" stroke-width="1.4"/>
<text x="77.5" y="836.4" font-size="12.5" text-anchor="middle" textLength="12.6" lengthAdjust="spacingAndGlyphs" transform="rotate(-90 77.5 836.4)" stroke="#000" stroke-width="0.15">70</text>
<text x="77.5" y="805" font-size="12.5" text-anchor="middle" textLength="12.6" lengthAdjust="spacingAndGlyphs" transform="rotate(-90 77.5 805)" stroke="#000" stroke-width="0.15">75</text>
<text x="77.5" y="773.6" font-size="12.5" text-anchor="middle" textLength="12.6" lengthAdjust="spacingAndGlyphs" transform="rotate(-90 77.5 773.6)" stroke="#000" stroke-width="0.15">80</text>
<text x="77.5" y="742.2" font-size="12.5" text-anchor="middle" textLength="12.6" lengthAdjust="spacingAndGlyphs" transform="rotate(-90 77.5 742.2)" stroke="#000" stroke-width="0.15">85</text>
<text x="77.5" y="710.8" font-size="12.5" text-anchor="middle" textLength="12.6" lengthAdjust="spacingAndGlyphs" transform="rotate(-90 77.5 710.8)" stroke="#000" stroke-width="0.15">90</text>
<text x="77.5" y="679.4" font-size="12.5" text-anchor="middle" textLength="12.6" lengthAdjust="spacingAndGlyphs" transform="rotate(-90 77.5 679.4)" stroke="#000" stroke-width="0.15">95</text>
<text x="77.5" y="648" font-size="12.5" text-anchor="middle" textLength="18.9" lengthAdjust="spacingAndGlyphs" transform="rotate(-90 77.5 648)" stroke="#000" stroke-width="0.15">100</text>
<text x="118.1" y="865.5" font-size="13.4" text-anchor="middle" textLength="7.3" lengthAdjust="spacingAndGlyphs" stroke="#000" stroke-width="0.15">0</text>
<text x="236.5" y="865.5" font-size="13.4" text-anchor="middle" textLength="21.9" lengthAdjust="spacingAndGlyphs" stroke="#000" stroke-width="0.15">200</text>
<text x="354.9" y="865.5" font-size="13.4" text-anchor="middle" textLength="21.9" lengthAdjust="spacingAndGlyphs" stroke="#000" stroke-width="0.15">400</text>
<text x="473.3" y="865.5" font-size="13.4" text-anchor="middle" textLength="21.9" lengthAdjust="spacingAndGlyphs" stroke="#000" stroke-width="0.15">600</text>
<text x="591.7" y="865.5" font-size="13.4" text-anchor="middle" textLength="21.9" lengthAdjust="spacingAndGlyphs" stroke="#000" stroke-width="0.15">800</text>
<text x="710.1" y="865.5" font-size="13.4" text-anchor="middle" textLength="29.2" lengthAdjust="spacingAndGlyphs" stroke="#000" stroke-width="0.15">1000</text>
<text x="374.7" y="877.4" font-size="13.4" textLength="80.6" lengthAdjust="spacingAndGlyphs" stroke="#000" stroke-width="0.2">Read length</text>
<text x="40" y="742.3" font-size="13.4" text-anchor="middle" textLength="147.4" lengthAdjust="spacingAndGlyphs" transform="rotate(-90 40 742.3)" stroke="#000" stroke-width="0.2">Percentage of identity</text>
<circle cx="492.8" cy="801" r="3" fill="#f0a050"/><circle cx="492.8" cy="814.7" r="3" fill="#f2e600"/><circle cx="492.8" cy="828.2" r="3" fill="#9a0a8a"/>
<text x="500.9" y="805.9" font-size="11" textLength="205.7" lengthAdjust="spacingAndGlyphs" stroke="#000" stroke-width="0.1">Mapped reads with no annotations (596)</text>
<text x="500.9" y="819.7" font-size="11" textLength="224.6" lengthAdjust="spacingAndGlyphs" stroke="#000" stroke-width="0.1">Mapped reads with partial annotations (471)</text>
<text x="500.9" y="832.9" font-size="11" textLength="214.1" lengthAdjust="spacingAndGlyphs" stroke="#000" stroke-width="0.1">Mapped reads with full annotations (2748)</text>
</svg></body></html>
